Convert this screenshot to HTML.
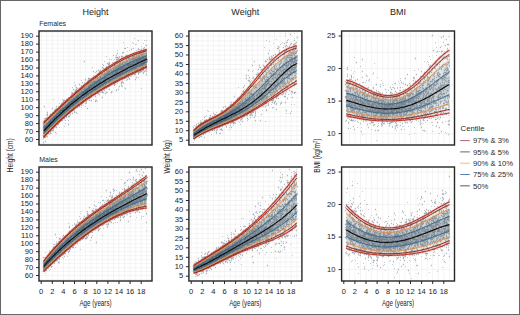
<!DOCTYPE html>
<html><head><meta charset="utf-8"><style>
html,body{margin:0;padding:0;background:#fff;}
body{width:520px;height:315px;overflow:hidden;font-family:"Liberation Sans",sans-serif;}
.wrap{position:relative;width:518px;height:313px;border:1px solid #666;background:#fff;}
svg{position:absolute;left:-1px;top:-1px;}
</style></head><body><div class="wrap">
<svg width="520" height="315" viewBox="0 0 520 315" xmlns="http://www.w3.org/2000/svg">
<path d="M41.2 31V145M46.8 31V145M52.3 31V145M57.9 31V145M63.4 31V145M69 31V145M74.5 31V145M80.1 31V145M85.6 31V145M91.2 31V145M96.8 31V145M102.3 31V145M107.9 31V145M113.4 31V145M119 31V145M124.5 31V145M130.1 31V145M135.7 31V145M141.2 31V145M146.8 31V145M39 143.5H152M39 139.5H152M39 135.5H152M39 131.6H152M39 127.6H152M39 123.6H152M39 119.6H152M39 115.7H152M39 111.7H152M39 107.7H152M39 103.7H152M39 99.8H152M39 95.8H152M39 91.8H152M39 87.9H152M39 83.9H152M39 79.9H152M39 75.9H152M39 72H152M39 68H152M39 64H152M39 60H152M39 56.1H152M39 52.1H152M39 48.1H152M39 44.1H152M39 40.2H152M39 36.2H152M39 32.2H152" stroke="#ebebeb" stroke-width="0.55" fill="none"/>
<path d="M191.2 31V145M196.8 31V145M202.3 31V145M207.9 31V145M213.4 31V145M219 31V145M224.5 31V145M230.1 31V145M235.6 31V145M241.2 31V145M246.8 31V145M252.3 31V145M257.9 31V145M263.4 31V145M269 31V145M274.5 31V145M280.1 31V145M285.7 31V145M291.2 31V145M296.8 31V145M188.9 144.9H301.9M188.9 140.2H301.9M188.9 135.5H301.9M188.9 130.7H301.9M188.9 126H301.9M188.9 121.3H301.9M188.9 116.5H301.9M188.9 111.8H301.9M188.9 107.1H301.9M188.9 102.3H301.9M188.9 97.6H301.9M188.9 92.9H301.9M188.9 88.2H301.9M188.9 83.4H301.9M188.9 78.7H301.9M188.9 74H301.9M188.9 69.2H301.9M188.9 64.5H301.9M188.9 59.8H301.9M188.9 55H301.9M188.9 50.3H301.9M188.9 45.6H301.9M188.9 40.8H301.9M188.9 36.1H301.9M188.9 31.4H301.9" stroke="#ebebeb" stroke-width="0.55" fill="none"/>
<path d="M343.8 31V145M349.4 31V145M354.9 31V145M360.5 31V145M366 31V145M371.6 31V145M377.1 31V145M382.7 31V145M388.2 31V145M393.8 31V145M399.4 31V145M404.9 31V145M410.5 31V145M416 31V145M421.6 31V145M427.1 31V145M432.7 31V145M438.3 31V145M443.8 31V145M449.4 31V145M341.6 133.6H454.5M341.6 117.3H454.5M341.6 101.1H454.5M341.6 84.8H454.5M341.6 68.5H454.5M341.6 52.3H454.5M341.6 36H454.5" stroke="#ebebeb" stroke-width="0.55" fill="none"/>
<path d="M41.2 167V281M46.8 167V281M52.3 167V281M57.9 167V281M63.4 167V281M69 167V281M74.5 167V281M80.1 167V281M85.6 167V281M91.2 167V281M96.8 167V281M102.3 167V281M107.9 167V281M113.4 167V281M119 167V281M124.5 167V281M130.1 167V281M135.7 167V281M141.2 167V281M146.8 167V281M39 279.5H152M39 275.5H152M39 271.5H152M39 267.6H152M39 263.6H152M39 259.6H152M39 255.6H152M39 251.7H152M39 247.7H152M39 243.7H152M39 239.7H152M39 235.8H152M39 231.8H152M39 227.8H152M39 223.9H152M39 219.9H152M39 215.9H152M39 211.9H152M39 208H152M39 204H152M39 200H152M39 196H152M39 192.1H152M39 188.1H152M39 184.1H152M39 180.1H152M39 176.2H152M39 172.2H152M39 168.2H152" stroke="#ebebeb" stroke-width="0.55" fill="none"/>
<path d="M191.2 167V281M196.8 167V281M202.3 167V281M207.9 167V281M213.4 167V281M219 167V281M224.5 167V281M230.1 167V281M235.6 167V281M241.2 167V281M246.8 167V281M252.3 167V281M257.9 167V281M263.4 167V281M269 167V281M274.5 167V281M280.1 167V281M285.7 167V281M291.2 167V281M296.8 167V281M188.9 280.9H301.9M188.9 276.2H301.9M188.9 271.5H301.9M188.9 266.7H301.9M188.9 262H301.9M188.9 257.3H301.9M188.9 252.5H301.9M188.9 247.8H301.9M188.9 243.1H301.9M188.9 238.3H301.9M188.9 233.6H301.9M188.9 228.9H301.9M188.9 224.2H301.9M188.9 219.4H301.9M188.9 214.7H301.9M188.9 210H301.9M188.9 205.2H301.9M188.9 200.5H301.9M188.9 195.8H301.9M188.9 191H301.9M188.9 186.3H301.9M188.9 181.6H301.9M188.9 176.8H301.9M188.9 172.1H301.9M188.9 167.4H301.9" stroke="#ebebeb" stroke-width="0.55" fill="none"/>
<path d="M343.8 167V281M349.4 167V281M354.9 167V281M360.5 167V281M366 167V281M371.6 167V281M377.1 167V281M382.7 167V281M388.2 167V281M393.8 167V281M399.4 167V281M404.9 167V281M410.5 167V281M416 167V281M421.6 167V281M427.1 167V281M432.7 167V281M438.3 167V281M443.8 167V281M449.4 167V281M341.6 269.6H454.5M341.6 253.3H454.5M341.6 237.1H454.5M341.6 220.8H454.5M341.6 204.5H454.5M341.6 188.3H454.5M341.6 172H454.5" stroke="#ebebeb" stroke-width="0.55" fill="none"/>
<linearGradient id="g0097" gradientUnits="userSpaceOnUse" x1="43.7" y1="0" x2="146.8" y2="0"><stop offset="0.000" stop-color="#2c4555" stop-opacity="0.207"/><stop offset="0.073" stop-color="#2c4555" stop-opacity="0.219"/><stop offset="0.145" stop-color="#2c4555" stop-opacity="0.223"/><stop offset="0.218" stop-color="#2c4555" stop-opacity="0.220"/><stop offset="0.291" stop-color="#2c4555" stop-opacity="0.212"/><stop offset="0.364" stop-color="#2c4555" stop-opacity="0.201"/><stop offset="0.436" stop-color="#2c4555" stop-opacity="0.190"/><stop offset="0.509" stop-color="#2c4555" stop-opacity="0.179"/><stop offset="0.582" stop-color="#2c4555" stop-opacity="0.170"/><stop offset="0.655" stop-color="#2c4555" stop-opacity="0.164"/><stop offset="0.727" stop-color="#2c4555" stop-opacity="0.160"/><stop offset="0.800" stop-color="#2c4555" stop-opacity="0.159"/><stop offset="0.873" stop-color="#2c4555" stop-opacity="0.162"/><stop offset="0.945" stop-color="#2c4555" stop-opacity="0.170"/></linearGradient>
<path d="M43.7 122.1 45.6 120.3 47.4 118.5 49.3 116.8 51.2 115 53.1 113.2 54.9 111.4 56.8 109.7 58.7 107.9 60.6 106.2 62.4 104.4 64.3 102.7 66.2 101 68.1 99.2 69.9 97.6 71.8 95.9 73.7 94.2 75.6 92.5 77.4 90.9 79.3 89.3 81.2 87.7 83.1 86.1 84.9 84.5 86.8 83 88.7 81.4 90.5 79.9 92.4 78.5 94.3 77 96.2 75.6 98 74.2 99.9 72.8 101.8 71.4 103.7 70.1 105.5 68.8 107.4 67.5 109.3 66.3 111.2 65.1 113 63.9 114.9 62.8 116.8 61.7 118.7 60.7 120.5 59.6 122.4 58.6 124.3 57.7 126.2 56.8 128 55.9 129.9 55.1 131.8 54.3 133.6 53.5 135.5 52.8 137.4 52.2 139.3 51.6 141.1 51 143 50.5 144.9 50 146.8 49.6 146.8 67.3 144.9 68.1 143 69 141.1 69.8 139.3 70.7 137.4 71.6 135.5 72.4 133.6 73.3 131.8 74.2 129.9 75.1 128 76 126.2 76.9 124.3 77.9 122.4 78.8 120.5 79.7 118.7 80.7 116.8 81.7 114.9 82.7 113 83.7 111.2 84.7 109.3 85.7 107.4 86.7 105.5 87.8 103.7 88.9 101.8 90 99.9 91.1 98 92.3 96.2 93.4 94.3 94.6 92.4 95.8 90.5 97.1 88.7 98.3 86.8 99.6 84.9 100.9 83.1 102.2 81.2 103.6 79.3 105 77.4 106.4 75.6 107.8 73.7 109.3 71.8 110.8 69.9 112.3 68.1 113.9 66.2 115.5 64.3 117.2 62.4 118.8 60.6 120.5 58.7 122.3 56.8 124 54.9 125.8 53.1 127.7 51.2 129.6 49.3 131.5 47.4 133.5 45.6 135.5 43.7 137.5 Z" fill="url(#g0097)"/>
<linearGradient id="g0090" gradientUnits="userSpaceOnUse" x1="43.7" y1="0" x2="146.8" y2="0"><stop offset="0.000" stop-color="#2c4555" stop-opacity="0.332"/><stop offset="0.073" stop-color="#2c4555" stop-opacity="0.350"/><stop offset="0.145" stop-color="#2c4555" stop-opacity="0.356"/><stop offset="0.218" stop-color="#2c4555" stop-opacity="0.351"/><stop offset="0.291" stop-color="#2c4555" stop-opacity="0.338"/><stop offset="0.364" stop-color="#2c4555" stop-opacity="0.321"/><stop offset="0.436" stop-color="#2c4555" stop-opacity="0.303"/><stop offset="0.509" stop-color="#2c4555" stop-opacity="0.286"/><stop offset="0.582" stop-color="#2c4555" stop-opacity="0.272"/><stop offset="0.655" stop-color="#2c4555" stop-opacity="0.262"/><stop offset="0.727" stop-color="#2c4555" stop-opacity="0.255"/><stop offset="0.800" stop-color="#2c4555" stop-opacity="0.254"/><stop offset="0.873" stop-color="#2c4555" stop-opacity="0.259"/><stop offset="0.945" stop-color="#2c4555" stop-opacity="0.272"/></linearGradient>
<path d="M43.7 125 45.6 123.1 47.4 121.2 49.3 119.4 51.2 117.5 53.1 115.7 54.9 113.9 56.8 112.1 58.7 110.3 60.6 108.6 62.4 106.8 64.3 105.1 66.2 103.4 68.1 101.7 69.9 100.1 71.8 98.4 73.7 96.8 75.6 95.2 77.4 93.6 79.3 92 81.2 90.5 83.1 88.9 84.9 87.4 86.8 85.9 88.7 84.5 90.5 83.1 92.4 81.6 94.3 80.3 96.2 78.9 98 77.5 99.9 76.2 101.8 74.9 103.7 73.7 105.5 72.4 107.4 71.2 109.3 70 111.2 68.9 113 67.8 114.9 66.7 116.8 65.6 118.7 64.5 120.5 63.5 122.4 62.5 124.3 61.6 126.2 60.7 128 59.8 129.9 58.9 131.8 58.1 133.6 57.3 135.5 56.5 137.4 55.8 139.3 55.1 141.1 54.4 143 53.8 144.9 53.2 146.8 52.6 146.8 64.7 144.9 65.5 143 66.4 141.1 67.3 139.3 68.1 137.4 69 135.5 69.9 133.6 70.8 131.8 71.7 129.9 72.6 128 73.5 126.2 74.4 124.3 75.3 122.4 76.3 120.5 77.2 118.7 78.2 116.8 79.2 114.9 80.2 113 81.2 111.2 82.2 109.3 83.3 107.4 84.3 105.5 85.4 103.7 86.5 101.8 87.6 99.9 88.7 98 89.9 96.2 91.1 94.3 92.3 92.4 93.5 90.5 94.7 88.7 96 86.8 97.3 84.9 98.6 83.1 99.9 81.2 101.3 79.3 102.7 77.4 104.1 75.6 105.6 73.7 107.1 71.8 108.6 69.9 110.1 68.1 111.7 66.2 113.3 64.3 115 62.4 116.7 60.6 118.4 58.7 120.1 56.8 121.9 54.9 123.7 53.1 125.6 51.2 127.5 49.3 129.4 47.4 131.4 45.6 133.4 43.7 135.5 Z" fill="url(#g0090)"/>
<linearGradient id="g0075" gradientUnits="userSpaceOnUse" x1="43.7" y1="0" x2="146.8" y2="0"><stop offset="0.000" stop-color="#2c4555" stop-opacity="0.415"/><stop offset="0.073" stop-color="#2c4555" stop-opacity="0.438"/><stop offset="0.145" stop-color="#2c4555" stop-opacity="0.446"/><stop offset="0.218" stop-color="#2c4555" stop-opacity="0.439"/><stop offset="0.291" stop-color="#2c4555" stop-opacity="0.423"/><stop offset="0.364" stop-color="#2c4555" stop-opacity="0.402"/><stop offset="0.436" stop-color="#2c4555" stop-opacity="0.379"/><stop offset="0.509" stop-color="#2c4555" stop-opacity="0.358"/><stop offset="0.582" stop-color="#2c4555" stop-opacity="0.340"/><stop offset="0.655" stop-color="#2c4555" stop-opacity="0.327"/><stop offset="0.727" stop-color="#2c4555" stop-opacity="0.319"/><stop offset="0.800" stop-color="#2c4555" stop-opacity="0.317"/><stop offset="0.873" stop-color="#2c4555" stop-opacity="0.323"/><stop offset="0.945" stop-color="#2c4555" stop-opacity="0.339"/></linearGradient>
<path d="M43.7 127.9 45.6 125.9 47.4 124 49.3 122 51.2 120.1 53.1 118.3 54.9 116.4 56.8 114.6 58.7 112.8 60.6 111 62.4 109.3 64.3 107.6 66.2 105.9 68.1 104.2 69.9 102.6 71.8 101 73.7 99.4 75.6 97.8 77.4 96.3 79.3 94.8 81.2 93.3 83.1 91.8 84.9 90.4 86.8 89 88.7 87.6 90.5 86.2 92.4 84.9 94.3 83.5 96.2 82.2 98 81 99.9 79.7 101.8 78.5 103.7 77.3 105.5 76.1 107.4 75 109.3 73.8 111.2 72.7 113 71.6 114.9 70.6 116.8 69.5 118.7 68.5 120.5 67.5 122.4 66.5 124.3 65.5 126.2 64.6 128 63.7 129.9 62.8 131.8 61.9 133.6 61.1 135.5 60.3 137.4 59.4 139.3 58.7 141.1 57.9 143 57.1 144.9 56.4 146.8 55.7 146.8 62 144.9 62.9 143 63.8 141.1 64.6 139.3 65.5 137.4 66.4 135.5 67.3 133.6 68.2 131.8 69.1 129.9 70 128 70.9 126.2 71.8 124.3 72.8 122.4 73.7 120.5 74.7 118.7 75.7 116.8 76.7 114.9 77.7 113 78.7 111.2 79.7 109.3 80.8 107.4 81.8 105.5 82.9 103.7 84 101.8 85.2 99.9 86.3 98 87.5 96.2 88.7 94.3 89.9 92.4 91.1 90.5 92.3 88.7 93.6 86.8 94.9 84.9 96.3 83.1 97.6 81.2 99 79.3 100.4 77.4 101.9 75.6 103.3 73.7 104.8 71.8 106.3 69.9 107.9 68.1 109.5 66.2 111.1 64.3 112.8 62.4 114.5 60.6 116.2 58.7 118 56.8 119.8 54.9 121.6 53.1 123.5 51.2 125.4 49.3 127.3 47.4 129.3 45.6 131.4 43.7 133.4 Z" fill="url(#g0075)"/>
<path d="M108 85h1M136 70h1M123 64h1M66 99h1M74 98h1M134 59h1M43 122h1M128 67h1M126 59h1M91 81h1M74 105h1M72 100h1M69 105h1M89 93h1M95 89h1M100 80h1M146 59h1M125 63h1M107 86h1M146 64h1M65 104h1M59 114h1M106 82h1M47 128h1M46 134h1M96 91h1M91 85h1M138 62h1M108 69h1M96 86h1M94 87h1M68 124h1M44 130h1M63 102h1M115 70h1M64 111h1M81 89h1M43 126h1M129 64h1M59 116h1M71 103h1M134 54h1M96 89h1M131 62h1M109 74h1M120 62h1M52 115h1M99 88h1M96 76h1M133 64h1M80 99h1M105 76h1M49 125h1M83 88h1M76 105h1M58 119h1M128 69h1M82 86h1M145 49h1M104 85h1M106 92h1M109 79h1M113 81h1M58 112h1M89 89h1M68 106h1M85 95h1M53 114h1M143 64h1M65 114h1M113 67h1M74 95h1M134 66h1M112 71h1M56 106h1M131 70h1M141 62h1M137 60h1M102 97h1M58 116h1M63 108h1M139 63h1M100 76h1M61 109h1M135 66h1M109 73h1M102 79h1M82 102h1M85 96h1M68 110h1M47 129h1M134 67h1M91 94h1M100 83h1M76 112h1M121 64h1M45 127h1M81 88h1M46 126h1M55 120h1M143 67h1M111 72h1M87 91h1M97 82h1M134 56h1M79 92h1M104 80h1M114 63h1M80 97h1M97 85h1M122 66h1M137 52h1M58 109h1M140 70h1M43 124h1M121 83h1M127 71h1M57 115h1M86 86h1M128 72h1M44 136h1M108 72h1M125 67h1M96 90h1M118 74h1M66 116h1M63 108h1M80 98h1M61 107h1M79 106h1M141 56h1M102 67h1M78 97h1M71 103h1M142 70h1M89 88h1M145 59h1M96 88h1M97 91h1M136 63h1M120 76h1M103 83h1M87 90h1M134 65h1M86 92h1M139 52h1M50 131h1M87 83h1M97 90h1M142 65h1M69 105h1M127 63h1M113 74h1M117 75h1M108 81h1M144 61h1M77 105h1M84 90h1M64 111h1M48 118h1M65 112h1M138 63h1M130 63h1M54 123h1M106 82h1M93 71h1M105 80h1M111 66h1M75 105h1M143 72h1M91 83h1M108 78h1M109 75h1M62 114h1M49 127h1M86 98h1M122 63h1M128 75h1M119 66h1M54 120h1M138 72h1M126 71h1M134 58h1M97 80h1M138 59h1M48 125h1M46 132h1M45 122h1M69 107h1M69 108h1M62 115h1M102 84h1M47 132h1M104 82h1M60 119h1M113 78h1M45 135h1M75 85h1M140 67h1M99 82h1M127 64h1M111 70h1M106 67h1M63 109h1M102 77h1M47 129h1M126 58h1M143 67h1M132 67h1M48 124h1M78 95h1M76 96h1M54 110h1M108 74h1M126 68h1M75 99h1M133 56h1M126 67h1M56 113h1M123 71h1M135 73h1M63 113h1M102 79h1M109 66h1M106 70h1M53 113h1M112 79h1M108 73h1M128 67h1M126 64h1M77 99h1M118 79h1M133 60h1M136 61h1M59 110h1M45 131h1M110 70h1M65 104h1M101 73h1M141 52h1M82 97h1M69 116h1M90 80h1M111 80h1M53 121h1M82 89h1M57 115h1M112 74h1M129 62h1M82 103h1M81 86h1M99 85h1M65 110h1M68 103h1M77 99h1M90 93h1M51 123h1M121 73h1M103 84h1M74 92h1M51 128h1M122 81h1M56 121h1M57 121h1M56 111h1M51 122h1M137 58h1M71 101h1M75 105h1M129 61h1M107 78h1M62 103h1M88 90h1M135 65h1M82 92h1M117 68h1M53 128h1M118 64h1M124 62h1M129 61h1M113 81h1M81 104h1M49 125h1M97 80h1M122 68h1M63 115h1M70 100h1M98 90h1M121 77h1M136 64h1M56 120h1M62 115h1M126 75h1M110 70h1M118 78h1M146 56h1M140 53h1M130 67h1M124 68h1M84 88h1M109 66h1M62 107h1M122 82h1M122 86h1M118 75h1M89 98h1M82 92h1M86 91h1M46 128h1M131 59h1M99 73h1M83 95h1M100 81h1M118 65h1M82 97h1M129 65h1M138 67h1M83 94h1M57 115h1M122 71h1M146 58h1M58 112h1M117 70h1M129 70h1M139 65h1M55 123h1M52 108h1M146 57h1M55 117h1M61 113h1M103 78h1M89 87h1M121 75h1M62 112h1M138 55h1M65 114h1M123 74h1M50 121h1M92 91h1M46 124h1M75 105h1M75 99h1M118 67h1M90 86h1M49 121h1M146 59h1M135 65h1M138 63h1M68 103h1M84 61h1M66 108h1M56 109h1M46 128h1M95 94h1M55 119h1M61 111h1M132 64h1M93 86h1M62 109h1M112 71h1M70 100h1M98 93h1M72 103h1M96 89h1M108 76h1M99 84h1M84 93h1M125 71h1M134 68h1M61 113h1M57 113h1M54 113h1M145 67h1M141 59h1M67 106h1M144 71h1M64 117h1M95 90h1M94 84h1M138 73h1M47 129h1M75 102h1M105 79h1M50 117h1M67 101h1M91 90h1M134 66h1M122 69h1M129 59h1M122 60h1M116 71h1M131 49h1M114 79h1M119 77h1M74 112h1M60 117h1M121 66h1M60 110h1M138 40h1M105 76h1M77 98h1M140 66h1M59 117h1M96 88h1M52 122h1M143 63h1M103 92h1M126 61h1M72 101h1M126 59h1M116 81h1M110 83h1M142 64h1M88 84h1M86 93h1M115 73h1M130 67h1M78 97h1M112 78h1M64 108h1M100 86h1M123 72h1M49 122h1M118 71h1M44 126h1M142 67h1M91 87h1M85 94h1M118 70h1M97 76h1M119 76h1M51 117h1M101 85h1M101 84h1M140 51h1M47 119h1M90 86h1M108 72h1M100 70h1M50 126h1M104 78h1M66 110h1M63 109h1M134 66h1M63 107h1M90 89h1M121 75h1M116 74h1M100 80h1M127 55h1M91 89h1M107 80h1M128 66h1M113 70h1M110 80h1M85 103h1M101 80h1M84 95h1M120 73h1M82 82h1M91 89h1M121 66h1M95 96h1M78 97h1M129 62h1M82 94h1M131 67h1M124 65h1M89 89h1M117 57h1M46 126h1M83 97h1M132 74h1M103 84h1M101 83h1M112 81h1M113 80h1M103 88h1M86 96h1M62 111h1M73 103h1M73 103h1M88 92h1M147 59h1M79 93h1M89 78h1M81 92h1M103 68h1M141 61h1M135 64h1M82 86h1M70 107h1M135 68h1M94 87h1M114 82h1M50 130h1M133 57h1M75 104h1M94 90h1M63 112h1M86 96h1M129 62h1M129 63h1M92 83h1M123 65h1M90 88h1M82 88h1M100 77h1M64 112h1M76 100h1M116 75h1M123 57h1M49 121h1M119 65h1M128 68h1M89 87h1M49 128h1M114 74h1M68 106h1M110 77h1M82 98h1M109 74h1M70 109h1M92 90h1M97 85h1M108 78h1M64 112h1M143 65h1M73 106h1M75 102h1M69 108h1M50 124h1M87 97h1M123 70h1M117 59h1M63 116h1M57 117h1M76 90h1M123 68h1M93 82h1M139 72h1M111 78h1M107 68h1M123 73h1M121 68h1M78 105h1M69 100h1M88 78h1M94 87h1M57 114h1M89 88h1M109 63h1M57 118h1M57 123h1M61 104h1M72 107h1M143 57h1M45 137h1M62 113h1M60 113h1M92 93h1M44 131h1M90 83h1M60 116h1M71 101h1M125 56h1M62 120h1M107 75h1M85 90h1M86 93h1M128 57h1M59 108h1M139 59h1M136 60h1M112 76h1M48 133h1M112 73h1M105 82h1M123 73h1M65 104h1M142 62h1M135 58h1M55 123h1M75 102h1M46 128h1M129 57h1M138 63h1M146 55h1M106 82h1M112 75h1M113 69h1M102 86h1M142 64h1M106 75h1M78 103h1M96 83h1M45 126h1M118 73h1M115 69h1M87 89h1M131 65h1M121 82h1M78 104h1M51 121h1M56 127h1M62 111h1M74 102h1M89 93h1M139 63h1M72 113h1M136 64h1M114 67h1M132 72h1M85 91h1M43 129h1M125 48h1M68 110h1M57 119h1M126 75h1M114 79h1M65 120h1M71 104h1M140 66h1M71 101h1M116 69h1M56 121h1M128 69h1M55 112h1M96 87h1M46 126h1M100 78h1M131 68h1M51 120h1M71 96h1M122 62h1M106 87h1M75 93h1M108 79h1M90 92h1M132 68h1M73 96h1M122 68h1M109 78h1M120 75h1M82 92h1M118 64h1M115 78h1M83 99h1M45 131h1M143 57h1M117 75h1M64 110h1M119 78h1M72 97h1M92 89h1M132 63h1M89 84h1M73 103h1M74 101h1M51 121h1M66 110h1M71 97h1M61 112h1M49 126h1M91 90h1M65 113h1M120 63h1M139 53h1M71 104h1M102 85h1M95 101h1M50 125h1M56 114h1M135 68h1M92 83h1M126 58h1M50 133h1M105 81h1M133 68h1M133 67h1M43 142h1M97 87h1M81 104h1M122 63h1M50 117h1M70 110h1M127 74h1M92 90h1M90 91h1M144 61h1M76 96h1M47 132h1M84 97h1M59 117h1M51 123h1M102 86h1M142 63h1M103 84h1M110 69h1M76 101h1M102 91h1M121 67h1M104 79h1M126 72h1M100 87h1M63 113h1M103 70h1M94 89h1M60 105h1M107 73h1M128 70h1M57 115h1M99 87h1M119 86h1M85 96h1M71 109h1M81 91h1M99 79h1M114 67h1M101 79h1M54 114h1M128 63h1M139 61h1M53 115h1M69 99h1M61 107h1M131 68h1M137 63h1M47 130h1M77 103h1M63 109h1M92 91h1M139 53h1M50 132h1M60 118h1M93 86h1M97 77h1M120 73h1M88 80h1M57 112h1M79 100h1M145 60h1M121 67h1M55 122h1M127 61h1M75 101h1M124 66h1M44 125h1M133 67h1M60 109h1M90 97h1M112 72h1M96 100h1M60 109h1M57 118h1M72 97h1M48 119h1M65 109h1M56 120h1M91 81h1M80 101h1M104 75h1M72 103h1M46 129h1M77 101h1M121 58h1M69 111h1M85 95h1M121 68h1M85 87h1M135 53h1M138 54h1M75 103h1M119 69h1M69 100h1M57 114h1M88 97h1M105 77h1M140 58h1M58 124h1M117 77h1M92 88h1M56 114h1M144 51h1M115 66h1M56 113h1M137 62h1M53 121h1M52 123h1M77 100h1M140 62h1M46 122h1M138 49h1M106 75h1M50 119h1M102 77h1M90 87h1M101 74h1M119 64h1M113 74h1M147 59h1M59 111h1M127 70h1M85 91h1M124 62h1M136 64h1M146 74h1M70 101h1M90 94h1M141 68h1M141 68h1M81 91h1M141 71h1M85 93h1M82 94h1M121 69h1M92 91h1M89 90h1M83 93h1M88 96h1M57 111h1M49 119h1M121 74h1M101 85h1M113 80h1M126 55h1M67 112h1M67 109h1M72 110h1M74 95h1M122 72h1M82 94h1M76 92h1M109 73h1M62 116h1M54 117h1M115 69h1M121 75h1M74 106h1M109 82h1M46 123h1M85 93h1M103 85h1M69 102h1M79 94h1M106 83h1M104 87h1M59 110h1M116 55h1M51 116h1M144 50h1M64 109h1M69 108h1M64 109h1M146 55h1M73 103h1M106 73h1M146 59h1M142 57h1M47 136h1M97 88h1M105 74h1M116 67h1M78 95h1M77 91h1M43 127h1M46 124h1M100 87h1M51 119h1M64 106h1M77 92h1M50 118h1M46 127h1M139 61h1M88 95h1M64 107h1M116 78h1M44 132h1M68 106h1M143 48h1M136 55h1M109 81h1M52 126h1M76 101h1M46 131h1M65 107h1M45 126h1M56 114h1M109 82h1M53 121h1M59 113h1M137 61h1M78 101h1M77 100h1M52 118h1M126 76h1M113 76h1M100 83h1M107 85h1M53 124h1M70 104h1M103 83h1M142 54h1M128 63h1M109 62h1M97 90h1M44 120h1M135 67h1M50 120h1M56 113h1M115 72h1M127 70h1M125 72h1M90 97h1M61 114h1M46 130h1M131 62h1M144 63h1M68 107h1M133 62h1M85 92h1M75 100h1M95 87h1M43 133h1M89 87h1M63 105h1M117 76h1M95 76h1M133 61h1M136 71h1M76 87h1M72 100h1M140 65h1M95 76h1M53 130h1M47 114h1M146 66h1M103 88h1M48 128h1M96 84h1M95 87h1M88 86h1M142 67h1M141 49h1M56 116h1M58 119h1M85 87h1M130 64h1M108 79h1M119 63h1M103 86h1M65 111h1M128 57h1M44 129h1M115 68h1M63 108h1M92 88h1M144 55h1M99 91h1M49 121h1M87 95h1M111 76h1M49 128h1M69 103h1M45 127h1M99 76h1M82 97h1M95 90h1M73 110h1M111 82h1M61 114h1M137 62h1M143 62h1M94 86h1M91 95h1M132 70h1M73 98h1M126 63h1M73 108h1M118 74h1M77 97h1M105 85h1M139 60h1M48 124h1M127 65h1M99 71h1M82 98h1M79 91h1M50 121h1M70 101h1M108 81h1M53 120h1M112 76h1M143 50h1M145 59h1M135 54h1M127 69h1M61 115h1M144 60h1M64 118h1M133 67h1M134 67h1M107 79h1M97 83h1M64 114h1M97 90h1M73 96h1M56 121h1M56 119h1M126 73h1M139 64h1M57 110h1M44 124h1M70 112h1M57 118h1M62 105h1M103 82h1M87 90h1M87 81h1M64 100h1M112 65h1M73 103h1M84 93h1M91 87h1M137 64h1M68 108h1M118 58h1M75 99h1M136 54h1M84 87h1M95 82h1M134 64h1M113 72h1M52 114h1M57 114h1M146 68h1M46 123h1M74 93h1M143 62h1M44 132h1M59 116h1M65 104h1M52 128h1M92 84h1M104 73h1M76 97h1M54 119h1M127 71h1M126 71h1M101 82h1M57 120h1M99 84h1M108 82h1M87 84h1M133 54h1M83 97h1M96 71h1M55 117h1M101 81h1M122 67h1M119 69h1M69 110h1M146 45h1M118 77h1M87 108h1M86 92h1M124 69h1M61 115h1M109 85h1M118 64h1M96 86h1M134 63h1M91 91h1M91 90h1M72 105h1M138 60h1M76 100h1M115 69h1M85 89h1M140 61h1M141 60h1M46 122h1M146 71h1M106 78h1M50 116h1M94 91h1M48 122h1M100 85h1M62 111h1M81 97h1M74 102h1M105 76h1M128 67h1M140 71h1M77 88h1M102 82h1M43 132h1M81 90h1M143 52h1M55 132h1M133 62h1M111 92h1M73 104h1M124 70h1M73 104h1M136 68h1M51 126h1M55 120h1M121 72h1M89 90h1M58 120h1M96 91h1M74 97h1M100 76h1M120 73h1M132 61h1M49 122h1M104 74h1M145 58h1M91 91h1M123 74h1M53 120h1M134 74h1M103 80h1M135 79h1M125 77h1M133 69h1M49 122h1M117 53h1M63 110h1M70 105h1M76 112h1M104 71h1M108 86h1M140 59h1M44 134h1M63 100h1M80 97h1M128 65h1M100 86h1M96 86h1M122 62h1M111 81h1M73 105h1M52 124h1M91 93h1M134 69h1M105 80h1M48 119h1M88 83h1M83 100h1M103 84h1M104 81h1M142 58h1M78 98h1M85 93h1M107 77h1M135 59h1M116 90h1M92 89h1M128 63h1M93 80h1M143 56h1M72 106h1M56 120h1M129 65h1M74 102h1M131 64h1M106 67h1M96 91h1M52 123h1M125 88h1M50 120h1M143 59h1M134 68h1M74 99h1M56 111h1M135 53h1M93 88h1M56 119h1M95 86h1M68 113h1M85 100h1M109 80h1M138 63h1M126 67h1M59 116h1M92 92h1M94 87h1M146 61h1M52 120h1M96 77h1M138 56h1M84 97h1M70 106h1M101 89h1M76 100h1M139 66h1M51 127h1M64 113h1M51 119h1M117 72h1M73 103h1M136 57h1M136 67h1M140 66h1M69 103h1M43 138h1M83 93h1M143 59h1M122 69h1M49 121h1M116 75h1M138 62h1M143 73h1M117 77h1M133 68h1M130 65h1M80 89h1M53 120h1M118 66h1M57 122h1M83 94h1M146 66h1M101 85h1M97 88h1M141 62h1M72 103h1M147 61h1M138 67h1M81 90h1M77 101h1M56 127h1M138 62h1M62 110h1M44 127h1M135 54h1M105 85h1M113 76h1M119 73h1M47 133h1M52 130h1M95 81h1M48 129h1M95 88h1M119 74h1M111 78h1M107 78h1M47 132h1M67 109h1M136 65h1M55 126h1M98 88h1M48 127h1M140 63h1M61 120h1M85 95h1M100 82h1M118 67h1M140 59h1M119 64h1M79 98h1M50 124h1M116 59h1M144 60h1M44 132h1M123 70h1M61 108h1M91 94h1M97 80h1M107 71h1M146 53h1M114 74h1M84 98h1M117 78h1M91 89h1M86 86h1M81 93h1M94 81h1M72 102h1M68 98h1M58 116h1M89 93h1M73 101h1M130 69h1M131 59h1M78 90h1M107 74h1M137 68h1M80 101h1M100 80h1M89 95h1M110 74h1M143 67h1M57 118h1M143 57h1M112 79h1M126 63h1M109 71h1M133 48h1M77 101h1M116 73h1M70 104h1M96 83h1M114 81h1M64 108h1M49 121h1M125 74h1M127 74h1M112 77h1M76 91h1M111 72h1M51 126h1M112 76h1M103 88h1M107 70h1M89 93h1M66 105h1M118 78h1M91 88h1M120 76h1M81 93h1M52 115h1M99 76h1M108 74h1M139 56h1M135 69h1M49 130h1M123 71h1M70 100h1M115 73h1M82 89h1M76 105h1M94 88h1M98 88h1M115 71h1M109 64h1M113 70h1M83 85h1M113 77h1M79 98h1M106 74h1M91 87h1M101 89h1M44 124h1M95 81h1M66 107h1M83 91h1M50 121h1M111 79h1M136 77h1M80 88h1M54 119h1M107 79h1M56 117h1M136 62h1M55 116h1M80 100h1M94 84h1M55 118h1M76 100h1M71 104h1M117 72h1M145 67h1M80 96h1M125 70h1M57 116h1M103 74h1M88 86h1M73 97h1M128 68h1M120 66h1M57 112h1M73 103h1M128 70h1M146 49h1M106 86h1M133 65h1M145 59h1M120 76h1M110 77h1M66 105h1M81 105h1M108 71h1M139 61h1M74 107h1M84 88h1M45 128h1M115 76h1M89 100h1M126 58h1M67 107h1M111 81h1M113 76h1M91 82h1M62 113h1M85 93h1M120 73h1M62 116h1M52 125h1M91 90h1M67 108h1M126 61h1M128 66h1M141 62h1M130 64h1M110 77h1M62 108h1M128 74h1M118 89h1M120 68h1M115 76h1M129 65h1M74 106h1M113 77h1M97 85h1M78 97h1M77 100h1M59 110h1M94 92h1M81 92h1M87 95h1M131 66h1M114 80h1M114 75h1M145 64h1M65 104h1M96 88h1M52 120h1M84 95h1M142 61h1M52 125h1M122 56h1M133 66h1M96 77h1M126 74h1M89 79h1M79 92h1M95 76h1M63 117h1M75 90h1M74 101h1M146 54h1M78 90h1M66 106h1M141 64h1M57 115h1M143 64h1M132 63h1M110 77h1M87 89h1M63 112h1M54 127h1M53 121h1M79 98h1M85 89h1M139 57h1M99 94h1M146 53h1M118 66h1M58 115h1M100 78h1M59 122h1M47 115h1M141 63h1M78 103h1M62 103h1M53 117h1M111 78h1M91 100h1M44 122h1M117 62h1M69 112h1M124 76h1M94 84h1M98 70h1M90 95h1M113 74h1M146 64h1M126 68h1M50 122h1M94 82h1M67 113h1M53 125h1M63 101h1M68 102h1M143 69h1M120 69h1M132 56h1M115 74h1M76 99h1M83 93h1M89 88h1M73 100h1M87 89h1M123 71h1M51 119h1M71 102h1M93 87h1M113 81h1M110 79h1M118 72h1M54 122h1M61 114h1M75 105h1M72 105h1M121 79h1M146 65h1M114 74h1M46 125h1M74 105h1M126 71h1M139 61h1M105 70h1M79 88h1M80 98h1M109 81h1M133 69h1M78 92h1M63 115h1M43 128h1M57 118h1M131 68h1M108 73h1M146 56h1M50 114h1M81 91h1M126 56h1M112 78h1M50 124h1M84 97h1M109 79h1M114 70h1M90 91h1M62 110h1M143 65h1M91 90h1M117 66h1M98 84h1M51 122h1M67 105h1M49 127h1M63 118h1M63 109h1M86 90h1M76 89h1M80 95h1M128 64h1M45 118h1M53 121h1M127 71h1M98 79h1M88 88h1M70 100h1M99 89h1M66 101h1M132 63h1M128 76h1M76 100h1M45 130h1M135 63h1M74 96h1M111 76h1M132 67h1M126 61h1M132 67h1M94 92h1M130 71h1M91 80h1M70 100h1M93 78h1M78 103h1M123 73h1M129 70h1M57 112h1M60 108h1M83 95h1M91 89h1M142 55h1M141 62h1M143 63h1M119 73h1M113 68h1M71 94h1M81 94h1M43 132h1M129 65h1M71 101h1M51 119h1M76 103h1M76 99h1M118 73h1M43 126h1M67 105h1M136 65h1M132 59h1M108 64h1M101 80h1M66 113h1M134 65h1M122 77h1M96 84h1M59 112h1M65 103h1M82 92h1M77 104h1M49 126h1M85 96h1M89 93h1M73 102h1M83 93h1M77 99h1M82 98h1M107 80h1M94 88h1M63 111h1M125 63h1M96 84h1M90 84h1M117 78h1M121 56h1M131 64h1M127 79h1M112 73h1M118 65h1M59 114h1M115 80h1M69 104h1M70 107h1M55 118h1M84 92h1M45 141h1M111 77h1M121 67h1M123 66h1M56 119h1M109 79h1M130 70h1M46 128h1M63 104h1M71 106h1M91 87h1M61 112h1M99 74h1M78 95h1M111 71h1M98 84h1M114 64h1M68 106h1M116 74h1M119 64h1M118 68h1M50 119h1M141 65h1M103 65h1M71 102h1M88 82h1M97 82h1M97 89h1M68 101h1M70 105h1M81 92h1M124 78h1M88 94h1M47 131h1M90 82h1M64 105h1M44 134h1M144 58h1M73 101h1M99 85h1M80 90h1M48 128h1M136 63h1M140 64h1M62 108h1M86 94h1M82 92h1M60 117h1M112 81h1M124 73h1M122 74h1M113 78h1M44 106h1M67 111h1M96 82h1M116 74h1M83 93h1M89 82h1M130 63h1M45 131h1M71 110h1M73 99h1M146 54h1M66 117h1M48 122h1M86 101h1M110 77h1M59 111h1M130 71h1M63 117h1M116 57h1M60 120h1M134 62h1M64 116h1M119 69h1M130 55h1M69 107h1M52 124h1M104 90h1M95 94h1M93 90h1M124 68h1M91 86h1M94 85h1M93 79h1M90 88h1M85 79h1M59 115h1M73 101h1M70 114h1M68 111h1M124 66h1M55 121h1M64 104h1M97 81h1M75 91h1M68 116h1M82 98h1M95 79h1M113 75h1M144 64h1M131 68h1M87 93h1M90 85h1M86 89h1M68 107h1M142 65h1M50 117h1M64 105h1M112 81h1M104 74h1M72 107h1M140 63h1M85 99h1M105 93h1M52 124h1M135 70h1M53 116h1M84 90h1M135 67h1M141 68h1M137 69h1M129 78h1M67 108h1M46 128h1M90 94h1M49 124h1M143 60h1M43 125h1M77 103h1M64 105h1M44 132h1M95 78h1M51 127h1M136 57h1M114 78h1M81 88h1M130 61h1M126 74h1M77 95h1M131 66h1M139 59h1M107 63h1M79 98h1M136 65h1M141 54h1M79 100h1M52 118h1M133 58h1M112 76h1M67 104h1M102 92h1M75 93h1M138 66h1M78 102h1M63 102h1M47 112h1M78 100h1M146 56h1M65 111h1M90 94h1M144 58h1M43 125h1M73 89h1M128 68h1M53 116h1M139 63h1M130 68h1M58 110h1M104 88h1M101 87h1M115 78h1M75 95h1M83 92h1M68 104h1M73 100h1M61 104h1M137 65h1M135 65h1M80 98h1M115 71h1M94 92h1M72 104h1M79 84h1M143 56h1M78 98h1M103 85h1M141 59h1M74 100h1M127 63h1M55 123h1M119 69h1M127 64h1M130 61h1M144 62h1M117 69h1M144 50h1M72 106h1M97 80h1M65 111h1M51 123h1M88 95h1M118 77h1M124 65h1M44 128h1M141 53h1M68 112h1M73 104h1M129 73h1M136 61h1M119 57h1M77 105h1M91 89h1M130 67h1M80 97h1M127 71h1M124 73h1M91 79h1M136 68h1M83 92h1M121 68h1M109 85h1M77 102h1M98 82h1M106 67h1M99 84h1M54 121h1M146 58h1M143 53h1M47 123h1M141 53h1M98 86h1M56 121h1M128 72h1M88 87h1M117 75h1M129 71h1M99 80h1M48 124h1M128 77h1M115 75h1M137 70h1M71 102h1M124 69h1M134 53h1M80 97h1M85 97h1M77 107h1M43 135h1M67 110h1M77 99h1M54 117h1M122 69h1M87 94h1M102 73h1M72 106h1M80 91h1M121 58h1M92 82h1M105 69h1M87 84h1M101 87h1M136 62h1M71 105h1M97 90h1M114 84h1M52 119h1M143 66h1M95 88h1M68 106h1M122 72h1M128 58h1M108 69h1M138 62h1M52 124h1M98 82h1M120 70h1M138 67h1M109 83h1M105 83h1M83 99h1M102 79h1M100 81h1M137 64h1M129 65h1M119 68h1M139 70h1M50 123h1M123 58h1M91 92h1M121 85h1M73 102h1M91 94h1M129 64h1M46 125h1M73 99h1M94 86h1M131 74h1M71 99h1M128 75h1M68 102h1M74 100h1M100 86h1M111 79h1M134 66h1M134 53h1M69 107h1M120 64h1M109 89h1M83 93h1M123 70h1M136 56h1M93 85h1M138 54h1M56 121h1M60 112h1M122 73h1M74 98h1M104 77h1M94 92h1M58 111h1M121 58h1M120 73h1M58 110h1M70 103h1M126 72h1M138 57h1M133 69h1M95 82h1M81 102h1M89 95h1M61 110h1M94 85h1M67 104h1M60 115h1M82 99h1M49 117h1M92 92h1M115 65h1M111 71h1M144 49h1M135 74h1M109 78h1M136 64h1M89 86h1M126 73h1M72 93h1M98 84h1M145 70h1M105 77h1M95 86h1M125 72h1M75 96h1M129 67h1M45 133h1M67 107h1M61 114h1M69 103h1M141 62h1M45 129h1M74 107h1M102 84h1M116 72h1M123 52h1M83 97h1M66 111h1M131 59h1M55 109h1M49 119h1" stroke="#3d4f60" stroke-opacity="0.45" stroke-width="1.3" transform="translate(-0.15 0.5)"/>
<path d="M111 71h1M123 59h1M140 72h1M84 83h1M121 76h1M74 110h1M93 85h1M134 70h1M144 40h1M141 57h1M122 52h1M131 67h1M135 64h1M106 71h1M68 112h1M44 131h1M122 64h1M122 65h1M119 56h1M103 79h1M111 91h1M117 65h1M98 87h1M111 70h1M66 113h1M98 87h1M108 75h1M102 64h1M69 101h1M56 124h1M111 74h1M54 122h1M125 63h1M62 99h1M123 73h1M80 99h1M137 57h1M66 105h1M59 116h1M113 69h1M123 72h1M79 95h1M92 67h1M112 74h1M73 97h1M83 87h1M102 84h1M74 97h1M58 118h1M137 71h1M55 118h1M145 45h1M131 58h1M89 96h1M132 62h1M49 118h1M101 81h1M79 100h1M74 103h1M136 68h1M47 120h1M132 62h1M51 120h1M113 75h1M72 87h1M98 82h1M139 49h1M126 78h1M53 129h1M74 111h1M93 92h1M117 67h1M43 136h1M133 63h1M130 70h1M142 52h1M64 106h1M65 112h1M129 79h1M96 85h1M68 120h1M65 100h1M113 75h1M119 61h1M80 96h1M138 57h1M96 85h1M97 91h1M84 100h1M85 95h1M80 96h1M129 68h1M89 91h1M67 111h1M88 91h1M139 65h1M109 63h1M54 124h1M86 103h1M91 90h1M44 118h1M143 70h1M138 59h1M53 99h1M100 80h1M75 104h1M65 111h1M71 111h1M48 129h1M114 75h1M81 80h1M116 62h1M128 69h1M102 86h1M78 90h1M57 112h1M111 80h1M113 55h1M124 48h1M57 115h1M47 127h1M134 59h1M106 56h1M52 121h1M117 59h1M49 129h1M108 76h1M100 84h1M117 77h1M52 117h1M137 69h1M141 70h1M145 62h1M122 79h1M75 96h1M145 66h1M107 81h1M117 62h1M112 75h1M64 106h1M132 60h1M110 77h1M66 115h1M82 92h1M58 116h1M88 78h1M146 60h1M83 102h1M84 99h1M126 71h1M51 118h1M55 111h1M120 70h1M56 108h1M106 66h1M128 74h1M101 73h1M51 133h1M64 100h1M99 86h1M142 50h1M111 78h1M115 63h1M105 80h1M77 98h1M106 74h1M44 133h1M86 102h1M127 61h1M64 115h1M110 77h1M118 72h1M59 127h1M132 42h1M68 101h1M143 43h1M79 95h1M106 76h1M141 88h1M128 70h1M93 99h1M63 118h1M107 74h1M104 84h1M49 134h1M82 96h1M139 64h1M97 88h1M62 102h1M110 68h1M90 91h1M138 66h1M94 78h1M45 126h1M59 113h1M61 111h1M142 66h1M80 97h1M79 98h1M144 47h1M64 102h1M107 80h1M141 46h1M137 65h1M59 109h1M92 81h1M69 109h1M116 66h1M68 100h1M61 108h1M71 104h1M56 133h1M117 50h1M72 103h1M84 91h1M71 109h1M82 92h1M74 82h1M79 105h1M116 61h1M61 112h1M114 59h1M79 89h1M52 117h1M55 123h1M136 69h1M47 122h1M71 106h1M133 61h1M51 123h1M65 110h1M71 108h1M130 60h1M55 117h1M141 62h1M55 118h1M102 74h1M123 82h1M101 77h1M96 90h1M88 92h1M69 113h1M146 40h1M85 106h1M109 75h1M103 68h1M143 61h1M68 120h1M59 117h1M136 50h1M96 81h1M109 86h1M108 63h1M124 67h1M130 63h1M116 89h1M43 128h1M130 76h1M47 121h1M132 56h1M43 137h1M123 74h1M109 59h1M45 132h1M121 75h1M103 74h1M55 119h1M134 66h1M104 75h1M91 83h1M141 54h1M64 108h1M61 103h1M136 63h1M59 103h1M128 68h1M65 108h1M127 56h1M85 98h1M107 92h1M106 88h1M84 82h1M97 93h1M110 78h1M57 116h1M138 56h1M128 67h1M64 118h1M66 111h1M84 90h1M123 62h1M96 81h1M75 103h1M123 83h1M63 103h1M116 73h1M121 66h1M53 114h1M102 84h1M105 84h1M144 47h1M74 93h1M91 97h1M140 64h1M56 120h1M136 58h1M81 93h1M78 100h1M146 54h1M83 85h1M68 106h1M64 115h1M115 62h1M109 84h1M68 111h1M94 78h1M72 102h1M130 66h1M80 100h1M107 83h1M138 49h1M68 97h1M142 68h1M93 88h1M109 80h1M71 105h1M115 84h1M118 59h1M104 87h1M132 56h1M92 93h1M44 137h1M138 48h1M102 84h1M107 76h1M105 76h1M47 127h1M73 94h1M52 114h1M110 81h1M132 71h1M111 70h1M127 51h1M77 113h1M46 134h1M85 95h1M60 106h1M74 96h1M68 108h1M61 105h1M114 85h1M105 80h1M128 70h1M145 50h1M67 100h1M140 53h1M123 72h1M101 79h1M144 57h1M96 87h1M46 129h1M56 126h1M75 98h1M115 63h1M102 81h1M114 85h1M45 124h1M68 106h1M100 79h1M111 79h1M88 92h1M65 103h1M75 98h1M122 77h1M117 80h1M68 111h1M142 67h1M47 123h1M67 104h1M88 96h1M126 55h1M102 81h1M113 55h1M142 57h1M81 90h1M62 104h1M85 96h1M101 74h1M57 114h1M47 125h1M118 64h1M146 69h1M140 57h1M82 96h1M90 78h1M129 61h1M145 56h1M80 94h1M142 55h1M115 75h1M58 124h1M90 88h1M43 130h1M85 89h1M97 101h1M126 80h1M77 102h1M110 81h1M112 68h1M97 83h1M107 80h1M91 89h1M106 70h1M91 82h1M138 66h1M54 120h1M133 43h1M120 72h1M44 137h1M118 65h1M80 97h1M95 72h1M97 90h1M119 59h1M93 75h1M109 74h1M65 123h1M50 119h1M112 62h1M146 62h1M51 124h1M138 74h1M83 84h1M111 59h1M70 102h1M115 77h1M88 93h1M125 76h1M71 92h1M77 92h1M108 76h1M54 124h1M144 63h1M106 75h1M144 50h1M61 117h1M117 80h1M64 126h1M51 120h1M89 100h1M92 77h1M101 77h1M91 82h1M63 107h1M114 65h1M70 100h1M73 101h1M124 64h1M114 79h1M118 71h1M139 62h1M131 76h1M66 110h1M144 60h1M97 84h1M101 82h1M72 106h1M83 88h1M101 90h1M46 136h1M118 80h1M79 93h1M115 57h1M119 67h1M107 79h1M50 127h1M101 80h1M80 94h1M117 83h1M117 66h1M95 93h1M119 78h1M58 106h1M128 69h1M144 55h1M136 53h1M127 47h1M85 80h1M140 64h1M101 78h1M65 110h1M99 73h1M131 62h1M113 72h1M129 50h1M46 114h1M144 63h1M139 63h1M95 77h1M139 61h1M62 116h1M81 107h1M60 107h1M112 79h1M138 77h1M140 62h1M51 131h1M123 42h1M101 92h1M66 108h1M136 44h1M98 89h1M47 132h1M82 103h1M114 83h1M131 65h1M63 105h1M104 75h1M52 121h1M138 65h1M44 126h1M144 60h1M102 87h1M121 73h1M112 91h1M95 100h1M88 80h1M64 105h1M72 93h1M52 112h1M71 107h1M111 66h1M100 72h1M102 79h1M98 89h1M141 57h1M131 62h1M70 110h1M101 85h1M144 63h1M71 110h1M116 62h1M110 78h1M112 68h1M101 89h1M120 77h1M82 87h1M140 71h1M102 70h1M78 105h1M109 78h1M114 65h1M138 51h1M109 74h1M97 84h1M79 91h1M87 95h1M72 92h1M107 78h1M132 65h1M104 61h1M64 112h1M46 117h1M134 38h1M73 97h1M114 72h1M141 67h1M141 56h1M100 92h1M138 73h1M85 100h1M141 71h1M113 77h1M51 118h1M127 72h1M59 120h1M147 60h1M48 124h1M122 53h1M59 119h1M99 86h1M81 85h1M134 65h1M71 108h1M118 71h1M141 67h1M49 128h1M117 57h1M51 119h1M124 73h1M132 72h1M57 124h1M135 44h1M88 90h1M75 105h1M143 69h1M83 105h1M64 103h1M77 96h1" stroke="#8d99a8" stroke-opacity="0.5" stroke-width="1" transform="translate(0 0.5)"/>
<path d="M43.7 122.1 45.6 120.3 47.4 118.5 49.3 116.8 51.2 115 53.1 113.2 54.9 111.4 56.8 109.7 58.7 107.9 60.6 106.2 62.4 104.4 64.3 102.7 66.2 101 68.1 99.2 69.9 97.6 71.8 95.9 73.7 94.2 75.6 92.5 77.4 90.9 79.3 89.3 81.2 87.7 83.1 86.1 84.9 84.5 86.8 83 88.7 81.4 90.5 79.9 92.4 78.5 94.3 77 96.2 75.6 98 74.2 99.9 72.8 101.8 71.4 103.7 70.1 105.5 68.8 107.4 67.5 109.3 66.3 111.2 65.1 113 63.9 114.9 62.8 116.8 61.7 118.7 60.7 120.5 59.6 122.4 58.6 124.3 57.7 126.2 56.8 128 55.9 129.9 55.1 131.8 54.3 133.6 53.5 135.5 52.8 137.4 52.2 139.3 51.6 141.1 51 143 50.5 144.9 50 146.8 49.6" stroke="#d8604a" stroke-opacity="0.2" stroke-width="2.6" fill="none"/>
<path d="M43.7 137.5 45.6 135.5 47.4 133.5 49.3 131.5 51.2 129.6 53.1 127.7 54.9 125.8 56.8 124 58.7 122.3 60.6 120.5 62.4 118.8 64.3 117.2 66.2 115.5 68.1 113.9 69.9 112.3 71.8 110.8 73.7 109.3 75.6 107.8 77.4 106.4 79.3 105 81.2 103.6 83.1 102.2 84.9 100.9 86.8 99.6 88.7 98.3 90.5 97.1 92.4 95.8 94.3 94.6 96.2 93.4 98 92.3 99.9 91.1 101.8 90 103.7 88.9 105.5 87.8 107.4 86.7 109.3 85.7 111.2 84.7 113 83.7 114.9 82.7 116.8 81.7 118.7 80.7 120.5 79.7 122.4 78.8 124.3 77.9 126.2 76.9 128 76 129.9 75.1 131.8 74.2 133.6 73.3 135.5 72.4 137.4 71.6 139.3 70.7 141.1 69.8 143 69 144.9 68.1 146.8 67.3" stroke="#d8604a" stroke-opacity="0.2" stroke-width="2.6" fill="none"/>
<path d="M43.7 123.3 45.6 121.4 47.4 119.6 49.3 117.8 51.2 116 53.1 114.2 54.9 112.4 56.8 110.6 58.7 108.9 60.6 107.1 62.4 105.4 64.3 103.6 66.2 101.9 68.1 100.2 69.9 98.5 71.8 96.9 73.7 95.2 75.6 93.6 77.4 92 79.3 90.4 81.2 88.8 83.1 87.2 84.9 85.7 86.8 84.1 88.7 82.6 90.5 81.2 92.4 79.7 94.3 78.3 96.2 76.9 98 75.5 99.9 74.1 101.8 72.8 103.7 71.5 105.5 70.2 107.4 69 109.3 67.8 111.2 66.6 113 65.4 114.9 64.3 116.8 63.2 118.7 62.2 120.5 61.2 122.4 60.2 124.3 59.2 126.2 58.3 128 57.4 129.9 56.6 131.8 55.8 133.6 55 135.5 54.3 137.4 53.6 139.3 53 141.1 52.4 143 51.8 144.9 51.3 146.8 50.8" stroke="#b05040" stroke-opacity="0.14" stroke-width="2.4" fill="none"/>
<path d="M43.7 136.7 45.6 134.7 47.4 132.7 49.3 130.7 51.2 128.8 53.1 126.9 54.9 125 56.8 123.2 58.7 121.4 60.6 119.7 62.4 118 64.3 116.3 66.2 114.7 68.1 113.1 69.9 111.5 71.8 109.9 73.7 108.4 75.6 107 77.4 105.5 79.3 104.1 81.2 102.7 83.1 101.3 84.9 100 86.8 98.7 88.7 97.4 90.5 96.1 92.4 94.9 94.3 93.7 96.2 92.5 98 91.3 99.9 90.2 101.8 89.1 103.7 87.9 105.5 86.9 107.4 85.8 109.3 84.7 111.2 83.7 113 82.7 114.9 81.7 116.8 80.7 118.7 79.7 120.5 78.7 122.4 77.8 124.3 76.9 126.2 75.9 128 75 129.9 74.1 131.8 73.2 133.6 72.3 135.5 71.4 137.4 70.6 139.3 69.7 141.1 68.8 143 68 144.9 67.1 146.8 66.3" stroke="#b05040" stroke-opacity="0.14" stroke-width="2.4" fill="none"/>
<path d="M43.7 125 45.6 123.1 47.4 121.2 49.3 119.4 51.2 117.5 53.1 115.7 54.9 113.9 56.8 112.1 58.7 110.3 60.6 108.6 62.4 106.8 64.3 105.1 66.2 103.4 68.1 101.7 69.9 100.1 71.8 98.4 73.7 96.8 75.6 95.2 77.4 93.6 79.3 92 81.2 90.5 83.1 88.9 84.9 87.4 86.8 85.9 88.7 84.5 90.5 83.1 92.4 81.6 94.3 80.3 96.2 78.9 98 77.5 99.9 76.2 101.8 74.9 103.7 73.7 105.5 72.4 107.4 71.2 109.3 70 111.2 68.9 113 67.8 114.9 66.7 116.8 65.6 118.7 64.5 120.5 63.5 122.4 62.5 124.3 61.6 126.2 60.7 128 59.8 129.9 58.9 131.8 58.1 133.6 57.3 135.5 56.5 137.4 55.8 139.3 55.1 141.1 54.4 143 53.8 144.9 53.2 146.8 52.6" stroke="#e0a060" stroke-opacity="0.16" stroke-width="2.6" fill="none"/>
<path d="M43.7 135.5 45.6 133.4 47.4 131.4 49.3 129.4 51.2 127.5 53.1 125.6 54.9 123.7 56.8 121.9 58.7 120.1 60.6 118.4 62.4 116.7 64.3 115 66.2 113.3 68.1 111.7 69.9 110.1 71.8 108.6 73.7 107.1 75.6 105.6 77.4 104.1 79.3 102.7 81.2 101.3 83.1 99.9 84.9 98.6 86.8 97.3 88.7 96 90.5 94.7 92.4 93.5 94.3 92.3 96.2 91.1 98 89.9 99.9 88.7 101.8 87.6 103.7 86.5 105.5 85.4 107.4 84.3 109.3 83.3 111.2 82.2 113 81.2 114.9 80.2 116.8 79.2 118.7 78.2 120.5 77.2 122.4 76.3 124.3 75.3 126.2 74.4 128 73.5 129.9 72.6 131.8 71.7 133.6 70.8 135.5 69.9 137.4 69 139.3 68.1 141.1 67.3 143 66.4 144.9 65.5 146.8 64.7" stroke="#e0a060" stroke-opacity="0.16" stroke-width="2.6" fill="none"/>
<path d="M43.7 127.9 45.6 125.9 47.4 124 49.3 122 51.2 120.1 53.1 118.3 54.9 116.4 56.8 114.6 58.7 112.8 60.6 111 62.4 109.3 64.3 107.6 66.2 105.9 68.1 104.2 69.9 102.6 71.8 101 73.7 99.4 75.6 97.8 77.4 96.3 79.3 94.8 81.2 93.3 83.1 91.8 84.9 90.4 86.8 89 88.7 87.6 90.5 86.2 92.4 84.9 94.3 83.5 96.2 82.2 98 81 99.9 79.7 101.8 78.5 103.7 77.3 105.5 76.1 107.4 75 109.3 73.8 111.2 72.7 113 71.6 114.9 70.6 116.8 69.5 118.7 68.5 120.5 67.5 122.4 66.5 124.3 65.5 126.2 64.6 128 63.7 129.9 62.8 131.8 61.9 133.6 61.1 135.5 60.3 137.4 59.4 139.3 58.7 141.1 57.9 143 57.1 144.9 56.4 146.8 55.7" stroke="#4a7090" stroke-opacity="0.14" stroke-width="2.4" fill="none"/>
<path d="M43.7 133.4 45.6 131.4 47.4 129.3 49.3 127.3 51.2 125.4 53.1 123.5 54.9 121.6 56.8 119.8 58.7 118 60.6 116.2 62.4 114.5 64.3 112.8 66.2 111.1 68.1 109.5 69.9 107.9 71.8 106.3 73.7 104.8 75.6 103.3 77.4 101.9 79.3 100.4 81.2 99 83.1 97.6 84.9 96.3 86.8 94.9 88.7 93.6 90.5 92.3 92.4 91.1 94.3 89.9 96.2 88.7 98 87.5 99.9 86.3 101.8 85.2 103.7 84 105.5 82.9 107.4 81.8 109.3 80.8 111.2 79.7 113 78.7 114.9 77.7 116.8 76.7 118.7 75.7 120.5 74.7 122.4 73.7 124.3 72.8 126.2 71.8 128 70.9 129.9 70 131.8 69.1 133.6 68.2 135.5 67.3 137.4 66.4 139.3 65.5 141.1 64.6 143 63.8 144.9 62.9 146.8 62" stroke="#4a7090" stroke-opacity="0.14" stroke-width="2.4" fill="none"/>
<path d="M43.7 122.1 45.6 120.3 47.4 118.5 49.3 116.8 51.2 115 53.1 113.2 54.9 111.4 56.8 109.7 58.7 107.9 60.6 106.2 62.4 104.4 64.3 102.7 66.2 101 68.1 99.2 69.9 97.6 71.8 95.9 73.7 94.2 75.6 92.5 77.4 90.9 79.3 89.3 81.2 87.7 83.1 86.1 84.9 84.5 86.8 83 88.7 81.4 90.5 79.9 92.4 78.5 94.3 77 96.2 75.6 98 74.2 99.9 72.8 101.8 71.4 103.7 70.1 105.5 68.8 107.4 67.5 109.3 66.3 111.2 65.1 113 63.9 114.9 62.8 116.8 61.7 118.7 60.7 120.5 59.6 122.4 58.6 124.3 57.7 126.2 56.8 128 55.9 129.9 55.1 131.8 54.3 133.6 53.5 135.5 52.8 137.4 52.2 139.3 51.6 141.1 51 143 50.5 144.9 50 146.8 49.6" stroke="#bd3629" stroke-width="1.1" fill="none"/>
<path d="M43.7 137.5 45.6 135.5 47.4 133.5 49.3 131.5 51.2 129.6 53.1 127.7 54.9 125.8 56.8 124 58.7 122.3 60.6 120.5 62.4 118.8 64.3 117.2 66.2 115.5 68.1 113.9 69.9 112.3 71.8 110.8 73.7 109.3 75.6 107.8 77.4 106.4 79.3 105 81.2 103.6 83.1 102.2 84.9 100.9 86.8 99.6 88.7 98.3 90.5 97.1 92.4 95.8 94.3 94.6 96.2 93.4 98 92.3 99.9 91.1 101.8 90 103.7 88.9 105.5 87.8 107.4 86.7 109.3 85.7 111.2 84.7 113 83.7 114.9 82.7 116.8 81.7 118.7 80.7 120.5 79.7 122.4 78.8 124.3 77.9 126.2 76.9 128 76 129.9 75.1 131.8 74.2 133.6 73.3 135.5 72.4 137.4 71.6 139.3 70.7 141.1 69.8 143 69 144.9 68.1 146.8 67.3" stroke="#bd3629" stroke-width="1.1" fill="none"/>
<path d="M43.7 123.3 45.6 121.4 47.4 119.6 49.3 117.8 51.2 116 53.1 114.2 54.9 112.4 56.8 110.6 58.7 108.9 60.6 107.1 62.4 105.4 64.3 103.6 66.2 101.9 68.1 100.2 69.9 98.5 71.8 96.9 73.7 95.2 75.6 93.6 77.4 92 79.3 90.4 81.2 88.8 83.1 87.2 84.9 85.7 86.8 84.1 88.7 82.6 90.5 81.2 92.4 79.7 94.3 78.3 96.2 76.9 98 75.5 99.9 74.1 101.8 72.8 103.7 71.5 105.5 70.2 107.4 69 109.3 67.8 111.2 66.6 113 65.4 114.9 64.3 116.8 63.2 118.7 62.2 120.5 61.2 122.4 60.2 124.3 59.2 126.2 58.3 128 57.4 129.9 56.6 131.8 55.8 133.6 55 135.5 54.3 137.4 53.6 139.3 53 141.1 52.4 143 51.8 144.9 51.3 146.8 50.8" stroke="#8c2a22" stroke-width="1.0" fill="none"/>
<path d="M43.7 136.7 45.6 134.7 47.4 132.7 49.3 130.7 51.2 128.8 53.1 126.9 54.9 125 56.8 123.2 58.7 121.4 60.6 119.7 62.4 118 64.3 116.3 66.2 114.7 68.1 113.1 69.9 111.5 71.8 109.9 73.7 108.4 75.6 107 77.4 105.5 79.3 104.1 81.2 102.7 83.1 101.3 84.9 100 86.8 98.7 88.7 97.4 90.5 96.1 92.4 94.9 94.3 93.7 96.2 92.5 98 91.3 99.9 90.2 101.8 89.1 103.7 87.9 105.5 86.9 107.4 85.8 109.3 84.7 111.2 83.7 113 82.7 114.9 81.7 116.8 80.7 118.7 79.7 120.5 78.7 122.4 77.8 124.3 76.9 126.2 75.9 128 75 129.9 74.1 131.8 73.2 133.6 72.3 135.5 71.4 137.4 70.6 139.3 69.7 141.1 68.8 143 68 144.9 67.1 146.8 66.3" stroke="#8c2a22" stroke-width="1.0" fill="none"/>
<path d="M43.7 125 45.6 123.1 47.4 121.2 49.3 119.4 51.2 117.5 53.1 115.7 54.9 113.9 56.8 112.1 58.7 110.3 60.6 108.6 62.4 106.8 64.3 105.1 66.2 103.4 68.1 101.7 69.9 100.1 71.8 98.4 73.7 96.8 75.6 95.2 77.4 93.6 79.3 92 81.2 90.5 83.1 88.9 84.9 87.4 86.8 85.9 88.7 84.5 90.5 83.1 92.4 81.6 94.3 80.3 96.2 78.9 98 77.5 99.9 76.2 101.8 74.9 103.7 73.7 105.5 72.4 107.4 71.2 109.3 70 111.2 68.9 113 67.8 114.9 66.7 116.8 65.6 118.7 64.5 120.5 63.5 122.4 62.5 124.3 61.6 126.2 60.7 128 59.8 129.9 58.9 131.8 58.1 133.6 57.3 135.5 56.5 137.4 55.8 139.3 55.1 141.1 54.4 143 53.8 144.9 53.2 146.8 52.6" stroke="#dc9150" stroke-width="0.95" fill="none"/>
<path d="M43.7 135.5 45.6 133.4 47.4 131.4 49.3 129.4 51.2 127.5 53.1 125.6 54.9 123.7 56.8 121.9 58.7 120.1 60.6 118.4 62.4 116.7 64.3 115 66.2 113.3 68.1 111.7 69.9 110.1 71.8 108.6 73.7 107.1 75.6 105.6 77.4 104.1 79.3 102.7 81.2 101.3 83.1 99.9 84.9 98.6 86.8 97.3 88.7 96 90.5 94.7 92.4 93.5 94.3 92.3 96.2 91.1 98 89.9 99.9 88.7 101.8 87.6 103.7 86.5 105.5 85.4 107.4 84.3 109.3 83.3 111.2 82.2 113 81.2 114.9 80.2 116.8 79.2 118.7 78.2 120.5 77.2 122.4 76.3 124.3 75.3 126.2 74.4 128 73.5 129.9 72.6 131.8 71.7 133.6 70.8 135.5 69.9 137.4 69 139.3 68.1 141.1 67.3 143 66.4 144.9 65.5 146.8 64.7" stroke="#dc9150" stroke-width="0.95" fill="none"/>
<path d="M43.7 127.9 45.6 125.9 47.4 124 49.3 122 51.2 120.1 53.1 118.3 54.9 116.4 56.8 114.6 58.7 112.8 60.6 111 62.4 109.3 64.3 107.6 66.2 105.9 68.1 104.2 69.9 102.6 71.8 101 73.7 99.4 75.6 97.8 77.4 96.3 79.3 94.8 81.2 93.3 83.1 91.8 84.9 90.4 86.8 89 88.7 87.6 90.5 86.2 92.4 84.9 94.3 83.5 96.2 82.2 98 81 99.9 79.7 101.8 78.5 103.7 77.3 105.5 76.1 107.4 75 109.3 73.8 111.2 72.7 113 71.6 114.9 70.6 116.8 69.5 118.7 68.5 120.5 67.5 122.4 66.5 124.3 65.5 126.2 64.6 128 63.7 129.9 62.8 131.8 61.9 133.6 61.1 135.5 60.3 137.4 59.4 139.3 58.7 141.1 57.9 143 57.1 144.9 56.4 146.8 55.7" stroke="#3a6486" stroke-width="0.9" fill="none"/>
<path d="M43.7 133.4 45.6 131.4 47.4 129.3 49.3 127.3 51.2 125.4 53.1 123.5 54.9 121.6 56.8 119.8 58.7 118 60.6 116.2 62.4 114.5 64.3 112.8 66.2 111.1 68.1 109.5 69.9 107.9 71.8 106.3 73.7 104.8 75.6 103.3 77.4 101.9 79.3 100.4 81.2 99 83.1 97.6 84.9 96.3 86.8 94.9 88.7 93.6 90.5 92.3 92.4 91.1 94.3 89.9 96.2 88.7 98 87.5 99.9 86.3 101.8 85.2 103.7 84 105.5 82.9 107.4 81.8 109.3 80.8 111.2 79.7 113 78.7 114.9 77.7 116.8 76.7 118.7 75.7 120.5 74.7 122.4 73.7 124.3 72.8 126.2 71.8 128 70.9 129.9 70 131.8 69.1 133.6 68.2 135.5 67.3 137.4 66.4 139.3 65.5 141.1 64.6 143 63.8 144.9 62.9 146.8 62" stroke="#3a6486" stroke-width="0.9" fill="none"/>
<path d="M43.7 131.1 45.6 129 47.4 127 49.3 125 51.2 123 53.1 121.1 54.9 119.2 56.8 117.4 58.7 115.6 60.6 113.8 62.4 112 64.3 110.3 66.2 108.7 68.1 107 69.9 105.4 71.8 103.8 73.7 102.3 75.6 100.8 77.4 99.3 79.3 97.9 81.2 96.4 83.1 95 84.9 93.7 86.8 92.3 88.7 91 90.5 89.7 92.4 88.5 94.3 87.2 96.2 86 98 84.8 99.9 83.6 101.8 82.5 103.7 81.3 105.5 80.2 107.4 79.1 109.3 78 111.2 77 113 75.9 114.9 74.9 116.8 73.9 118.7 72.9 120.5 71.9 122.4 70.9 124.3 69.9 126.2 69 128 68.1 129.9 67.1 131.8 66.2 133.6 65.3 135.5 64.4 137.4 63.5 139.3 62.6 141.1 61.7 143 60.9 144.9 60 146.8 59.1" stroke="#0d0d0d" stroke-width="1.15" fill="none"/>
<linearGradient id="g0197" gradientUnits="userSpaceOnUse" x1="193.7" y1="0" x2="296.8" y2="0"><stop offset="0.000" stop-color="#2c4555" stop-opacity="0.250"/><stop offset="0.073" stop-color="#2c4555" stop-opacity="0.250"/><stop offset="0.145" stop-color="#2c4555" stop-opacity="0.250"/><stop offset="0.218" stop-color="#2c4555" stop-opacity="0.250"/><stop offset="0.291" stop-color="#2c4555" stop-opacity="0.240"/><stop offset="0.364" stop-color="#2c4555" stop-opacity="0.200"/><stop offset="0.436" stop-color="#2c4555" stop-opacity="0.162"/><stop offset="0.509" stop-color="#2c4555" stop-opacity="0.132"/><stop offset="0.582" stop-color="#2c4555" stop-opacity="0.110"/><stop offset="0.655" stop-color="#2c4555" stop-opacity="0.095"/><stop offset="0.727" stop-color="#2c4555" stop-opacity="0.085"/><stop offset="0.800" stop-color="#2c4555" stop-opacity="0.080"/><stop offset="0.873" stop-color="#2c4555" stop-opacity="0.079"/><stop offset="0.945" stop-color="#2c4555" stop-opacity="0.081"/></linearGradient>
<path d="M193.7 130.5 195.6 128.5 197.4 126.8 199.3 125.3 201.2 124 203.1 122.8 204.9 121.7 206.8 120.7 208.7 119.8 210.6 118.8 212.4 117.9 214.3 116.9 216.2 116 218.1 114.9 219.9 113.9 221.8 112.7 223.7 111.5 225.6 110.2 227.4 108.8 229.3 107.3 231.2 105.7 233.1 104.1 234.9 102.3 236.8 100.5 238.7 98.6 240.5 96.6 242.4 94.6 244.3 92.4 246.2 90.3 248 88.1 249.9 85.8 251.8 83.5 253.7 81.3 255.5 79 257.4 76.7 259.3 74.4 261.2 72.2 263 70 264.9 67.8 266.8 65.7 268.7 63.7 270.5 61.7 272.4 59.9 274.3 58.1 276.2 56.5 278 54.9 279.9 53.5 281.8 52.1 283.6 50.9 285.5 49.9 287.4 48.9 289.3 48.1 291.1 47.4 293 46.8 294.9 46.3 296.8 45.9 296.8 83.5 294.9 84.5 293 85.6 291.1 86.8 289.3 87.9 287.4 89.1 285.5 90.2 283.6 91.4 281.8 92.6 279.9 93.8 278 95 276.2 96.3 274.3 97.5 272.4 98.7 270.5 99.9 268.7 101.1 266.8 102.3 264.9 103.5 263 104.7 261.2 105.9 259.3 107 257.4 108.2 255.5 109.3 253.7 110.4 251.8 111.5 249.9 112.5 248 113.6 246.2 114.6 244.3 115.6 242.4 116.5 240.5 117.5 238.7 118.4 236.8 119.3 234.9 120.1 233.1 120.9 231.2 121.8 229.3 122.6 227.4 123.3 225.6 124.1 223.7 124.8 221.8 125.6 219.9 126.3 218.1 127 216.2 127.7 214.3 128.5 212.4 129.2 210.6 130 208.7 130.7 206.8 131.5 204.9 132.4 203.1 133.3 201.2 134.2 199.3 135.3 197.4 136.3 195.6 137.5 193.7 138.8 Z" fill="url(#g0197)"/>
<linearGradient id="g0190" gradientUnits="userSpaceOnUse" x1="193.7" y1="0" x2="296.8" y2="0"><stop offset="0.000" stop-color="#2c4555" stop-opacity="0.400"/><stop offset="0.073" stop-color="#2c4555" stop-opacity="0.400"/><stop offset="0.145" stop-color="#2c4555" stop-opacity="0.400"/><stop offset="0.218" stop-color="#2c4555" stop-opacity="0.400"/><stop offset="0.291" stop-color="#2c4555" stop-opacity="0.384"/><stop offset="0.364" stop-color="#2c4555" stop-opacity="0.320"/><stop offset="0.436" stop-color="#2c4555" stop-opacity="0.259"/><stop offset="0.509" stop-color="#2c4555" stop-opacity="0.211"/><stop offset="0.582" stop-color="#2c4555" stop-opacity="0.176"/><stop offset="0.655" stop-color="#2c4555" stop-opacity="0.152"/><stop offset="0.727" stop-color="#2c4555" stop-opacity="0.137"/><stop offset="0.800" stop-color="#2c4555" stop-opacity="0.129"/><stop offset="0.873" stop-color="#2c4555" stop-opacity="0.126"/><stop offset="0.945" stop-color="#2c4555" stop-opacity="0.130"/></linearGradient>
<path d="M193.7 132 195.6 130.3 197.4 128.7 199.3 127.3 201.2 126.1 203.1 124.9 204.9 123.8 206.8 122.8 208.7 121.8 210.6 120.9 212.4 119.9 214.3 119 216.2 118 218.1 117 219.9 116 221.8 114.9 223.7 113.8 225.6 112.6 227.4 111.4 229.3 110.1 231.2 108.7 233.1 107.3 234.9 105.8 236.8 104.2 238.7 102.6 240.5 100.9 242.4 99.2 244.3 97.4 246.2 95.5 248 93.6 249.9 91.6 251.8 89.7 253.7 87.7 255.5 85.6 257.4 83.6 259.3 81.5 261.2 79.5 263 77.5 264.9 75.4 266.8 73.4 268.7 71.5 270.5 69.6 272.4 67.7 274.3 65.9 276.2 64.2 278 62.5 279.9 60.9 281.8 59.4 283.6 58 285.5 56.7 287.4 55.6 289.3 54.5 291.1 53.6 293 52.7 294.9 52 296.8 51.5 296.8 77.1 294.9 78.1 293 79.2 291.1 80.4 289.3 81.6 287.4 82.9 285.5 84.3 283.6 85.6 281.8 87 279.9 88.4 278 89.8 276.2 91.3 274.3 92.7 272.4 94.1 270.5 95.6 268.7 97 266.8 98.4 264.9 99.8 263 101.1 261.2 102.5 259.3 103.8 257.4 105 255.5 106.3 253.7 107.5 251.8 108.7 249.9 109.8 248 111 246.2 112.1 244.3 113.1 242.4 114.1 240.5 115.1 238.7 116.1 236.8 117 234.9 117.9 233.1 118.8 231.2 119.6 229.3 120.5 227.4 121.3 225.6 122.1 223.7 122.9 221.8 123.7 219.9 124.4 218.1 125.2 216.2 126 214.3 126.8 212.4 127.6 210.6 128.4 208.7 129.3 206.8 130.2 204.9 131.1 203.1 132 201.2 133.1 199.3 134.1 197.4 135.2 195.6 136.4 193.7 137.6 Z" fill="url(#g0190)"/>
<linearGradient id="g0175" gradientUnits="userSpaceOnUse" x1="193.7" y1="0" x2="296.8" y2="0"><stop offset="0.000" stop-color="#2c4555" stop-opacity="0.500"/><stop offset="0.073" stop-color="#2c4555" stop-opacity="0.500"/><stop offset="0.145" stop-color="#2c4555" stop-opacity="0.500"/><stop offset="0.218" stop-color="#2c4555" stop-opacity="0.500"/><stop offset="0.291" stop-color="#2c4555" stop-opacity="0.480"/><stop offset="0.364" stop-color="#2c4555" stop-opacity="0.399"/><stop offset="0.436" stop-color="#2c4555" stop-opacity="0.324"/><stop offset="0.509" stop-color="#2c4555" stop-opacity="0.263"/><stop offset="0.582" stop-color="#2c4555" stop-opacity="0.219"/><stop offset="0.655" stop-color="#2c4555" stop-opacity="0.190"/><stop offset="0.727" stop-color="#2c4555" stop-opacity="0.171"/><stop offset="0.800" stop-color="#2c4555" stop-opacity="0.161"/><stop offset="0.873" stop-color="#2c4555" stop-opacity="0.158"/><stop offset="0.945" stop-color="#2c4555" stop-opacity="0.162"/></linearGradient>
<path d="M193.7 133.5 195.6 132.1 197.4 130.7 199.3 129.4 201.2 128.2 203.1 127 204.9 125.9 206.8 124.9 208.7 123.9 210.6 122.9 212.4 121.9 214.3 121 216.2 120 218.1 119.1 219.9 118.1 221.8 117.1 223.7 116.1 225.6 115.1 227.4 114 229.3 112.9 231.2 111.7 233.1 110.5 234.9 109.3 236.8 108 238.7 106.7 240.5 105.3 242.4 103.8 244.3 102.3 246.2 100.8 248 99.2 249.9 97.6 251.8 95.9 253.7 94.1 255.5 92.4 257.4 90.6 259.3 88.8 261.2 86.9 263 85 264.9 83.2 266.8 81.3 268.7 79.4 270.5 77.5 272.4 75.6 274.3 73.8 276.2 72 278 70.2 279.9 68.5 281.8 66.8 283.6 65.2 285.5 63.7 287.4 62.3 289.3 61 291.1 59.8 293 58.8 294.9 57.9 296.8 57.1 296.8 70.6 294.9 71.6 293 72.7 291.1 74 289.3 75.3 287.4 76.7 285.5 78.2 283.6 79.7 281.8 81.3 279.9 82.9 278 84.6 276.2 86.2 274.3 87.9 272.4 89.5 270.5 91.2 268.7 92.8 266.8 94.4 264.9 96 263 97.5 261.2 99 259.3 100.5 257.4 101.9 255.5 103.3 253.7 104.6 251.8 105.9 249.9 107.1 248 108.3 246.2 109.5 244.3 110.6 242.4 111.7 240.5 112.7 238.7 113.7 236.8 114.7 234.9 115.7 233.1 116.6 231.2 117.5 229.3 118.3 227.4 119.2 225.6 120.1 223.7 120.9 221.8 121.7 219.9 122.6 218.1 123.4 216.2 124.3 214.3 125.1 212.4 126 210.6 126.9 208.7 127.8 206.8 128.8 204.9 129.8 203.1 130.8 201.2 131.8 199.3 132.9 197.4 134.1 195.6 135.3 193.7 136.5 Z" fill="url(#g0175)"/>
<path d="M277 91h1M198 131h1M295 67h1M294 65h1M278 79h1M286 67h1M257 95h1M224 123h1M256 90h1M263 84h1M207 125h1M273 90h1M224 119h1M246 110h1M220 114h1M222 120h1M284 69h1M273 79h1M199 131h1M273 55h1M289 70h1M266 91h1M265 71h1M220 119h1M265 101h1M232 112h1M289 74h1M266 86h1M226 113h1M285 51h1M273 77h1M214 127h1M215 125h1M194 132h1M273 91h1M202 129h1M221 116h1M269 90h1M224 114h1M222 112h1M200 133h1M198 125h1M252 106h1M207 121h1M293 64h1M195 133h1M226 115h1M212 116h1M286 68h1M271 84h1M204 124h1M198 131h1M201 132h1M270 76h1M270 87h1M259 82h1M244 109h1M241 112h1M255 113h1M204 130h1M275 84h1M274 102h1M264 78h1M217 124h1M215 120h1M295 57h1M291 78h1M271 87h1M274 93h1M240 98h1M284 74h1M265 84h1M238 109h1M264 66h1M201 132h1M234 114h1M281 62h1M243 97h1M251 93h1M251 109h1M291 65h1M214 122h1M264 95h1M239 110h1M217 122h1M198 133h1M256 100h1M212 126h1M253 77h1M237 111h1M235 110h1M285 72h1M202 129h1M251 90h1M236 108h1M208 128h1M234 110h1M283 57h1M213 125h1M263 98h1M221 118h1M247 106h1M250 94h1M200 130h1M277 96h1M232 117h1M214 123h1M214 122h1M295 47h1M291 70h1M242 111h1M221 123h1M266 103h1M198 132h1M282 83h1M193 132h1M198 134h1M227 121h1M240 115h1M193 136h1M222 120h1M295 80h1M273 73h1M199 133h1M284 83h1M241 103h1M296 52h1M226 119h1M225 118h1M263 99h1M243 112h1M221 116h1M247 108h1M259 103h1M225 116h1M279 74h1M271 70h1M271 96h1M261 114h1M217 116h1M266 99h1M211 127h1M207 124h1M245 101h1M211 121h1M206 124h1M254 101h1M294 71h1M198 132h1M239 114h1M202 130h1M249 92h1M253 109h1M244 116h1M197 130h1M266 102h1M246 108h1M252 102h1M262 105h1M287 40h1M238 100h1M288 77h1M211 123h1M240 103h1M211 128h1M231 116h1M287 55h1M294 57h1M242 112h1M221 129h1M226 108h1M287 73h1M238 108h1M213 117h1M280 74h1M246 92h1M237 108h1M287 87h1M270 90h1M194 136h1M293 72h1M240 111h1M211 127h1M287 56h1M236 109h1M264 97h1M271 75h1M213 122h1M295 77h1M251 110h1M199 129h1M249 96h1M195 135h1M295 67h1M262 79h1M232 116h1M276 85h1M275 81h1M266 110h1M217 129h1M202 131h1M282 85h1M285 102h1M229 120h1M233 110h1M235 114h1M221 119h1M290 61h1M248 106h1M267 93h1M256 99h1M202 128h1M200 132h1M208 120h1M244 111h1M258 97h1M296 66h1M286 42h1M270 99h1M233 104h1M229 112h1M265 95h1M229 113h1M272 78h1M269 57h1M205 126h1M276 82h1M202 131h1M226 116h1M294 67h1M260 98h1M282 66h1M289 59h1M220 126h1M276 69h1M231 119h1M199 131h1M204 132h1M206 125h1M258 100h1M259 98h1M281 71h1M223 119h1M272 74h1M220 119h1M225 116h1M261 99h1M234 113h1M297 50h1M226 116h1M217 121h1M284 61h1M284 96h1M210 126h1M228 119h1M246 99h1M200 129h1M231 118h1M273 64h1M273 89h1M208 126h1M224 116h1M221 120h1M264 78h1M206 128h1M295 43h1M205 123h1M248 111h1M266 81h1M291 43h1M257 104h1M282 65h1M248 70h1M216 122h1M236 115h1M256 101h1M248 113h1M274 81h1M249 107h1M233 108h1M246 107h1M247 118h1M194 136h1M227 117h1M252 65h1M267 84h1M237 103h1M270 92h1M245 100h1M231 116h1M218 117h1M276 109h1M289 46h1M269 89h1M216 130h1M266 91h1M245 99h1M289 75h1M193 137h1M273 90h1M241 94h1M282 77h1M256 74h1M193 138h1M265 92h1M248 100h1M218 123h1M205 129h1M234 106h1M251 111h1M242 105h1M194 129h1M208 129h1M264 102h1M249 110h1M270 90h1M236 106h1M219 126h1M276 97h1M215 125h1M199 137h1M231 110h1M240 114h1M214 127h1M292 50h1M217 116h1M205 125h1M262 95h1M208 127h1M222 118h1M236 112h1M221 119h1M261 95h1M207 128h1M260 99h1M205 128h1M253 103h1M295 60h1M275 89h1M291 61h1M250 112h1M209 125h1M231 116h1M274 66h1M206 126h1M262 95h1M226 117h1M288 62h1M229 110h1M226 117h1M221 120h1M249 107h1M292 91h1M249 101h1M270 59h1M247 104h1M201 123h1M254 86h1M255 106h1M255 103h1M224 115h1M220 117h1M227 116h1M196 127h1M209 126h1M223 117h1M246 115h1M288 57h1M266 97h1M246 100h1M267 96h1M239 103h1M198 134h1M264 86h1M266 79h1M261 93h1M281 80h1M274 88h1M279 92h1M197 134h1M297 37h1M254 96h1M254 61h1M257 94h1M221 122h1M224 112h1M284 58h1M255 101h1M293 62h1M214 127h1M254 102h1M255 102h1M197 136h1M258 91h1M233 114h1M237 105h1M212 125h1M255 106h1M263 102h1M286 71h1M280 67h1M295 56h1M294 50h1M266 91h1M222 124h1M249 80h1M201 122h1M252 109h1M224 111h1M249 106h1M271 68h1M199 133h1M284 81h1M197 133h1M244 114h1M215 122h1M197 134h1M243 116h1M220 126h1M201 128h1M279 67h1M218 120h1M290 65h1M256 99h1M230 112h1M199 134h1M282 75h1M204 130h1M274 83h1M248 108h1M240 101h1M201 133h1M236 114h1M194 135h1M272 89h1M266 98h1M207 128h1M246 108h1M211 124h1M267 67h1M212 124h1M211 124h1M222 118h1M294 93h1M278 54h1M235 113h1M275 92h1M230 119h1M212 130h1M286 45h1M196 130h1M275 87h1M293 63h1M201 133h1M282 77h1M274 84h1M197 133h1M239 109h1M220 121h1M233 110h1M232 114h1M234 111h1M194 135h1M221 114h1M223 113h1M260 98h1M265 93h1M271 73h1M259 94h1M286 50h1M251 113h1M225 106h1M197 136h1M268 77h1M251 105h1M210 124h1M246 103h1M291 78h1M256 104h1M225 117h1M277 68h1M234 122h1M194 137h1M201 130h1M293 63h1M202 130h1M274 83h1M196 136h1M237 105h1M222 119h1M228 112h1M202 132h1M235 120h1M272 84h1M247 108h1M206 130h1M277 76h1M283 54h1M240 114h1M230 117h1M194 134h1M200 134h1M232 115h1M204 121h1M294 69h1M260 96h1M225 124h1M254 101h1M210 124h1M288 74h1M245 108h1M266 72h1M212 124h1M242 106h1M267 100h1M233 123h1M199 127h1M242 102h1M278 60h1M241 105h1M295 58h1M251 103h1M285 84h1M196 129h1M258 78h1M246 78h1M230 120h1M287 85h1M202 124h1M243 94h1M225 118h1M293 79h1M274 91h1M214 124h1M206 129h1M195 134h1M211 122h1M289 90h1M284 73h1M276 66h1M234 110h1M243 87h1M253 102h1M277 90h1M193 132h1M212 130h1M253 112h1M207 127h1M290 55h1M197 129h1M294 62h1M215 118h1M213 119h1M237 109h1M259 95h1M295 72h1M242 99h1M286 91h1M285 83h1M295 75h1M230 112h1M242 116h1M195 133h1M233 121h1M229 120h1M206 124h1M279 72h1M222 126h1M206 129h1M205 127h1M195 134h1M271 87h1M248 98h1M247 104h1M236 108h1M293 61h1M232 116h1M242 101h1M265 97h1M289 71h1M282 83h1M284 82h1M212 128h1M291 74h1M278 85h1M227 116h1M277 85h1M292 57h1M270 84h1M270 93h1M280 76h1M284 77h1M274 68h1M201 133h1M214 121h1M205 129h1M241 109h1M199 133h1M250 100h1M289 57h1M295 45h1M197 132h1M264 77h1M208 128h1M282 89h1M196 126h1M203 124h1M226 118h1M193 137h1M262 96h1M214 124h1M268 96h1M292 73h1M242 121h1M242 112h1M296 51h1M225 116h1M285 74h1M267 79h1M194 134h1M224 116h1M268 80h1M197 134h1M282 70h1M288 57h1M272 75h1M277 80h1M255 120h1M277 82h1M241 116h1M235 115h1M266 61h1M241 111h1M225 114h1M220 115h1M238 104h1M232 121h1M271 64h1M274 74h1M276 91h1M281 83h1M230 106h1M231 114h1M280 70h1M211 124h1M266 96h1M247 100h1M262 88h1M265 101h1M262 69h1M217 120h1M195 135h1M292 53h1M286 63h1M245 95h1M262 95h1M202 127h1M240 113h1M254 106h1M266 91h1M215 121h1M202 130h1M293 67h1M281 60h1M211 127h1M278 80h1M277 87h1M212 119h1M276 88h1M232 122h1M227 119h1M209 120h1M254 101h1M257 98h1M246 108h1M203 128h1M276 86h1M226 115h1M220 121h1M259 88h1M212 124h1M287 81h1M260 90h1M275 88h1M228 112h1M237 109h1M219 120h1M219 125h1M236 107h1M275 101h1M245 94h1M279 75h1M204 130h1M223 121h1M196 129h1M288 55h1M199 134h1M249 91h1M263 97h1M214 121h1M295 65h1M295 92h1M217 126h1M207 129h1M260 78h1M246 108h1M256 100h1M257 98h1M292 82h1M273 60h1M225 119h1M271 87h1M239 105h1M294 85h1M242 98h1M194 135h1M288 70h1M221 111h1M278 46h1M256 87h1M270 93h1M270 94h1M287 77h1M279 79h1M260 67h1M227 118h1M244 103h1M222 123h1M228 121h1M241 119h1M237 115h1M223 122h1M224 114h1M225 118h1M213 119h1M253 106h1M202 125h1M219 120h1M210 122h1M266 84h1M222 121h1M203 127h1M278 80h1M238 104h1M276 103h1M226 114h1M229 120h1M251 114h1M200 122h1M294 54h1M207 126h1M288 83h1M261 89h1M272 87h1M215 120h1M286 77h1M248 92h1M236 116h1M213 113h1M210 118h1M283 93h1M294 67h1M236 106h1M268 105h1M265 98h1M244 113h1M243 105h1M250 106h1M229 118h1M270 63h1M236 114h1M245 105h1M212 128h1M294 92h1M201 128h1M267 81h1M261 96h1M229 118h1M294 60h1M196 132h1M221 122h1M228 118h1M260 103h1M254 102h1M267 77h1M282 51h1M195 137h1M251 99h1M234 111h1M264 88h1M248 90h1M229 114h1M193 127h1M225 115h1M239 99h1M228 123h1M232 116h1M260 93h1M228 118h1M281 83h1M230 111h1M238 110h1M238 107h1M287 98h1M256 100h1M293 44h1M193 137h1M292 97h1M213 118h1M286 110h1M197 132h1M282 85h1M259 90h1M264 87h1M233 106h1M233 107h1M209 117h1M207 129h1M258 73h1M228 117h1M196 134h1M210 122h1M210 125h1M213 123h1M240 106h1M287 70h1M253 101h1M270 72h1M204 123h1M265 80h1M283 75h1M296 80h1M267 100h1M256 101h1M293 77h1M206 128h1M275 91h1M268 90h1M268 91h1M230 114h1M201 130h1M207 131h1M263 76h1M225 117h1M292 55h1M205 130h1M277 96h1M242 106h1M223 107h1M219 122h1M229 118h1M231 105h1M216 121h1M215 122h1M294 40h1M237 117h1M258 100h1M266 92h1M227 108h1M290 59h1M223 114h1M213 125h1M197 129h1M220 129h1M199 132h1M258 69h1M253 111h1M195 134h1M292 60h1M269 88h1M250 84h1M291 69h1M248 80h1M211 121h1M274 103h1M292 92h1M199 130h1M245 98h1M216 127h1M287 69h1M203 129h1M277 86h1M214 119h1M259 101h1M265 61h1M272 97h1M198 126h1M243 103h1M206 125h1M206 129h1M210 127h1M208 127h1M290 74h1M251 105h1M219 120h1M243 91h1M198 123h1M215 114h1M258 97h1M265 88h1M257 97h1M295 67h1M295 62h1M280 63h1M241 97h1M272 57h1M219 125h1M283 83h1M218 116h1M296 61h1M194 135h1M276 95h1M245 101h1M278 80h1M247 111h1M279 52h1M266 79h1M259 96h1M292 58h1M205 133h1M289 78h1M247 106h1M266 76h1M262 99h1M233 116h1M248 100h1M294 60h1M244 85h1M288 68h1M194 136h1M252 107h1M264 96h1M234 117h1M201 128h1M275 74h1M271 95h1M232 116h1M203 126h1M280 81h1M273 90h1M280 84h1M278 79h1M220 118h1M258 100h1M241 117h1M233 114h1M235 108h1M263 95h1M297 50h1M242 110h1M231 112h1M258 103h1M258 98h1M235 120h1M260 120h1M261 92h1M270 73h1M210 126h1M261 94h1M236 112h1M284 64h1M257 101h1M277 80h1M277 48h1M215 121h1M201 131h1M272 94h1M198 129h1M291 57h1M265 99h1M237 107h1M262 94h1M206 129h1M259 101h1M288 68h1M193 132h1M290 79h1M225 115h1M234 110h1M291 91h1M276 89h1M233 107h1M295 59h1M196 132h1M261 84h1M246 75h1M285 87h1M195 135h1M226 118h1M242 105h1M200 131h1M260 102h1M281 61h1M287 65h1M208 124h1M245 110h1M295 67h1M200 125h1M266 81h1M222 130h1M287 57h1M256 100h1M286 62h1M198 136h1M256 98h1M236 109h1M204 124h1M235 111h1M270 93h1M253 104h1M255 84h1M222 125h1M246 104h1M239 102h1M287 70h1M284 64h1M238 106h1M245 101h1M223 118h1M252 96h1M206 120h1M293 71h1M236 108h1M194 137h1M224 120h1M291 78h1M225 118h1M233 119h1M294 61h1M274 67h1M230 116h1M210 115h1M233 111h1M232 115h1M286 65h1M249 110h1M289 82h1M295 65h1M283 64h1M235 117h1M233 109h1M250 99h1M263 97h1M281 81h1M278 98h1M225 116h1M269 59h1M232 117h1M274 93h1M194 134h1M281 102h1M265 103h1M208 123h1M219 118h1M225 112h1M246 110h1M287 78h1M294 72h1M255 84h1M204 125h1M295 49h1M293 47h1M202 124h1M262 72h1M262 91h1M261 97h1M268 92h1M193 135h1M225 114h1M228 116h1M260 99h1M203 128h1M221 119h1M211 123h1M198 130h1M242 109h1M214 119h1M243 113h1M214 117h1M275 85h1M204 123h1M273 96h1M261 100h1M209 122h1M232 111h1M232 107h1M240 109h1M263 95h1M194 139h1M210 120h1M265 99h1M202 127h1M281 78h1M231 118h1M196 134h1M273 89h1M218 119h1M297 63h1M289 70h1M285 84h1M285 52h1M200 128h1M195 129h1M234 107h1M236 106h1M235 117h1M255 111h1M274 94h1M275 64h1M290 68h1M263 77h1M284 77h1M202 132h1M195 135h1M240 116h1M285 69h1M233 102h1M204 120h1M206 126h1M216 123h1M283 87h1M228 114h1M282 75h1M291 69h1M273 98h1M289 67h1M219 116h1M213 126h1M218 122h1M195 135h1M290 52h1M214 123h1M258 74h1M222 110h1M249 101h1M238 108h1M268 92h1M214 130h1M223 118h1M207 131h1M226 114h1M279 84h1M293 51h1M194 134h1M281 71h1M269 84h1M201 132h1M209 118h1M283 74h1M213 120h1M287 70h1M249 106h1M295 60h1M245 103h1M206 122h1M256 102h1M239 105h1M200 131h1M278 58h1M286 85h1M293 53h1M260 103h1M253 95h1M213 125h1M293 63h1M269 92h1M262 93h1M265 106h1M280 82h1M228 118h1M204 132h1M296 56h1M196 136h1M221 120h1M244 94h1M197 133h1M225 116h1M283 91h1M258 91h1M253 101h1M195 134h1M237 98h1M205 129h1M233 107h1M233 119h1M237 118h1M226 117h1M274 59h1M241 110h1M287 71h1M228 118h1M208 125h1M230 104h1M283 71h1M230 110h1M278 95h1M265 81h1M220 117h1M213 123h1M204 123h1M239 106h1M265 89h1M223 116h1M292 62h1M194 137h1M274 85h1M210 120h1M297 55h1M203 132h1M289 55h1M234 113h1M222 118h1M197 133h1M215 121h1M233 113h1M290 57h1M293 69h1M201 126h1M251 111h1M196 133h1M203 127h1M257 102h1M248 104h1M286 71h1M287 69h1M209 122h1M259 76h1M277 69h1M273 99h1M252 95h1M246 102h1M252 96h1M236 115h1M252 112h1M286 59h1M229 118h1M239 111h1M238 108h1M283 78h1M218 116h1M238 117h1M271 88h1M234 107h1M282 91h1M249 108h1M203 131h1M231 106h1M208 125h1M238 104h1M231 117h1M228 121h1M279 50h1M286 70h1M271 81h1M272 92h1M286 70h1M288 53h1M211 124h1M286 48h1M209 122h1M221 119h1M275 69h1M208 127h1M293 48h1M290 113h1M193 138h1M259 100h1M289 52h1M249 81h1M249 95h1M254 98h1M250 114h1M253 108h1M264 85h1M292 79h1M201 132h1M217 121h1M193 137h1M200 131h1M214 120h1M287 55h1M225 116h1M255 105h1M225 111h1M296 46h1M213 125h1M234 96h1M231 127h1M215 121h1M200 132h1M233 121h1M214 117h1M195 130h1M285 96h1M228 114h1M194 134h1M257 99h1M242 113h1M264 100h1M230 116h1M207 125h1M259 95h1M234 114h1M284 86h1M227 117h1M216 132h1M212 120h1M219 122h1M217 127h1M247 111h1M231 116h1M294 55h1M214 120h1M291 65h1M228 117h1M243 104h1M293 49h1M274 71h1M291 72h1M249 108h1M226 111h1M263 88h1M264 68h1M197 130h1M204 137h1M291 67h1M268 83h1M278 69h1M212 119h1M294 44h1M224 118h1M207 125h1M230 125h1M229 107h1M199 132h1M281 89h1M283 47h1M213 125h1M250 86h1M283 78h1M232 120h1M246 106h1M218 122h1M241 103h1M225 118h1M279 88h1M209 124h1M196 132h1M286 74h1M211 127h1M250 86h1M267 90h1M227 113h1M289 77h1M228 123h1M213 124h1M199 134h1M286 57h1M215 121h1M286 58h1M240 110h1M290 68h1M202 128h1M282 58h1M295 62h1M267 83h1M207 128h1M297 60h1M276 90h1M215 123h1M294 44h1M202 129h1M206 121h1M194 136h1M254 108h1M235 112h1M202 130h1M244 94h1M284 43h1M202 127h1M259 93h1M210 119h1M246 106h1M228 117h1M221 121h1M194 137h1M253 105h1M239 108h1M265 92h1M212 126h1M295 53h1M195 136h1M213 126h1M259 93h1M207 124h1M220 133h1M245 111h1M271 92h1M283 92h1M226 121h1M261 96h1M195 135h1M285 59h1M263 98h1M287 51h1M215 124h1M244 110h1M270 63h1M195 137h1M280 60h1M266 97h1M275 74h1M210 126h1M274 73h1M252 115h1M208 128h1M206 131h1M282 82h1M234 116h1M221 120h1M231 113h1M264 96h1M207 127h1M210 124h1M260 77h1M286 67h1M263 97h1M291 61h1M222 120h1M230 114h1M231 108h1M230 110h1M221 117h1M275 77h1M222 117h1M236 117h1M242 100h1M296 42h1M227 119h1M265 85h1M227 116h1M276 104h1M233 119h1M195 135h1M247 110h1M228 117h1M220 123h1M223 116h1M193 133h1M269 81h1M250 117h1M259 106h1M252 95h1M232 119h1M240 108h1M242 113h1M288 65h1M229 119h1M209 125h1M201 128h1M228 116h1M252 103h1M253 94h1M268 68h1M261 105h1M201 128h1M233 102h1M231 102h1M204 117h1M254 93h1M273 95h1M197 127h1M248 102h1M205 120h1M274 92h1M251 105h1M200 131h1M246 112h1M218 126h1M214 126h1M262 86h1M235 104h1M289 55h1M288 48h1M282 94h1M235 111h1M287 71h1M200 131h1M273 100h1M230 112h1M283 86h1M196 134h1M253 100h1M200 123h1M223 122h1M251 94h1M207 125h1M265 93h1M246 107h1M216 125h1M249 97h1M239 111h1M196 133h1M267 90h1M267 94h1M287 66h1M291 81h1M231 111h1M260 77h1M256 99h1M198 134h1M268 81h1M221 117h1M237 109h1M257 99h1M245 105h1M222 120h1M284 50h1M202 133h1M255 103h1M212 121h1M289 84h1M290 72h1M267 100h1M285 46h1M272 98h1M261 95h1M271 56h1M288 78h1M215 121h1M269 73h1M211 123h1M241 94h1M228 118h1M259 94h1M259 93h1M287 86h1M280 76h1M199 128h1M211 121h1M197 132h1M267 97h1M229 113h1M294 53h1M215 125h1M292 66h1M271 85h1M272 102h1M256 74h1M285 74h1M217 115h1M283 67h1M284 78h1M256 105h1M262 77h1M216 124h1M244 111h1M254 99h1M226 126h1M197 132h1M292 50h1M277 84h1M231 105h1M248 112h1M254 106h1M292 61h1M251 106h1M268 92h1M276 98h1M203 126h1M253 86h1M290 44h1M278 74h1M289 50h1M210 124h1M274 86h1M222 117h1M284 52h1M274 92h1M232 113h1M253 102h1M242 113h1M291 52h1M250 93h1M201 136h1M248 103h1M195 131h1M207 126h1M244 103h1M241 99h1M200 129h1M228 116h1M223 119h1M223 121h1M239 97h1M196 124h1M196 136h1M217 120h1M267 98h1M290 71h1M271 65h1M201 131h1M279 64h1M278 83h1M281 88h1M268 104h1M220 120h1M244 110h1M238 112h1M196 134h1M249 77h1M220 118h1M292 69h1M262 97h1M277 69h1M196 135h1M267 97h1M276 81h1M241 108h1M219 119h1M243 108h1M250 109h1M238 117h1M226 115h1M262 81h1M286 61h1M221 123h1M285 74h1M198 132h1M264 95h1M229 117h1M247 104h1M230 110h1M201 128h1M210 125h1M295 68h1M236 110h1M292 61h1M247 112h1M286 65h1M239 111h1M296 60h1M242 101h1M220 114h1M211 122h1M200 127h1M204 130h1M264 76h1M230 113h1M284 80h1M213 123h1M290 73h1M212 128h1M221 113h1M228 114h1M220 116h1M236 118h1M276 78h1M200 132h1M218 126h1M198 130h1M273 83h1M205 129h1M246 104h1M283 87h1M226 120h1M205 130h1M220 120h1M291 63h1M203 128h1M283 69h1M205 121h1M210 126h1M273 90h1M259 96h1M226 115h1M266 90h1M208 126h1M284 78h1M253 111h1M291 57h1M255 102h1M252 105h1M282 75h1M253 98h1M202 126h1M256 91h1M223 121h1M259 105h1M297 56h1M256 101h1M280 86h1M230 119h1M194 135h1M198 133h1M195 136h1M215 118h1M221 120h1M226 109h1M261 69h1M271 74h1M273 62h1M271 89h1M282 85h1M268 82h1M240 109h1M236 111h1M201 129h1M194 135h1M282 78h1M208 124h1M283 63h1M234 110h1M199 133h1M279 72h1M267 100h1M297 59h1M249 111h1M290 44h1M245 100h1M220 122h1M234 115h1M261 91h1M285 93h1M278 79h1M290 71h1M249 99h1M241 116h1M247 109h1M290 72h1M231 106h1M199 132h1M233 111h1M260 98h1M279 86h1M291 58h1M264 93h1M277 87h1M277 80h1M277 75h1M255 87h1M291 59h1M286 55h1M193 137h1M205 128h1M296 51h1M262 94h1M207 122h1M202 132h1M249 110h1M233 105h1M223 116h1M218 122h1M202 128h1M232 109h1M203 125h1M258 93h1M226 114h1M273 85h1M290 64h1M285 62h1M270 87h1M274 59h1M202 132h1M294 46h1M253 101h1M249 106h1M263 98h1M212 124h1M242 118h1M205 123h1M288 68h1M245 108h1M206 125h1M294 58h1M253 108h1M271 75h1M276 73h1M265 87h1M239 109h1M222 119h1M198 131h1M258 100h1M204 128h1M231 116h1M285 86h1M287 60h1M278 93h1M213 122h1M291 74h1M207 127h1M288 65h1M271 58h1M294 83h1M295 56h1M247 97h1M225 121h1M288 69h1M225 124h1M227 123h1M252 105h1M207 127h1M240 113h1M207 122h1M240 111h1M287 71h1M289 63h1M292 68h1M268 53h1M270 93h1M237 117h1M286 55h1M207 127h1M210 129h1M205 129h1M235 106h1M199 128h1M266 96h1M212 129h1M264 77h1M251 103h1M265 81h1M266 86h1M275 84h1M243 108h1M252 94h1M219 127h1M245 105h1M202 129h1M292 78h1M289 68h1M200 129h1M194 136h1M234 107h1M248 108h1M243 113h1M228 119h1M257 95h1M234 113h1M235 102h1M196 132h1M254 101h1M201 133h1M282 75h1M242 105h1M230 111h1M262 94h1M285 73h1M210 128h1M234 113h1M294 59h1M283 72h1M233 110h1M230 114h1M278 48h1M201 124h1M205 123h1M252 104h1M252 101h1M252 103h1M272 100h1M284 50h1M234 117h1M227 118h1M281 66h1M218 125h1M284 54h1M266 74h1M281 72h1M259 99h1M204 127h1M267 59h1M244 105h1M212 124h1M203 134h1M220 124h1M206 127h1M207 123h1M281 79h1M292 53h1M296 65h1M251 104h1M252 98h1M199 132h1M205 126h1M273 75h1M252 109h1M252 105h1M271 81h1M277 68h1M267 90h1M194 136h1M249 108h1M280 90h1M278 82h1M291 54h1M247 115h1M247 114h1M195 135h1M246 112h1M251 86h1M288 64h1M285 65h1M199 133h1M207 122h1M232 112h1M274 95h1M210 127h1M273 77h1M254 117h1M284 56h1M228 117h1M235 110h1M199 132h1M247 103h1M273 71h1M246 108h1M247 93h1M288 74h1M273 79h1M225 123h1M291 61h1M268 79h1M224 120h1M215 126h1M263 65h1M245 107h1M255 103h1M206 122h1M272 71h1M282 80h1M236 106h1M224 115h1M294 84h1M294 54h1M206 124h1M249 80h1M238 103h1M222 114h1M247 113h1M262 101h1M231 108h1M225 124h1M283 81h1M261 92h1M224 122h1M209 126h1M233 109h1M290 34h1M279 65h1M215 122h1M256 95h1M193 133h1M287 80h1M291 55h1M215 125h1M228 113h1M224 118h1M212 120h1M264 92h1M232 110h1M193 130h1M216 122h1M262 93h1M266 96h1M194 135h1M250 93h1M259 88h1M259 65h1M261 80h1M274 93h1M228 122h1M281 82h1M239 113h1M199 132h1M261 98h1M228 107h1M259 85h1M232 119h1M245 112h1M250 104h1M266 85h1M224 116h1M262 86h1M217 118h1M275 54h1M217 122h1M200 129h1M197 132h1M255 115h1M226 119h1M253 94h1M225 119h1M238 100h1M283 91h1M289 71h1M197 132h1M291 72h1M245 113h1" stroke="#3d4f60" stroke-opacity="0.45" stroke-width="1.3" transform="translate(-0.15 0.5)"/>
<path d="M211 122h1M291 104h1M217 121h1M285 70h1M230 116h1M223 121h1M272 93h1M245 99h1M207 126h1M280 104h1M250 115h1M252 105h1M232 116h1M279 73h1M257 107h1M200 127h1M285 73h1M252 95h1M221 116h1M197 132h1M197 132h1M205 124h1M219 120h1M248 105h1M216 119h1M275 68h1M247 103h1M237 116h1M237 118h1M218 122h1M249 100h1M217 121h1M226 127h1M246 112h1M259 78h1M227 116h1M268 77h1M230 112h1M288 39h1M208 126h1M253 78h1M230 111h1M240 119h1M205 131h1M228 110h1M212 118h1M263 74h1M273 43h1M275 61h1M288 64h1M233 105h1M259 103h1M292 65h1M245 100h1M247 118h1M261 101h1M196 133h1M281 103h1M236 120h1M271 70h1M206 128h1M244 102h1M252 78h1M273 107h1M255 112h1M257 74h1M289 76h1M221 110h1M239 117h1M284 71h1M240 106h1M254 110h1M245 107h1M294 60h1M263 101h1M273 77h1M196 136h1M234 113h1M270 95h1M210 127h1M274 92h1M289 51h1M272 107h1M268 85h1M221 128h1M205 124h1M290 62h1M237 109h1M287 89h1M262 85h1M290 75h1M195 126h1M276 70h1M270 89h1M251 101h1M210 115h1M214 125h1M289 51h1M233 125h1M271 81h1M294 104h1M216 125h1M200 132h1M196 130h1M238 110h1M279 84h1M276 39h1M254 108h1M193 130h1M218 119h1M208 111h1M209 127h1M206 130h1M196 134h1M245 109h1M228 113h1M229 116h1M221 125h1M275 72h1M223 121h1M209 128h1M222 117h1M219 122h1M229 117h1M232 110h1M216 133h1M258 89h1M209 132h1M287 87h1M285 33h1M244 109h1M269 99h1M215 126h1M223 113h1M287 74h1M242 94h1M270 64h1M277 74h1M266 92h1M240 120h1M232 116h1M199 135h1M283 50h1M265 67h1M199 128h1M280 103h1M222 110h1M281 43h1M208 125h1M195 137h1M282 42h1M285 66h1M244 89h1M288 94h1M202 132h1M208 127h1M294 64h1M291 63h1M265 92h1M228 112h1M267 70h1M193 131h1M230 115h1M281 59h1M216 126h1M206 115h1M244 111h1M263 98h1M225 124h1M278 73h1M287 42h1M215 117h1M233 120h1M280 70h1M245 101h1M270 73h1M225 117h1M278 73h1M280 44h1M273 70h1M284 88h1M233 122h1M246 104h1M277 68h1M268 103h1M249 102h1M196 127h1M215 121h1M240 114h1M271 104h1M287 61h1M295 73h1M233 111h1M293 85h1M232 115h1M212 125h1M289 50h1M204 126h1M242 104h1M258 105h1M281 75h1M248 102h1M239 106h1M228 116h1M258 99h1M251 80h1M246 107h1M263 93h1M245 107h1M265 60h1M245 105h1M273 55h1M214 124h1M230 123h1M224 122h1M284 65h1M253 91h1M291 57h1M251 105h1M290 55h1M270 75h1M224 113h1M296 51h1M224 114h1M271 100h1M257 72h1M230 105h1M203 130h1M197 127h1M194 134h1M250 105h1M251 103h1M204 124h1M197 135h1M195 138h1M253 83h1M271 79h1M286 86h1M241 106h1M270 64h1M217 119h1M198 134h1M253 84h1M227 118h1M234 115h1M205 124h1M265 97h1M285 82h1M270 98h1M207 130h1M221 110h1M213 127h1M296 73h1M233 119h1M208 121h1M277 91h1M215 124h1M201 123h1M231 122h1M196 129h1M240 97h1M238 113h1M225 113h1M251 106h1M275 76h1M228 117h1M221 124h1M259 96h1M236 117h1M220 124h1M291 52h1M214 126h1M234 117h1M223 119h1M277 95h1M262 110h1M287 82h1M221 111h1M279 84h1M262 91h1M204 126h1M219 122h1M280 69h1M238 121h1M209 126h1M206 127h1M223 123h1M260 103h1M207 131h1M209 128h1M282 74h1M220 120h1M264 47h1M279 47h1M271 98h1M258 91h1M239 122h1M266 109h1M231 104h1M272 88h1M265 121h1M205 123h1M193 136h1M262 89h1M242 105h1M256 94h1M262 93h1M241 114h1M206 122h1M253 105h1M223 114h1M245 110h1M196 134h1M293 52h1M212 125h1M296 52h1M275 63h1M233 121h1M252 71h1M215 125h1M194 136h1M244 99h1M200 134h1M211 128h1M199 124h1M250 107h1M262 98h1M293 53h1M218 124h1M280 87h1M254 88h1M194 125h1M231 117h1M295 52h1M269 50h1M262 86h1M266 40h1M292 60h1M249 115h1M207 110h1M198 133h1M252 86h1M211 122h1M290 51h1M294 75h1M251 102h1M256 84h1M206 119h1M277 70h1M237 119h1M271 59h1M237 114h1M276 85h1M205 116h1M294 84h1M264 91h1M229 129h1M235 123h1M215 121h1M246 104h1M286 52h1M242 91h1M227 121h1M241 106h1M236 108h1M237 110h1M246 111h1M268 99h1M267 89h1M196 132h1M291 68h1M229 127h1M238 87h1M246 89h1M287 77h1M197 133h1M281 94h1M263 106h1M248 119h1M235 105h1M248 109h1M266 85h1M240 116h1M289 71h1M252 109h1M240 101h1M287 72h1M196 131h1M287 65h1M243 102h1M207 121h1M265 103h1M219 122h1M243 116h1M249 89h1M294 33h1M264 79h1M240 108h1M260 103h1M261 105h1M208 131h1M233 123h1M211 127h1M205 128h1M227 111h1M197 135h1M212 121h1M212 119h1M249 108h1M237 113h1M204 131h1M296 52h1M271 100h1M264 96h1M260 92h1M269 71h1M213 117h1M269 58h1M231 123h1M214 115h1M223 122h1M279 72h1M236 107h1M284 63h1M296 62h1M291 83h1M243 112h1M252 102h1M256 74h1M202 119h1M272 108h1M276 58h1M214 114h1M228 122h1M259 67h1M292 79h1M230 120h1M284 76h1M200 134h1M250 81h1M224 110h1M283 70h1M212 124h1M203 128h1M232 117h1M272 69h1M269 41h1M228 118h1M269 83h1M208 129h1M240 124h1M284 74h1M210 127h1M218 116h1M230 120h1M215 124h1M248 107h1M237 117h1M255 79h1M195 136h1M278 85h1M234 123h1M200 120h1M257 96h1M211 134h1M215 120h1M272 75h1M200 136h1M291 111h1M218 121h1M256 86h1M205 124h1M297 57h1M292 52h1M261 78h1M221 120h1M230 115h1M253 105h1M222 119h1M254 79h1M287 82h1M208 127h1M221 116h1M293 61h1M282 79h1M196 133h1M203 128h1M260 103h1M280 93h1M295 59h1M206 127h1M242 94h1M246 104h1M282 82h1M243 114h1M197 133h1M201 130h1M245 97h1M207 127h1M246 90h1M254 101h1M245 107h1M253 85h1M194 135h1M265 86h1M197 135h1M245 100h1M208 128h1M235 122h1M277 82h1M280 88h1M285 59h1M265 84h1M248 75h1M276 77h1M200 124h1M196 133h1M268 70h1M237 112h1M219 122h1M294 38h1M215 120h1M219 133h1M291 80h1M272 86h1M290 51h1M292 75h1M234 115h1M218 123h1M251 110h1M233 114h1M228 121h1M253 70h1M286 113h1M250 99h1M228 111h1M212 130h1M279 86h1M259 105h1M215 119h1M277 83h1M201 132h1M202 123h1M223 117h1M274 77h1M247 101h1M265 76h1M287 46h1M295 71h1M280 80h1M238 118h1M249 103h1M193 132h1M201 122h1M238 111h1M227 114h1M247 120h1M193 142h1M291 94h1M243 96h1M210 117h1M259 91h1M253 86h1M266 105h1M296 65h1M238 106h1M193 135h1M214 129h1M235 103h1M219 123h1M243 90h1M258 93h1M247 95h1M198 133h1M195 134h1M196 137h1M264 99h1M235 107h1M250 82h1M234 105h1M265 82h1M296 60h1M257 84h1M214 128h1M268 98h1M215 121h1M264 81h1M252 97h1M194 134h1M212 123h1M216 112h1M232 110h1M285 35h1M267 90h1M243 113h1M235 102h1" stroke="#8d99a8" stroke-opacity="0.5" stroke-width="1" transform="translate(0 0.5)"/>
<path d="M193.7 130.5 195.6 128.5 197.4 126.8 199.3 125.3 201.2 124 203.1 122.8 204.9 121.7 206.8 120.7 208.7 119.8 210.6 118.8 212.4 117.9 214.3 116.9 216.2 116 218.1 114.9 219.9 113.9 221.8 112.7 223.7 111.5 225.6 110.2 227.4 108.8 229.3 107.3 231.2 105.7 233.1 104.1 234.9 102.3 236.8 100.5 238.7 98.6 240.5 96.6 242.4 94.6 244.3 92.4 246.2 90.3 248 88.1 249.9 85.8 251.8 83.5 253.7 81.3 255.5 79 257.4 76.7 259.3 74.4 261.2 72.2 263 70 264.9 67.8 266.8 65.7 268.7 63.7 270.5 61.7 272.4 59.9 274.3 58.1 276.2 56.5 278 54.9 279.9 53.5 281.8 52.1 283.6 50.9 285.5 49.9 287.4 48.9 289.3 48.1 291.1 47.4 293 46.8 294.9 46.3 296.8 45.9" stroke="#d8604a" stroke-opacity="0.2" stroke-width="2.6" fill="none"/>
<path d="M193.7 138.8 195.6 137.5 197.4 136.3 199.3 135.3 201.2 134.2 203.1 133.3 204.9 132.4 206.8 131.5 208.7 130.7 210.6 130 212.4 129.2 214.3 128.5 216.2 127.7 218.1 127 219.9 126.3 221.8 125.6 223.7 124.8 225.6 124.1 227.4 123.3 229.3 122.6 231.2 121.8 233.1 120.9 234.9 120.1 236.8 119.3 238.7 118.4 240.5 117.5 242.4 116.5 244.3 115.6 246.2 114.6 248 113.6 249.9 112.5 251.8 111.5 253.7 110.4 255.5 109.3 257.4 108.2 259.3 107 261.2 105.9 263 104.7 264.9 103.5 266.8 102.3 268.7 101.1 270.5 99.9 272.4 98.7 274.3 97.5 276.2 96.3 278 95 279.9 93.8 281.8 92.6 283.6 91.4 285.5 90.2 287.4 89.1 289.3 87.9 291.1 86.8 293 85.6 294.9 84.5 296.8 83.5" stroke="#d8604a" stroke-opacity="0.2" stroke-width="2.6" fill="none"/>
<path d="M193.7 131.1 195.6 129.2 197.4 127.6 199.3 126.1 201.2 124.8 203.1 123.6 204.9 122.5 206.8 121.5 208.7 120.6 210.6 119.6 212.4 118.7 214.3 117.7 216.2 116.8 218.1 115.8 219.9 114.7 221.8 113.6 223.7 112.4 225.6 111.1 227.4 109.8 229.3 108.4 231.2 106.9 233.1 105.3 234.9 103.7 236.8 102 238.7 100.2 240.5 98.3 242.4 96.4 244.3 94.4 246.2 92.3 248 90.2 249.9 88.1 251.8 86 253.7 83.8 255.5 81.6 257.4 79.4 259.3 77.2 261.2 75 263 72.9 264.9 70.8 266.8 68.8 268.7 66.8 270.5 64.8 272.4 63 274.3 61.2 276.2 59.5 278 57.9 279.9 56.4 281.8 55 283.6 53.7 285.5 52.6 287.4 51.5 289.3 50.6 291.1 49.8 293 49.1 294.9 48.6 296.8 48.1" stroke="#b05040" stroke-opacity="0.14" stroke-width="2.4" fill="none"/>
<path d="M193.7 138.3 195.6 137.1 197.4 135.9 199.3 134.8 201.2 133.8 203.1 132.8 204.9 131.9 206.8 131 208.7 130.2 210.6 129.4 212.4 128.6 214.3 127.8 216.2 127.1 218.1 126.3 219.9 125.6 221.8 124.8 223.7 124.1 225.6 123.3 227.4 122.5 229.3 121.7 231.2 120.9 233.1 120.1 234.9 119.2 236.8 118.4 238.7 117.5 240.5 116.5 242.4 115.6 244.3 114.6 246.2 113.6 248 112.5 249.9 111.5 251.8 110.4 253.7 109.3 255.5 108.1 257.4 106.9 259.3 105.7 261.2 104.5 263 103.3 264.9 102 266.8 100.8 268.7 99.5 270.5 98.2 272.4 96.9 274.3 95.6 276.2 94.3 278 93 279.9 91.7 281.8 90.4 283.6 89.1 285.5 87.9 287.4 86.7 289.3 85.4 291.1 84.3 293 83.1 294.9 82 296.8 80.9" stroke="#b05040" stroke-opacity="0.14" stroke-width="2.4" fill="none"/>
<path d="M193.7 132 195.6 130.3 197.4 128.7 199.3 127.3 201.2 126.1 203.1 124.9 204.9 123.8 206.8 122.8 208.7 121.8 210.6 120.9 212.4 119.9 214.3 119 216.2 118 218.1 117 219.9 116 221.8 114.9 223.7 113.8 225.6 112.6 227.4 111.4 229.3 110.1 231.2 108.7 233.1 107.3 234.9 105.8 236.8 104.2 238.7 102.6 240.5 100.9 242.4 99.2 244.3 97.4 246.2 95.5 248 93.6 249.9 91.6 251.8 89.7 253.7 87.7 255.5 85.6 257.4 83.6 259.3 81.5 261.2 79.5 263 77.5 264.9 75.4 266.8 73.4 268.7 71.5 270.5 69.6 272.4 67.7 274.3 65.9 276.2 64.2 278 62.5 279.9 60.9 281.8 59.4 283.6 58 285.5 56.7 287.4 55.6 289.3 54.5 291.1 53.6 293 52.7 294.9 52 296.8 51.5" stroke="#e0a060" stroke-opacity="0.16" stroke-width="2.6" fill="none"/>
<path d="M193.7 137.6 195.6 136.4 197.4 135.2 199.3 134.1 201.2 133.1 203.1 132 204.9 131.1 206.8 130.2 208.7 129.3 210.6 128.4 212.4 127.6 214.3 126.8 216.2 126 218.1 125.2 219.9 124.4 221.8 123.7 223.7 122.9 225.6 122.1 227.4 121.3 229.3 120.5 231.2 119.6 233.1 118.8 234.9 117.9 236.8 117 238.7 116.1 240.5 115.1 242.4 114.1 244.3 113.1 246.2 112.1 248 111 249.9 109.8 251.8 108.7 253.7 107.5 255.5 106.3 257.4 105 259.3 103.8 261.2 102.5 263 101.1 264.9 99.8 266.8 98.4 268.7 97 270.5 95.6 272.4 94.1 274.3 92.7 276.2 91.3 278 89.8 279.9 88.4 281.8 87 283.6 85.6 285.5 84.3 287.4 82.9 289.3 81.6 291.1 80.4 293 79.2 294.9 78.1 296.8 77.1" stroke="#e0a060" stroke-opacity="0.16" stroke-width="2.6" fill="none"/>
<path d="M193.7 133.5 195.6 132.1 197.4 130.7 199.3 129.4 201.2 128.2 203.1 127 204.9 125.9 206.8 124.9 208.7 123.9 210.6 122.9 212.4 121.9 214.3 121 216.2 120 218.1 119.1 219.9 118.1 221.8 117.1 223.7 116.1 225.6 115.1 227.4 114 229.3 112.9 231.2 111.7 233.1 110.5 234.9 109.3 236.8 108 238.7 106.7 240.5 105.3 242.4 103.8 244.3 102.3 246.2 100.8 248 99.2 249.9 97.6 251.8 95.9 253.7 94.1 255.5 92.4 257.4 90.6 259.3 88.8 261.2 86.9 263 85 264.9 83.2 266.8 81.3 268.7 79.4 270.5 77.5 272.4 75.6 274.3 73.8 276.2 72 278 70.2 279.9 68.5 281.8 66.8 283.6 65.2 285.5 63.7 287.4 62.3 289.3 61 291.1 59.8 293 58.8 294.9 57.9 296.8 57.1" stroke="#4a7090" stroke-opacity="0.14" stroke-width="2.4" fill="none"/>
<path d="M193.7 136.5 195.6 135.3 197.4 134.1 199.3 132.9 201.2 131.8 203.1 130.8 204.9 129.8 206.8 128.8 208.7 127.8 210.6 126.9 212.4 126 214.3 125.1 216.2 124.3 218.1 123.4 219.9 122.6 221.8 121.7 223.7 120.9 225.6 120.1 227.4 119.2 229.3 118.3 231.2 117.5 233.1 116.6 234.9 115.7 236.8 114.7 238.7 113.7 240.5 112.7 242.4 111.7 244.3 110.6 246.2 109.5 248 108.3 249.9 107.1 251.8 105.9 253.7 104.6 255.5 103.3 257.4 101.9 259.3 100.5 261.2 99 263 97.5 264.9 96 266.8 94.4 268.7 92.8 270.5 91.2 272.4 89.5 274.3 87.9 276.2 86.2 278 84.6 279.9 82.9 281.8 81.3 283.6 79.7 285.5 78.2 287.4 76.7 289.3 75.3 291.1 74 293 72.7 294.9 71.6 296.8 70.6" stroke="#4a7090" stroke-opacity="0.14" stroke-width="2.4" fill="none"/>
<path d="M193.7 130.5 195.6 128.5 197.4 126.8 199.3 125.3 201.2 124 203.1 122.8 204.9 121.7 206.8 120.7 208.7 119.8 210.6 118.8 212.4 117.9 214.3 116.9 216.2 116 218.1 114.9 219.9 113.9 221.8 112.7 223.7 111.5 225.6 110.2 227.4 108.8 229.3 107.3 231.2 105.7 233.1 104.1 234.9 102.3 236.8 100.5 238.7 98.6 240.5 96.6 242.4 94.6 244.3 92.4 246.2 90.3 248 88.1 249.9 85.8 251.8 83.5 253.7 81.3 255.5 79 257.4 76.7 259.3 74.4 261.2 72.2 263 70 264.9 67.8 266.8 65.7 268.7 63.7 270.5 61.7 272.4 59.9 274.3 58.1 276.2 56.5 278 54.9 279.9 53.5 281.8 52.1 283.6 50.9 285.5 49.9 287.4 48.9 289.3 48.1 291.1 47.4 293 46.8 294.9 46.3 296.8 45.9" stroke="#bd3629" stroke-width="1.1" fill="none"/>
<path d="M193.7 138.8 195.6 137.5 197.4 136.3 199.3 135.3 201.2 134.2 203.1 133.3 204.9 132.4 206.8 131.5 208.7 130.7 210.6 130 212.4 129.2 214.3 128.5 216.2 127.7 218.1 127 219.9 126.3 221.8 125.6 223.7 124.8 225.6 124.1 227.4 123.3 229.3 122.6 231.2 121.8 233.1 120.9 234.9 120.1 236.8 119.3 238.7 118.4 240.5 117.5 242.4 116.5 244.3 115.6 246.2 114.6 248 113.6 249.9 112.5 251.8 111.5 253.7 110.4 255.5 109.3 257.4 108.2 259.3 107 261.2 105.9 263 104.7 264.9 103.5 266.8 102.3 268.7 101.1 270.5 99.9 272.4 98.7 274.3 97.5 276.2 96.3 278 95 279.9 93.8 281.8 92.6 283.6 91.4 285.5 90.2 287.4 89.1 289.3 87.9 291.1 86.8 293 85.6 294.9 84.5 296.8 83.5" stroke="#bd3629" stroke-width="1.1" fill="none"/>
<path d="M193.7 131.1 195.6 129.2 197.4 127.6 199.3 126.1 201.2 124.8 203.1 123.6 204.9 122.5 206.8 121.5 208.7 120.6 210.6 119.6 212.4 118.7 214.3 117.7 216.2 116.8 218.1 115.8 219.9 114.7 221.8 113.6 223.7 112.4 225.6 111.1 227.4 109.8 229.3 108.4 231.2 106.9 233.1 105.3 234.9 103.7 236.8 102 238.7 100.2 240.5 98.3 242.4 96.4 244.3 94.4 246.2 92.3 248 90.2 249.9 88.1 251.8 86 253.7 83.8 255.5 81.6 257.4 79.4 259.3 77.2 261.2 75 263 72.9 264.9 70.8 266.8 68.8 268.7 66.8 270.5 64.8 272.4 63 274.3 61.2 276.2 59.5 278 57.9 279.9 56.4 281.8 55 283.6 53.7 285.5 52.6 287.4 51.5 289.3 50.6 291.1 49.8 293 49.1 294.9 48.6 296.8 48.1" stroke="#8c2a22" stroke-width="1.0" fill="none"/>
<path d="M193.7 138.3 195.6 137.1 197.4 135.9 199.3 134.8 201.2 133.8 203.1 132.8 204.9 131.9 206.8 131 208.7 130.2 210.6 129.4 212.4 128.6 214.3 127.8 216.2 127.1 218.1 126.3 219.9 125.6 221.8 124.8 223.7 124.1 225.6 123.3 227.4 122.5 229.3 121.7 231.2 120.9 233.1 120.1 234.9 119.2 236.8 118.4 238.7 117.5 240.5 116.5 242.4 115.6 244.3 114.6 246.2 113.6 248 112.5 249.9 111.5 251.8 110.4 253.7 109.3 255.5 108.1 257.4 106.9 259.3 105.7 261.2 104.5 263 103.3 264.9 102 266.8 100.8 268.7 99.5 270.5 98.2 272.4 96.9 274.3 95.6 276.2 94.3 278 93 279.9 91.7 281.8 90.4 283.6 89.1 285.5 87.9 287.4 86.7 289.3 85.4 291.1 84.3 293 83.1 294.9 82 296.8 80.9" stroke="#8c2a22" stroke-width="1.0" fill="none"/>
<path d="M193.7 132 195.6 130.3 197.4 128.7 199.3 127.3 201.2 126.1 203.1 124.9 204.9 123.8 206.8 122.8 208.7 121.8 210.6 120.9 212.4 119.9 214.3 119 216.2 118 218.1 117 219.9 116 221.8 114.9 223.7 113.8 225.6 112.6 227.4 111.4 229.3 110.1 231.2 108.7 233.1 107.3 234.9 105.8 236.8 104.2 238.7 102.6 240.5 100.9 242.4 99.2 244.3 97.4 246.2 95.5 248 93.6 249.9 91.6 251.8 89.7 253.7 87.7 255.5 85.6 257.4 83.6 259.3 81.5 261.2 79.5 263 77.5 264.9 75.4 266.8 73.4 268.7 71.5 270.5 69.6 272.4 67.7 274.3 65.9 276.2 64.2 278 62.5 279.9 60.9 281.8 59.4 283.6 58 285.5 56.7 287.4 55.6 289.3 54.5 291.1 53.6 293 52.7 294.9 52 296.8 51.5" stroke="#dc9150" stroke-width="0.95" fill="none"/>
<path d="M193.7 137.6 195.6 136.4 197.4 135.2 199.3 134.1 201.2 133.1 203.1 132 204.9 131.1 206.8 130.2 208.7 129.3 210.6 128.4 212.4 127.6 214.3 126.8 216.2 126 218.1 125.2 219.9 124.4 221.8 123.7 223.7 122.9 225.6 122.1 227.4 121.3 229.3 120.5 231.2 119.6 233.1 118.8 234.9 117.9 236.8 117 238.7 116.1 240.5 115.1 242.4 114.1 244.3 113.1 246.2 112.1 248 111 249.9 109.8 251.8 108.7 253.7 107.5 255.5 106.3 257.4 105 259.3 103.8 261.2 102.5 263 101.1 264.9 99.8 266.8 98.4 268.7 97 270.5 95.6 272.4 94.1 274.3 92.7 276.2 91.3 278 89.8 279.9 88.4 281.8 87 283.6 85.6 285.5 84.3 287.4 82.9 289.3 81.6 291.1 80.4 293 79.2 294.9 78.1 296.8 77.1" stroke="#dc9150" stroke-width="0.95" fill="none"/>
<path d="M193.7 133.5 195.6 132.1 197.4 130.7 199.3 129.4 201.2 128.2 203.1 127 204.9 125.9 206.8 124.9 208.7 123.9 210.6 122.9 212.4 121.9 214.3 121 216.2 120 218.1 119.1 219.9 118.1 221.8 117.1 223.7 116.1 225.6 115.1 227.4 114 229.3 112.9 231.2 111.7 233.1 110.5 234.9 109.3 236.8 108 238.7 106.7 240.5 105.3 242.4 103.8 244.3 102.3 246.2 100.8 248 99.2 249.9 97.6 251.8 95.9 253.7 94.1 255.5 92.4 257.4 90.6 259.3 88.8 261.2 86.9 263 85 264.9 83.2 266.8 81.3 268.7 79.4 270.5 77.5 272.4 75.6 274.3 73.8 276.2 72 278 70.2 279.9 68.5 281.8 66.8 283.6 65.2 285.5 63.7 287.4 62.3 289.3 61 291.1 59.8 293 58.8 294.9 57.9 296.8 57.1" stroke="#3a6486" stroke-width="0.9" fill="none"/>
<path d="M193.7 136.5 195.6 135.3 197.4 134.1 199.3 132.9 201.2 131.8 203.1 130.8 204.9 129.8 206.8 128.8 208.7 127.8 210.6 126.9 212.4 126 214.3 125.1 216.2 124.3 218.1 123.4 219.9 122.6 221.8 121.7 223.7 120.9 225.6 120.1 227.4 119.2 229.3 118.3 231.2 117.5 233.1 116.6 234.9 115.7 236.8 114.7 238.7 113.7 240.5 112.7 242.4 111.7 244.3 110.6 246.2 109.5 248 108.3 249.9 107.1 251.8 105.9 253.7 104.6 255.5 103.3 257.4 101.9 259.3 100.5 261.2 99 263 97.5 264.9 96 266.8 94.4 268.7 92.8 270.5 91.2 272.4 89.5 274.3 87.9 276.2 86.2 278 84.6 279.9 82.9 281.8 81.3 283.6 79.7 285.5 78.2 287.4 76.7 289.3 75.3 291.1 74 293 72.7 294.9 71.6 296.8 70.6" stroke="#3a6486" stroke-width="0.9" fill="none"/>
<path d="M193.7 135.3 195.6 134 197.4 132.8 199.3 131.7 201.2 130.5 203.1 129.4 204.9 128.3 206.8 127.2 208.7 126.2 210.6 125.2 212.4 124.2 214.3 123.3 216.2 122.3 218.1 121.4 219.9 120.5 221.8 119.6 223.7 118.7 225.6 117.8 227.4 116.9 229.3 116 231.2 115.1 233.1 114.1 234.9 113.2 236.8 112.2 238.7 111.2 240.5 110.1 242.4 109 244.3 107.8 246.2 106.7 248 105.4 249.9 104.1 251.8 102.8 253.7 101.4 255.5 99.9 257.4 98.4 259.3 96.8 261.2 95.2 263 93.5 264.9 91.7 266.8 90 268.7 88.1 270.5 86.3 272.4 84.4 274.3 82.5 276.2 80.6 278 78.7 279.9 76.9 281.8 75 283.6 73.2 285.5 71.5 287.4 69.8 289.3 68.2 291.1 66.8 293 65.5 294.9 64.4 296.8 63.4" stroke="#0d0d0d" stroke-width="1.15" fill="none"/>
<linearGradient id="g0297" gradientUnits="userSpaceOnUse" x1="346.3" y1="0" x2="449.4" y2="0"><stop offset="0.000" stop-color="#2c4555" stop-opacity="0.090"/><stop offset="0.073" stop-color="#2c4555" stop-opacity="0.092"/><stop offset="0.145" stop-color="#2c4555" stop-opacity="0.098"/><stop offset="0.218" stop-color="#2c4555" stop-opacity="0.107"/><stop offset="0.291" stop-color="#2c4555" stop-opacity="0.117"/><stop offset="0.364" stop-color="#2c4555" stop-opacity="0.124"/><stop offset="0.436" stop-color="#2c4555" stop-opacity="0.125"/><stop offset="0.509" stop-color="#2c4555" stop-opacity="0.119"/><stop offset="0.582" stop-color="#2c4555" stop-opacity="0.106"/><stop offset="0.655" stop-color="#2c4555" stop-opacity="0.092"/><stop offset="0.727" stop-color="#2c4555" stop-opacity="0.079"/><stop offset="0.800" stop-color="#2c4555" stop-opacity="0.068"/><stop offset="0.873" stop-color="#2c4555" stop-opacity="0.059"/><stop offset="0.945" stop-color="#2c4555" stop-opacity="0.054"/></linearGradient>
<path d="M346.3 80.3 348.2 80.6 350 81.1 351.9 81.8 353.8 82.5 355.7 83.3 357.5 84.2 359.4 85.1 361.3 86.1 363.2 87 365 88 366.9 89 368.8 89.9 370.7 90.8 372.5 91.7 374.4 92.5 376.3 93.2 378.2 93.8 380 94.4 381.9 94.8 383.8 95.2 385.7 95.4 387.5 95.5 389.4 95.5 391.3 95.4 393.1 95.2 395 94.8 396.9 94.3 398.8 93.7 400.6 93 402.5 92.1 404.4 91.1 406.3 90 408.1 88.7 410 87.4 411.9 85.9 413.8 84.4 415.6 82.7 417.5 81 419.4 79.2 421.3 77.3 423.1 75.4 425 73.4 426.9 71.4 428.8 69.4 430.6 67.3 432.5 65.3 434.4 63.3 436.2 61.3 438.1 59.4 440 57.6 441.9 55.8 443.7 54.2 445.6 52.7 447.5 51.4 449.4 50.2 449.4 112.9 447.5 113.3 445.6 113.6 443.7 114 441.9 114.3 440 114.7 438.1 115 436.2 115.4 434.4 115.7 432.5 116.1 430.6 116.4 428.8 116.7 426.9 117.1 425 117.4 423.1 117.7 421.3 118 419.4 118.3 417.5 118.6 415.6 118.9 413.8 119.1 411.9 119.4 410 119.6 408.1 119.8 406.3 120 404.4 120.2 402.5 120.3 400.6 120.5 398.8 120.6 396.9 120.7 395 120.8 393.1 120.9 391.3 120.9 389.4 121 387.5 121 385.7 121 383.8 120.9 381.9 120.9 380 120.8 378.2 120.7 376.3 120.6 374.4 120.4 372.5 120.3 370.7 120.1 368.8 119.9 366.9 119.6 365 119.4 363.2 119.1 361.3 118.8 359.4 118.5 357.5 118.2 355.7 117.8 353.8 117.4 351.9 117 350 116.6 348.2 116.2 346.3 115.7 Z" fill="url(#g0297)"/>
<linearGradient id="g0290" gradientUnits="userSpaceOnUse" x1="346.3" y1="0" x2="449.4" y2="0"><stop offset="0.000" stop-color="#2c4555" stop-opacity="0.144"/><stop offset="0.073" stop-color="#2c4555" stop-opacity="0.146"/><stop offset="0.145" stop-color="#2c4555" stop-opacity="0.156"/><stop offset="0.218" stop-color="#2c4555" stop-opacity="0.171"/><stop offset="0.291" stop-color="#2c4555" stop-opacity="0.187"/><stop offset="0.364" stop-color="#2c4555" stop-opacity="0.199"/><stop offset="0.436" stop-color="#2c4555" stop-opacity="0.200"/><stop offset="0.509" stop-color="#2c4555" stop-opacity="0.190"/><stop offset="0.582" stop-color="#2c4555" stop-opacity="0.170"/><stop offset="0.655" stop-color="#2c4555" stop-opacity="0.147"/><stop offset="0.727" stop-color="#2c4555" stop-opacity="0.126"/><stop offset="0.800" stop-color="#2c4555" stop-opacity="0.108"/><stop offset="0.873" stop-color="#2c4555" stop-opacity="0.095"/><stop offset="0.945" stop-color="#2c4555" stop-opacity="0.086"/></linearGradient>
<path d="M346.3 86.7 348.2 87.1 350 87.6 351.9 88.2 353.8 88.9 355.7 89.6 357.5 90.4 359.4 91.2 361.3 92 363.2 92.8 365 93.7 366.9 94.5 368.8 95.2 370.7 96 372.5 96.7 374.4 97.3 376.3 97.9 378.2 98.4 380 98.9 381.9 99.3 383.8 99.5 385.7 99.7 387.5 99.8 389.4 99.8 391.3 99.7 393.1 99.5 395 99.2 396.9 98.8 398.8 98.3 400.6 97.7 402.5 96.9 404.4 96.1 406.3 95.2 408.1 94.2 410 93.1 411.9 91.9 413.8 90.6 415.6 89.2 417.5 87.8 419.4 86.3 421.3 84.7 423.1 83.1 425 81.5 426.9 79.8 428.8 78.1 430.6 76.4 432.5 74.6 434.4 72.9 436.2 71.2 438.1 69.6 440 68 441.9 66.4 443.7 64.9 445.6 63.6 447.5 62.3 449.4 61.1 449.4 103.9 447.5 104.5 445.6 105 443.7 105.6 441.9 106.2 440 106.8 438.1 107.4 436.2 108 434.4 108.6 432.5 109.2 430.6 109.8 428.8 110.3 426.9 110.9 425 111.4 423.1 112 421.3 112.5 419.4 112.9 417.5 113.4 415.6 113.8 413.8 114.3 411.9 114.6 410 115 408.1 115.4 406.3 115.7 404.4 115.9 402.5 116.2 400.6 116.4 398.8 116.6 396.9 116.8 395 116.9 393.1 117 391.3 117.1 389.4 117.1 387.5 117.2 385.7 117.1 383.8 117.1 381.9 117 380 116.9 378.2 116.8 376.3 116.6 374.4 116.4 372.5 116.2 370.7 115.9 368.8 115.6 366.9 115.3 365 115 363.2 114.7 361.3 114.3 359.4 113.9 357.5 113.5 355.7 113.1 353.8 112.7 351.9 112.2 350 111.8 348.2 111.3 346.3 110.8 Z" fill="url(#g0290)"/>
<linearGradient id="g0275" gradientUnits="userSpaceOnUse" x1="346.3" y1="0" x2="449.4" y2="0"><stop offset="0.000" stop-color="#2c4555" stop-opacity="0.180"/><stop offset="0.073" stop-color="#2c4555" stop-opacity="0.183"/><stop offset="0.145" stop-color="#2c4555" stop-opacity="0.195"/><stop offset="0.218" stop-color="#2c4555" stop-opacity="0.214"/><stop offset="0.291" stop-color="#2c4555" stop-opacity="0.233"/><stop offset="0.364" stop-color="#2c4555" stop-opacity="0.248"/><stop offset="0.436" stop-color="#2c4555" stop-opacity="0.251"/><stop offset="0.509" stop-color="#2c4555" stop-opacity="0.238"/><stop offset="0.582" stop-color="#2c4555" stop-opacity="0.213"/><stop offset="0.655" stop-color="#2c4555" stop-opacity="0.184"/><stop offset="0.727" stop-color="#2c4555" stop-opacity="0.157"/><stop offset="0.800" stop-color="#2c4555" stop-opacity="0.135"/><stop offset="0.873" stop-color="#2c4555" stop-opacity="0.118"/><stop offset="0.945" stop-color="#2c4555" stop-opacity="0.107"/></linearGradient>
<path d="M346.3 93.2 348.2 93.6 350 94.2 351.9 94.7 353.8 95.3 355.7 96 357.5 96.7 359.4 97.3 361.3 98 363.2 98.7 365 99.4 366.9 100 368.8 100.6 370.7 101.2 372.5 101.8 374.4 102.3 376.3 102.7 378.2 103.1 380 103.5 381.9 103.7 383.8 104 385.7 104.1 387.5 104.2 389.4 104.1 391.3 104.1 393.1 103.9 395 103.6 396.9 103.3 398.8 102.9 400.6 102.4 402.5 101.9 404.4 101.2 406.3 100.5 408.1 99.7 410 98.8 411.9 97.9 413.8 96.9 415.6 95.8 417.5 94.7 419.4 93.5 421.3 92.2 423.1 91 425 89.6 426.9 88.3 428.8 86.9 430.6 85.5 432.5 84.1 434.4 82.7 436.2 81.2 438.1 79.8 440 78.5 441.9 77.1 443.7 75.8 445.6 74.5 447.5 73.3 449.4 72.2 449.4 94.7 447.5 95.5 445.6 96.4 443.7 97.2 441.9 98.1 440 98.9 438.1 99.8 436.2 100.6 434.4 101.5 432.5 102.3 430.6 103.1 428.8 103.9 426.9 104.7 425 105.4 423.1 106.1 421.3 106.8 419.4 107.5 417.5 108.1 415.6 108.8 413.8 109.3 411.9 109.9 410 110.4 408.1 110.8 406.3 111.3 404.4 111.7 402.5 112 400.6 112.3 398.8 112.6 396.9 112.8 395 113 393.1 113.1 391.3 113.2 389.4 113.3 387.5 113.3 385.7 113.3 383.8 113.2 381.9 113.1 380 112.9 378.2 112.8 376.3 112.6 374.4 112.3 372.5 112 370.7 111.7 368.8 111.4 366.9 111 365 110.6 363.2 110.2 361.3 109.8 359.4 109.3 357.5 108.8 355.7 108.4 353.8 107.9 351.9 107.4 350 106.9 348.2 106.4 346.3 105.9 Z" fill="url(#g0275)"/>
<path d="M351 119h1M416 88h1M378 130h1M420 122h1M416 91h1M416 102h1M430 93h1M362 112h1M364 92h1M399 111h1M363 114h1M398 103h1M373 73h1M448 71h1M433 87h1M427 105h1M436 80h1M371 96h1M401 112h1M409 108h1M350 107h1M371 107h1M431 107h1M372 111h1M440 56h1M394 109h1M397 113h1M358 104h1M434 111h1M388 105h1M368 111h1M363 92h1M362 104h1M426 89h1M383 100h1M407 93h1M381 110h1M442 94h1M399 102h1M394 98h1M444 70h1M430 104h1M447 44h1M425 110h1M369 79h1M393 110h1M428 104h1M369 115h1M392 105h1M359 95h1M391 89h1M403 113h1M363 103h1M408 101h1M361 100h1M397 109h1M417 102h1M421 112h1M390 92h1M363 111h1M447 67h1M402 106h1M396 105h1M349 99h1M424 106h1M427 99h1M420 81h1M393 108h1M394 107h1M431 99h1M442 88h1M407 105h1M412 113h1M433 75h1M381 123h1M364 99h1M424 73h1M409 111h1M381 116h1M433 109h1M424 114h1M349 105h1M398 108h1M419 105h1M440 89h1M419 94h1M370 118h1M361 119h1M446 86h1M435 88h1M389 105h1M388 95h1M425 88h1M412 98h1M373 107h1M396 100h1M447 48h1M392 113h1M347 115h1M356 62h1M361 103h1M413 111h1M384 99h1M414 87h1M375 108h1M428 93h1M397 103h1M443 112h1M425 114h1M395 113h1M447 84h1M379 105h1M394 114h1M382 107h1M349 114h1M378 117h1M353 95h1M357 114h1M358 116h1M384 113h1M403 98h1M404 102h1M412 101h1M365 106h1M375 108h1M358 100h1M440 102h1M362 116h1M411 99h1M397 96h1M353 105h1M432 95h1M398 111h1M404 101h1M423 102h1M377 95h1M386 116h1M360 118h1M437 75h1M385 89h1M434 80h1M434 85h1M388 111h1M407 106h1M370 111h1M395 128h1M378 104h1M442 82h1M415 107h1M439 57h1M371 113h1M367 100h1M345 84h1M406 93h1M376 112h1M374 119h1M392 117h1M404 110h1M424 90h1M438 99h1M365 105h1M397 125h1M441 51h1M378 120h1M403 113h1M392 112h1M423 99h1M421 93h1M387 102h1M373 94h1M411 122h1M443 103h1M387 114h1M397 111h1M371 90h1M438 87h1M351 105h1M385 117h1M355 92h1M391 111h1M408 104h1M357 104h1M415 95h1M373 110h1M367 107h1M380 94h1M442 107h1M437 122h1M377 101h1M348 112h1M355 93h1M392 105h1M348 128h1M417 107h1M408 118h1M388 111h1M361 113h1M445 85h1M384 119h1M371 121h1M448 97h1M423 88h1M402 105h1M382 102h1M429 104h1M418 107h1M437 80h1M447 102h1M406 102h1M431 118h1M440 103h1M367 119h1M411 98h1M434 78h1M429 69h1M422 107h1M393 100h1M435 111h1M396 110h1M376 114h1M392 99h1M431 87h1M353 105h1M347 108h1M352 88h1M359 108h1M369 95h1M360 112h1M347 99h1M373 106h1M408 110h1M423 113h1M395 107h1M442 122h1M350 91h1M437 97h1M350 90h1M408 108h1M367 98h1M420 102h1M423 107h1M430 82h1M376 84h1M362 104h1M424 105h1M417 105h1M393 102h1M390 115h1M397 106h1M445 100h1M358 95h1M407 110h1M435 109h1M356 97h1M423 97h1M431 104h1M371 112h1M381 112h1M390 108h1M448 56h1M440 91h1M442 66h1M383 110h1M437 51h1M397 119h1M407 122h1M414 108h1M422 83h1M380 106h1M384 115h1M358 110h1M436 82h1M392 117h1M445 108h1M373 112h1M411 102h1M449 86h1M418 94h1M439 94h1M442 78h1M401 117h1M364 106h1M411 107h1M413 110h1M379 111h1M364 92h1M382 125h1M427 100h1M378 102h1M428 83h1M383 101h1M429 88h1M409 106h1M443 73h1M369 109h1M426 103h1M392 104h1M367 124h1M363 105h1M371 110h1M416 104h1M434 92h1M377 113h1M381 119h1M358 104h1M400 101h1M357 108h1M378 91h1M440 93h1M399 107h1M378 111h1M424 79h1M345 96h1M422 87h1M429 89h1M396 113h1M367 105h1M369 101h1M439 108h1M420 102h1M447 48h1M365 96h1M389 112h1M427 103h1M406 110h1M396 110h1M359 95h1M443 87h1M367 95h1M420 90h1M408 97h1M427 85h1M426 94h1M393 107h1M401 101h1M353 112h1M423 93h1M375 119h1M358 112h1M350 88h1M376 114h1M359 89h1M363 116h1M387 111h1M381 95h1M373 88h1M364 101h1M409 83h1M401 115h1M386 99h1M365 103h1M427 103h1M356 103h1M385 110h1M367 103h1M421 107h1M401 99h1M440 97h1M415 89h1M412 105h1M353 89h1M346 98h1M412 109h1M427 120h1M435 61h1M448 69h1M437 74h1M403 116h1M417 91h1M382 113h1M447 68h1M447 57h1M419 102h1M369 96h1M404 112h1M417 115h1M430 111h1M412 93h1M428 114h1M426 115h1M413 83h1M357 121h1M422 116h1M394 94h1M428 100h1M357 88h1M396 107h1M378 109h1M396 112h1M448 69h1M425 97h1M437 74h1M433 98h1M352 107h1M420 101h1M423 119h1M424 106h1M372 109h1M384 116h1M413 90h1M374 107h1M398 93h1M388 108h1M353 96h1M353 109h1M367 101h1M393 103h1M441 87h1M425 96h1M377 111h1M427 83h1M429 72h1M442 58h1M418 112h1M410 92h1M415 97h1M353 89h1M407 112h1M350 94h1M411 114h1M415 95h1M385 110h1M363 115h1M399 114h1M362 92h1M385 106h1M419 100h1M349 79h1M443 98h1M438 96h1M383 112h1M431 72h1M430 97h1M419 105h1M389 115h1M383 104h1M366 111h1M429 118h1M415 97h1M446 78h1M410 101h1M346 83h1M366 102h1M350 115h1M375 94h1M405 104h1M403 116h1M408 110h1M384 110h1M440 83h1M391 107h1M370 107h1M388 113h1M385 109h1M364 112h1M405 89h1M400 113h1M347 94h1M376 108h1M357 99h1M381 113h1M363 103h1M352 111h1M384 102h1M350 103h1M352 112h1M421 111h1M369 103h1M425 99h1M389 104h1M405 105h1M432 94h1M356 113h1M348 105h1M382 118h1M445 110h1M383 98h1M388 111h1M409 101h1M345 81h1M407 95h1M414 98h1M440 113h1M412 104h1M415 101h1M355 102h1M392 103h1M367 107h1M377 107h1M353 83h1M386 104h1M361 131h1M377 112h1M349 100h1M447 96h1M388 101h1M380 109h1M417 110h1M423 76h1M416 94h1M378 105h1M402 104h1M390 105h1M424 101h1M386 115h1M441 93h1M388 115h1M368 114h1M436 82h1M352 106h1M449 77h1M448 95h1M397 105h1M378 105h1M357 117h1M392 107h1M420 80h1M367 107h1M417 105h1M378 104h1M402 107h1M428 116h1M396 104h1M414 101h1M381 103h1M406 108h1M430 93h1M437 75h1M444 84h1M375 130h1M356 84h1M348 85h1M361 107h1M420 83h1M365 120h1M425 77h1M351 87h1M427 89h1M388 116h1M362 115h1M407 110h1M424 102h1M351 120h1M388 95h1M355 105h1M445 108h1M390 100h1M394 110h1M407 115h1M431 110h1M443 85h1M387 121h1M389 112h1M432 107h1M422 85h1M416 93h1M429 84h1M442 114h1M351 75h1M405 78h1M373 113h1M441 91h1M347 67h1M387 106h1M394 106h1M354 112h1M380 93h1M385 105h1M356 112h1M425 106h1M382 101h1M393 105h1M429 73h1M440 108h1M372 103h1M424 112h1M376 113h1M444 70h1M441 86h1M397 112h1M355 106h1M434 112h1M417 112h1M428 100h1M399 112h1M445 73h1M382 104h1M425 104h1M356 106h1M441 69h1M380 108h1M360 96h1M389 104h1M359 114h1M405 98h1M411 93h1M370 111h1M355 103h1M433 96h1M416 74h1M410 105h1M445 80h1M357 94h1M400 103h1M351 98h1M436 103h1M433 117h1M386 109h1M407 117h1M422 101h1M413 77h1M418 102h1M373 116h1M421 114h1M423 88h1M396 123h1M402 101h1M388 103h1M409 100h1M440 110h1M349 104h1M425 108h1M421 71h1M390 108h1M367 105h1M410 115h1M425 92h1M361 114h1M404 101h1M423 81h1M373 93h1M431 110h1M402 117h1M353 94h1M432 108h1M349 99h1M431 93h1M403 94h1M346 90h1M361 105h1M358 106h1M413 98h1M425 116h1M383 118h1M412 96h1M404 110h1M435 68h1M370 110h1M358 94h1M388 108h1M432 97h1M372 105h1M430 108h1M355 94h1M435 85h1M392 111h1M432 94h1M394 110h1M400 105h1M418 92h1M363 110h1M348 102h1M386 115h1M359 115h1M369 104h1M363 98h1M357 99h1M434 76h1M410 85h1M382 120h1M438 97h1M346 120h1M440 74h1M428 103h1M394 110h1M443 87h1M381 115h1M360 105h1M356 103h1M421 102h1M376 90h1M373 97h1M429 85h1M436 114h1M385 113h1M381 114h1M399 112h1M387 107h1M437 113h1M401 106h1M373 95h1M346 106h1M444 105h1M380 109h1M443 93h1M438 104h1M390 119h1M369 111h1M421 117h1M355 105h1M352 120h1M348 86h1M404 114h1M427 101h1M413 105h1M442 66h1M354 111h1M422 98h1M418 90h1M420 93h1M399 106h1M359 105h1M381 102h1M371 99h1M445 98h1M426 97h1M440 117h1M405 101h1M351 108h1M423 117h1M383 107h1M413 112h1M391 111h1M404 107h1M362 117h1M439 73h1M378 101h1M435 63h1M440 88h1M405 114h1M362 103h1M387 118h1M398 102h1M376 116h1M353 101h1M444 79h1M408 118h1M399 108h1M356 108h1M400 109h1M429 104h1M364 106h1M441 68h1M366 108h1M359 111h1M425 103h1M365 104h1M437 115h1M373 101h1M354 105h1M410 107h1M347 81h1M357 91h1M406 111h1M423 107h1M398 109h1M432 69h1M363 102h1M429 99h1M392 113h1M435 119h1M360 108h1M401 114h1M355 117h1M363 82h1M382 115h1M403 103h1M404 110h1M371 110h1M377 95h1M446 70h1M348 105h1M387 108h1M433 103h1M416 98h1M405 122h1M362 102h1M372 122h1M449 71h1M404 111h1M375 116h1M442 65h1M430 81h1M424 103h1M369 115h1M387 118h1M433 101h1M375 115h1M446 65h1M389 106h1M398 118h1M425 91h1M355 101h1M410 88h1M408 104h1M363 89h1M363 108h1M348 122h1M384 111h1M412 106h1M353 98h1M399 112h1M363 94h1M431 88h1M353 120h1M346 86h1M415 97h1M382 98h1M440 107h1M386 107h1M428 78h1M395 99h1M396 116h1M386 113h1M418 109h1M349 100h1M430 106h1M414 115h1M422 111h1M356 86h1M420 76h1M399 96h1M420 103h1M400 87h1M438 72h1M430 96h1M405 99h1M448 44h1M399 114h1M381 112h1M435 102h1M365 112h1M425 113h1M402 107h1M448 82h1M350 82h1M376 106h1M441 78h1M406 114h1M367 111h1M418 115h1M397 115h1M405 115h1M363 109h1M348 102h1M440 83h1M415 103h1M446 68h1M397 111h1M373 107h1M351 79h1M403 83h1M426 87h1M442 80h1M385 106h1M373 116h1M370 101h1M443 64h1M416 106h1M401 119h1M441 112h1M423 85h1M401 105h1M426 91h1M415 116h1M423 106h1M380 108h1M419 108h1M362 101h1M350 99h1M397 107h1M425 91h1M368 104h1M438 95h1M394 110h1M414 116h1M436 103h1M428 95h1M413 80h1M374 95h1M364 100h1M405 103h1M407 85h1M408 99h1M387 109h1M364 99h1M442 85h1M416 101h1M417 93h1M348 91h1M401 106h1M401 109h1M353 90h1M368 87h1M362 95h1M410 111h1M436 64h1M411 111h1M379 103h1M433 94h1M403 100h1M431 101h1M406 106h1M362 107h1M390 94h1M373 112h1M378 94h1M351 97h1M426 103h1M404 104h1M379 111h1M420 102h1M394 108h1M353 86h1M429 107h1M429 108h1M403 102h1M413 94h1M404 108h1M375 101h1M351 102h1M413 110h1M375 112h1M423 113h1M377 111h1M386 95h1M439 74h1M357 107h1M373 120h1M417 97h1M390 101h1M436 109h1M358 102h1M347 106h1M429 107h1M362 94h1M375 104h1M366 96h1M391 112h1M440 98h1M396 104h1M421 108h1M362 86h1M401 109h1M368 110h1M368 106h1M377 96h1M386 107h1M420 87h1M356 114h1M373 104h1M446 81h1M383 107h1M347 104h1M436 92h1M346 104h1M385 101h1M419 117h1M443 78h1M438 100h1M443 90h1M407 119h1M446 84h1M370 93h1M379 92h1M413 99h1M411 115h1M431 88h1M358 104h1M384 116h1M410 98h1M354 104h1M398 109h1M437 73h1M348 102h1M432 106h1M420 110h1M390 104h1M368 127h1M427 100h1M382 106h1M411 97h1M359 93h1M425 106h1M441 37h1M441 85h1M447 59h1M352 99h1M430 94h1M371 95h1M356 92h1M428 110h1M438 80h1M352 101h1M367 103h1M395 113h1M435 107h1M393 114h1M350 105h1M421 105h1M445 64h1M362 114h1M431 85h1M445 69h1M389 105h1M432 81h1M411 107h1M447 95h1M415 113h1M376 106h1M419 93h1M380 106h1M382 99h1M346 91h1M354 129h1M365 92h1M415 97h1M399 111h1M387 110h1M409 114h1M378 101h1M379 100h1M409 115h1M423 83h1M422 98h1M403 108h1M447 50h1M448 80h1M442 76h1M376 111h1M423 95h1M357 79h1M449 96h1M405 84h1M353 97h1M358 96h1M413 97h1M416 102h1M384 114h1M392 102h1M430 86h1M427 104h1M424 103h1M385 113h1M382 110h1M414 98h1M355 97h1M416 97h1M417 109h1M425 113h1M371 120h1M381 100h1M370 104h1M391 108h1M412 100h1M393 100h1M437 118h1M406 117h1M428 93h1M445 77h1M428 96h1M368 95h1M381 105h1M350 107h1M387 119h1M392 114h1M379 116h1M385 95h1M366 75h1M431 110h1M386 110h1M347 99h1M392 126h1M383 101h1M364 95h1M418 92h1M388 119h1M427 107h1M409 87h1M445 110h1M380 108h1M349 104h1M364 97h1M424 130h1M366 108h1M407 115h1M357 92h1M434 101h1M385 109h1M376 105h1M438 76h1M419 92h1M408 94h1M440 77h1M429 95h1M346 105h1M440 61h1M366 95h1M421 92h1M377 94h1M376 105h1M389 106h1M346 97h1M433 101h1M373 113h1M412 110h1M360 106h1M355 107h1M347 91h1M396 100h1M389 112h1M420 105h1M390 123h1M398 106h1M405 97h1M360 106h1M384 105h1M432 79h1M448 105h1M396 121h1M378 110h1M434 81h1M402 108h1M350 99h1M362 90h1M412 110h1M358 106h1M400 116h1M446 75h1M399 107h1M393 107h1M429 69h1M400 125h1M432 35h1M347 87h1M433 87h1M363 89h1M368 109h1M404 102h1M416 102h1M362 106h1M428 97h1M395 108h1M423 96h1M383 111h1M382 113h1M401 105h1M414 98h1M425 92h1M380 110h1M410 101h1M372 103h1M418 83h1M387 121h1M442 65h1M421 127h1M353 108h1M412 112h1M385 110h1M379 111h1M367 108h1M418 107h1M434 103h1M392 118h1M397 100h1M380 111h1M430 114h1M448 121h1M392 101h1M392 110h1M365 107h1M375 109h1M386 92h1M388 114h1M363 89h1M383 123h1M352 107h1M375 107h1M414 109h1M440 91h1M368 101h1M418 100h1M369 109h1M444 72h1M371 112h1M350 111h1M444 103h1M381 116h1M367 116h1M393 113h1M433 109h1M386 109h1M393 111h1M413 116h1M348 117h1M440 83h1M419 83h1M407 122h1M382 116h1M446 114h1M353 110h1M346 102h1M407 100h1M416 92h1M361 116h1M433 106h1M391 111h1M380 100h1M420 94h1M388 104h1M362 102h1M390 87h1M349 103h1M377 119h1M406 101h1M354 103h1M391 110h1M395 100h1M349 105h1M367 98h1M350 96h1M399 109h1M412 103h1M346 101h1M404 98h1M435 102h1M350 89h1M407 112h1M379 104h1M360 92h1M436 90h1M378 99h1M433 85h1M439 87h1M371 113h1M436 102h1M440 96h1M345 97h1M437 64h1M411 102h1M346 96h1M400 106h1M434 84h1M434 85h1M438 109h1M399 97h1M356 103h1M381 117h1M376 101h1M410 95h1M373 105h1M403 104h1M377 110h1M394 118h1M412 103h1M430 107h1M350 95h1M392 105h1M379 110h1M411 98h1M420 120h1M419 96h1M362 103h1M361 86h1M435 85h1M378 100h1M418 96h1M347 80h1M407 105h1M369 119h1M415 82h1M354 117h1M437 89h1M417 110h1M410 94h1M395 122h1M428 80h1M391 108h1M412 117h1M386 99h1M347 74h1M393 108h1M429 84h1M412 94h1M354 92h1M349 84h1M363 116h1M410 115h1M377 97h1M371 105h1M436 84h1M346 110h1M431 81h1M382 119h1M429 96h1M375 101h1M399 107h1M360 98h1M374 124h1M413 105h1M416 97h1M363 106h1M412 116h1M447 67h1M408 89h1M374 117h1M416 108h1M406 102h1M414 102h1M432 108h1M443 36h1M361 115h1M371 105h1M359 109h1M449 82h1M448 134h1M424 90h1M410 114h1M362 77h1M377 108h1M359 110h1M383 96h1M355 80h1M347 101h1M351 110h1M391 122h1M362 97h1M351 104h1M424 79h1M425 117h1M444 76h1M429 111h1M444 82h1M413 100h1M400 119h1M388 102h1M380 117h1M347 96h1M419 90h1M378 101h1M422 111h1M443 86h1M428 91h1M398 95h1M403 115h1M438 105h1M370 109h1M407 112h1M407 74h1M408 100h1M375 109h1M393 109h1M398 103h1M428 99h1M446 72h1M351 94h1M428 77h1M396 109h1M412 96h1M402 103h1M429 112h1M388 108h1M387 108h1M403 93h1M446 75h1M389 115h1M389 112h1M398 108h1M449 80h1M362 105h1M408 109h1M409 102h1M382 122h1M409 114h1M372 104h1M386 118h1M353 87h1M374 117h1M386 110h1M376 114h1M388 106h1M375 109h1M372 111h1M381 116h1M415 107h1M410 108h1M447 73h1M360 118h1M429 98h1M354 100h1M369 103h1M347 86h1M397 102h1M347 82h1M352 103h1M413 103h1M413 105h1M355 88h1M410 100h1M390 100h1M436 105h1M405 92h1M400 94h1M449 120h1M374 112h1M393 96h1M426 112h1M421 115h1M350 111h1M347 76h1M374 109h1M446 68h1M352 99h1M347 69h1M441 131h1M360 96h1M378 110h1M435 103h1M387 113h1M350 105h1M389 105h1M421 104h1M362 102h1M373 87h1M380 115h1M346 93h1M417 95h1M355 98h1M368 93h1M392 99h1M424 72h1M354 109h1M446 104h1M398 108h1M363 93h1M364 115h1M401 104h1M355 84h1M362 71h1M445 89h1M436 111h1M409 101h1M423 90h1M357 100h1M374 100h1M347 94h1M406 108h1M346 91h1M356 111h1M449 65h1M355 108h1M448 90h1M401 104h1M396 105h1M359 100h1M386 120h1M382 102h1M418 113h1M448 101h1M379 105h1M348 115h1M446 39h1M396 110h1M388 109h1M424 98h1M412 111h1M401 103h1M360 102h1M428 109h1M371 106h1M409 95h1M365 110h1M369 106h1M410 98h1M423 105h1M446 70h1M416 90h1M412 101h1M408 102h1M375 108h1M441 66h1M406 119h1M351 107h1M395 109h1M381 110h1M362 59h1M417 110h1M429 79h1M439 97h1M436 70h1M448 100h1M365 100h1M405 104h1M388 119h1M421 110h1M417 85h1M353 94h1M374 109h1M368 104h1M353 109h1M374 97h1M395 83h1M378 100h1M361 101h1M429 102h1M352 108h1M371 122h1M416 104h1M387 107h1M412 110h1M353 101h1M443 78h1M386 105h1M431 106h1M389 119h1M432 110h1M348 82h1M374 115h1M449 62h1M353 98h1M434 100h1M385 98h1M395 91h1M375 101h1M382 120h1M448 102h1M394 101h1M360 105h1M424 100h1M367 108h1M401 101h1M427 113h1M393 105h1M355 109h1M421 77h1M442 94h1M416 104h1M442 108h1M394 88h1M366 110h1M380 114h1M428 92h1M443 107h1M373 122h1M431 113h1M424 107h1M369 116h1M431 100h1M389 123h1M360 109h1M404 100h1M372 97h1M401 116h1M445 96h1M366 99h1M403 107h1M399 118h1M363 87h1M409 96h1M371 112h1M440 101h1M434 72h1M400 99h1M371 108h1M360 123h1M369 106h1M400 87h1M406 119h1M359 104h1M423 92h1M396 99h1M447 104h1M386 110h1M393 111h1M428 100h1M388 111h1M427 106h1M401 129h1M357 91h1M439 88h1M439 76h1M358 117h1M380 106h1M404 91h1M356 103h1M387 103h1M352 93h1M401 101h1M396 97h1M442 51h1M429 118h1M373 106h1M416 91h1M445 96h1M359 115h1M401 82h1M360 99h1M372 110h1M397 101h1M346 104h1M395 98h1M376 102h1M352 100h1M401 110h1M366 106h1M366 99h1M443 75h1M391 92h1M402 123h1M356 98h1M444 77h1M406 108h1M376 114h1M414 106h1M412 96h1M396 95h1M390 107h1M355 93h1M424 90h1M349 101h1M352 104h1M410 115h1M436 89h1M439 58h1M368 111h1M430 106h1M364 88h1M365 110h1M393 110h1M405 101h1M401 109h1M441 94h1M397 112h1M383 116h1M393 108h1M365 105h1M420 124h1M364 94h1M396 106h1M355 95h1M420 108h1M383 116h1M427 76h1M363 121h1M396 92h1M436 126h1M421 91h1M367 114h1M355 100h1M407 111h1M447 70h1M387 109h1M418 101h1M416 103h1M447 98h1M388 105h1M355 99h1M356 88h1M440 87h1M368 101h1M406 113h1M412 110h1M439 76h1M390 111h1M371 116h1M440 85h1M409 93h1M449 124h1M426 103h1M414 109h1M395 126h1M345 90h1M431 98h1M382 93h1M351 106h1M422 103h1M448 69h1M422 88h1M363 103h1M381 105h1M381 119h1M377 106h1M416 100h1M420 98h1M374 93h1M386 105h1M379 97h1M372 108h1M414 78h1M429 78h1M420 103h1M445 45h1M443 57h1M446 101h1M427 77h1M384 108h1M423 102h1M446 65h1M374 92h1M382 119h1M348 94h1M440 97h1M428 84h1M358 106h1M392 98h1M376 96h1M381 100h1M391 103h1M443 75h1M378 105h1M405 109h1M423 91h1M419 110h1M349 93h1M381 113h1M431 110h1M363 119h1M392 93h1M427 116h1M367 88h1M396 125h1M444 86h1M355 106h1M375 99h1M348 109h1M351 107h1M429 87h1M401 102h1M409 117h1M372 120h1M419 108h1M360 100h1M366 106h1M352 110h1M444 100h1M379 116h1M375 108h1M389 103h1M369 110h1M440 96h1M374 103h1M350 105h1M433 79h1M421 103h1M364 95h1M384 123h1M362 114h1M439 94h1M440 47h1M351 77h1M368 111h1M388 107h1M410 107h1M432 68h1M439 62h1M442 89h1M405 104h1M423 81h1M438 75h1M422 107h1M394 105h1M431 101h1M411 118h1M375 110h1M348 102h1M425 89h1M347 111h1M427 74h1M427 80h1M365 105h1M434 67h1M403 119h1M445 74h1M442 96h1M348 97h1M370 104h1M430 95h1M400 90h1M360 92h1M399 104h1M381 124h1M385 114h1M357 109h1M408 95h1M432 105h1M385 117h1M378 113h1M439 127h1M411 90h1M447 64h1M433 89h1M367 96h1M418 102h1M362 109h1M362 104h1M412 105h1M348 104h1M369 112h1M446 72h1M376 102h1M420 112h1M419 96h1M402 100h1M433 97h1M366 102h1M360 105h1M428 95h1M381 116h1M366 113h1M399 100h1M417 87h1M400 119h1M430 76h1M381 96h1M429 66h1M441 88h1M406 100h1M415 81h1M405 97h1M376 92h1M371 114h1M420 102h1M360 104h1M387 99h1M384 107h1M438 99h1M401 108h1M373 115h1M391 109h1M352 107h1M374 111h1M416 95h1M371 117h1M376 112h1M440 101h1M373 98h1M405 96h1M449 80h1M355 93h1M388 113h1M429 101h1M425 111h1M410 109h1M419 86h1M360 112h1M352 94h1M358 95h1M439 91h1M364 105h1M417 111h1M353 126h1M438 96h1M425 113h1M433 90h1M447 90h1M413 98h1M437 83h1M449 106h1M355 109h1M350 105h1M423 88h1M406 119h1M371 105h1M416 89h1M414 103h1M381 113h1M351 108h1M448 124h1M402 98h1M355 98h1M428 114h1M437 122h1M384 103h1M428 95h1M352 84h1M418 91h1M447 68h1M423 97h1M373 96h1M386 115h1M415 102h1M391 106h1M449 109h1M427 93h1M390 99h1M418 101h1M353 120h1M380 109h1M349 105h1M381 106h1M364 103h1M396 111h1M380 86h1M351 87h1M362 98h1M388 106h1M408 117h1M373 125h1M387 113h1M444 93h1M388 113h1M396 119h1M397 100h1M442 79h1M363 106h1M394 110h1M430 65h1M401 110h1M380 95h1M385 114h1M366 112h1M415 58h1M433 100h1M421 102h1M350 94h1M427 107h1M423 120h1M385 112h1M375 98h1M445 58h1M360 91h1M428 81h1M373 115h1M402 109h1M418 101h1M441 101h1M426 98h1M354 102h1M436 77h1M447 73h1M349 101h1M376 98h1M437 113h1M401 108h1M346 93h1M425 108h1M448 63h1M361 113h1M436 93h1M410 120h1M409 99h1M350 96h1M447 69h1M449 59h1M359 106h1M430 77h1M382 110h1M348 93h1M400 115h1M433 50h1M406 109h1M351 102h1M435 92h1M390 103h1M404 120h1M388 105h1M446 92h1M402 105h1M430 89h1M444 88h1M407 111h1M434 73h1M367 101h1M365 91h1M422 103h1M416 92h1M445 72h1M383 113h1M364 105h1M389 113h1M438 88h1M402 110h1M378 108h1M397 98h1M421 102h1M356 99h1M418 98h1M391 110h1M437 81h1M429 79h1M425 110h1M350 117h1M401 104h1M351 111h1M382 111h1M363 98h1M396 96h1M368 103h1M378 104h1M424 94h1M426 95h1M424 82h1M421 108h1M382 99h1M349 88h1M352 109h1M406 112h1M446 108h1M399 108h1" stroke="#3d4f60" stroke-opacity="0.45" stroke-width="1.3" transform="translate(-0.15 0.5)"/>
<path d="M431 122h1M346 114h1M445 77h1M418 69h1M378 107h1M388 111h1M437 115h1M444 93h1M376 140h1M414 99h1M395 117h1M421 83h1M424 78h1M390 106h1M361 108h1M359 114h1M393 122h1M432 125h1M432 122h1M421 115h1M363 104h1M448 101h1M389 123h1M446 58h1M347 111h1M425 108h1M437 90h1M432 131h1M413 93h1M449 56h1M371 107h1M392 102h1M369 123h1M429 56h1M403 89h1M426 104h1M353 113h1M350 81h1M354 121h1M435 42h1M401 120h1M352 87h1M351 94h1M422 130h1M364 105h1M415 92h1M366 109h1M439 133h1M380 110h1M425 82h1M377 111h1M346 79h1M362 94h1M429 83h1M381 116h1M418 93h1M365 112h1M391 122h1M403 126h1M424 61h1M442 88h1M383 95h1M376 115h1M368 110h1M417 102h1M415 94h1M374 95h1M366 80h1M355 116h1M358 101h1M425 99h1M428 103h1M394 117h1M425 131h1M401 105h1M408 114h1M436 47h1M393 104h1M400 98h1M449 66h1M448 115h1M409 107h1M397 109h1M347 102h1M393 106h1M375 105h1M392 101h1M370 99h1M448 73h1M370 104h1M414 70h1M348 102h1M388 109h1M449 96h1M385 95h1M355 87h1M416 114h1M434 74h1M350 108h1M410 95h1M354 82h1M428 62h1M409 96h1M431 84h1M444 51h1M423 123h1M429 97h1M390 98h1M378 125h1M443 108h1M378 99h1M437 64h1M393 107h1M348 111h1M407 85h1M424 118h1M348 94h1M448 107h1M380 107h1M393 114h1M423 110h1M406 122h1M394 100h1M446 133h1M359 83h1M420 106h1M347 110h1M425 99h1M420 115h1M388 90h1M388 109h1M405 119h1M439 91h1M361 87h1M385 111h1M393 111h1M382 97h1M370 123h1M396 102h1M380 96h1M407 108h1M390 101h1M432 91h1M432 100h1M402 102h1M436 105h1M398 112h1M382 122h1M405 93h1M434 96h1M402 111h1M429 102h1M382 83h1M415 85h1M404 111h1M413 112h1M392 109h1M359 107h1M347 118h1M354 97h1M353 89h1M389 125h1M385 116h1M411 103h1M445 67h1M389 126h1M379 105h1M410 93h1M400 122h1M351 76h1M428 95h1M382 116h1M402 104h1M413 96h1M442 100h1M379 93h1M394 106h1M436 108h1M444 56h1M421 123h1M431 91h1M349 101h1M405 100h1M377 115h1M407 99h1M411 108h1M387 123h1M435 119h1M430 59h1M351 120h1M438 79h1M423 105h1M434 96h1M377 112h1M388 102h1M423 110h1M435 114h1M376 101h1M416 103h1M386 118h1M394 121h1M396 112h1M385 112h1M438 102h1M432 87h1M350 106h1M352 98h1M354 97h1M360 66h1M368 80h1M366 111h1M375 116h1M386 114h1M421 103h1M407 102h1M358 112h1M415 96h1M406 107h1M345 121h1M436 55h1M367 98h1M397 105h1M399 83h1M351 81h1M360 118h1M363 112h1M441 86h1M439 119h1M437 65h1M371 129h1M389 108h1M402 99h1M351 117h1M359 111h1M395 111h1M357 102h1M393 87h1M400 80h1M348 101h1M426 115h1M385 99h1M395 110h1M414 77h1M436 52h1M362 104h1M364 114h1M411 114h1M438 117h1M368 95h1M394 107h1M349 112h1M346 82h1M442 80h1M425 99h1M418 102h1M351 114h1M418 108h1M420 92h1M381 80h1M429 111h1M449 110h1M371 113h1M349 106h1M375 113h1M416 120h1M439 76h1M443 86h1M430 71h1M409 102h1M367 94h1M379 98h1M367 76h1M405 105h1M355 116h1M412 121h1M428 96h1M419 88h1M415 107h1M378 105h1M440 88h1M425 122h1M358 106h1M369 111h1M355 98h1M416 99h1M393 97h1M370 105h1M419 86h1M357 118h1M448 78h1M445 104h1M355 120h1M416 117h1M409 94h1M377 126h1M380 84h1M445 121h1M354 57h1M439 64h1M396 107h1M403 97h1M398 81h1M427 61h1M365 108h1M369 81h1M357 111h1M392 121h1M349 119h1M446 92h1M391 108h1M382 103h1M435 117h1M368 114h1M353 107h1M420 117h1M383 85h1M431 111h1M385 102h1M377 77h1M393 120h1M350 87h1M363 110h1M361 92h1M419 93h1M377 126h1M430 101h1M444 96h1M397 88h1M365 116h1M347 89h1M445 97h1M358 86h1M423 105h1M347 108h1M441 46h1M403 110h1M414 88h1M409 121h1M370 111h1M358 104h1M403 116h1M405 101h1M357 115h1M444 94h1M418 121h1M389 97h1M350 128h1M394 102h1M447 74h1M425 82h1M348 95h1M423 130h1M436 96h1M372 92h1M433 90h1M446 92h1M389 119h1M356 97h1M384 111h1M394 107h1M376 109h1M391 94h1M432 113h1M409 98h1M357 127h1M378 121h1M375 117h1M425 87h1M399 103h1M353 95h1M347 102h1M383 104h1M404 99h1M405 107h1M385 108h1M388 104h1M377 118h1M362 118h1M379 101h1M414 133h1M376 112h1M440 117h1M404 129h1M362 82h1M393 114h1M364 116h1M359 119h1M357 114h1M363 118h1M365 82h1M446 57h1M350 109h1M392 84h1M413 94h1M353 99h1M379 112h1M387 118h1M395 111h1M416 87h1M399 95h1M400 112h1M375 114h1M351 107h1M414 105h1M400 109h1M399 90h1M406 106h1M443 106h1M424 73h1M396 113h1M367 114h1M362 134h1M406 105h1M427 92h1M415 81h1M425 74h1M353 73h1M354 71h1M404 115h1M426 98h1M366 110h1M448 36h1M394 83h1M351 70h1M408 126h1M449 113h1M448 44h1M447 88h1M391 110h1M437 64h1M380 100h1M436 112h1M399 116h1M385 118h1M350 106h1M386 110h1M415 110h1M364 103h1M392 127h1M371 110h1M362 112h1M381 108h1M362 94h1M407 105h1M414 98h1M380 98h1M354 114h1M377 130h1M359 108h1M411 103h1M437 72h1M351 76h1M392 115h1M396 115h1M350 87h1M448 87h1M357 89h1M358 122h1M352 104h1M384 114h1M414 127h1M400 78h1M389 113h1M371 110h1M432 88h1M371 108h1M392 122h1M416 91h1M348 90h1M361 127h1M393 120h1M373 113h1M365 116h1M446 89h1M347 96h1M377 107h1M363 109h1M367 100h1M443 42h1M383 107h1M406 110h1M410 103h1M440 106h1M442 97h1M381 119h1M414 106h1M356 101h1M414 112h1M370 118h1M346 93h1M425 80h1M449 120h1M418 93h1M427 105h1M442 76h1M382 111h1M437 122h1M397 127h1M399 92h1M353 77h1M374 63h1M387 116h1M402 126h1M369 110h1M447 78h1M436 110h1M360 90h1M357 112h1M350 120h1M366 121h1M426 111h1M370 100h1M407 102h1M404 95h1M445 132h1M390 122h1M367 106h1M399 107h1M384 112h1M357 93h1M437 103h1M382 114h1M346 107h1M434 95h1M386 107h1M428 64h1M397 87h1M409 134h1M394 103h1M359 101h1M444 79h1M347 86h1M348 123h1M392 87h1M366 112h1M432 80h1M436 119h1M377 118h1M355 104h1M402 87h1M385 117h1M448 110h1M385 116h1M410 101h1M445 102h1M439 69h1M360 108h1M390 113h1M400 105h1M424 78h1M435 88h1M439 66h1M406 89h1M430 115h1M436 89h1M356 95h1M447 70h1M380 113h1M347 95h1M374 98h1M413 108h1M385 110h1M407 93h1M427 72h1M378 123h1M367 102h1M423 119h1M354 111h1M442 87h1M432 89h1M381 126h1M397 100h1M422 92h1M439 67h1M447 81h1M398 96h1M389 110h1M352 80h1M449 98h1M373 111h1M368 109h1M438 74h1M424 120h1M396 130h1M412 102h1M443 66h1M394 115h1M351 98h1M449 88h1M446 102h1M439 51h1M366 115h1M376 94h1M350 79h1" stroke="#8d99a8" stroke-opacity="0.5" stroke-width="1" transform="translate(0 0.5)"/>
<path d="M346.3 80.3 348.2 80.6 350 81.1 351.9 81.8 353.8 82.5 355.7 83.3 357.5 84.2 359.4 85.1 361.3 86.1 363.2 87 365 88 366.9 89 368.8 89.9 370.7 90.8 372.5 91.7 374.4 92.5 376.3 93.2 378.2 93.8 380 94.4 381.9 94.8 383.8 95.2 385.7 95.4 387.5 95.5 389.4 95.5 391.3 95.4 393.1 95.2 395 94.8 396.9 94.3 398.8 93.7 400.6 93 402.5 92.1 404.4 91.1 406.3 90 408.1 88.7 410 87.4 411.9 85.9 413.8 84.4 415.6 82.7 417.5 81 419.4 79.2 421.3 77.3 423.1 75.4 425 73.4 426.9 71.4 428.8 69.4 430.6 67.3 432.5 65.3 434.4 63.3 436.2 61.3 438.1 59.4 440 57.6 441.9 55.8 443.7 54.2 445.6 52.7 447.5 51.4 449.4 50.2" stroke="#d8604a" stroke-opacity="0.2" stroke-width="2.6" fill="none"/>
<path d="M346.3 115.7 348.2 116.2 350 116.6 351.9 117 353.8 117.4 355.7 117.8 357.5 118.2 359.4 118.5 361.3 118.8 363.2 119.1 365 119.4 366.9 119.6 368.8 119.9 370.7 120.1 372.5 120.3 374.4 120.4 376.3 120.6 378.2 120.7 380 120.8 381.9 120.9 383.8 120.9 385.7 121 387.5 121 389.4 121 391.3 120.9 393.1 120.9 395 120.8 396.9 120.7 398.8 120.6 400.6 120.5 402.5 120.3 404.4 120.2 406.3 120 408.1 119.8 410 119.6 411.9 119.4 413.8 119.1 415.6 118.9 417.5 118.6 419.4 118.3 421.3 118 423.1 117.7 425 117.4 426.9 117.1 428.8 116.7 430.6 116.4 432.5 116.1 434.4 115.7 436.2 115.4 438.1 115 440 114.7 441.9 114.3 443.7 114 445.6 113.6 447.5 113.3 449.4 112.9" stroke="#d8604a" stroke-opacity="0.2" stroke-width="2.6" fill="none"/>
<path d="M346.3 82.8 348.2 83.2 350 83.7 351.9 84.3 353.8 85 355.7 85.8 357.5 86.6 359.4 87.5 361.3 88.4 363.2 89.3 365 90.2 366.9 91.1 368.8 92 370.7 92.9 372.5 93.7 374.4 94.4 376.3 95 378.2 95.6 380 96.1 381.9 96.6 383.8 96.9 385.7 97.1 387.5 97.2 389.4 97.2 391.3 97.1 393.1 96.9 395 96.5 396.9 96.1 398.8 95.5 400.6 94.8 402.5 94 404.4 93.1 406.3 92 408.1 90.9 410 89.6 411.9 88.3 413.8 86.8 415.6 85.3 417.5 83.7 419.4 82 421.3 80.2 423.1 78.4 425 76.6 426.9 74.7 428.8 72.8 430.6 70.9 432.5 69 434.4 67.1 436.2 65.2 438.1 63.4 440 61.7 441.9 60 443.7 58.4 445.6 57 447.5 55.7 449.4 54.5" stroke="#b05040" stroke-opacity="0.14" stroke-width="2.4" fill="none"/>
<path d="M346.3 113.8 348.2 114.3 350 114.7 351.9 115.1 353.8 115.6 355.7 116 357.5 116.3 359.4 116.7 361.3 117 363.2 117.4 365 117.7 366.9 117.9 368.8 118.2 370.7 118.4 372.5 118.7 374.4 118.8 376.3 119 378.2 119.1 380 119.3 381.9 119.3 383.8 119.4 385.7 119.5 387.5 119.5 389.4 119.5 391.3 119.4 393.1 119.4 395 119.3 396.9 119.2 398.8 119 400.6 118.9 402.5 118.7 404.4 118.5 406.3 118.3 408.1 118.1 410 117.8 411.9 117.5 413.8 117.2 415.6 116.9 417.5 116.5 419.4 116.2 421.3 115.8 423.1 115.4 425 115 426.9 114.6 428.8 114.2 430.6 113.8 432.5 113.4 434.4 112.9 436.2 112.5 438.1 112 440 111.6 441.9 111.1 443.7 110.7 445.6 110.2 447.5 109.8 449.4 109.4" stroke="#b05040" stroke-opacity="0.14" stroke-width="2.4" fill="none"/>
<path d="M346.3 86.7 348.2 87.1 350 87.6 351.9 88.2 353.8 88.9 355.7 89.6 357.5 90.4 359.4 91.2 361.3 92 363.2 92.8 365 93.7 366.9 94.5 368.8 95.2 370.7 96 372.5 96.7 374.4 97.3 376.3 97.9 378.2 98.4 380 98.9 381.9 99.3 383.8 99.5 385.7 99.7 387.5 99.8 389.4 99.8 391.3 99.7 393.1 99.5 395 99.2 396.9 98.8 398.8 98.3 400.6 97.7 402.5 96.9 404.4 96.1 406.3 95.2 408.1 94.2 410 93.1 411.9 91.9 413.8 90.6 415.6 89.2 417.5 87.8 419.4 86.3 421.3 84.7 423.1 83.1 425 81.5 426.9 79.8 428.8 78.1 430.6 76.4 432.5 74.6 434.4 72.9 436.2 71.2 438.1 69.6 440 68 441.9 66.4 443.7 64.9 445.6 63.6 447.5 62.3 449.4 61.1" stroke="#e0a060" stroke-opacity="0.16" stroke-width="2.6" fill="none"/>
<path d="M346.3 110.8 348.2 111.3 350 111.8 351.9 112.2 353.8 112.7 355.7 113.1 357.5 113.5 359.4 113.9 361.3 114.3 363.2 114.7 365 115 366.9 115.3 368.8 115.6 370.7 115.9 372.5 116.2 374.4 116.4 376.3 116.6 378.2 116.8 380 116.9 381.9 117 383.8 117.1 385.7 117.1 387.5 117.2 389.4 117.1 391.3 117.1 393.1 117 395 116.9 396.9 116.8 398.8 116.6 400.6 116.4 402.5 116.2 404.4 115.9 406.3 115.7 408.1 115.4 410 115 411.9 114.6 413.8 114.3 415.6 113.8 417.5 113.4 419.4 112.9 421.3 112.5 423.1 112 425 111.4 426.9 110.9 428.8 110.3 430.6 109.8 432.5 109.2 434.4 108.6 436.2 108 438.1 107.4 440 106.8 441.9 106.2 443.7 105.6 445.6 105 447.5 104.5 449.4 103.9" stroke="#e0a060" stroke-opacity="0.16" stroke-width="2.6" fill="none"/>
<path d="M346.3 93.2 348.2 93.6 350 94.2 351.9 94.7 353.8 95.3 355.7 96 357.5 96.7 359.4 97.3 361.3 98 363.2 98.7 365 99.4 366.9 100 368.8 100.6 370.7 101.2 372.5 101.8 374.4 102.3 376.3 102.7 378.2 103.1 380 103.5 381.9 103.7 383.8 104 385.7 104.1 387.5 104.2 389.4 104.1 391.3 104.1 393.1 103.9 395 103.6 396.9 103.3 398.8 102.9 400.6 102.4 402.5 101.9 404.4 101.2 406.3 100.5 408.1 99.7 410 98.8 411.9 97.9 413.8 96.9 415.6 95.8 417.5 94.7 419.4 93.5 421.3 92.2 423.1 91 425 89.6 426.9 88.3 428.8 86.9 430.6 85.5 432.5 84.1 434.4 82.7 436.2 81.2 438.1 79.8 440 78.5 441.9 77.1 443.7 75.8 445.6 74.5 447.5 73.3 449.4 72.2" stroke="#4a7090" stroke-opacity="0.14" stroke-width="2.4" fill="none"/>
<path d="M346.3 105.9 348.2 106.4 350 106.9 351.9 107.4 353.8 107.9 355.7 108.4 357.5 108.8 359.4 109.3 361.3 109.8 363.2 110.2 365 110.6 366.9 111 368.8 111.4 370.7 111.7 372.5 112 374.4 112.3 376.3 112.6 378.2 112.8 380 112.9 381.9 113.1 383.8 113.2 385.7 113.3 387.5 113.3 389.4 113.3 391.3 113.2 393.1 113.1 395 113 396.9 112.8 398.8 112.6 400.6 112.3 402.5 112 404.4 111.7 406.3 111.3 408.1 110.8 410 110.4 411.9 109.9 413.8 109.3 415.6 108.8 417.5 108.1 419.4 107.5 421.3 106.8 423.1 106.1 425 105.4 426.9 104.7 428.8 103.9 430.6 103.1 432.5 102.3 434.4 101.5 436.2 100.6 438.1 99.8 440 98.9 441.9 98.1 443.7 97.2 445.6 96.4 447.5 95.5 449.4 94.7" stroke="#4a7090" stroke-opacity="0.14" stroke-width="2.4" fill="none"/>
<path d="M346.3 80.3 348.2 80.6 350 81.1 351.9 81.8 353.8 82.5 355.7 83.3 357.5 84.2 359.4 85.1 361.3 86.1 363.2 87 365 88 366.9 89 368.8 89.9 370.7 90.8 372.5 91.7 374.4 92.5 376.3 93.2 378.2 93.8 380 94.4 381.9 94.8 383.8 95.2 385.7 95.4 387.5 95.5 389.4 95.5 391.3 95.4 393.1 95.2 395 94.8 396.9 94.3 398.8 93.7 400.6 93 402.5 92.1 404.4 91.1 406.3 90 408.1 88.7 410 87.4 411.9 85.9 413.8 84.4 415.6 82.7 417.5 81 419.4 79.2 421.3 77.3 423.1 75.4 425 73.4 426.9 71.4 428.8 69.4 430.6 67.3 432.5 65.3 434.4 63.3 436.2 61.3 438.1 59.4 440 57.6 441.9 55.8 443.7 54.2 445.6 52.7 447.5 51.4 449.4 50.2" stroke="#bd3629" stroke-width="1.1" fill="none"/>
<path d="M346.3 115.7 348.2 116.2 350 116.6 351.9 117 353.8 117.4 355.7 117.8 357.5 118.2 359.4 118.5 361.3 118.8 363.2 119.1 365 119.4 366.9 119.6 368.8 119.9 370.7 120.1 372.5 120.3 374.4 120.4 376.3 120.6 378.2 120.7 380 120.8 381.9 120.9 383.8 120.9 385.7 121 387.5 121 389.4 121 391.3 120.9 393.1 120.9 395 120.8 396.9 120.7 398.8 120.6 400.6 120.5 402.5 120.3 404.4 120.2 406.3 120 408.1 119.8 410 119.6 411.9 119.4 413.8 119.1 415.6 118.9 417.5 118.6 419.4 118.3 421.3 118 423.1 117.7 425 117.4 426.9 117.1 428.8 116.7 430.6 116.4 432.5 116.1 434.4 115.7 436.2 115.4 438.1 115 440 114.7 441.9 114.3 443.7 114 445.6 113.6 447.5 113.3 449.4 112.9" stroke="#bd3629" stroke-width="1.1" fill="none"/>
<path d="M346.3 82.8 348.2 83.2 350 83.7 351.9 84.3 353.8 85 355.7 85.8 357.5 86.6 359.4 87.5 361.3 88.4 363.2 89.3 365 90.2 366.9 91.1 368.8 92 370.7 92.9 372.5 93.7 374.4 94.4 376.3 95 378.2 95.6 380 96.1 381.9 96.6 383.8 96.9 385.7 97.1 387.5 97.2 389.4 97.2 391.3 97.1 393.1 96.9 395 96.5 396.9 96.1 398.8 95.5 400.6 94.8 402.5 94 404.4 93.1 406.3 92 408.1 90.9 410 89.6 411.9 88.3 413.8 86.8 415.6 85.3 417.5 83.7 419.4 82 421.3 80.2 423.1 78.4 425 76.6 426.9 74.7 428.8 72.8 430.6 70.9 432.5 69 434.4 67.1 436.2 65.2 438.1 63.4 440 61.7 441.9 60 443.7 58.4 445.6 57 447.5 55.7 449.4 54.5" stroke="#8c2a22" stroke-width="1.0" fill="none"/>
<path d="M346.3 113.8 348.2 114.3 350 114.7 351.9 115.1 353.8 115.6 355.7 116 357.5 116.3 359.4 116.7 361.3 117 363.2 117.4 365 117.7 366.9 117.9 368.8 118.2 370.7 118.4 372.5 118.7 374.4 118.8 376.3 119 378.2 119.1 380 119.3 381.9 119.3 383.8 119.4 385.7 119.5 387.5 119.5 389.4 119.5 391.3 119.4 393.1 119.4 395 119.3 396.9 119.2 398.8 119 400.6 118.9 402.5 118.7 404.4 118.5 406.3 118.3 408.1 118.1 410 117.8 411.9 117.5 413.8 117.2 415.6 116.9 417.5 116.5 419.4 116.2 421.3 115.8 423.1 115.4 425 115 426.9 114.6 428.8 114.2 430.6 113.8 432.5 113.4 434.4 112.9 436.2 112.5 438.1 112 440 111.6 441.9 111.1 443.7 110.7 445.6 110.2 447.5 109.8 449.4 109.4" stroke="#8c2a22" stroke-width="1.0" fill="none"/>
<path d="M346.3 86.7 348.2 87.1 350 87.6 351.9 88.2 353.8 88.9 355.7 89.6 357.5 90.4 359.4 91.2 361.3 92 363.2 92.8 365 93.7 366.9 94.5 368.8 95.2 370.7 96 372.5 96.7 374.4 97.3 376.3 97.9 378.2 98.4 380 98.9 381.9 99.3 383.8 99.5 385.7 99.7 387.5 99.8 389.4 99.8 391.3 99.7 393.1 99.5 395 99.2 396.9 98.8 398.8 98.3 400.6 97.7 402.5 96.9 404.4 96.1 406.3 95.2 408.1 94.2 410 93.1 411.9 91.9 413.8 90.6 415.6 89.2 417.5 87.8 419.4 86.3 421.3 84.7 423.1 83.1 425 81.5 426.9 79.8 428.8 78.1 430.6 76.4 432.5 74.6 434.4 72.9 436.2 71.2 438.1 69.6 440 68 441.9 66.4 443.7 64.9 445.6 63.6 447.5 62.3 449.4 61.1" stroke="#dc9150" stroke-width="0.95" fill="none"/>
<path d="M346.3 110.8 348.2 111.3 350 111.8 351.9 112.2 353.8 112.7 355.7 113.1 357.5 113.5 359.4 113.9 361.3 114.3 363.2 114.7 365 115 366.9 115.3 368.8 115.6 370.7 115.9 372.5 116.2 374.4 116.4 376.3 116.6 378.2 116.8 380 116.9 381.9 117 383.8 117.1 385.7 117.1 387.5 117.2 389.4 117.1 391.3 117.1 393.1 117 395 116.9 396.9 116.8 398.8 116.6 400.6 116.4 402.5 116.2 404.4 115.9 406.3 115.7 408.1 115.4 410 115 411.9 114.6 413.8 114.3 415.6 113.8 417.5 113.4 419.4 112.9 421.3 112.5 423.1 112 425 111.4 426.9 110.9 428.8 110.3 430.6 109.8 432.5 109.2 434.4 108.6 436.2 108 438.1 107.4 440 106.8 441.9 106.2 443.7 105.6 445.6 105 447.5 104.5 449.4 103.9" stroke="#dc9150" stroke-width="0.95" fill="none"/>
<path d="M346.3 93.2 348.2 93.6 350 94.2 351.9 94.7 353.8 95.3 355.7 96 357.5 96.7 359.4 97.3 361.3 98 363.2 98.7 365 99.4 366.9 100 368.8 100.6 370.7 101.2 372.5 101.8 374.4 102.3 376.3 102.7 378.2 103.1 380 103.5 381.9 103.7 383.8 104 385.7 104.1 387.5 104.2 389.4 104.1 391.3 104.1 393.1 103.9 395 103.6 396.9 103.3 398.8 102.9 400.6 102.4 402.5 101.9 404.4 101.2 406.3 100.5 408.1 99.7 410 98.8 411.9 97.9 413.8 96.9 415.6 95.8 417.5 94.7 419.4 93.5 421.3 92.2 423.1 91 425 89.6 426.9 88.3 428.8 86.9 430.6 85.5 432.5 84.1 434.4 82.7 436.2 81.2 438.1 79.8 440 78.5 441.9 77.1 443.7 75.8 445.6 74.5 447.5 73.3 449.4 72.2" stroke="#3a6486" stroke-width="0.9" fill="none"/>
<path d="M346.3 105.9 348.2 106.4 350 106.9 351.9 107.4 353.8 107.9 355.7 108.4 357.5 108.8 359.4 109.3 361.3 109.8 363.2 110.2 365 110.6 366.9 111 368.8 111.4 370.7 111.7 372.5 112 374.4 112.3 376.3 112.6 378.2 112.8 380 112.9 381.9 113.1 383.8 113.2 385.7 113.3 387.5 113.3 389.4 113.3 391.3 113.2 393.1 113.1 395 113 396.9 112.8 398.8 112.6 400.6 112.3 402.5 112 404.4 111.7 406.3 111.3 408.1 110.8 410 110.4 411.9 109.9 413.8 109.3 415.6 108.8 417.5 108.1 419.4 107.5 421.3 106.8 423.1 106.1 425 105.4 426.9 104.7 428.8 103.9 430.6 103.1 432.5 102.3 434.4 101.5 436.2 100.6 438.1 99.8 440 98.9 441.9 98.1 443.7 97.2 445.6 96.4 447.5 95.5 449.4 94.7" stroke="#3a6486" stroke-width="0.9" fill="none"/>
<path d="M346.3 100.4 348.2 100.9 350 101.4 351.9 102 353.8 102.5 355.7 103.1 357.5 103.6 359.4 104.2 361.3 104.7 363.2 105.2 365 105.7 366.9 106.2 368.8 106.6 370.7 107 372.5 107.4 374.4 107.8 376.3 108.1 378.2 108.3 380 108.6 381.9 108.7 383.8 108.9 385.7 108.9 387.5 109 389.4 109 391.3 108.9 393.1 108.8 395 108.6 396.9 108.4 398.8 108.1 400.6 107.7 402.5 107.3 404.4 106.9 406.3 106.4 408.1 105.8 410 105.2 411.9 104.6 413.8 103.9 415.6 103.1 417.5 102.3 419.4 101.5 421.3 100.6 423.1 99.7 425 98.7 426.9 97.7 428.8 96.7 430.6 95.7 432.5 94.6 434.4 93.5 436.2 92.4 438.1 91.2 440 90.1 441.9 89 443.7 87.8 445.6 86.7 447.5 85.6 449.4 84.5" stroke="#0d0d0d" stroke-width="1.15" fill="none"/>
<linearGradient id="g1097" gradientUnits="userSpaceOnUse" x1="43.7" y1="0" x2="146.8" y2="0"><stop offset="0.000" stop-color="#2c4555" stop-opacity="0.250"/><stop offset="0.073" stop-color="#2c4555" stop-opacity="0.250"/><stop offset="0.145" stop-color="#2c4555" stop-opacity="0.225"/><stop offset="0.218" stop-color="#2c4555" stop-opacity="0.209"/><stop offset="0.291" stop-color="#2c4555" stop-opacity="0.200"/><stop offset="0.364" stop-color="#2c4555" stop-opacity="0.195"/><stop offset="0.436" stop-color="#2c4555" stop-opacity="0.192"/><stop offset="0.509" stop-color="#2c4555" stop-opacity="0.188"/><stop offset="0.582" stop-color="#2c4555" stop-opacity="0.182"/><stop offset="0.655" stop-color="#2c4555" stop-opacity="0.173"/><stop offset="0.727" stop-color="#2c4555" stop-opacity="0.160"/><stop offset="0.800" stop-color="#2c4555" stop-opacity="0.145"/><stop offset="0.873" stop-color="#2c4555" stop-opacity="0.128"/><stop offset="0.945" stop-color="#2c4555" stop-opacity="0.111"/></linearGradient>
<path d="M43.7 261.1 45.6 258.7 47.4 256.3 49.3 254 51.2 251.7 53.1 249.5 54.9 247.4 56.8 245.3 58.7 243.2 60.6 241.2 62.4 239.3 64.3 237.4 66.2 235.6 68.1 233.8 69.9 232 71.8 230.3 73.7 228.6 75.6 227 77.4 225.4 79.3 223.8 81.2 222.3 83.1 220.8 84.9 219.3 86.8 217.8 88.7 216.4 90.5 215 92.4 213.6 94.3 212.3 96.2 210.9 98 209.6 99.9 208.3 101.8 207 103.7 205.7 105.5 204.5 107.4 203.2 109.3 202 111.2 200.7 113 199.5 114.9 198.2 116.8 197 118.7 195.7 120.5 194.5 122.4 193.2 124.3 191.9 126.2 190.7 128 189.4 129.9 188.1 131.8 186.8 133.6 185.4 135.5 184.1 137.4 182.7 139.3 181.4 141.1 179.9 143 178.5 144.9 177.1 146.8 175.6 146.8 208.1 144.9 208.3 143 208.5 141.1 208.8 139.3 209.1 137.4 209.5 135.5 209.9 133.6 210.4 131.8 210.9 129.9 211.5 128 212.1 126.2 212.7 124.3 213.4 122.4 214.1 120.5 214.9 118.7 215.7 116.8 216.5 114.9 217.4 113 218.3 111.2 219.2 109.3 220.2 107.4 221.2 105.5 222.3 103.7 223.4 101.8 224.5 99.9 225.6 98 226.8 96.2 228 94.3 229.2 92.4 230.5 90.5 231.8 88.7 233.1 86.8 234.5 84.9 235.8 83.1 237.2 81.2 238.7 79.3 240.1 77.4 241.6 75.6 243.1 73.7 244.6 71.8 246.1 69.9 247.7 68.1 249.3 66.2 250.9 64.3 252.5 62.4 254.1 60.6 255.8 58.7 257.4 56.8 259.1 54.9 260.8 53.1 262.5 51.2 264.3 49.3 266 47.4 267.8 45.6 269.5 43.7 271.3 Z" fill="url(#g1097)"/>
<linearGradient id="g1090" gradientUnits="userSpaceOnUse" x1="43.7" y1="0" x2="146.8" y2="0"><stop offset="0.000" stop-color="#2c4555" stop-opacity="0.400"/><stop offset="0.073" stop-color="#2c4555" stop-opacity="0.400"/><stop offset="0.145" stop-color="#2c4555" stop-opacity="0.360"/><stop offset="0.218" stop-color="#2c4555" stop-opacity="0.334"/><stop offset="0.291" stop-color="#2c4555" stop-opacity="0.320"/><stop offset="0.364" stop-color="#2c4555" stop-opacity="0.312"/><stop offset="0.436" stop-color="#2c4555" stop-opacity="0.306"/><stop offset="0.509" stop-color="#2c4555" stop-opacity="0.300"/><stop offset="0.582" stop-color="#2c4555" stop-opacity="0.291"/><stop offset="0.655" stop-color="#2c4555" stop-opacity="0.276"/><stop offset="0.727" stop-color="#2c4555" stop-opacity="0.256"/><stop offset="0.800" stop-color="#2c4555" stop-opacity="0.232"/><stop offset="0.873" stop-color="#2c4555" stop-opacity="0.205"/><stop offset="0.945" stop-color="#2c4555" stop-opacity="0.177"/></linearGradient>
<path d="M43.7 262.8 45.6 260.4 47.4 258.2 49.3 256 51.2 253.8 53.1 251.7 54.9 249.6 56.8 247.6 58.7 245.6 60.6 243.7 62.4 241.9 64.3 240 66.2 238.2 68.1 236.5 69.9 234.8 71.8 233.1 73.7 231.5 75.6 229.9 77.4 228.3 79.3 226.8 81.2 225.3 83.1 223.8 84.9 222.4 86.8 221 88.7 219.6 90.5 218.2 92.4 216.9 94.3 215.5 96.2 214.2 98 212.9 99.9 211.7 101.8 210.4 103.7 209.2 105.5 208 107.4 206.7 109.3 205.5 111.2 204.3 113 203.1 114.9 202 116.8 200.8 118.7 199.6 120.5 198.4 122.4 197.3 124.3 196.1 126.2 194.9 128 193.7 129.9 192.5 131.8 191.3 133.6 190.1 135.5 188.9 137.4 187.7 139.3 186.4 141.1 185.2 143 183.9 144.9 182.6 146.8 181.3 146.8 203.5 144.9 203.9 143 204.3 141.1 204.8 139.3 205.4 137.4 205.9 135.5 206.5 133.6 207.1 131.8 207.8 129.9 208.5 128 209.2 126.2 209.9 124.3 210.7 122.4 211.5 120.5 212.3 118.7 213.2 116.8 214.1 114.9 215 113 216 111.2 217 109.3 218 107.4 219 105.5 220.1 103.7 221.2 101.8 222.3 99.9 223.5 98 224.6 96.2 225.8 94.3 227.1 92.4 228.3 90.5 229.6 88.7 230.9 86.8 232.3 84.9 233.6 83.1 235 81.2 236.5 79.3 237.9 77.4 239.4 75.6 240.9 73.7 242.4 71.8 243.9 69.9 245.5 68.1 247.1 66.2 248.7 64.3 250.3 62.4 251.9 60.6 253.6 58.7 255.3 56.8 257 54.9 258.8 53.1 260.6 51.2 262.3 49.3 264.2 47.4 266 45.6 267.8 43.7 269.7 Z" fill="url(#g1090)"/>
<linearGradient id="g1075" gradientUnits="userSpaceOnUse" x1="43.7" y1="0" x2="146.8" y2="0"><stop offset="0.000" stop-color="#2c4555" stop-opacity="0.500"/><stop offset="0.073" stop-color="#2c4555" stop-opacity="0.500"/><stop offset="0.145" stop-color="#2c4555" stop-opacity="0.450"/><stop offset="0.218" stop-color="#2c4555" stop-opacity="0.418"/><stop offset="0.291" stop-color="#2c4555" stop-opacity="0.400"/><stop offset="0.364" stop-color="#2c4555" stop-opacity="0.390"/><stop offset="0.436" stop-color="#2c4555" stop-opacity="0.383"/><stop offset="0.509" stop-color="#2c4555" stop-opacity="0.375"/><stop offset="0.582" stop-color="#2c4555" stop-opacity="0.363"/><stop offset="0.655" stop-color="#2c4555" stop-opacity="0.345"/><stop offset="0.727" stop-color="#2c4555" stop-opacity="0.321"/><stop offset="0.800" stop-color="#2c4555" stop-opacity="0.290"/><stop offset="0.873" stop-color="#2c4555" stop-opacity="0.256"/><stop offset="0.945" stop-color="#2c4555" stop-opacity="0.222"/></linearGradient>
<path d="M43.7 264.4 45.6 262.2 47.4 260.1 49.3 258 51.2 255.9 53.1 253.9 54.9 251.9 56.8 250 58.7 248.1 60.6 246.2 62.4 244.4 64.3 242.7 66.2 240.9 68.1 239.2 69.9 237.6 71.8 236 73.7 234.4 75.6 232.8 77.4 231.3 79.3 229.8 81.2 228.3 83.1 226.9 84.9 225.5 86.8 224.1 88.7 222.8 90.5 221.4 92.4 220.1 94.3 218.8 96.2 217.5 98 216.3 99.9 215.1 101.8 213.9 103.7 212.7 105.5 211.5 107.4 210.3 109.3 209.2 111.2 208 113 206.9 114.9 205.8 116.8 204.6 118.7 203.5 120.5 202.4 122.4 201.3 124.3 200.3 126.2 199.2 128 198.1 129.9 197 131.8 195.9 133.6 194.8 135.5 193.8 137.4 192.7 139.3 191.6 141.1 190.5 143 189.4 144.9 188.3 146.8 187.2 146.8 198.8 144.9 199.5 143 200.1 141.1 200.8 139.3 201.5 137.4 202.3 135.5 203 133.6 203.8 131.8 204.6 129.9 205.4 128 206.2 126.2 207.1 124.3 207.9 122.4 208.8 120.5 209.8 118.7 210.7 116.8 211.6 114.9 212.6 113 213.6 111.2 214.7 109.3 215.7 107.4 216.8 105.5 217.9 103.7 219 101.8 220.1 99.9 221.3 98 222.5 96.2 223.7 94.3 224.9 92.4 226.2 90.5 227.4 88.7 228.7 86.8 230.1 84.9 231.4 83.1 232.8 81.2 234.2 79.3 235.7 77.4 237.1 75.6 238.6 73.7 240.1 71.8 241.6 69.9 243.2 68.1 244.8 66.2 246.4 64.3 248.1 62.4 249.7 60.6 251.4 58.7 253.2 56.8 254.9 54.9 256.7 53.1 258.5 51.2 260.4 49.3 262.3 47.4 264.2 45.6 266.1 43.7 268.1 Z" fill="url(#g1075)"/>
<path d="M100 221h1M107 211h1M78 229h1M137 197h1M128 196h1M87 237h1M52 262h1M67 242h1M70 232h1M108 210h1M103 211h1M145 186h1M102 204h1M84 224h1M96 217h1M124 200h1M117 199h1M132 202h1M83 225h1M104 202h1M125 196h1M52 259h1M92 228h1M112 204h1M128 201h1M144 199h1M52 260h1M143 190h1M47 263h1M121 203h1M50 252h1M53 259h1M80 231h1M129 204h1M76 234h1M43 263h1M95 218h1M83 231h1M54 249h1M43 270h1M120 217h1M77 222h1M75 239h1M90 222h1M53 257h1M118 208h1M104 214h1M66 247h1M107 214h1M87 232h1M81 232h1M93 214h1M131 199h1M45 263h1M46 261h1M77 228h1M69 248h1M90 224h1M119 207h1M93 213h1M80 234h1M109 212h1M118 212h1M141 208h1M110 208h1M138 191h1M47 266h1M124 213h1M57 253h1M68 244h1M145 191h1M142 195h1M80 232h1M128 186h1M91 227h1M60 251h1M52 253h1M81 228h1M74 238h1M102 220h1M109 213h1M144 190h1M90 227h1M121 207h1M121 199h1M80 230h1M50 257h1M108 216h1M133 189h1M85 224h1M60 247h1M56 253h1M72 247h1M146 192h1M134 206h1M140 202h1M66 249h1M81 237h1M113 213h1M60 244h1M52 255h1M53 261h1M92 232h1M104 221h1M73 247h1M123 208h1M98 215h1M81 232h1M66 245h1M118 212h1M84 235h1M132 193h1M143 204h1M112 207h1M122 207h1M88 229h1M127 207h1M75 238h1M58 248h1M113 209h1M113 214h1M77 232h1M114 202h1M139 174h1M74 237h1M119 197h1M92 223h1M79 227h1M144 190h1M111 209h1M46 265h1M120 201h1M129 193h1M94 223h1M51 260h1M123 198h1M85 230h1M127 203h1M85 230h1M89 215h1M119 208h1M71 238h1M135 200h1M70 237h1M133 199h1M124 188h1M73 237h1M118 213h1M104 217h1M80 232h1M100 220h1M60 254h1M44 263h1M144 180h1M116 201h1M123 200h1M79 233h1M44 267h1M46 261h1M75 227h1M69 244h1M95 226h1M71 235h1M138 202h1M82 229h1M77 231h1M80 231h1M68 238h1M55 246h1M110 203h1M77 230h1M84 230h1M137 200h1M122 209h1M139 189h1M109 212h1M124 194h1M121 199h1M90 229h1M134 198h1M79 240h1M75 241h1M101 213h1M105 211h1M108 200h1M105 220h1M50 262h1M128 221h1M122 215h1M141 198h1M73 232h1M69 232h1M123 202h1M56 252h1M80 218h1M144 200h1M80 235h1M96 215h1M88 224h1M121 196h1M114 214h1M81 226h1M119 199h1M101 206h1M82 224h1M82 221h1M91 228h1M90 227h1M44 262h1M44 262h1M63 245h1M114 210h1M144 184h1M43 269h1M43 268h1M98 227h1M130 179h1M133 177h1M57 254h1M75 237h1M111 209h1M129 192h1M132 203h1M78 230h1M113 216h1M105 219h1M66 247h1M121 193h1M57 252h1M115 217h1M84 236h1M124 211h1M125 209h1M58 247h1M100 224h1M136 210h1M111 213h1M88 228h1M62 246h1M60 249h1M100 216h1M125 206h1M127 201h1M128 190h1M108 209h1M143 198h1M100 219h1M98 225h1M141 203h1M126 210h1M128 202h1M82 235h1M101 210h1M54 252h1M128 207h1M71 240h1M110 206h1M46 266h1M79 238h1M57 256h1M82 235h1M108 217h1M98 223h1M48 258h1M96 209h1M45 263h1M89 207h1M125 200h1M102 210h1M82 231h1M110 207h1M102 217h1M83 224h1M83 228h1M113 217h1M109 206h1M110 192h1M56 257h1M140 201h1M133 199h1M59 247h1M122 207h1M81 229h1M127 207h1M95 219h1M109 208h1M106 216h1M110 207h1M108 217h1M110 204h1M93 219h1M97 221h1M57 248h1M108 217h1M83 229h1M48 261h1M124 190h1M112 213h1M81 231h1M112 197h1M146 195h1M58 252h1M120 198h1M147 181h1M54 248h1M66 243h1M77 234h1M143 192h1M43 271h1M98 219h1M68 242h1M58 243h1M44 266h1M84 232h1M75 231h1M80 240h1M126 199h1M87 227h1M83 228h1M99 216h1M94 205h1M117 212h1M106 190h1M87 231h1M146 181h1M143 189h1M111 222h1M128 194h1M60 247h1M141 184h1M134 197h1M97 222h1M68 248h1M100 202h1M120 206h1M98 222h1M101 221h1M84 224h1M109 213h1M126 213h1M129 204h1M65 253h1M131 191h1M110 207h1M78 234h1M132 191h1M65 246h1M57 246h1M122 208h1M145 178h1M75 231h1M96 222h1M78 235h1M107 207h1M133 187h1M134 202h1M113 203h1M115 211h1M78 239h1M86 230h1M47 256h1M60 254h1M64 249h1M108 209h1M108 210h1M46 270h1M69 242h1M116 210h1M131 207h1M114 213h1M98 230h1M46 267h1M92 223h1M147 194h1M60 248h1M67 247h1M127 193h1M125 208h1M127 198h1M88 216h1M45 267h1M124 206h1M138 199h1M99 216h1M83 229h1M58 248h1M72 244h1M97 225h1M123 205h1M53 255h1M92 224h1M45 267h1M100 219h1M95 219h1M93 221h1M69 242h1M57 251h1M134 196h1M141 205h1M100 220h1M142 202h1M84 224h1M82 233h1M81 231h1M51 256h1M78 230h1M87 221h1M116 203h1M74 237h1M83 229h1M121 215h1M94 224h1M106 215h1M86 226h1M63 243h1M85 224h1M100 220h1M132 187h1M82 237h1M56 258h1M45 259h1M145 204h1M108 218h1M129 208h1M127 209h1M101 224h1M64 241h1M93 220h1M52 259h1M100 218h1M139 184h1M86 230h1M93 226h1M71 238h1M129 204h1M136 205h1M102 204h1M88 223h1M57 247h1M107 213h1M61 242h1M72 232h1M78 234h1M69 248h1M115 201h1M106 221h1M132 210h1M123 210h1M127 210h1M68 239h1M103 224h1M132 188h1M105 210h1M70 241h1M118 211h1M80 225h1M108 201h1M129 204h1M98 221h1M91 227h1M92 223h1M109 204h1M138 205h1M94 227h1M109 213h1M114 219h1M125 205h1M53 261h1M101 217h1M55 234h1M46 260h1M59 238h1M145 192h1M105 220h1M124 183h1M103 219h1M108 211h1M79 236h1M112 213h1M71 230h1M100 221h1M97 220h1M98 225h1M56 260h1M96 220h1M71 245h1M45 264h1M122 209h1M56 254h1M142 185h1M96 222h1M81 229h1M46 265h1M44 262h1M114 204h1M115 213h1M80 234h1M132 204h1M73 240h1M97 227h1M58 253h1M79 236h1M118 202h1M88 228h1M71 236h1M95 214h1M130 200h1M104 221h1M70 240h1M136 210h1M54 259h1M121 208h1M89 226h1M98 212h1M69 241h1M70 240h1M59 262h1M99 214h1M118 207h1M44 263h1M72 239h1M94 212h1M144 197h1M95 221h1M100 219h1M99 229h1M60 248h1M98 222h1M59 249h1M126 213h1M124 216h1M123 213h1M66 245h1M88 219h1M52 258h1M103 206h1M64 241h1M128 195h1M99 212h1M66 244h1M103 215h1M85 222h1M112 213h1M135 193h1M45 268h1M70 242h1M133 196h1M56 255h1M102 213h1M142 186h1M65 248h1M137 184h1M70 242h1M102 224h1M112 196h1M51 266h1M132 185h1M129 172h1M45 257h1M93 211h1M139 192h1M79 222h1M89 224h1M76 238h1M50 256h1M53 256h1M112 213h1M71 246h1M142 195h1M137 203h1M118 210h1M95 222h1M122 203h1M44 267h1M141 201h1M144 181h1M104 213h1M102 218h1M120 209h1M43 267h1M115 216h1M82 238h1M43 262h1M88 232h1M139 190h1M104 210h1M70 244h1M95 219h1M129 189h1M58 253h1M143 199h1M59 252h1M56 246h1M45 266h1M135 193h1M107 217h1M110 204h1M84 223h1M54 247h1M81 227h1M60 253h1M102 218h1M111 208h1M98 225h1M82 231h1M70 243h1M114 212h1M61 247h1M140 198h1M95 223h1M98 224h1M131 204h1M55 257h1M138 187h1M136 170h1M82 232h1M60 249h1M126 206h1M47 258h1M121 207h1M118 200h1M57 252h1M43 266h1M55 253h1M116 210h1M88 223h1M144 194h1M56 255h1M143 207h1M143 198h1M75 239h1M49 262h1M129 211h1M110 221h1M117 201h1M62 250h1M48 261h1M72 245h1M133 179h1M44 263h1M127 189h1M63 252h1M74 237h1M102 220h1M136 201h1M100 219h1M101 219h1M122 202h1M116 195h1M131 203h1M75 235h1M142 190h1M144 189h1M118 214h1M48 258h1M83 224h1M125 207h1M66 249h1M93 210h1M77 229h1M60 244h1M102 220h1M80 234h1M128 210h1M52 256h1M136 196h1M82 227h1M119 212h1M65 239h1M51 254h1M48 260h1M70 240h1M65 245h1M109 209h1M107 226h1M137 211h1M107 207h1M101 218h1M70 234h1M46 262h1M107 200h1M60 247h1M146 195h1M114 211h1M46 258h1M88 214h1M52 249h1M43 270h1M84 228h1M139 197h1M56 258h1M146 183h1M89 227h1M74 233h1M140 198h1M75 225h1M58 248h1M138 197h1M139 198h1M124 193h1M123 203h1M91 227h1M131 200h1M85 232h1M93 225h1M59 250h1M98 217h1M117 208h1M70 235h1M57 254h1M51 259h1M92 228h1M54 263h1M87 230h1M106 217h1M49 260h1M125 208h1M53 261h1M55 252h1M111 203h1M141 183h1M55 257h1M116 211h1M92 226h1M64 237h1M102 213h1M87 211h1M82 224h1M133 191h1M101 213h1M127 211h1M47 257h1M141 190h1M66 239h1M96 221h1M50 261h1M65 241h1M93 213h1M121 201h1M123 207h1M92 217h1M68 245h1M106 208h1M81 227h1M60 247h1M122 215h1M125 211h1M60 250h1M47 259h1M120 198h1M127 197h1M50 264h1M84 234h1M115 210h1M77 230h1M125 190h1M47 260h1M101 219h1M65 246h1M117 210h1M44 262h1M116 211h1M90 223h1M115 213h1M55 255h1M130 206h1M111 213h1M46 261h1M133 207h1M60 244h1M83 233h1M79 230h1M123 202h1M122 208h1M51 255h1M131 186h1M59 245h1M117 200h1M56 253h1M85 229h1M54 254h1M112 200h1M84 229h1M101 221h1M147 181h1M129 195h1M63 249h1M88 224h1M102 221h1M78 232h1M49 254h1M79 232h1M72 238h1M63 247h1M59 245h1M54 253h1M130 213h1M90 221h1M119 214h1M124 196h1M132 202h1M104 218h1M131 209h1M57 252h1M62 241h1M110 212h1M82 222h1M63 235h1M81 222h1M84 235h1M135 204h1M88 234h1M136 202h1M64 238h1M133 191h1M129 204h1M61 244h1M123 198h1M125 195h1M125 198h1M136 181h1M90 226h1M94 218h1M69 246h1M95 228h1M139 196h1M108 217h1M127 209h1M133 202h1M106 213h1M100 223h1M65 247h1M103 215h1M107 210h1M48 261h1M43 269h1M144 200h1M48 258h1M127 202h1M108 214h1M130 198h1M99 218h1M100 212h1M66 240h1M104 216h1M136 200h1M66 241h1M139 212h1M69 240h1M110 215h1M138 199h1M128 198h1M75 238h1M101 222h1M125 204h1M145 198h1M120 220h1M139 189h1M97 219h1M107 216h1M69 241h1M84 225h1M79 230h1M143 193h1M143 192h1M140 197h1M86 234h1M142 197h1M110 210h1M64 248h1M93 225h1M54 250h1M98 216h1M142 185h1M86 229h1M82 234h1M50 257h1M93 227h1M113 206h1M139 194h1M78 233h1M69 242h1M140 208h1M53 251h1M81 234h1M94 223h1M141 204h1M105 206h1M134 183h1M137 209h1M121 212h1M125 213h1M64 245h1M128 208h1M126 203h1M76 229h1M64 244h1M70 238h1M131 192h1M116 205h1M93 219h1M52 259h1M136 205h1M44 268h1M64 249h1M137 182h1M97 222h1M79 236h1M96 222h1M108 207h1M114 190h1M100 219h1M48 258h1M59 253h1M70 232h1M91 226h1M103 214h1M125 194h1M64 242h1M54 254h1M129 209h1M105 218h1M82 235h1M50 261h1M63 244h1M126 200h1M97 221h1M45 263h1M94 212h1M88 214h1M122 209h1M52 256h1M84 237h1M138 193h1M118 212h1M110 213h1M85 230h1M69 241h1M52 260h1M74 238h1M81 229h1M88 225h1M130 199h1M87 227h1M110 213h1M60 247h1M81 228h1M140 196h1M61 240h1M54 256h1M50 259h1M43 257h1M58 246h1M52 257h1M60 238h1M85 230h1M116 213h1M128 205h1M102 220h1M53 255h1M128 207h1M112 214h1M129 201h1M121 206h1M64 237h1M143 172h1M124 209h1M77 239h1M123 199h1M87 218h1M53 247h1M108 218h1M146 196h1M112 219h1M138 206h1M63 254h1M95 224h1M74 233h1M141 193h1M58 254h1M45 259h1M98 221h1M86 225h1M65 249h1M139 192h1M73 234h1M67 246h1M113 189h1M144 203h1M86 228h1M122 201h1M49 262h1M131 197h1M99 221h1M110 212h1M91 229h1M44 261h1M83 226h1M60 256h1M61 248h1M129 200h1M79 228h1M129 198h1M122 206h1M115 201h1M92 222h1M50 258h1M128 187h1M46 263h1M83 238h1M135 195h1M121 204h1M103 217h1M108 209h1M140 180h1M123 205h1M99 214h1M81 227h1M54 259h1M129 202h1M125 198h1M110 207h1M136 208h1M46 265h1M53 248h1M105 217h1M147 188h1M140 191h1M109 217h1M54 257h1M100 213h1M107 214h1M124 207h1M145 192h1M124 207h1M96 216h1M121 212h1M80 238h1M91 220h1M98 211h1M81 228h1M145 201h1M73 239h1M110 212h1M67 243h1M147 177h1M79 232h1M106 214h1M140 190h1M114 213h1M103 212h1M51 255h1M87 230h1M89 228h1M115 209h1M93 223h1M71 240h1M98 221h1M82 225h1M128 207h1M91 237h1M90 226h1M117 206h1M99 223h1M88 228h1M51 254h1M91 224h1M133 195h1M144 202h1M132 190h1M54 259h1M135 193h1M94 223h1M115 206h1M108 215h1M94 229h1M65 247h1M80 225h1M79 231h1M123 206h1M58 257h1M50 257h1M131 197h1M112 206h1M101 217h1M58 253h1M56 248h1M112 217h1M59 255h1M132 205h1M60 251h1M108 223h1M67 237h1M75 231h1M77 243h1M45 260h1M86 228h1M133 197h1M95 216h1M63 242h1M97 219h1M140 199h1M91 226h1M93 225h1M123 205h1M50 259h1M75 238h1M84 225h1M75 229h1M100 221h1M124 189h1M85 230h1M124 210h1M89 218h1M136 179h1M77 230h1M89 227h1M114 199h1M44 270h1M135 203h1M89 220h1M81 234h1M55 248h1M53 254h1M92 224h1M128 209h1M106 218h1M138 207h1M145 168h1M96 242h1M63 239h1M141 198h1M66 250h1M101 219h1M64 250h1M135 188h1M123 197h1M97 217h1M133 195h1M114 210h1M108 211h1M113 202h1M136 200h1M84 221h1M116 204h1M80 233h1M112 205h1M98 219h1M121 209h1M100 224h1M94 226h1M52 259h1M48 262h1M132 190h1M90 220h1M144 185h1M89 222h1M52 255h1M120 199h1M76 233h1M108 218h1M47 259h1M136 181h1M62 245h1M81 230h1M86 225h1M98 228h1M140 203h1M133 210h1M82 227h1M82 233h1M120 208h1M77 233h1M67 238h1M141 198h1M121 192h1M85 234h1M64 256h1M95 227h1M87 215h1M74 237h1M103 211h1M60 245h1M70 238h1M100 222h1M85 231h1M86 223h1M112 213h1M50 259h1M121 215h1M142 180h1M137 196h1M135 190h1M47 261h1M75 225h1M53 252h1M54 254h1M61 243h1M48 257h1M140 194h1M105 211h1M76 230h1M68 240h1M43 266h1M46 264h1M110 200h1M93 220h1M76 240h1M91 215h1M82 231h1M116 205h1M100 222h1M86 232h1M43 267h1M100 215h1M133 186h1M69 238h1M78 229h1M121 206h1M59 259h1M104 223h1M107 215h1M125 204h1M136 196h1M130 203h1M62 246h1M123 213h1M105 210h1M85 228h1M48 259h1M104 219h1M87 233h1M116 212h1M104 216h1M57 251h1M116 211h1M57 249h1M56 258h1M112 218h1M138 204h1M117 214h1M141 192h1M58 262h1M52 251h1M92 219h1M70 248h1M71 236h1M62 243h1M73 228h1M120 211h1M85 233h1M95 222h1M59 243h1M109 212h1M115 200h1M79 236h1M100 224h1M69 242h1M51 260h1M60 255h1M43 271h1M137 188h1M142 199h1M59 244h1M128 196h1M103 221h1M122 197h1M105 214h1M96 225h1M81 233h1M82 221h1M134 198h1M73 236h1M59 246h1M146 222h1M72 238h1M53 255h1M71 243h1M127 204h1M125 194h1M135 199h1M136 201h1M147 195h1M77 239h1M66 247h1M141 200h1M138 196h1M97 220h1M75 243h1M63 238h1M145 203h1M109 214h1M106 210h1M62 247h1M62 250h1M86 220h1M136 200h1M127 206h1M70 233h1M49 260h1M106 224h1M120 209h1M139 189h1M109 203h1M69 226h1M98 223h1M116 208h1M63 246h1M137 195h1M58 248h1M44 271h1M73 240h1M123 217h1M102 210h1M72 241h1M77 237h1M96 210h1M127 197h1M144 187h1M115 214h1M57 252h1M133 194h1M128 206h1M117 204h1M128 203h1M44 264h1M114 205h1M93 226h1M146 194h1M142 175h1M92 223h1M130 216h1M119 192h1M120 211h1M79 233h1M119 193h1M46 263h1M46 259h1M67 236h1M67 244h1M44 266h1M135 184h1M125 200h1M123 205h1M127 191h1M140 204h1M58 247h1M94 224h1M81 233h1M82 225h1M112 213h1M80 232h1M140 200h1M57 250h1M61 252h1M134 204h1M69 251h1M80 236h1M90 217h1M118 204h1M137 201h1M112 218h1M67 240h1M131 201h1M76 236h1M51 257h1M46 266h1M130 194h1M97 222h1M68 238h1M50 261h1M144 186h1M125 202h1M121 210h1M85 223h1M64 246h1M81 236h1M111 211h1M108 212h1M54 255h1M132 193h1M104 219h1M102 220h1M110 219h1M100 219h1M142 204h1M66 241h1M115 212h1M107 209h1M145 196h1M113 209h1M66 247h1M82 220h1M136 197h1M52 256h1M123 208h1M96 217h1M46 261h1M129 209h1M62 244h1M77 233h1M96 228h1M76 224h1M131 203h1M143 198h1M139 199h1M94 212h1M124 194h1M76 231h1M92 219h1M96 223h1M88 223h1M63 252h1M137 198h1M111 214h1M79 229h1M75 233h1M55 256h1M92 229h1M77 229h1M136 207h1M55 253h1M64 251h1M110 204h1M72 237h1M78 236h1M141 196h1M67 240h1M59 254h1M77 238h1M83 228h1M94 225h1M118 205h1M58 248h1M62 252h1M138 193h1M114 207h1M53 258h1M104 210h1M130 195h1M68 241h1M93 223h1M125 209h1M71 238h1M117 204h1M85 221h1M104 214h1M108 211h1M50 265h1M112 201h1M125 182h1M62 239h1M51 257h1M97 222h1M96 227h1M90 216h1M134 201h1M49 257h1M108 219h1M131 203h1M126 211h1M118 208h1M64 253h1M65 246h1M87 224h1M124 209h1M51 256h1M49 252h1M136 198h1M81 225h1M106 217h1M140 207h1M52 257h1M84 231h1M130 192h1M62 244h1M136 194h1M117 217h1M83 227h1M127 204h1M87 217h1M133 196h1M146 195h1M104 215h1M113 209h1M64 247h1M60 252h1M84 222h1M72 231h1M91 226h1M61 251h1M112 202h1M99 221h1M62 241h1M51 257h1M103 221h1M145 178h1M143 195h1M146 191h1M86 221h1M137 203h1M53 252h1M43 265h1M55 250h1M44 266h1M55 256h1M93 228h1M130 200h1M119 201h1M98 225h1M49 257h1M110 215h1M108 224h1M127 207h1M100 208h1M78 228h1M73 234h1M94 225h1M71 235h1M144 200h1M53 257h1M112 211h1M84 229h1M85 224h1M98 225h1M76 236h1M118 214h1M106 209h1M93 213h1M88 235h1M102 210h1M119 208h1M60 247h1M57 251h1M59 248h1M83 223h1M97 213h1M87 227h1M123 200h1M111 219h1M111 212h1M97 225h1M144 190h1M46 267h1M92 220h1M80 227h1M146 191h1M75 234h1M86 238h1M121 196h1M87 223h1M58 253h1M66 243h1M96 221h1M82 235h1M103 215h1M68 238h1M144 180h1M77 233h1M82 232h1M107 215h1M130 207h1M133 196h1M100 219h1M132 188h1M111 199h1M78 235h1M93 220h1M77 237h1M125 196h1M103 200h1M97 214h1M78 231h1M119 202h1M70 238h1M75 238h1M43 266h1M54 256h1M77 233h1M77 231h1M87 221h1M111 197h1M71 242h1M60 252h1M108 207h1M117 201h1M138 190h1M95 223h1M49 260h1M78 232h1M114 209h1M84 219h1M57 250h1M142 193h1M131 203h1M70 236h1M56 250h1M93 224h1M68 252h1M96 214h1M120 216h1M72 233h1M82 231h1M107 208h1M98 224h1M44 265h1M77 235h1M56 256h1M132 207h1M91 220h1M125 205h1M70 237h1M49 264h1M135 212h1M102 215h1M56 243h1M50 260h1M112 205h1M98 220h1M78 233h1M103 220h1M48 254h1M64 246h1M144 203h1M89 218h1M88 229h1M145 200h1M89 222h1M47 255h1M113 211h1M96 218h1M69 246h1M97 218h1M73 240h1M116 210h1M144 195h1M50 254h1M120 201h1M133 200h1M116 208h1M101 217h1M72 241h1M83 230h1M57 254h1M49 260h1M116 211h1M54 250h1M48 256h1M68 244h1M44 268h1M105 217h1M97 215h1M88 230h1M51 258h1M96 221h1M114 205h1M78 231h1M71 236h1M87 228h1M72 235h1M82 230h1M103 213h1M47 257h1M73 238h1M55 254h1M67 243h1M127 180h1M83 236h1M90 225h1M74 231h1M142 209h1M133 200h1M49 262h1M69 241h1M87 213h1M122 211h1M76 229h1M62 251h1M57 250h1M131 194h1M84 216h1M77 231h1M88 220h1M146 194h1M116 201h1M67 245h1M63 244h1M55 252h1M137 210h1M90 228h1M115 204h1M134 201h1M49 253h1M65 241h1M86 227h1M122 200h1M88 220h1M74 239h1M50 256h1M86 223h1M62 244h1M143 188h1M134 204h1M85 229h1M52 251h1M82 239h1M144 202h1M109 209h1M93 216h1M84 229h1M63 243h1M58 253h1M87 227h1M144 204h1M141 180h1M132 195h1M78 234h1M104 212h1M62 245h1M69 231h1M61 255h1M82 229h1M48 262h1M132 194h1M139 189h1M63 245h1M77 240h1M66 249h1M115 218h1M145 205h1M139 206h1M48 260h1M140 190h1M91 229h1M59 247h1M74 238h1M97 216h1M82 225h1M105 215h1M52 253h1M107 212h1M78 237h1M131 199h1M106 221h1M48 258h1M145 196h1M65 240h1M102 222h1M83 218h1M102 217h1M57 255h1M69 227h1M67 235h1M86 219h1M81 230h1M84 227h1M84 227h1M82 233h1M127 214h1M91 218h1M106 216h1M102 217h1M100 222h1M135 180h1M141 169h1M46 259h1M85 222h1M146 195h1M64 242h1M95 209h1M81 227h1M106 204h1M124 199h1M110 210h1M67 238h1M109 221h1M118 217h1M55 255h1M107 204h1M45 270h1M86 236h1M79 231h1M59 251h1M112 215h1M114 211h1M110 217h1M111 214h1M117 204h1M100 215h1M143 192h1M105 211h1M99 224h1M122 208h1M69 239h1M142 201h1M106 214h1M79 237h1M72 245h1M79 233h1M146 187h1M77 228h1M56 259h1M133 203h1M61 245h1M78 232h1M78 227h1M60 254h1M62 248h1M131 197h1M141 182h1M44 271h1M84 229h1M132 182h1M73 234h1M45 263h1M133 200h1M122 197h1M46 266h1M120 209h1M87 227h1M106 210h1M59 242h1M78 231h1M142 191h1M89 218h1M83 230h1M132 204h1M106 211h1M95 219h1M47 261h1M116 215h1M70 249h1M76 226h1M68 239h1M85 238h1M133 196h1M100 225h1M126 207h1M142 204h1M117 205h1M57 252h1M66 246h1M46 263h1M130 201h1M61 253h1M128 201h1M66 248h1M135 194h1M50 257h1M122 208h1M139 200h1M92 226h1M77 234h1M105 215h1M140 191h1M56 246h1M113 208h1M86 231h1M135 198h1M58 251h1M123 211h1M99 213h1M107 215h1M95 218h1M84 233h1M65 237h1M112 209h1M91 221h1M139 193h1M60 246h1M50 264h1M113 209h1M127 202h1M111 202h1M92 210h1M52 254h1M51 253h1M88 227h1M136 193h1M61 246h1M115 208h1M123 198h1M127 193h1M115 204h1M107 215h1M115 208h1M93 217h1M99 225h1M135 201h1M127 206h1M52 261h1M78 229h1M70 243h1M45 265h1M46 263h1M87 218h1M66 239h1M146 193h1M73 237h1M74 242h1M45 262h1M115 210h1M146 190h1M124 195h1M132 195h1M48 261h1M54 261h1M73 242h1M86 224h1M59 245h1M46 262h1M96 217h1M146 213h1M85 233h1M61 247h1M67 239h1M61 243h1M45 264h1M110 195h1M116 206h1M144 190h1M83 235h1M55 246h1M55 256h1M93 221h1M123 209h1M50 256h1M127 205h1M64 248h1M48 268h1M57 248h1M111 211h1M48 260h1M99 215h1M142 194h1M88 226h1M141 192h1M68 233h1M116 210h1M143 181h1M70 239h1M137 204h1M136 187h1M136 197h1M85 229h1M46 262h1M72 236h1M84 229h1M75 238h1M114 203h1M110 210h1M65 247h1M92 220h1M132 191h1M109 216h1M121 209h1M129 207h1M98 219h1M118 203h1M101 223h1M64 250h1M50 261h1M97 217h1M127 204h1M133 192h1M124 197h1M89 225h1M114 211h1M92 226h1M126 204h1M75 243h1M87 221h1M117 213h1M135 193h1M127 208h1M57 248h1M57 260h1M66 249h1M73 229h1M56 257h1M141 197h1M96 224h1M47 261h1M81 230h1M92 211h1M120 203h1M124 204h1M60 241h1M75 231h1M135 199h1M88 228h1M103 212h1M144 205h1M86 225h1M51 260h1M98 224h1M64 241h1M65 249h1M75 235h1" stroke="#3d4f60" stroke-opacity="0.45" stroke-width="1.3" transform="translate(-0.15 0.5)"/>
<path d="M131 210h1M113 223h1M104 219h1M135 206h1M135 200h1M138 205h1M141 216h1M115 214h1M64 240h1M130 201h1M45 273h1M139 179h1M43 263h1M74 231h1M55 261h1M62 241h1M122 201h1M92 223h1M53 258h1M120 211h1M59 241h1M44 259h1M58 241h1M103 223h1M114 207h1M83 231h1M52 257h1M63 235h1M56 241h1M89 215h1M107 227h1M68 238h1M47 264h1M114 199h1M80 249h1M116 209h1M72 225h1M128 196h1M140 200h1M119 214h1M63 244h1M56 256h1M97 222h1M104 217h1M132 195h1M68 244h1M124 213h1M71 239h1M135 194h1M146 230h1M48 264h1M137 205h1M108 199h1M45 269h1M77 220h1M138 210h1M131 204h1M56 249h1M143 184h1M142 197h1M131 196h1M106 197h1M107 221h1M93 208h1M43 265h1M101 213h1M146 214h1M125 185h1M97 226h1M47 264h1M59 239h1M109 205h1M109 202h1M99 220h1M70 243h1M100 225h1M99 211h1M114 213h1M110 210h1M102 220h1M44 265h1M121 205h1M120 203h1M65 248h1M144 196h1M68 234h1M136 169h1M55 259h1M58 255h1M136 197h1M92 230h1M133 199h1M109 212h1M120 202h1M122 215h1M136 217h1M138 195h1M77 229h1M88 233h1M130 209h1M81 235h1M122 189h1M142 199h1M102 218h1M116 206h1M82 233h1M128 201h1M118 210h1M50 258h1M86 225h1M86 238h1M131 201h1M79 237h1M53 261h1M138 184h1M72 237h1M120 197h1M103 215h1M88 215h1M74 242h1M115 209h1M125 189h1M128 206h1M98 210h1M53 246h1M59 252h1M62 248h1M82 224h1M141 204h1M59 252h1M109 214h1M70 247h1M87 229h1M121 215h1M123 208h1M124 207h1M117 205h1M63 258h1M142 187h1M71 238h1M86 224h1M139 171h1M90 228h1M103 228h1M107 224h1M79 231h1M79 225h1M91 219h1M77 237h1M82 227h1M95 226h1M62 248h1M145 175h1M63 238h1M144 205h1M123 212h1M79 233h1M59 258h1M111 211h1M130 198h1M142 195h1M86 231h1M80 213h1M52 257h1M66 244h1M117 199h1M103 208h1M129 213h1M145 187h1M94 219h1M43 271h1M85 217h1M90 240h1M100 211h1M94 216h1M63 235h1M116 202h1M59 243h1M89 221h1M79 224h1M121 179h1M77 241h1M56 257h1M80 236h1M138 203h1M129 207h1M146 182h1M102 235h1M90 219h1M64 236h1M49 270h1M134 194h1M103 217h1M95 212h1M93 221h1M64 248h1M119 209h1M79 223h1M54 259h1M133 190h1M112 195h1M54 260h1M79 235h1M48 260h1M136 188h1M112 216h1M125 200h1M110 205h1M67 246h1M119 209h1M99 207h1M145 210h1M54 244h1M75 229h1M107 216h1M99 218h1M92 228h1M124 209h1M56 237h1M135 212h1M74 232h1M70 240h1M49 255h1M87 217h1M78 238h1M74 239h1M125 206h1M94 216h1M73 247h1M78 235h1M49 262h1M76 236h1M59 251h1M68 249h1M60 255h1M78 240h1M47 262h1M87 228h1M133 184h1M118 206h1M109 207h1M130 191h1M123 205h1M123 206h1M141 185h1M102 200h1M105 213h1M136 198h1M56 255h1M144 180h1M140 177h1M98 202h1M126 203h1M119 201h1M94 226h1M50 251h1M102 225h1M72 236h1M93 221h1M53 256h1M93 227h1M139 205h1M128 179h1M117 202h1M47 264h1M107 217h1M57 253h1M131 189h1M131 204h1M128 200h1M82 230h1M58 258h1M137 196h1M55 256h1M120 217h1M67 249h1M51 250h1M113 199h1M113 189h1M135 209h1M123 203h1M132 193h1M114 209h1M73 228h1M133 205h1M106 206h1M52 262h1M76 237h1M45 263h1M80 235h1M142 192h1M73 237h1M124 214h1M100 228h1M57 255h1M91 232h1M105 200h1M141 198h1M96 221h1M118 203h1M122 209h1M141 218h1M78 237h1M134 210h1M73 246h1M64 253h1M93 223h1M129 195h1M102 224h1M101 223h1M50 257h1M51 267h1M143 183h1M122 192h1M89 225h1M109 200h1M142 194h1M118 207h1M53 252h1M122 206h1M114 197h1M101 196h1M97 225h1M82 237h1M48 265h1M126 199h1M137 203h1M97 217h1M99 226h1M140 179h1M78 235h1M44 263h1M68 246h1M69 241h1M102 200h1M72 236h1M128 191h1M45 266h1M142 206h1M78 224h1M92 226h1M87 218h1M50 256h1M89 227h1M62 255h1M55 256h1M56 256h1M70 236h1M130 200h1M119 212h1M93 223h1M71 240h1M106 217h1M98 230h1M68 251h1M69 250h1M71 242h1M131 192h1M126 190h1M95 222h1M132 188h1M113 191h1M139 193h1M67 256h1M90 225h1M135 200h1M61 247h1M86 229h1M131 185h1M79 234h1M50 263h1M86 229h1M88 228h1M56 253h1M76 240h1M109 202h1M137 171h1M84 225h1M51 258h1M67 247h1M63 241h1M75 237h1M133 200h1M127 209h1M88 222h1M144 202h1M122 211h1M130 199h1M145 192h1M143 189h1M62 242h1M113 204h1M137 184h1M105 220h1M115 212h1M114 209h1M63 247h1M122 206h1M95 230h1M46 267h1M114 207h1M131 207h1M96 206h1M78 230h1M47 258h1M79 235h1M64 241h1M48 256h1M124 197h1M106 201h1M108 200h1M89 217h1M62 249h1M53 257h1M137 206h1M87 237h1M50 264h1M116 190h1M90 219h1M124 216h1M116 210h1M118 210h1M86 229h1M79 222h1M56 255h1M53 254h1M114 200h1M142 200h1M120 219h1M85 226h1M100 206h1M48 260h1M129 191h1M45 252h1M66 240h1M145 199h1M95 213h1M82 230h1M130 200h1M114 205h1M81 228h1M109 209h1M88 224h1M117 207h1M49 262h1M115 204h1M56 248h1M63 249h1M65 239h1M117 222h1M138 194h1M92 235h1M117 210h1M104 217h1M91 229h1M139 201h1M122 204h1M91 221h1M134 188h1M51 251h1M115 215h1M68 223h1M75 247h1M89 231h1M56 251h1M87 237h1M50 269h1M124 213h1M81 211h1M79 216h1M54 258h1M112 199h1M83 232h1M51 255h1M139 201h1M65 241h1M46 262h1M74 223h1M112 210h1M138 184h1M138 208h1M87 220h1M79 235h1M46 266h1M97 218h1M128 192h1M119 208h1M122 203h1M69 245h1M73 230h1M81 221h1M98 223h1M80 233h1M141 208h1M74 245h1M53 244h1M90 225h1M43 266h1M47 262h1M87 232h1M115 222h1M105 213h1M69 239h1M86 231h1M70 244h1M51 257h1M87 232h1M102 224h1M78 228h1M92 230h1M119 197h1M49 266h1M45 259h1M89 217h1M87 214h1M135 194h1M124 203h1M70 238h1M128 197h1M91 221h1M110 206h1M63 242h1M74 237h1M133 191h1M60 249h1M47 256h1M51 250h1M105 219h1M90 216h1M107 213h1M79 223h1M54 244h1M62 236h1M144 179h1M123 214h1M112 202h1M146 194h1M114 204h1M53 256h1M78 222h1M116 215h1M129 202h1M118 201h1M131 206h1M95 206h1M61 241h1M101 219h1M118 217h1M125 197h1M52 266h1M62 253h1M139 182h1M122 208h1M75 242h1M51 251h1M107 222h1M113 193h1M51 264h1M145 207h1M69 250h1M111 216h1M80 233h1M49 250h1M62 257h1M104 219h1M130 208h1M138 188h1M94 201h1M79 235h1M67 235h1M44 264h1M132 204h1M56 243h1M82 233h1M107 205h1M116 201h1M142 203h1M74 224h1M76 230h1M88 223h1M127 210h1M125 202h1M140 202h1M65 235h1M109 196h1M102 214h1M46 270h1M62 249h1M105 210h1M50 254h1M116 217h1M76 238h1M44 257h1M143 216h1M81 231h1M93 222h1M106 216h1" stroke="#8d99a8" stroke-opacity="0.5" stroke-width="1" transform="translate(0 0.5)"/>
<path d="M43.7 261.1 45.6 258.7 47.4 256.3 49.3 254 51.2 251.7 53.1 249.5 54.9 247.4 56.8 245.3 58.7 243.2 60.6 241.2 62.4 239.3 64.3 237.4 66.2 235.6 68.1 233.8 69.9 232 71.8 230.3 73.7 228.6 75.6 227 77.4 225.4 79.3 223.8 81.2 222.3 83.1 220.8 84.9 219.3 86.8 217.8 88.7 216.4 90.5 215 92.4 213.6 94.3 212.3 96.2 210.9 98 209.6 99.9 208.3 101.8 207 103.7 205.7 105.5 204.5 107.4 203.2 109.3 202 111.2 200.7 113 199.5 114.9 198.2 116.8 197 118.7 195.7 120.5 194.5 122.4 193.2 124.3 191.9 126.2 190.7 128 189.4 129.9 188.1 131.8 186.8 133.6 185.4 135.5 184.1 137.4 182.7 139.3 181.4 141.1 179.9 143 178.5 144.9 177.1 146.8 175.6" stroke="#d8604a" stroke-opacity="0.2" stroke-width="2.6" fill="none"/>
<path d="M43.7 271.3 45.6 269.5 47.4 267.8 49.3 266 51.2 264.3 53.1 262.5 54.9 260.8 56.8 259.1 58.7 257.4 60.6 255.8 62.4 254.1 64.3 252.5 66.2 250.9 68.1 249.3 69.9 247.7 71.8 246.1 73.7 244.6 75.6 243.1 77.4 241.6 79.3 240.1 81.2 238.7 83.1 237.2 84.9 235.8 86.8 234.5 88.7 233.1 90.5 231.8 92.4 230.5 94.3 229.2 96.2 228 98 226.8 99.9 225.6 101.8 224.5 103.7 223.4 105.5 222.3 107.4 221.2 109.3 220.2 111.2 219.2 113 218.3 114.9 217.4 116.8 216.5 118.7 215.7 120.5 214.9 122.4 214.1 124.3 213.4 126.2 212.7 128 212.1 129.9 211.5 131.8 210.9 133.6 210.4 135.5 209.9 137.4 209.5 139.3 209.1 141.1 208.8 143 208.5 144.9 208.3 146.8 208.1" stroke="#d8604a" stroke-opacity="0.2" stroke-width="2.6" fill="none"/>
<path d="M43.7 261.8 45.6 259.4 47.4 257 49.3 254.8 51.2 252.5 53.1 250.4 54.9 248.3 56.8 246.2 58.7 244.2 60.6 242.2 62.4 240.3 64.3 238.4 66.2 236.6 68.1 234.8 69.9 233.1 71.8 231.4 73.7 229.7 75.6 228.1 77.4 226.5 79.3 225 81.2 223.5 83.1 222 84.9 220.5 86.8 219.1 88.7 217.7 90.5 216.3 92.4 214.9 94.3 213.6 96.2 212.2 98 210.9 99.9 209.6 101.8 208.4 103.7 207.1 105.5 205.8 107.4 204.6 109.3 203.4 111.2 202.1 113 200.9 114.9 199.7 116.8 198.5 118.7 197.2 120.5 196 122.4 194.8 124.3 193.6 126.2 192.3 128 191.1 129.9 189.8 131.8 188.6 133.6 187.3 135.5 186 137.4 184.7 139.3 183.4 141.1 182 143 180.6 144.9 179.2 146.8 177.8" stroke="#b05040" stroke-opacity="0.14" stroke-width="2.4" fill="none"/>
<path d="M43.7 270.7 45.6 268.9 47.4 267.1 49.3 265.3 51.2 263.5 53.1 261.8 54.9 260 56.8 258.3 58.7 256.6 60.6 254.9 62.4 253.3 64.3 251.6 66.2 250 68.1 248.4 69.9 246.8 71.8 245.3 73.7 243.7 75.6 242.2 77.4 240.7 79.3 239.2 81.2 237.8 83.1 236.4 84.9 235 86.8 233.6 88.7 232.3 90.5 230.9 92.4 229.6 94.3 228.4 96.2 227.1 98 225.9 99.9 224.8 101.8 223.6 103.7 222.5 105.5 221.4 107.4 220.4 109.3 219.3 111.2 218.3 113 217.4 114.9 216.4 116.8 215.6 118.7 214.7 120.5 213.9 122.4 213.1 124.3 212.3 126.2 211.6 128 210.9 129.9 210.3 131.8 209.7 133.6 209.1 135.5 208.6 137.4 208.1 139.3 207.6 141.1 207.2 143 206.9 144.9 206.5 146.8 206.3" stroke="#b05040" stroke-opacity="0.14" stroke-width="2.4" fill="none"/>
<path d="M43.7 262.8 45.6 260.4 47.4 258.2 49.3 256 51.2 253.8 53.1 251.7 54.9 249.6 56.8 247.6 58.7 245.6 60.6 243.7 62.4 241.9 64.3 240 66.2 238.2 68.1 236.5 69.9 234.8 71.8 233.1 73.7 231.5 75.6 229.9 77.4 228.3 79.3 226.8 81.2 225.3 83.1 223.8 84.9 222.4 86.8 221 88.7 219.6 90.5 218.2 92.4 216.9 94.3 215.5 96.2 214.2 98 212.9 99.9 211.7 101.8 210.4 103.7 209.2 105.5 208 107.4 206.7 109.3 205.5 111.2 204.3 113 203.1 114.9 202 116.8 200.8 118.7 199.6 120.5 198.4 122.4 197.3 124.3 196.1 126.2 194.9 128 193.7 129.9 192.5 131.8 191.3 133.6 190.1 135.5 188.9 137.4 187.7 139.3 186.4 141.1 185.2 143 183.9 144.9 182.6 146.8 181.3" stroke="#e0a060" stroke-opacity="0.16" stroke-width="2.6" fill="none"/>
<path d="M43.7 269.7 45.6 267.8 47.4 266 49.3 264.2 51.2 262.3 53.1 260.6 54.9 258.8 56.8 257 58.7 255.3 60.6 253.6 62.4 251.9 64.3 250.3 66.2 248.7 68.1 247.1 69.9 245.5 71.8 243.9 73.7 242.4 75.6 240.9 77.4 239.4 79.3 237.9 81.2 236.5 83.1 235 84.9 233.6 86.8 232.3 88.7 230.9 90.5 229.6 92.4 228.3 94.3 227.1 96.2 225.8 98 224.6 99.9 223.5 101.8 222.3 103.7 221.2 105.5 220.1 107.4 219 109.3 218 111.2 217 113 216 114.9 215 116.8 214.1 118.7 213.2 120.5 212.3 122.4 211.5 124.3 210.7 126.2 209.9 128 209.2 129.9 208.5 131.8 207.8 133.6 207.1 135.5 206.5 137.4 205.9 139.3 205.4 141.1 204.8 143 204.3 144.9 203.9 146.8 203.5" stroke="#e0a060" stroke-opacity="0.16" stroke-width="2.6" fill="none"/>
<path d="M43.7 264.4 45.6 262.2 47.4 260.1 49.3 258 51.2 255.9 53.1 253.9 54.9 251.9 56.8 250 58.7 248.1 60.6 246.2 62.4 244.4 64.3 242.7 66.2 240.9 68.1 239.2 69.9 237.6 71.8 236 73.7 234.4 75.6 232.8 77.4 231.3 79.3 229.8 81.2 228.3 83.1 226.9 84.9 225.5 86.8 224.1 88.7 222.8 90.5 221.4 92.4 220.1 94.3 218.8 96.2 217.5 98 216.3 99.9 215.1 101.8 213.9 103.7 212.7 105.5 211.5 107.4 210.3 109.3 209.2 111.2 208 113 206.9 114.9 205.8 116.8 204.6 118.7 203.5 120.5 202.4 122.4 201.3 124.3 200.3 126.2 199.2 128 198.1 129.9 197 131.8 195.9 133.6 194.8 135.5 193.8 137.4 192.7 139.3 191.6 141.1 190.5 143 189.4 144.9 188.3 146.8 187.2" stroke="#4a7090" stroke-opacity="0.14" stroke-width="2.4" fill="none"/>
<path d="M43.7 268.1 45.6 266.1 47.4 264.2 49.3 262.3 51.2 260.4 53.1 258.5 54.9 256.7 56.8 254.9 58.7 253.2 60.6 251.4 62.4 249.7 64.3 248.1 66.2 246.4 68.1 244.8 69.9 243.2 71.8 241.6 73.7 240.1 75.6 238.6 77.4 237.1 79.3 235.7 81.2 234.2 83.1 232.8 84.9 231.4 86.8 230.1 88.7 228.7 90.5 227.4 92.4 226.2 94.3 224.9 96.2 223.7 98 222.5 99.9 221.3 101.8 220.1 103.7 219 105.5 217.9 107.4 216.8 109.3 215.7 111.2 214.7 113 213.6 114.9 212.6 116.8 211.6 118.7 210.7 120.5 209.8 122.4 208.8 124.3 207.9 126.2 207.1 128 206.2 129.9 205.4 131.8 204.6 133.6 203.8 135.5 203 137.4 202.3 139.3 201.5 141.1 200.8 143 200.1 144.9 199.5 146.8 198.8" stroke="#4a7090" stroke-opacity="0.14" stroke-width="2.4" fill="none"/>
<path d="M43.7 261.1 45.6 258.7 47.4 256.3 49.3 254 51.2 251.7 53.1 249.5 54.9 247.4 56.8 245.3 58.7 243.2 60.6 241.2 62.4 239.3 64.3 237.4 66.2 235.6 68.1 233.8 69.9 232 71.8 230.3 73.7 228.6 75.6 227 77.4 225.4 79.3 223.8 81.2 222.3 83.1 220.8 84.9 219.3 86.8 217.8 88.7 216.4 90.5 215 92.4 213.6 94.3 212.3 96.2 210.9 98 209.6 99.9 208.3 101.8 207 103.7 205.7 105.5 204.5 107.4 203.2 109.3 202 111.2 200.7 113 199.5 114.9 198.2 116.8 197 118.7 195.7 120.5 194.5 122.4 193.2 124.3 191.9 126.2 190.7 128 189.4 129.9 188.1 131.8 186.8 133.6 185.4 135.5 184.1 137.4 182.7 139.3 181.4 141.1 179.9 143 178.5 144.9 177.1 146.8 175.6" stroke="#bd3629" stroke-width="1.1" fill="none"/>
<path d="M43.7 271.3 45.6 269.5 47.4 267.8 49.3 266 51.2 264.3 53.1 262.5 54.9 260.8 56.8 259.1 58.7 257.4 60.6 255.8 62.4 254.1 64.3 252.5 66.2 250.9 68.1 249.3 69.9 247.7 71.8 246.1 73.7 244.6 75.6 243.1 77.4 241.6 79.3 240.1 81.2 238.7 83.1 237.2 84.9 235.8 86.8 234.5 88.7 233.1 90.5 231.8 92.4 230.5 94.3 229.2 96.2 228 98 226.8 99.9 225.6 101.8 224.5 103.7 223.4 105.5 222.3 107.4 221.2 109.3 220.2 111.2 219.2 113 218.3 114.9 217.4 116.8 216.5 118.7 215.7 120.5 214.9 122.4 214.1 124.3 213.4 126.2 212.7 128 212.1 129.9 211.5 131.8 210.9 133.6 210.4 135.5 209.9 137.4 209.5 139.3 209.1 141.1 208.8 143 208.5 144.9 208.3 146.8 208.1" stroke="#bd3629" stroke-width="1.1" fill="none"/>
<path d="M43.7 261.8 45.6 259.4 47.4 257 49.3 254.8 51.2 252.5 53.1 250.4 54.9 248.3 56.8 246.2 58.7 244.2 60.6 242.2 62.4 240.3 64.3 238.4 66.2 236.6 68.1 234.8 69.9 233.1 71.8 231.4 73.7 229.7 75.6 228.1 77.4 226.5 79.3 225 81.2 223.5 83.1 222 84.9 220.5 86.8 219.1 88.7 217.7 90.5 216.3 92.4 214.9 94.3 213.6 96.2 212.2 98 210.9 99.9 209.6 101.8 208.4 103.7 207.1 105.5 205.8 107.4 204.6 109.3 203.4 111.2 202.1 113 200.9 114.9 199.7 116.8 198.5 118.7 197.2 120.5 196 122.4 194.8 124.3 193.6 126.2 192.3 128 191.1 129.9 189.8 131.8 188.6 133.6 187.3 135.5 186 137.4 184.7 139.3 183.4 141.1 182 143 180.6 144.9 179.2 146.8 177.8" stroke="#8c2a22" stroke-width="1.0" fill="none"/>
<path d="M43.7 270.7 45.6 268.9 47.4 267.1 49.3 265.3 51.2 263.5 53.1 261.8 54.9 260 56.8 258.3 58.7 256.6 60.6 254.9 62.4 253.3 64.3 251.6 66.2 250 68.1 248.4 69.9 246.8 71.8 245.3 73.7 243.7 75.6 242.2 77.4 240.7 79.3 239.2 81.2 237.8 83.1 236.4 84.9 235 86.8 233.6 88.7 232.3 90.5 230.9 92.4 229.6 94.3 228.4 96.2 227.1 98 225.9 99.9 224.8 101.8 223.6 103.7 222.5 105.5 221.4 107.4 220.4 109.3 219.3 111.2 218.3 113 217.4 114.9 216.4 116.8 215.6 118.7 214.7 120.5 213.9 122.4 213.1 124.3 212.3 126.2 211.6 128 210.9 129.9 210.3 131.8 209.7 133.6 209.1 135.5 208.6 137.4 208.1 139.3 207.6 141.1 207.2 143 206.9 144.9 206.5 146.8 206.3" stroke="#8c2a22" stroke-width="1.0" fill="none"/>
<path d="M43.7 262.8 45.6 260.4 47.4 258.2 49.3 256 51.2 253.8 53.1 251.7 54.9 249.6 56.8 247.6 58.7 245.6 60.6 243.7 62.4 241.9 64.3 240 66.2 238.2 68.1 236.5 69.9 234.8 71.8 233.1 73.7 231.5 75.6 229.9 77.4 228.3 79.3 226.8 81.2 225.3 83.1 223.8 84.9 222.4 86.8 221 88.7 219.6 90.5 218.2 92.4 216.9 94.3 215.5 96.2 214.2 98 212.9 99.9 211.7 101.8 210.4 103.7 209.2 105.5 208 107.4 206.7 109.3 205.5 111.2 204.3 113 203.1 114.9 202 116.8 200.8 118.7 199.6 120.5 198.4 122.4 197.3 124.3 196.1 126.2 194.9 128 193.7 129.9 192.5 131.8 191.3 133.6 190.1 135.5 188.9 137.4 187.7 139.3 186.4 141.1 185.2 143 183.9 144.9 182.6 146.8 181.3" stroke="#dc9150" stroke-width="0.95" fill="none"/>
<path d="M43.7 269.7 45.6 267.8 47.4 266 49.3 264.2 51.2 262.3 53.1 260.6 54.9 258.8 56.8 257 58.7 255.3 60.6 253.6 62.4 251.9 64.3 250.3 66.2 248.7 68.1 247.1 69.9 245.5 71.8 243.9 73.7 242.4 75.6 240.9 77.4 239.4 79.3 237.9 81.2 236.5 83.1 235 84.9 233.6 86.8 232.3 88.7 230.9 90.5 229.6 92.4 228.3 94.3 227.1 96.2 225.8 98 224.6 99.9 223.5 101.8 222.3 103.7 221.2 105.5 220.1 107.4 219 109.3 218 111.2 217 113 216 114.9 215 116.8 214.1 118.7 213.2 120.5 212.3 122.4 211.5 124.3 210.7 126.2 209.9 128 209.2 129.9 208.5 131.8 207.8 133.6 207.1 135.5 206.5 137.4 205.9 139.3 205.4 141.1 204.8 143 204.3 144.9 203.9 146.8 203.5" stroke="#dc9150" stroke-width="0.95" fill="none"/>
<path d="M43.7 264.4 45.6 262.2 47.4 260.1 49.3 258 51.2 255.9 53.1 253.9 54.9 251.9 56.8 250 58.7 248.1 60.6 246.2 62.4 244.4 64.3 242.7 66.2 240.9 68.1 239.2 69.9 237.6 71.8 236 73.7 234.4 75.6 232.8 77.4 231.3 79.3 229.8 81.2 228.3 83.1 226.9 84.9 225.5 86.8 224.1 88.7 222.8 90.5 221.4 92.4 220.1 94.3 218.8 96.2 217.5 98 216.3 99.9 215.1 101.8 213.9 103.7 212.7 105.5 211.5 107.4 210.3 109.3 209.2 111.2 208 113 206.9 114.9 205.8 116.8 204.6 118.7 203.5 120.5 202.4 122.4 201.3 124.3 200.3 126.2 199.2 128 198.1 129.9 197 131.8 195.9 133.6 194.8 135.5 193.8 137.4 192.7 139.3 191.6 141.1 190.5 143 189.4 144.9 188.3 146.8 187.2" stroke="#3a6486" stroke-width="0.9" fill="none"/>
<path d="M43.7 268.1 45.6 266.1 47.4 264.2 49.3 262.3 51.2 260.4 53.1 258.5 54.9 256.7 56.8 254.9 58.7 253.2 60.6 251.4 62.4 249.7 64.3 248.1 66.2 246.4 68.1 244.8 69.9 243.2 71.8 241.6 73.7 240.1 75.6 238.6 77.4 237.1 79.3 235.7 81.2 234.2 83.1 232.8 84.9 231.4 86.8 230.1 88.7 228.7 90.5 227.4 92.4 226.2 94.3 224.9 96.2 223.7 98 222.5 99.9 221.3 101.8 220.1 103.7 219 105.5 217.9 107.4 216.8 109.3 215.7 111.2 214.7 113 213.6 114.9 212.6 116.8 211.6 118.7 210.7 120.5 209.8 122.4 208.8 124.3 207.9 126.2 207.1 128 206.2 129.9 205.4 131.8 204.6 133.6 203.8 135.5 203 137.4 202.3 139.3 201.5 141.1 200.8 143 200.1 144.9 199.5 146.8 198.8" stroke="#3a6486" stroke-width="0.9" fill="none"/>
<path d="M43.7 266.3 45.6 264.2 47.4 262.2 49.3 260.2 51.2 258.2 53.1 256.3 54.9 254.4 56.8 252.6 58.7 250.8 60.6 249 62.4 247.3 64.3 245.6 66.2 243.9 68.1 242.3 69.9 240.7 71.8 239.1 73.7 237.6 75.6 236.1 77.4 234.6 79.3 233.2 81.2 231.7 83.1 230.3 84.9 229 86.8 227.6 88.7 226.3 90.5 225 92.4 223.7 94.3 222.5 96.2 221.2 98 220 99.9 218.8 101.8 217.7 103.7 216.5 105.5 215.4 107.4 214.3 109.3 213.2 111.2 212.1 113 211 114.9 210 116.8 208.9 118.7 207.9 120.5 206.9 122.4 205.9 124.3 204.9 126.2 203.9 128 203 129.9 202 131.8 201 133.6 200.1 135.5 199.2 137.4 198.2 139.3 197.3 141.1 196.4 143 195.5 144.9 194.5 146.8 193.6" stroke="#0d0d0d" stroke-width="1.15" fill="none"/>
<linearGradient id="g1197" gradientUnits="userSpaceOnUse" x1="193.7" y1="0" x2="296.8" y2="0"><stop offset="0.000" stop-color="#2c4555" stop-opacity="0.250"/><stop offset="0.073" stop-color="#2c4555" stop-opacity="0.250"/><stop offset="0.145" stop-color="#2c4555" stop-opacity="0.250"/><stop offset="0.218" stop-color="#2c4555" stop-opacity="0.247"/><stop offset="0.291" stop-color="#2c4555" stop-opacity="0.226"/><stop offset="0.364" stop-color="#2c4555" stop-opacity="0.204"/><stop offset="0.436" stop-color="#2c4555" stop-opacity="0.180"/><stop offset="0.509" stop-color="#2c4555" stop-opacity="0.156"/><stop offset="0.582" stop-color="#2c4555" stop-opacity="0.133"/><stop offset="0.655" stop-color="#2c4555" stop-opacity="0.113"/><stop offset="0.727" stop-color="#2c4555" stop-opacity="0.096"/><stop offset="0.800" stop-color="#2c4555" stop-opacity="0.083"/><stop offset="0.873" stop-color="#2c4555" stop-opacity="0.073"/><stop offset="0.945" stop-color="#2c4555" stop-opacity="0.066"/></linearGradient>
<path d="M193.7 265.5 195.6 264.2 197.4 262.9 199.3 261.7 201.2 260.4 203.1 259.2 204.9 258 206.8 256.8 208.7 255.6 210.6 254.4 212.4 253.2 214.3 252 216.2 250.9 218.1 249.7 219.9 248.4 221.8 247.2 223.7 246 225.6 244.7 227.4 243.5 229.3 242.2 231.2 240.9 233.1 239.5 234.9 238.2 236.8 236.8 238.7 235.4 240.5 234 242.4 232.5 244.3 231 246.2 229.5 248 227.9 249.9 226.3 251.8 224.7 253.7 223 255.5 221.3 257.4 219.5 259.3 217.7 261.2 215.9 263 214.1 264.9 212.2 266.8 210.2 268.7 208.2 270.5 206.2 272.4 204.2 274.3 202.1 276.2 199.9 278 197.8 279.9 195.6 281.8 193.3 283.6 191 285.5 188.7 287.4 186.4 289.3 184 291.1 181.5 293 179.1 294.9 176.6 296.8 174.1 296.8 225.6 294.9 227.2 293 228.6 291.1 230 289.3 231.3 287.4 232.5 285.5 233.6 283.6 234.6 281.8 235.6 279.9 236.6 278 237.5 276.2 238.3 274.3 239.1 272.4 239.9 270.5 240.7 268.7 241.4 266.8 242.1 264.9 242.9 263 243.6 261.2 244.3 259.3 245 257.4 245.7 255.5 246.4 253.7 247.1 251.8 247.8 249.9 248.5 248 249.2 246.2 250 244.3 250.7 242.4 251.5 240.5 252.3 238.7 253.1 236.8 254 234.9 254.8 233.1 255.7 231.2 256.5 229.3 257.4 227.4 258.3 225.6 259.2 223.7 260.1 221.8 261 219.9 262 218.1 262.9 216.2 263.8 214.3 264.7 212.4 265.6 210.6 266.5 208.7 267.4 206.8 268.3 204.9 269.1 203.1 269.9 201.2 270.7 199.3 271.4 197.4 272.1 195.6 272.7 193.7 273.3 Z" fill="url(#g1197)"/>
<linearGradient id="g1190" gradientUnits="userSpaceOnUse" x1="193.7" y1="0" x2="296.8" y2="0"><stop offset="0.000" stop-color="#2c4555" stop-opacity="0.400"/><stop offset="0.073" stop-color="#2c4555" stop-opacity="0.400"/><stop offset="0.145" stop-color="#2c4555" stop-opacity="0.400"/><stop offset="0.218" stop-color="#2c4555" stop-opacity="0.395"/><stop offset="0.291" stop-color="#2c4555" stop-opacity="0.362"/><stop offset="0.364" stop-color="#2c4555" stop-opacity="0.327"/><stop offset="0.436" stop-color="#2c4555" stop-opacity="0.289"/><stop offset="0.509" stop-color="#2c4555" stop-opacity="0.249"/><stop offset="0.582" stop-color="#2c4555" stop-opacity="0.213"/><stop offset="0.655" stop-color="#2c4555" stop-opacity="0.181"/><stop offset="0.727" stop-color="#2c4555" stop-opacity="0.154"/><stop offset="0.800" stop-color="#2c4555" stop-opacity="0.133"/><stop offset="0.873" stop-color="#2c4555" stop-opacity="0.117"/><stop offset="0.945" stop-color="#2c4555" stop-opacity="0.106"/></linearGradient>
<path d="M193.7 266.7 195.6 265.6 197.4 264.5 199.3 263.3 201.2 262.2 203.1 261.1 204.9 260 206.8 258.8 208.7 257.7 210.6 256.6 212.4 255.5 214.3 254.3 216.2 253.2 218.1 252 219.9 250.9 221.8 249.7 223.7 248.5 225.6 247.4 227.4 246.2 229.3 244.9 231.2 243.7 233.1 242.5 234.9 241.2 236.8 239.9 238.7 238.6 240.5 237.3 242.4 236 244.3 234.6 246.2 233.2 248 231.8 249.9 230.4 251.8 228.9 253.7 227.4 255.5 225.9 257.4 224.4 259.3 222.8 261.2 221.2 263 219.6 264.9 217.9 266.8 216.2 268.7 214.5 270.5 212.7 272.4 210.9 274.3 209.1 276.2 207.2 278 205.3 279.9 203.4 281.8 201.4 283.6 199.3 285.5 197.3 287.4 195.1 289.3 193 291.1 190.8 293 188.5 294.9 186.3 296.8 183.9 296.8 219 294.9 220.7 293 222.3 291.1 223.8 289.3 225.2 287.4 226.6 285.5 227.8 283.6 229 281.8 230.2 279.9 231.3 278 232.3 276.2 233.4 274.3 234.3 272.4 235.3 270.5 236.2 268.7 237.1 266.8 238 264.9 238.8 263 239.7 261.2 240.5 259.3 241.4 257.4 242.2 255.5 243 253.7 243.8 251.8 244.7 249.9 245.5 248 246.4 246.2 247.2 244.3 248.1 242.4 248.9 240.5 249.8 238.7 250.7 236.8 251.6 234.9 252.5 233.1 253.4 231.2 254.4 229.3 255.3 227.4 256.3 225.6 257.2 223.7 258.2 221.8 259.1 219.9 260.1 218.1 261.1 216.2 262 214.3 263 212.4 263.9 210.6 264.9 208.7 265.8 206.8 266.7 204.9 267.6 203.1 268.4 201.2 269.2 199.3 270 197.4 270.7 195.6 271.4 193.7 272.1 Z" fill="url(#g1190)"/>
<linearGradient id="g1175" gradientUnits="userSpaceOnUse" x1="193.7" y1="0" x2="296.8" y2="0"><stop offset="0.000" stop-color="#2c4555" stop-opacity="0.500"/><stop offset="0.073" stop-color="#2c4555" stop-opacity="0.500"/><stop offset="0.145" stop-color="#2c4555" stop-opacity="0.500"/><stop offset="0.218" stop-color="#2c4555" stop-opacity="0.493"/><stop offset="0.291" stop-color="#2c4555" stop-opacity="0.452"/><stop offset="0.364" stop-color="#2c4555" stop-opacity="0.409"/><stop offset="0.436" stop-color="#2c4555" stop-opacity="0.361"/><stop offset="0.509" stop-color="#2c4555" stop-opacity="0.312"/><stop offset="0.582" stop-color="#2c4555" stop-opacity="0.266"/><stop offset="0.655" stop-color="#2c4555" stop-opacity="0.226"/><stop offset="0.727" stop-color="#2c4555" stop-opacity="0.193"/><stop offset="0.800" stop-color="#2c4555" stop-opacity="0.167"/><stop offset="0.873" stop-color="#2c4555" stop-opacity="0.147"/><stop offset="0.945" stop-color="#2c4555" stop-opacity="0.132"/></linearGradient>
<path d="M193.7 268 195.6 267 197.4 266.1 199.3 265.1 201.2 264 203.1 263 204.9 262 206.8 260.9 208.7 259.9 210.6 258.8 212.4 257.7 214.3 256.7 216.2 255.6 218.1 254.5 219.9 253.4 221.8 252.3 223.7 251.1 225.6 250 227.4 248.9 229.3 247.7 231.2 246.6 233.1 245.4 234.9 244.3 236.8 243.1 238.7 241.9 240.5 240.7 242.4 239.5 244.3 238.3 246.2 237 248 235.8 249.9 234.5 251.8 233.3 253.7 232 255.5 230.6 257.4 229.3 259.3 228 261.2 226.6 263 225.2 264.9 223.8 266.8 222.3 268.7 220.8 270.5 219.3 272.4 217.8 274.3 216.2 276.2 214.6 278 212.9 279.9 211.3 281.8 209.5 283.6 207.7 285.5 205.9 287.4 204.1 289.3 202.1 291.1 200.2 293 198.1 294.9 196 296.8 193.9 296.8 212.4 294.9 214.2 293 215.9 291.1 217.5 289.3 219.1 287.4 220.6 285.5 222 283.6 223.4 281.8 224.7 279.9 226 278 227.2 276.2 228.3 274.3 229.5 272.4 230.6 270.5 231.7 268.7 232.7 266.8 233.8 264.9 234.8 263 235.8 261.2 236.7 259.3 237.7 257.4 238.7 255.5 239.6 253.7 240.6 251.8 241.5 249.9 242.5 248 243.4 246.2 244.4 244.3 245.4 242.4 246.3 240.5 247.3 238.7 248.3 236.8 249.2 234.9 250.2 233.1 251.2 231.2 252.2 229.3 253.2 227.4 254.2 225.6 255.2 223.7 256.2 221.8 257.2 219.9 258.2 218.1 259.2 216.2 260.2 214.3 261.2 212.4 262.2 210.6 263.2 208.7 264.1 206.8 265 204.9 266 203.1 266.9 201.2 267.7 199.3 268.6 197.4 269.4 195.6 270.1 193.7 270.8 Z" fill="url(#g1175)"/>
<path d="M207 259h1M220 255h1M260 226h1M231 249h1M280 209h1M275 244h1M203 268h1M250 237h1M195 268h1M285 229h1M284 197h1M232 247h1M200 264h1M263 230h1M283 234h1M266 221h1M217 252h1M252 228h1M271 218h1M256 222h1M263 217h1M225 246h1M212 261h1M282 219h1M232 247h1M221 256h1M204 264h1M287 211h1M208 258h1M227 254h1M212 259h1M283 213h1M225 251h1M245 242h1M270 225h1M205 259h1M248 235h1M287 194h1M282 174h1M286 193h1M223 263h1M225 244h1M203 264h1M288 220h1M194 268h1M194 268h1M206 259h1M229 246h1M279 209h1M253 227h1M254 234h1M198 268h1M264 236h1M283 234h1M197 269h1M275 251h1M240 245h1M225 247h1M271 208h1M207 263h1M239 248h1M260 243h1M242 243h1M242 249h1M236 246h1M224 251h1M287 209h1M209 262h1M278 227h1M220 250h1M200 263h1M274 233h1M245 239h1M262 239h1M244 245h1M278 223h1M283 229h1M240 243h1M280 225h1M280 227h1M247 245h1M291 193h1M198 267h1M242 250h1M247 244h1M210 265h1M203 272h1M256 230h1M195 268h1M289 228h1M297 211h1M205 260h1M210 263h1M280 223h1M282 210h1M256 231h1M252 242h1M275 230h1M228 246h1M269 216h1M215 257h1M239 245h1M286 213h1M234 243h1M249 241h1M234 237h1M229 246h1M196 268h1M271 226h1M289 210h1M282 223h1M234 248h1M218 255h1M267 240h1M244 241h1M253 262h1M239 235h1M276 230h1M248 231h1M203 259h1M239 239h1M260 205h1M289 203h1M226 251h1M261 222h1M229 248h1M242 245h1M288 202h1M247 248h1M227 245h1M236 254h1M240 244h1M253 226h1M292 217h1M284 218h1M206 258h1M252 248h1M292 201h1M271 230h1M196 274h1M204 262h1M258 227h1M287 218h1M278 187h1M271 234h1M272 214h1M238 251h1M236 252h1M229 245h1M293 185h1M223 258h1M204 257h1M258 234h1M291 215h1M245 249h1M252 237h1M255 228h1M262 237h1M214 261h1M198 270h1M241 237h1M207 267h1M253 240h1M275 219h1M251 241h1M208 261h1M215 250h1M219 253h1M283 220h1M264 232h1M207 263h1M200 264h1M277 207h1M252 231h1M208 263h1M238 245h1M210 262h1M268 220h1M269 220h1M291 200h1M258 231h1M228 246h1M249 239h1M273 219h1M291 224h1M237 242h1M289 196h1M255 238h1M225 259h1M263 229h1M296 183h1M284 224h1M283 201h1M267 228h1M265 227h1M228 245h1M260 242h1M255 237h1M238 244h1M295 209h1M210 256h1M216 256h1M265 231h1M195 271h1M255 220h1M207 264h1M235 241h1M242 247h1M226 256h1M247 233h1M238 249h1M236 246h1M198 270h1M278 251h1M210 265h1M270 229h1M232 242h1M217 254h1M216 256h1M223 248h1M201 266h1M270 231h1M282 236h1M232 253h1M232 242h1M232 258h1M263 231h1M289 205h1M296 173h1M274 225h1M276 243h1M223 254h1M229 252h1M234 249h1M274 233h1M288 201h1M246 235h1M216 261h1M235 251h1M286 204h1M266 232h1M212 263h1M269 230h1M199 265h1M197 273h1M225 258h1M287 221h1M270 224h1M262 219h1M197 266h1M267 229h1M261 223h1M267 236h1M218 247h1M273 239h1M225 251h1M216 254h1M266 226h1M197 269h1M275 232h1M294 188h1M219 258h1M255 231h1M216 252h1M273 209h1M260 241h1M255 224h1M258 228h1M279 221h1M234 254h1M223 243h1M247 241h1M209 262h1M273 202h1M218 254h1M255 232h1M286 221h1M284 207h1M283 208h1M194 269h1M282 228h1M259 221h1M216 257h1M237 244h1M295 204h1M295 225h1M249 234h1M279 199h1M204 263h1M243 233h1M199 274h1M212 264h1M214 254h1M202 265h1M279 196h1M203 263h1M258 226h1M209 267h1M270 230h1M216 258h1M211 264h1M256 231h1M254 240h1M253 231h1M274 216h1M268 243h1M280 177h1M253 240h1M195 266h1M233 252h1M230 246h1M246 242h1M274 206h1M258 246h1M271 216h1M205 258h1M228 241h1M253 241h1M291 188h1M276 204h1M263 231h1M292 206h1M246 241h1M240 242h1M254 247h1M253 220h1M235 242h1M276 218h1M237 248h1M276 235h1M241 244h1M235 250h1M295 210h1M230 262h1M218 254h1M238 251h1M233 248h1M226 253h1M228 255h1M257 242h1M272 216h1M277 219h1M246 234h1M253 214h1M252 249h1M270 227h1M270 225h1M220 252h1M286 210h1M237 248h1M267 244h1M268 230h1M275 224h1M266 216h1M291 198h1M248 240h1M287 182h1M245 237h1M222 254h1M280 235h1M290 180h1M204 259h1M290 219h1M228 238h1M220 263h1M204 264h1M283 226h1M243 245h1M229 241h1M225 255h1M290 194h1M218 255h1M268 227h1M253 238h1M241 247h1M209 261h1M226 256h1M256 237h1M239 241h1M283 221h1M217 255h1M223 256h1M234 245h1M235 245h1M286 224h1M215 250h1M205 264h1M252 233h1M212 262h1M276 228h1M264 219h1M221 257h1M271 239h1M293 196h1M201 268h1M257 250h1M204 257h1M276 216h1M239 253h1M249 237h1M227 251h1M259 216h1M198 258h1M201 269h1M236 249h1M242 249h1M196 269h1M233 242h1M195 263h1M294 209h1M237 252h1M272 228h1M209 263h1M220 261h1M265 223h1M233 247h1M248 244h1M283 210h1M250 232h1M287 206h1M224 256h1M260 225h1M208 259h1M206 263h1M236 241h1M266 222h1M245 242h1M207 263h1M257 227h1M294 196h1M289 221h1M206 261h1M226 252h1M226 251h1M233 244h1M266 234h1M282 213h1M209 255h1M268 240h1M293 203h1M291 211h1M249 240h1M211 258h1M268 215h1M279 196h1M210 258h1M221 257h1M284 210h1M257 237h1M202 257h1M290 193h1M242 243h1M263 219h1M262 236h1M212 258h1M237 243h1M232 243h1M255 234h1M279 198h1M257 240h1M246 242h1M219 254h1M252 221h1M296 212h1M194 267h1M254 242h1M227 253h1M208 259h1M230 248h1M196 272h1M194 270h1M255 245h1M230 246h1M249 245h1M287 175h1M235 249h1M235 251h1M296 195h1M247 242h1M193 268h1M195 267h1M235 247h1M218 258h1M226 252h1M253 239h1M263 220h1M220 248h1M253 239h1M231 234h1M294 182h1M241 247h1M197 269h1M259 253h1M199 265h1M221 253h1M250 237h1M234 234h1M238 252h1M275 210h1M249 232h1M286 215h1M241 240h1M228 252h1M215 261h1M237 249h1M228 250h1M235 242h1M213 259h1M272 210h1M241 234h1M221 247h1M222 260h1M276 203h1M202 268h1M232 247h1M240 241h1M266 228h1M286 242h1M204 259h1M251 240h1M291 200h1M193 265h1M198 260h1M220 250h1M266 217h1M294 206h1M252 242h1M256 237h1M259 230h1M253 246h1M194 267h1M291 209h1M205 262h1M200 267h1M268 230h1M260 231h1M259 237h1M221 256h1M260 226h1M204 267h1M234 244h1M267 220h1M194 270h1M227 249h1M227 251h1M229 260h1M293 218h1M194 267h1M222 252h1M296 216h1M225 254h1M247 233h1M267 233h1M283 192h1M275 234h1M232 254h1M266 241h1M226 245h1M267 233h1M286 235h1M274 230h1M268 223h1M267 238h1M273 206h1M287 211h1M222 256h1M217 255h1M295 207h1M221 258h1M229 253h1M225 252h1M276 194h1M265 213h1M194 266h1M225 250h1M212 254h1M267 265h1M230 248h1M276 220h1M271 234h1M280 200h1M215 255h1M218 258h1M211 255h1M203 267h1M295 194h1M290 213h1M279 243h1M245 247h1M249 240h1M217 257h1M196 270h1M228 249h1M246 233h1M214 262h1M280 230h1M198 268h1M213 258h1M218 251h1M286 204h1M281 213h1M211 261h1M239 248h1M221 255h1M289 216h1M272 198h1M197 268h1M230 254h1M195 266h1M249 225h1M223 256h1M296 235h1M272 231h1M232 246h1M273 229h1M284 184h1M291 210h1M229 246h1M232 253h1M250 230h1M227 259h1M207 270h1M284 236h1M250 244h1M224 250h1M194 268h1M292 220h1M210 262h1M237 239h1M294 203h1M207 259h1M235 248h1M227 251h1M213 263h1M250 242h1M286 208h1M209 266h1M226 241h1M286 192h1M239 238h1M197 270h1M228 258h1M289 221h1M252 239h1M294 207h1M199 261h1M206 261h1M283 228h1M215 260h1M217 254h1M239 244h1M264 223h1M195 263h1M232 247h1M225 249h1M246 232h1M281 215h1M218 255h1M195 268h1M212 260h1M282 219h1M239 243h1M216 254h1M196 267h1M270 226h1M237 250h1M271 226h1M219 250h1M256 240h1M272 224h1M272 231h1M296 230h1M193 271h1M259 221h1M224 249h1M288 218h1M202 259h1M224 251h1M204 264h1M288 204h1M280 206h1M246 240h1M244 239h1M291 194h1M257 237h1M216 254h1M217 256h1M225 257h1M200 268h1M254 236h1M217 255h1M230 250h1M236 247h1M259 221h1M253 230h1M242 248h1M268 216h1M257 244h1M238 248h1M292 207h1M263 225h1M203 265h1M251 242h1M215 260h1M242 249h1M232 250h1M196 266h1M226 254h1M278 228h1M219 256h1M212 256h1M197 265h1M232 252h1M201 263h1M294 227h1M273 231h1M245 229h1M277 207h1M199 266h1M213 254h1M273 222h1M242 247h1M196 269h1M224 248h1M293 217h1M259 240h1M238 241h1M218 258h1M295 195h1M238 237h1M196 271h1M273 234h1M271 214h1M208 252h1M253 242h1M227 248h1M222 256h1M277 204h1M198 268h1M272 240h1M227 252h1M221 257h1M282 220h1M249 244h1M226 249h1M285 200h1M238 234h1M208 259h1M249 237h1M209 257h1M215 261h1M278 217h1M227 262h1M272 230h1M198 265h1M251 238h1M199 268h1M205 266h1M223 259h1M194 268h1M242 247h1M195 268h1M267 235h1M193 269h1M227 251h1M267 231h1M248 235h1M246 241h1M277 225h1M279 194h1M265 223h1M208 260h1M278 230h1M230 250h1M294 206h1M225 249h1M285 219h1M237 244h1M287 224h1M275 219h1M277 221h1M196 269h1M281 222h1M229 242h1M223 254h1M225 252h1M289 182h1M292 187h1M196 270h1M262 234h1M274 217h1M273 232h1M193 265h1M228 256h1M255 231h1M216 262h1M198 266h1M246 237h1M197 268h1M218 255h1M203 267h1M259 238h1M201 263h1M289 208h1M225 252h1M274 238h1M215 258h1M195 271h1M266 228h1M249 229h1M216 259h1M282 222h1M218 257h1M248 246h1M213 261h1M292 230h1M252 241h1M238 240h1M248 245h1M283 200h1M265 228h1M242 234h1M265 236h1M203 268h1M237 238h1M226 247h1M225 249h1M288 182h1M247 239h1M296 199h1M222 248h1M241 229h1M281 196h1M287 215h1M262 216h1M229 250h1M267 229h1M276 228h1M256 234h1M272 226h1M268 238h1M215 255h1M219 256h1M198 270h1M293 186h1M199 268h1M272 170h1M245 230h1M289 184h1M220 254h1M293 207h1M207 254h1M205 268h1M247 250h1M213 263h1M225 251h1M241 245h1M255 229h1M248 235h1M281 206h1M193 270h1M280 211h1M202 263h1M211 269h1M201 264h1M233 252h1M264 233h1M195 267h1M221 253h1M213 263h1M203 262h1M262 236h1M255 231h1M199 265h1M227 257h1M216 250h1M240 240h1M198 265h1M292 214h1M274 214h1M233 248h1M244 245h1M280 251h1M225 256h1M291 186h1M279 236h1M248 239h1M194 264h1M295 208h1M225 248h1M210 259h1M227 247h1M193 268h1M207 253h1M243 248h1M201 265h1M232 252h1M270 229h1M266 227h1M265 239h1M280 231h1M233 246h1M252 242h1M233 246h1M252 233h1M245 243h1M204 264h1M264 228h1M235 236h1M195 266h1M285 216h1M222 257h1M200 267h1M232 246h1M225 254h1M248 230h1M269 230h1M230 256h1M259 230h1M291 191h1M293 219h1M232 247h1M283 216h1M266 235h1M234 245h1M222 256h1M227 248h1M207 259h1M210 261h1M196 269h1M202 265h1M251 244h1M200 266h1M279 210h1M277 225h1M287 187h1M285 214h1M258 240h1M206 264h1M240 249h1M264 227h1M282 214h1M279 213h1M293 198h1M201 266h1M295 216h1M233 247h1M209 266h1M214 260h1M280 189h1M268 232h1M209 260h1M264 230h1M294 184h1M253 232h1M227 259h1M223 257h1M217 255h1M245 236h1M270 221h1M277 212h1M219 258h1M279 230h1M276 202h1M227 253h1M254 235h1M236 245h1M287 222h1M195 265h1M234 243h1M251 236h1M295 184h1M292 200h1M253 241h1M279 201h1M228 259h1M204 268h1M233 246h1M214 260h1M225 248h1M250 236h1M227 249h1M244 236h1M269 235h1M284 220h1M253 242h1M280 197h1M264 229h1M277 216h1M272 207h1M275 233h1M198 267h1M257 237h1M224 259h1M207 261h1M283 233h1M261 215h1M257 243h1M293 218h1M227 246h1M198 263h1M206 270h1M271 215h1M256 243h1M211 262h1M202 266h1M258 233h1M242 235h1M215 253h1M240 239h1M269 240h1M211 253h1M246 233h1M295 212h1M194 269h1M296 197h1M207 259h1M246 229h1M279 209h1M211 255h1M280 213h1M225 248h1M243 233h1M267 239h1M282 187h1M205 265h1M201 264h1M254 231h1M217 252h1M211 256h1M247 237h1M287 180h1M281 228h1M290 212h1M262 230h1M245 241h1M211 264h1M272 224h1M255 240h1M285 204h1M246 249h1M238 241h1M273 210h1M194 267h1M283 225h1M263 241h1M218 258h1M285 237h1M202 262h1M295 192h1M231 246h1M237 251h1M232 244h1M197 267h1M248 231h1M219 256h1M269 216h1M201 273h1M197 269h1M243 236h1M286 222h1M213 259h1M195 267h1M262 235h1M266 212h1M295 223h1M272 235h1M288 194h1M266 227h1M252 222h1M280 224h1M256 237h1M264 231h1M268 221h1M263 229h1M289 200h1M258 231h1M225 249h1M219 253h1M278 211h1M289 169h1M206 260h1M291 219h1M245 248h1M210 258h1M277 221h1M294 221h1M224 245h1M295 210h1M255 220h1M261 234h1M240 243h1M255 233h1M233 246h1M214 265h1M282 177h1M250 227h1M259 234h1M203 265h1M285 203h1M246 242h1M236 246h1M228 251h1M288 224h1M220 251h1M287 215h1M220 258h1M213 256h1M249 245h1M282 204h1M288 184h1M208 257h1M267 228h1M266 241h1M220 253h1M291 208h1M194 268h1M268 232h1M263 220h1M232 248h1M293 191h1M199 267h1M218 261h1M254 217h1M264 231h1M257 232h1M296 213h1M232 244h1M282 217h1M249 223h1M268 233h1M252 250h1M226 253h1M217 262h1M234 253h1M193 268h1M274 224h1M239 245h1M205 266h1M201 263h1M296 213h1M232 243h1M247 243h1M276 221h1M276 199h1M270 221h1M197 268h1M261 230h1M273 226h1M202 271h1M221 248h1M267 213h1M241 238h1M247 240h1M278 213h1M230 248h1M206 260h1M277 210h1M196 272h1M279 243h1M236 245h1M195 268h1M274 201h1M234 243h1M236 249h1M193 270h1M293 204h1M281 236h1M230 269h1M207 262h1M289 193h1M243 245h1M278 229h1M204 259h1M259 232h1M230 254h1M223 255h1M280 206h1M204 267h1M242 234h1M258 243h1M205 263h1M294 173h1M282 204h1M296 214h1M284 234h1M267 233h1M237 244h1M233 257h1M201 261h1M212 263h1M203 259h1M215 250h1M209 257h1M244 248h1M239 246h1M197 266h1M283 221h1M198 264h1M242 250h1M261 233h1M286 220h1M261 218h1M295 204h1M254 218h1M252 241h1M293 179h1M260 237h1M286 225h1M200 267h1M228 256h1M233 254h1M215 257h1M256 230h1M288 204h1M257 234h1M291 206h1M253 235h1M266 242h1M277 222h1M275 217h1M235 253h1M249 231h1M235 246h1M202 266h1M271 234h1M218 251h1M273 194h1M232 242h1M218 250h1M236 251h1M237 245h1M214 260h1M274 212h1M240 241h1M262 235h1M242 244h1M228 248h1M255 241h1M288 202h1M220 252h1M269 221h1M193 267h1M283 225h1M265 213h1M241 245h1M217 249h1M272 203h1M216 257h1M224 254h1M215 257h1M196 262h1M233 252h1M244 247h1M252 230h1M289 226h1M208 259h1M252 237h1M240 239h1M196 265h1M256 212h1M202 264h1M269 231h1M266 224h1M270 231h1M223 256h1M284 231h1M193 271h1M284 216h1M252 238h1M274 221h1M226 247h1M242 235h1M206 271h1M202 262h1M205 265h1M229 256h1M268 229h1M250 234h1M207 264h1M242 255h1M286 198h1M202 262h1M281 211h1M256 239h1M262 237h1M287 204h1M225 252h1M240 248h1M267 215h1M292 206h1M265 232h1M278 231h1M214 261h1M193 266h1M276 221h1M274 216h1M279 222h1M265 232h1M247 239h1M249 240h1M240 254h1M197 275h1M292 220h1M241 244h1M203 270h1M215 255h1M294 175h1M252 236h1M252 230h1M231 237h1M234 241h1M282 211h1M258 229h1M219 257h1M251 241h1M251 241h1M193 266h1M259 237h1M231 260h1M291 205h1M221 253h1M234 249h1M273 232h1M287 213h1M287 220h1M197 264h1M291 178h1M203 262h1M261 228h1M207 262h1M270 219h1M236 240h1M271 228h1M265 233h1M193 268h1M209 258h1M209 261h1M261 226h1M227 253h1M294 196h1M291 176h1M244 250h1M276 225h1M264 236h1M218 255h1M210 260h1M257 234h1M234 248h1M273 222h1M258 225h1M289 222h1M202 265h1M229 257h1M277 210h1M221 253h1M204 264h1M229 241h1M207 259h1M258 203h1M198 265h1M208 262h1M215 258h1M284 226h1M232 249h1M268 235h1M256 238h1M216 248h1M202 266h1M203 259h1M280 225h1M229 255h1M246 247h1M217 258h1M193 269h1M252 226h1M250 242h1M261 233h1M201 264h1M279 201h1M257 222h1M228 248h1M263 236h1M280 218h1M203 261h1M197 269h1M294 219h1M272 227h1M287 210h1M269 229h1M204 263h1M294 213h1M284 199h1M207 266h1M261 232h1M260 248h1M194 263h1M234 243h1M236 237h1M203 264h1M217 259h1M220 252h1M204 264h1M200 266h1M235 242h1M223 253h1M199 263h1M199 265h1M289 201h1M259 227h1M208 258h1M252 239h1M213 259h1M222 260h1M228 240h1M210 260h1M256 235h1M251 241h1M244 243h1M231 258h1M220 251h1M231 241h1M264 234h1M222 250h1M247 241h1M237 243h1M288 235h1M292 191h1M259 243h1M196 269h1M285 217h1M228 251h1M272 212h1M244 242h1M221 255h1M222 252h1M194 266h1M244 238h1M232 247h1M209 261h1M281 197h1M255 236h1M272 234h1M272 222h1M266 239h1M269 229h1M294 198h1M241 237h1M286 194h1M238 241h1M272 222h1M223 245h1M280 215h1M226 258h1M222 245h1M221 256h1M240 244h1M218 257h1M208 263h1M228 250h1M245 238h1M289 208h1M254 228h1M249 233h1M272 225h1M232 249h1M200 266h1M205 261h1M283 199h1M208 268h1M200 268h1M201 268h1M236 247h1M256 239h1M203 267h1M213 263h1M257 234h1M257 237h1M195 272h1M256 222h1M254 236h1M266 231h1M239 239h1M237 242h1M261 240h1M270 230h1M242 242h1M221 252h1M286 216h1M252 256h1M270 227h1M253 229h1M296 176h1M213 263h1M255 238h1M203 259h1M253 245h1M227 256h1M261 224h1M221 251h1M252 240h1M274 223h1M213 261h1M272 240h1M195 267h1M290 213h1M247 231h1M294 214h1M242 248h1M221 242h1M264 209h1M240 245h1M223 246h1M235 247h1M282 223h1M214 259h1M205 265h1M195 268h1M266 237h1M212 258h1M220 253h1M269 216h1M195 263h1M280 217h1M234 247h1M271 223h1M279 206h1M229 246h1M272 233h1M255 237h1M227 256h1M277 225h1M233 245h1M203 271h1M234 243h1M214 252h1M247 235h1M250 240h1M265 235h1M289 214h1M257 226h1M199 270h1M208 263h1M267 230h1M203 263h1M281 235h1M209 265h1M272 215h1M234 252h1M257 236h1M210 260h1M259 241h1M244 238h1M265 230h1M221 259h1M236 247h1M271 209h1M271 218h1M270 228h1M202 263h1M295 206h1M242 246h1M233 245h1M232 242h1M259 235h1M279 236h1M196 267h1M270 230h1M255 239h1M231 250h1M226 246h1M197 269h1M287 219h1M241 239h1M271 229h1M200 264h1M256 226h1M216 254h1M278 231h1M271 233h1M280 221h1M215 267h1M266 221h1M214 261h1M288 201h1M229 240h1M216 260h1M250 240h1M263 217h1M274 219h1M274 228h1M255 233h1M222 257h1M261 218h1M225 261h1M235 246h1M207 260h1M283 209h1M289 201h1M253 223h1M220 250h1M276 224h1M292 218h1M254 226h1M268 230h1M285 209h1M210 268h1M276 228h1M206 265h1M257 236h1M292 214h1M238 244h1M269 218h1M218 262h1M209 265h1M216 261h1M197 265h1M222 254h1M278 227h1M202 265h1M265 211h1M253 236h1M213 254h1M233 242h1M285 221h1M235 230h1M266 237h1M275 209h1M279 213h1M247 239h1M236 244h1M220 254h1M234 243h1M206 263h1M239 238h1M286 212h1M268 228h1M291 206h1M248 246h1M196 267h1M233 245h1M287 236h1M267 239h1M217 259h1M295 198h1M252 246h1M230 251h1M217 256h1M203 264h1M277 230h1M236 248h1M248 235h1M224 243h1M196 269h1M275 224h1M242 247h1M256 238h1M291 221h1M225 254h1M216 258h1M206 262h1M288 182h1M205 258h1M287 235h1M287 199h1M228 248h1M265 245h1M265 232h1M201 259h1M281 181h1M213 252h1M193 268h1M275 235h1M200 267h1M264 221h1M277 229h1M246 230h1M195 267h1M230 257h1M281 245h1M266 222h1M277 207h1M228 252h1M295 209h1M233 251h1M244 244h1M251 247h1M266 243h1M271 231h1M226 247h1M212 259h1M281 220h1M219 255h1M219 260h1M196 271h1M195 269h1M206 263h1M227 255h1M208 259h1M278 205h1M237 243h1M297 186h1M199 265h1M251 219h1M297 203h1M283 206h1M234 253h1M285 226h1M296 212h1M208 252h1M244 243h1M196 269h1M211 256h1M235 249h1M195 266h1M266 212h1M277 226h1M248 236h1M206 273h1M269 228h1M283 209h1M256 236h1M198 267h1M203 264h1M270 216h1M272 216h1M224 258h1M245 236h1M257 245h1M294 183h1M281 226h1M281 219h1M271 237h1M263 232h1M244 242h1M295 191h1M206 264h1M265 234h1M257 240h1M196 268h1M284 216h1M251 237h1M281 189h1M272 227h1M205 259h1M235 247h1M288 204h1M292 200h1M245 241h1M213 254h1M250 238h1M260 243h1M283 233h1M269 241h1M198 270h1M234 249h1M285 236h1M208 262h1M205 266h1M274 229h1M207 263h1M218 253h1M278 224h1M204 269h1M279 224h1M213 258h1M289 216h1M286 209h1M241 243h1M284 204h1M258 239h1M217 256h1M286 213h1M267 228h1M195 264h1M212 264h1M221 261h1M297 193h1M283 243h1M246 241h1M285 209h1M262 234h1M275 227h1M294 199h1M278 228h1M216 252h1M273 231h1M272 218h1M195 264h1M231 249h1M215 253h1M247 245h1M194 272h1M210 257h1M262 226h1M259 222h1M225 247h1M265 214h1M228 250h1M223 247h1M263 236h1M203 271h1M229 245h1M224 253h1M232 246h1M222 242h1M275 197h1M195 272h1M246 240h1M229 256h1M214 259h1M273 232h1M295 219h1M292 201h1M245 248h1M284 230h1M282 214h1M283 218h1M244 234h1M296 225h1M272 214h1M287 214h1M255 231h1M247 237h1M259 239h1M221 255h1M200 269h1M280 219h1M202 268h1M213 255h1M194 267h1M262 197h1M245 247h1M205 267h1M221 249h1M234 242h1M270 225h1M209 258h1M281 241h1M256 246h1M279 222h1M193 270h1M293 205h1M211 255h1M275 203h1M236 242h1M261 231h1M284 229h1M257 228h1M295 211h1M282 237h1M279 238h1M283 227h1M195 270h1M244 226h1M292 201h1M276 225h1M259 233h1M240 248h1M200 269h1M236 249h1M285 200h1M258 230h1M211 254h1M288 225h1M194 270h1M206 267h1M272 227h1M269 215h1M217 256h1M242 236h1M221 248h1M198 262h1M284 226h1M281 211h1M252 229h1M252 232h1M246 240h1M252 236h1M253 234h1M295 196h1M286 223h1M246 238h1M284 247h1M207 259h1M253 214h1M211 257h1M257 238h1M214 260h1M272 231h1M284 224h1M292 229h1M246 237h1M282 229h1M223 254h1M229 250h1M292 227h1M280 234h1M227 244h1M260 239h1M208 265h1M258 216h1M222 251h1M198 266h1M229 250h1M241 248h1M209 265h1M296 182h1M205 253h1M289 189h1M196 269h1M194 270h1M216 262h1M213 263h1M278 232h1M261 215h1M206 267h1M251 231h1M213 265h1M273 233h1M210 263h1M241 248h1M286 221h1M231 249h1M207 257h1M266 236h1M256 239h1M239 247h1M210 260h1M262 239h1M289 203h1M294 185h1M213 263h1M276 220h1M289 202h1M237 244h1M220 261h1M292 213h1M230 248h1M218 252h1M219 252h1M240 244h1M265 214h1M239 241h1M237 244h1M214 254h1M232 247h1M294 192h1M217 258h1M203 269h1M208 268h1M254 228h1M285 214h1M196 269h1M222 253h1M284 194h1M204 261h1M254 228h1M243 230h1M217 258h1M268 227h1M211 257h1M205 268h1M199 266h1M290 230h1M213 258h1M208 263h1M230 248h1M212 259h1M241 238h1M200 262h1M215 254h1M264 235h1M251 242h1M284 230h1M203 257h1M259 243h1M242 245h1M224 245h1M234 245h1M281 216h1M295 208h1M255 206h1M259 219h1M201 267h1M196 269h1M251 230h1M200 266h1M295 217h1M205 264h1M205 262h1M254 222h1M243 235h1M261 235h1M265 229h1M228 252h1" stroke="#3d4f60" stroke-opacity="0.45" stroke-width="1.3" transform="translate(-0.15 0.5)"/>
<path d="M269 240h1M207 257h1M255 212h1M290 235h1M297 218h1M242 237h1M246 230h1M295 200h1M249 230h1M284 199h1M235 251h1M257 223h1M205 262h1M201 262h1M238 250h1M261 229h1M270 240h1M231 239h1M285 199h1M236 243h1M225 253h1M232 244h1M198 275h1M198 264h1M212 257h1M293 171h1M295 194h1M195 276h1M214 260h1M287 190h1M242 250h1M195 267h1M205 266h1M198 261h1M227 246h1M263 246h1M283 217h1M252 239h1M237 248h1M265 240h1M245 235h1M253 223h1M278 217h1M197 271h1M227 248h1M278 236h1M209 251h1M230 244h1M236 237h1M201 255h1M282 250h1M196 267h1M271 252h1M203 266h1M214 251h1M278 239h1M194 271h1M240 258h1M293 222h1M296 198h1M278 227h1M214 257h1M199 261h1M234 244h1M195 272h1M223 246h1M252 246h1M201 271h1M259 235h1M260 226h1M223 258h1M204 261h1M230 254h1M235 251h1M256 233h1M271 216h1M227 244h1M217 256h1M281 192h1M252 235h1M197 268h1M196 266h1M232 252h1M291 227h1M201 259h1M222 254h1M289 188h1M274 209h1M243 239h1M280 234h1M291 230h1M256 226h1M235 246h1M251 235h1M274 218h1M246 253h1M277 234h1M253 213h1M254 239h1M295 218h1M296 171h1M220 263h1M212 264h1M271 247h1M208 260h1M244 233h1M282 200h1M266 216h1M262 209h1M265 230h1M243 226h1M282 233h1M271 234h1M268 212h1M244 243h1M276 258h1M295 195h1M238 255h1M265 254h1M254 237h1M295 172h1M255 219h1M235 231h1M262 233h1M216 258h1M242 235h1M196 273h1M229 245h1M289 213h1M296 222h1M244 248h1M214 261h1M244 246h1M294 212h1M273 240h1M242 250h1M268 211h1M219 258h1M240 244h1M267 223h1M195 274h1M255 237h1M245 244h1M214 264h1M247 229h1M210 257h1M214 257h1M214 252h1M267 231h1M271 207h1M246 243h1M234 248h1M231 249h1M225 255h1M230 247h1M269 236h1M224 251h1M260 232h1M200 266h1M247 246h1M200 267h1M206 258h1M290 244h1M257 246h1M195 268h1M248 245h1M223 247h1M285 229h1M224 249h1M235 251h1M289 214h1M233 239h1M226 255h1M257 233h1M269 219h1M246 239h1M234 253h1M295 210h1M245 237h1M245 237h1M222 253h1M270 197h1M258 222h1M250 233h1M240 226h1M284 246h1M270 224h1M240 254h1M293 201h1M264 230h1M262 230h1M256 211h1M195 264h1M251 242h1M282 208h1M278 225h1M274 227h1M263 209h1M260 215h1M273 205h1M204 254h1M238 234h1M235 247h1M269 240h1M235 255h1M278 229h1M243 236h1M200 261h1M294 235h1M295 210h1M291 187h1M195 264h1M279 252h1M294 219h1M194 269h1M241 244h1M253 234h1M218 261h1M231 253h1M252 250h1M269 195h1M238 250h1M296 209h1M259 242h1M219 259h1M211 260h1M222 262h1M195 271h1M228 244h1M227 237h1M213 265h1M199 267h1M244 245h1M221 249h1M294 226h1M284 210h1M238 243h1M205 257h1M232 249h1M200 267h1M295 179h1M219 252h1M269 233h1M262 212h1M283 222h1M254 244h1M262 231h1M260 211h1M259 232h1M249 248h1M263 231h1M205 256h1M259 241h1M241 246h1M232 257h1M236 256h1M280 230h1M289 205h1M260 202h1M231 232h1M226 251h1M276 208h1M240 243h1M289 185h1M235 238h1M221 260h1M286 218h1M231 249h1M294 236h1M235 241h1M231 252h1M271 206h1M234 243h1M211 260h1M257 231h1M248 231h1M284 207h1M251 246h1M267 213h1M231 239h1M261 248h1M259 212h1M212 257h1M225 243h1M206 257h1M292 226h1M237 250h1M273 217h1M196 273h1M282 205h1M254 246h1M196 269h1M199 270h1M266 228h1M222 256h1M206 262h1M241 218h1M238 260h1M219 259h1M297 205h1M294 203h1M266 216h1M197 265h1M280 218h1M255 244h1M200 267h1M202 266h1M237 251h1M255 225h1M220 260h1M226 248h1M230 253h1M194 266h1M291 225h1M216 250h1M235 258h1M215 255h1M244 237h1M282 199h1M285 189h1M208 260h1M216 247h1M221 260h1M282 213h1M280 172h1M283 216h1M234 250h1M296 208h1M210 257h1M252 235h1M222 236h1M245 226h1M230 253h1M244 250h1M223 261h1M278 205h1M208 263h1M246 236h1M274 228h1M236 247h1M213 253h1M244 250h1M271 215h1M240 238h1M297 194h1M268 215h1M201 256h1M262 228h1M276 227h1M293 220h1M278 212h1M278 243h1M202 261h1M216 253h1M243 218h1M239 256h1M201 270h1M255 248h1M254 215h1M212 263h1M249 220h1M264 243h1M214 257h1M269 218h1M217 257h1M288 205h1M283 241h1M196 272h1M257 213h1M263 240h1M201 252h1M233 259h1M221 250h1M293 198h1M194 268h1M234 262h1M232 253h1M222 254h1M282 226h1M201 263h1M222 259h1M224 248h1M287 202h1M224 250h1M281 235h1M280 221h1M286 207h1M259 211h1M288 227h1M239 241h1M198 268h1M205 262h1M239 247h1M254 238h1M195 261h1M279 180h1M247 237h1M265 201h1M263 237h1M247 240h1M200 270h1M230 254h1M208 265h1M204 260h1M209 262h1M271 236h1M281 233h1M227 252h1M207 261h1M288 193h1M250 234h1M249 232h1M225 258h1M255 246h1M237 244h1M267 217h1M289 224h1M210 266h1M261 238h1M262 211h1M280 182h1M226 261h1M246 247h1M241 239h1M275 221h1M253 234h1M268 228h1M259 219h1M279 232h1M271 212h1M249 225h1M251 247h1M247 240h1M218 262h1M288 216h1M214 263h1M242 254h1M225 254h1M203 269h1M277 208h1M235 249h1M249 211h1M279 216h1M195 264h1M224 240h1M270 234h1M226 251h1M242 246h1M241 245h1M284 249h1M198 269h1M296 169h1M267 236h1M260 234h1M260 222h1M242 234h1M197 268h1M227 235h1M259 243h1M243 247h1M255 240h1M251 244h1M231 257h1M240 230h1M215 259h1M251 242h1M239 249h1M193 267h1M248 238h1M236 251h1M245 246h1M199 274h1M233 233h1M207 262h1M206 261h1M201 267h1M194 269h1M285 198h1M255 238h1M280 190h1M231 241h1M248 228h1M202 265h1M228 255h1M218 262h1M268 204h1M270 220h1M283 233h1M199 266h1M254 248h1M265 246h1M196 266h1M283 205h1M233 248h1M296 184h1M218 256h1M259 228h1M262 250h1M222 254h1M227 246h1M269 226h1M250 240h1M281 193h1M204 256h1M273 220h1M278 227h1M283 195h1M260 208h1M218 260h1M200 263h1M283 214h1M275 229h1M236 252h1M281 206h1M200 261h1M287 183h1M252 225h1M254 237h1M292 255h1M284 223h1M209 258h1M275 218h1M210 258h1M255 216h1M239 244h1M243 245h1M257 235h1M278 203h1M235 246h1M288 194h1M202 263h1M208 251h1M279 230h1M259 228h1M257 230h1M212 263h1M241 264h1M193 266h1M292 236h1M289 186h1M195 272h1M238 250h1M222 252h1M243 231h1M231 240h1M282 234h1M226 260h1M214 257h1M294 200h1M223 248h1M265 230h1M246 235h1M268 240h1M251 245h1M277 228h1M209 255h1M291 172h1M220 252h1M287 235h1M194 271h1M248 237h1M234 253h1M203 267h1M270 210h1M264 247h1M265 242h1M242 231h1M251 234h1M246 247h1M225 262h1M249 250h1M280 197h1M278 209h1M200 271h1M273 210h1M241 245h1M263 225h1M241 248h1M220 246h1M294 171h1M293 181h1M266 252h1M209 270h1M198 274h1M262 222h1M265 213h1M203 266h1M237 242h1M267 208h1M293 217h1M282 193h1M277 237h1" stroke="#8d99a8" stroke-opacity="0.5" stroke-width="1" transform="translate(0 0.5)"/>
<path d="M193.7 265.5 195.6 264.2 197.4 262.9 199.3 261.7 201.2 260.4 203.1 259.2 204.9 258 206.8 256.8 208.7 255.6 210.6 254.4 212.4 253.2 214.3 252 216.2 250.9 218.1 249.7 219.9 248.4 221.8 247.2 223.7 246 225.6 244.7 227.4 243.5 229.3 242.2 231.2 240.9 233.1 239.5 234.9 238.2 236.8 236.8 238.7 235.4 240.5 234 242.4 232.5 244.3 231 246.2 229.5 248 227.9 249.9 226.3 251.8 224.7 253.7 223 255.5 221.3 257.4 219.5 259.3 217.7 261.2 215.9 263 214.1 264.9 212.2 266.8 210.2 268.7 208.2 270.5 206.2 272.4 204.2 274.3 202.1 276.2 199.9 278 197.8 279.9 195.6 281.8 193.3 283.6 191 285.5 188.7 287.4 186.4 289.3 184 291.1 181.5 293 179.1 294.9 176.6 296.8 174.1" stroke="#d8604a" stroke-opacity="0.2" stroke-width="2.6" fill="none"/>
<path d="M193.7 273.3 195.6 272.7 197.4 272.1 199.3 271.4 201.2 270.7 203.1 269.9 204.9 269.1 206.8 268.3 208.7 267.4 210.6 266.5 212.4 265.6 214.3 264.7 216.2 263.8 218.1 262.9 219.9 262 221.8 261 223.7 260.1 225.6 259.2 227.4 258.3 229.3 257.4 231.2 256.5 233.1 255.7 234.9 254.8 236.8 254 238.7 253.1 240.5 252.3 242.4 251.5 244.3 250.7 246.2 250 248 249.2 249.9 248.5 251.8 247.8 253.7 247.1 255.5 246.4 257.4 245.7 259.3 245 261.2 244.3 263 243.6 264.9 242.9 266.8 242.1 268.7 241.4 270.5 240.7 272.4 239.9 274.3 239.1 276.2 238.3 278 237.5 279.9 236.6 281.8 235.6 283.6 234.6 285.5 233.6 287.4 232.5 289.3 231.3 291.1 230 293 228.6 294.9 227.2 296.8 225.6" stroke="#d8604a" stroke-opacity="0.2" stroke-width="2.6" fill="none"/>
<path d="M193.7 266 195.6 264.7 197.4 263.5 199.3 262.3 201.2 261.1 203.1 259.9 204.9 258.8 206.8 257.6 208.7 256.4 210.6 255.3 212.4 254.1 214.3 252.9 216.2 251.8 218.1 250.6 219.9 249.4 221.8 248.2 223.7 247 225.6 245.8 227.4 244.5 229.3 243.3 231.2 242 233.1 240.7 234.9 239.4 236.8 238 238.7 236.7 240.5 235.3 242.4 233.9 244.3 232.4 246.2 230.9 248 229.4 249.9 227.9 251.8 226.3 253.7 224.7 255.5 223.1 257.4 221.4 259.3 219.7 261.2 218 263 216.2 264.9 214.4 266.8 212.6 268.7 210.7 270.5 208.8 272.4 206.8 274.3 204.8 276.2 202.8 278 200.7 279.9 198.6 281.8 196.5 283.6 194.3 285.5 192.1 287.4 189.8 289.3 187.5 291.1 185.2 293 182.8 294.9 180.4 296.8 178" stroke="#b05040" stroke-opacity="0.14" stroke-width="2.4" fill="none"/>
<path d="M193.7 272.8 195.6 272.2 197.4 271.6 199.3 270.9 201.2 270.1 203.1 269.3 204.9 268.5 206.8 267.7 208.7 266.8 210.6 265.9 212.4 265 214.3 264 216.2 263.1 218.1 262.2 219.9 261.2 221.8 260.3 223.7 259.4 225.6 258.4 227.4 257.5 229.3 256.6 231.2 255.7 233.1 254.8 234.9 253.9 236.8 253 238.7 252.2 240.5 251.3 242.4 250.5 244.3 249.7 246.2 248.9 248 248.1 249.9 247.3 251.8 246.6 253.7 245.8 255.5 245 257.4 244.3 259.3 243.5 261.2 242.8 263 242 264.9 241.3 266.8 240.5 268.7 239.7 270.5 238.9 272.4 238.1 274.3 237.2 276.2 236.4 278 235.4 279.9 234.5 281.8 233.5 283.6 232.4 285.5 231.3 287.4 230.1 289.3 228.9 291.1 227.5 293 226.1 294.9 224.6 296.8 223" stroke="#b05040" stroke-opacity="0.14" stroke-width="2.4" fill="none"/>
<path d="M193.7 266.7 195.6 265.6 197.4 264.5 199.3 263.3 201.2 262.2 203.1 261.1 204.9 260 206.8 258.8 208.7 257.7 210.6 256.6 212.4 255.5 214.3 254.3 216.2 253.2 218.1 252 219.9 250.9 221.8 249.7 223.7 248.5 225.6 247.4 227.4 246.2 229.3 244.9 231.2 243.7 233.1 242.5 234.9 241.2 236.8 239.9 238.7 238.6 240.5 237.3 242.4 236 244.3 234.6 246.2 233.2 248 231.8 249.9 230.4 251.8 228.9 253.7 227.4 255.5 225.9 257.4 224.4 259.3 222.8 261.2 221.2 263 219.6 264.9 217.9 266.8 216.2 268.7 214.5 270.5 212.7 272.4 210.9 274.3 209.1 276.2 207.2 278 205.3 279.9 203.4 281.8 201.4 283.6 199.3 285.5 197.3 287.4 195.1 289.3 193 291.1 190.8 293 188.5 294.9 186.3 296.8 183.9" stroke="#e0a060" stroke-opacity="0.16" stroke-width="2.6" fill="none"/>
<path d="M193.7 272.1 195.6 271.4 197.4 270.7 199.3 270 201.2 269.2 203.1 268.4 204.9 267.6 206.8 266.7 208.7 265.8 210.6 264.9 212.4 263.9 214.3 263 216.2 262 218.1 261.1 219.9 260.1 221.8 259.1 223.7 258.2 225.6 257.2 227.4 256.3 229.3 255.3 231.2 254.4 233.1 253.4 234.9 252.5 236.8 251.6 238.7 250.7 240.5 249.8 242.4 248.9 244.3 248.1 246.2 247.2 248 246.4 249.9 245.5 251.8 244.7 253.7 243.8 255.5 243 257.4 242.2 259.3 241.4 261.2 240.5 263 239.7 264.9 238.8 266.8 238 268.7 237.1 270.5 236.2 272.4 235.3 274.3 234.3 276.2 233.4 278 232.3 279.9 231.3 281.8 230.2 283.6 229 285.5 227.8 287.4 226.6 289.3 225.2 291.1 223.8 293 222.3 294.9 220.7 296.8 219" stroke="#e0a060" stroke-opacity="0.16" stroke-width="2.6" fill="none"/>
<path d="M193.7 268 195.6 267 197.4 266.1 199.3 265.1 201.2 264 203.1 263 204.9 262 206.8 260.9 208.7 259.9 210.6 258.8 212.4 257.7 214.3 256.7 216.2 255.6 218.1 254.5 219.9 253.4 221.8 252.3 223.7 251.1 225.6 250 227.4 248.9 229.3 247.7 231.2 246.6 233.1 245.4 234.9 244.3 236.8 243.1 238.7 241.9 240.5 240.7 242.4 239.5 244.3 238.3 246.2 237 248 235.8 249.9 234.5 251.8 233.3 253.7 232 255.5 230.6 257.4 229.3 259.3 228 261.2 226.6 263 225.2 264.9 223.8 266.8 222.3 268.7 220.8 270.5 219.3 272.4 217.8 274.3 216.2 276.2 214.6 278 212.9 279.9 211.3 281.8 209.5 283.6 207.7 285.5 205.9 287.4 204.1 289.3 202.1 291.1 200.2 293 198.1 294.9 196 296.8 193.9" stroke="#4a7090" stroke-opacity="0.14" stroke-width="2.4" fill="none"/>
<path d="M193.7 270.8 195.6 270.1 197.4 269.4 199.3 268.6 201.2 267.7 203.1 266.9 204.9 266 206.8 265 208.7 264.1 210.6 263.2 212.4 262.2 214.3 261.2 216.2 260.2 218.1 259.2 219.9 258.2 221.8 257.2 223.7 256.2 225.6 255.2 227.4 254.2 229.3 253.2 231.2 252.2 233.1 251.2 234.9 250.2 236.8 249.2 238.7 248.3 240.5 247.3 242.4 246.3 244.3 245.4 246.2 244.4 248 243.4 249.9 242.5 251.8 241.5 253.7 240.6 255.5 239.6 257.4 238.7 259.3 237.7 261.2 236.7 263 235.8 264.9 234.8 266.8 233.8 268.7 232.7 270.5 231.7 272.4 230.6 274.3 229.5 276.2 228.3 278 227.2 279.9 226 281.8 224.7 283.6 223.4 285.5 222 287.4 220.6 289.3 219.1 291.1 217.5 293 215.9 294.9 214.2 296.8 212.4" stroke="#4a7090" stroke-opacity="0.14" stroke-width="2.4" fill="none"/>
<path d="M193.7 265.5 195.6 264.2 197.4 262.9 199.3 261.7 201.2 260.4 203.1 259.2 204.9 258 206.8 256.8 208.7 255.6 210.6 254.4 212.4 253.2 214.3 252 216.2 250.9 218.1 249.7 219.9 248.4 221.8 247.2 223.7 246 225.6 244.7 227.4 243.5 229.3 242.2 231.2 240.9 233.1 239.5 234.9 238.2 236.8 236.8 238.7 235.4 240.5 234 242.4 232.5 244.3 231 246.2 229.5 248 227.9 249.9 226.3 251.8 224.7 253.7 223 255.5 221.3 257.4 219.5 259.3 217.7 261.2 215.9 263 214.1 264.9 212.2 266.8 210.2 268.7 208.2 270.5 206.2 272.4 204.2 274.3 202.1 276.2 199.9 278 197.8 279.9 195.6 281.8 193.3 283.6 191 285.5 188.7 287.4 186.4 289.3 184 291.1 181.5 293 179.1 294.9 176.6 296.8 174.1" stroke="#bd3629" stroke-width="1.1" fill="none"/>
<path d="M193.7 273.3 195.6 272.7 197.4 272.1 199.3 271.4 201.2 270.7 203.1 269.9 204.9 269.1 206.8 268.3 208.7 267.4 210.6 266.5 212.4 265.6 214.3 264.7 216.2 263.8 218.1 262.9 219.9 262 221.8 261 223.7 260.1 225.6 259.2 227.4 258.3 229.3 257.4 231.2 256.5 233.1 255.7 234.9 254.8 236.8 254 238.7 253.1 240.5 252.3 242.4 251.5 244.3 250.7 246.2 250 248 249.2 249.9 248.5 251.8 247.8 253.7 247.1 255.5 246.4 257.4 245.7 259.3 245 261.2 244.3 263 243.6 264.9 242.9 266.8 242.1 268.7 241.4 270.5 240.7 272.4 239.9 274.3 239.1 276.2 238.3 278 237.5 279.9 236.6 281.8 235.6 283.6 234.6 285.5 233.6 287.4 232.5 289.3 231.3 291.1 230 293 228.6 294.9 227.2 296.8 225.6" stroke="#bd3629" stroke-width="1.1" fill="none"/>
<path d="M193.7 266 195.6 264.7 197.4 263.5 199.3 262.3 201.2 261.1 203.1 259.9 204.9 258.8 206.8 257.6 208.7 256.4 210.6 255.3 212.4 254.1 214.3 252.9 216.2 251.8 218.1 250.6 219.9 249.4 221.8 248.2 223.7 247 225.6 245.8 227.4 244.5 229.3 243.3 231.2 242 233.1 240.7 234.9 239.4 236.8 238 238.7 236.7 240.5 235.3 242.4 233.9 244.3 232.4 246.2 230.9 248 229.4 249.9 227.9 251.8 226.3 253.7 224.7 255.5 223.1 257.4 221.4 259.3 219.7 261.2 218 263 216.2 264.9 214.4 266.8 212.6 268.7 210.7 270.5 208.8 272.4 206.8 274.3 204.8 276.2 202.8 278 200.7 279.9 198.6 281.8 196.5 283.6 194.3 285.5 192.1 287.4 189.8 289.3 187.5 291.1 185.2 293 182.8 294.9 180.4 296.8 178" stroke="#8c2a22" stroke-width="1.0" fill="none"/>
<path d="M193.7 272.8 195.6 272.2 197.4 271.6 199.3 270.9 201.2 270.1 203.1 269.3 204.9 268.5 206.8 267.7 208.7 266.8 210.6 265.9 212.4 265 214.3 264 216.2 263.1 218.1 262.2 219.9 261.2 221.8 260.3 223.7 259.4 225.6 258.4 227.4 257.5 229.3 256.6 231.2 255.7 233.1 254.8 234.9 253.9 236.8 253 238.7 252.2 240.5 251.3 242.4 250.5 244.3 249.7 246.2 248.9 248 248.1 249.9 247.3 251.8 246.6 253.7 245.8 255.5 245 257.4 244.3 259.3 243.5 261.2 242.8 263 242 264.9 241.3 266.8 240.5 268.7 239.7 270.5 238.9 272.4 238.1 274.3 237.2 276.2 236.4 278 235.4 279.9 234.5 281.8 233.5 283.6 232.4 285.5 231.3 287.4 230.1 289.3 228.9 291.1 227.5 293 226.1 294.9 224.6 296.8 223" stroke="#8c2a22" stroke-width="1.0" fill="none"/>
<path d="M193.7 266.7 195.6 265.6 197.4 264.5 199.3 263.3 201.2 262.2 203.1 261.1 204.9 260 206.8 258.8 208.7 257.7 210.6 256.6 212.4 255.5 214.3 254.3 216.2 253.2 218.1 252 219.9 250.9 221.8 249.7 223.7 248.5 225.6 247.4 227.4 246.2 229.3 244.9 231.2 243.7 233.1 242.5 234.9 241.2 236.8 239.9 238.7 238.6 240.5 237.3 242.4 236 244.3 234.6 246.2 233.2 248 231.8 249.9 230.4 251.8 228.9 253.7 227.4 255.5 225.9 257.4 224.4 259.3 222.8 261.2 221.2 263 219.6 264.9 217.9 266.8 216.2 268.7 214.5 270.5 212.7 272.4 210.9 274.3 209.1 276.2 207.2 278 205.3 279.9 203.4 281.8 201.4 283.6 199.3 285.5 197.3 287.4 195.1 289.3 193 291.1 190.8 293 188.5 294.9 186.3 296.8 183.9" stroke="#dc9150" stroke-width="0.95" fill="none"/>
<path d="M193.7 272.1 195.6 271.4 197.4 270.7 199.3 270 201.2 269.2 203.1 268.4 204.9 267.6 206.8 266.7 208.7 265.8 210.6 264.9 212.4 263.9 214.3 263 216.2 262 218.1 261.1 219.9 260.1 221.8 259.1 223.7 258.2 225.6 257.2 227.4 256.3 229.3 255.3 231.2 254.4 233.1 253.4 234.9 252.5 236.8 251.6 238.7 250.7 240.5 249.8 242.4 248.9 244.3 248.1 246.2 247.2 248 246.4 249.9 245.5 251.8 244.7 253.7 243.8 255.5 243 257.4 242.2 259.3 241.4 261.2 240.5 263 239.7 264.9 238.8 266.8 238 268.7 237.1 270.5 236.2 272.4 235.3 274.3 234.3 276.2 233.4 278 232.3 279.9 231.3 281.8 230.2 283.6 229 285.5 227.8 287.4 226.6 289.3 225.2 291.1 223.8 293 222.3 294.9 220.7 296.8 219" stroke="#dc9150" stroke-width="0.95" fill="none"/>
<path d="M193.7 268 195.6 267 197.4 266.1 199.3 265.1 201.2 264 203.1 263 204.9 262 206.8 260.9 208.7 259.9 210.6 258.8 212.4 257.7 214.3 256.7 216.2 255.6 218.1 254.5 219.9 253.4 221.8 252.3 223.7 251.1 225.6 250 227.4 248.9 229.3 247.7 231.2 246.6 233.1 245.4 234.9 244.3 236.8 243.1 238.7 241.9 240.5 240.7 242.4 239.5 244.3 238.3 246.2 237 248 235.8 249.9 234.5 251.8 233.3 253.7 232 255.5 230.6 257.4 229.3 259.3 228 261.2 226.6 263 225.2 264.9 223.8 266.8 222.3 268.7 220.8 270.5 219.3 272.4 217.8 274.3 216.2 276.2 214.6 278 212.9 279.9 211.3 281.8 209.5 283.6 207.7 285.5 205.9 287.4 204.1 289.3 202.1 291.1 200.2 293 198.1 294.9 196 296.8 193.9" stroke="#3a6486" stroke-width="0.9" fill="none"/>
<path d="M193.7 270.8 195.6 270.1 197.4 269.4 199.3 268.6 201.2 267.7 203.1 266.9 204.9 266 206.8 265 208.7 264.1 210.6 263.2 212.4 262.2 214.3 261.2 216.2 260.2 218.1 259.2 219.9 258.2 221.8 257.2 223.7 256.2 225.6 255.2 227.4 254.2 229.3 253.2 231.2 252.2 233.1 251.2 234.9 250.2 236.8 249.2 238.7 248.3 240.5 247.3 242.4 246.3 244.3 245.4 246.2 244.4 248 243.4 249.9 242.5 251.8 241.5 253.7 240.6 255.5 239.6 257.4 238.7 259.3 237.7 261.2 236.7 263 235.8 264.9 234.8 266.8 233.8 268.7 232.7 270.5 231.7 272.4 230.6 274.3 229.5 276.2 228.3 278 227.2 279.9 226 281.8 224.7 283.6 223.4 285.5 222 287.4 220.6 289.3 219.1 291.1 217.5 293 215.9 294.9 214.2 296.8 212.4" stroke="#3a6486" stroke-width="0.9" fill="none"/>
<path d="M193.7 269.5 195.6 268.7 197.4 267.8 199.3 267 201.2 266.1 203.1 265.1 204.9 264.2 206.8 263.2 208.7 262.3 210.6 261.3 212.4 260.2 214.3 259.2 216.2 258.2 218.1 257.2 219.9 256.1 221.8 255.1 223.7 254 225.6 253 227.4 251.9 229.3 250.8 231.2 249.8 233.1 248.7 234.9 247.7 236.8 246.6 238.7 245.5 240.5 244.5 242.4 243.4 244.3 242.3 246.2 241.3 248 240.2 249.9 239.1 251.8 238.1 253.7 237 255.5 235.9 257.4 234.8 259.3 233.7 261.2 232.5 263 231.4 264.9 230.2 266.8 229.1 268.7 227.9 270.5 226.6 272.4 225.4 274.3 224.1 276.2 222.8 278 221.4 279.9 220 281.8 218.6 283.6 217.1 285.5 215.5 287.4 213.9 289.3 212.3 291.1 210.6 293 208.8 294.9 206.9 296.8 204.9" stroke="#0d0d0d" stroke-width="1.15" fill="none"/>
<linearGradient id="g1297" gradientUnits="userSpaceOnUse" x1="346.3" y1="0" x2="449.4" y2="0"><stop offset="0.000" stop-color="#2c4555" stop-opacity="0.074"/><stop offset="0.073" stop-color="#2c4555" stop-opacity="0.084"/><stop offset="0.145" stop-color="#2c4555" stop-opacity="0.094"/><stop offset="0.218" stop-color="#2c4555" stop-opacity="0.104"/><stop offset="0.291" stop-color="#2c4555" stop-opacity="0.111"/><stop offset="0.364" stop-color="#2c4555" stop-opacity="0.115"/><stop offset="0.436" stop-color="#2c4555" stop-opacity="0.116"/><stop offset="0.509" stop-color="#2c4555" stop-opacity="0.112"/><stop offset="0.582" stop-color="#2c4555" stop-opacity="0.107"/><stop offset="0.655" stop-color="#2c4555" stop-opacity="0.099"/><stop offset="0.727" stop-color="#2c4555" stop-opacity="0.092"/><stop offset="0.800" stop-color="#2c4555" stop-opacity="0.086"/><stop offset="0.873" stop-color="#2c4555" stop-opacity="0.081"/><stop offset="0.945" stop-color="#2c4555" stop-opacity="0.079"/></linearGradient>
<path d="M346.3 205.4 348.2 207.4 350 209.2 351.9 211 353.8 212.7 355.7 214.3 357.5 215.9 359.4 217.3 361.3 218.6 363.2 219.9 365 221 366.9 222.1 368.8 223.1 370.7 223.9 372.5 224.7 374.4 225.4 376.3 226 378.2 226.5 380 227 381.9 227.3 383.8 227.6 385.7 227.7 387.5 227.8 389.4 227.8 391.3 227.7 393.1 227.6 395 227.4 396.9 227.1 398.8 226.7 400.6 226.2 402.5 225.7 404.4 225.1 406.3 224.5 408.1 223.8 410 223.1 411.9 222.3 413.8 221.4 415.6 220.5 417.5 219.6 419.4 218.6 421.3 217.6 423.1 216.6 425 215.5 426.9 214.4 428.8 213.4 430.6 212.3 432.5 211.1 434.4 210 436.2 208.9 438.1 207.8 440 206.8 441.9 205.7 443.7 204.7 445.6 203.7 447.5 202.7 449.4 201.8 449.4 242.8 447.5 243.7 445.6 244.6 443.7 245.4 441.9 246.2 440 246.9 438.1 247.6 436.2 248.2 434.4 248.9 432.5 249.4 430.6 250 428.8 250.5 426.9 251 425 251.4 423.1 251.9 421.3 252.3 419.4 252.6 417.5 253 415.6 253.3 413.8 253.6 411.9 253.9 410 254.1 408.1 254.3 406.3 254.5 404.4 254.7 402.5 254.9 400.6 255 398.8 255.1 396.9 255.2 395 255.3 393.1 255.3 391.3 255.4 389.4 255.4 387.5 255.4 385.7 255.3 383.8 255.3 381.9 255.2 380 255.1 378.2 255 376.3 254.8 374.4 254.6 372.5 254.4 370.7 254.2 368.8 253.9 366.9 253.7 365 253.4 363.2 253 361.3 252.6 359.4 252.2 357.5 251.8 355.7 251.3 353.8 250.8 351.9 250.3 350 249.7 348.2 249.1 346.3 248.4 Z" fill="url(#g1297)"/>
<linearGradient id="g1290" gradientUnits="userSpaceOnUse" x1="346.3" y1="0" x2="449.4" y2="0"><stop offset="0.000" stop-color="#2c4555" stop-opacity="0.119"/><stop offset="0.073" stop-color="#2c4555" stop-opacity="0.134"/><stop offset="0.145" stop-color="#2c4555" stop-opacity="0.150"/><stop offset="0.218" stop-color="#2c4555" stop-opacity="0.166"/><stop offset="0.291" stop-color="#2c4555" stop-opacity="0.178"/><stop offset="0.364" stop-color="#2c4555" stop-opacity="0.185"/><stop offset="0.436" stop-color="#2c4555" stop-opacity="0.185"/><stop offset="0.509" stop-color="#2c4555" stop-opacity="0.180"/><stop offset="0.582" stop-color="#2c4555" stop-opacity="0.170"/><stop offset="0.655" stop-color="#2c4555" stop-opacity="0.159"/><stop offset="0.727" stop-color="#2c4555" stop-opacity="0.148"/><stop offset="0.800" stop-color="#2c4555" stop-opacity="0.138"/><stop offset="0.873" stop-color="#2c4555" stop-opacity="0.130"/><stop offset="0.945" stop-color="#2c4555" stop-opacity="0.126"/></linearGradient>
<path d="M346.3 213.2 348.2 214.9 350 216.5 351.9 218.1 353.8 219.5 355.7 220.9 357.5 222.2 359.4 223.5 361.3 224.6 363.2 225.7 365 226.7 366.9 227.6 368.8 228.5 370.7 229.2 372.5 229.9 374.4 230.5 376.3 231 378.2 231.4 380 231.8 381.9 232.1 383.8 232.3 385.7 232.4 387.5 232.5 389.4 232.4 391.3 232.4 393.1 232.2 395 232 396.9 231.7 398.8 231.3 400.6 230.9 402.5 230.4 404.4 229.9 406.3 229.3 408.1 228.7 410 228 411.9 227.3 413.8 226.5 415.6 225.7 417.5 224.8 419.4 224 421.3 223.1 423.1 222.1 425 221.2 426.9 220.2 428.8 219.2 430.6 218.3 432.5 217.3 434.4 216.3 436.2 215.3 438.1 214.3 440 213.4 441.9 212.5 443.7 211.6 445.6 210.7 447.5 209.9 449.4 209.1 449.4 237 447.5 237.8 445.6 238.5 443.7 239.3 441.9 240 440 240.7 438.1 241.4 436.2 242.1 434.4 242.7 432.5 243.4 430.6 244 428.8 244.6 426.9 245.1 425 245.7 423.1 246.2 421.3 246.7 419.4 247.2 417.5 247.6 415.6 248 413.8 248.4 411.9 248.8 410 249.2 408.1 249.5 406.3 249.8 404.4 250.1 402.5 250.3 400.6 250.5 398.8 250.7 396.9 250.9 395 251 393.1 251.1 391.3 251.2 389.4 251.2 387.5 251.2 385.7 251.2 383.8 251.1 381.9 251.1 380 250.9 378.2 250.8 376.3 250.6 374.4 250.4 372.5 250.1 370.7 249.8 368.8 249.5 366.9 249.1 365 248.7 363.2 248.3 361.3 247.8 359.4 247.3 357.5 246.7 355.7 246.1 353.8 245.5 351.9 244.8 350 244.1 348.2 243.3 346.3 242.5 Z" fill="url(#g1290)"/>
<linearGradient id="g1275" gradientUnits="userSpaceOnUse" x1="346.3" y1="0" x2="449.4" y2="0"><stop offset="0.000" stop-color="#2c4555" stop-opacity="0.149"/><stop offset="0.073" stop-color="#2c4555" stop-opacity="0.168"/><stop offset="0.145" stop-color="#2c4555" stop-opacity="0.188"/><stop offset="0.218" stop-color="#2c4555" stop-opacity="0.207"/><stop offset="0.291" stop-color="#2c4555" stop-opacity="0.222"/><stop offset="0.364" stop-color="#2c4555" stop-opacity="0.231"/><stop offset="0.436" stop-color="#2c4555" stop-opacity="0.232"/><stop offset="0.509" stop-color="#2c4555" stop-opacity="0.225"/><stop offset="0.582" stop-color="#2c4555" stop-opacity="0.213"/><stop offset="0.655" stop-color="#2c4555" stop-opacity="0.199"/><stop offset="0.727" stop-color="#2c4555" stop-opacity="0.185"/><stop offset="0.800" stop-color="#2c4555" stop-opacity="0.172"/><stop offset="0.873" stop-color="#2c4555" stop-opacity="0.163"/><stop offset="0.945" stop-color="#2c4555" stop-opacity="0.157"/></linearGradient>
<path d="M346.3 221.2 348.2 222.6 350 223.9 351.9 225.2 353.8 226.5 355.7 227.6 357.5 228.7 359.4 229.8 361.3 230.7 363.2 231.6 365 232.5 366.9 233.2 368.8 233.9 370.7 234.6 372.5 235.1 374.4 235.6 376.3 236 378.2 236.4 380 236.7 381.9 236.9 383.8 237 385.7 237.1 387.5 237.2 389.4 237.1 391.3 237 393.1 236.9 395 236.6 396.9 236.4 398.8 236 400.6 235.7 402.5 235.2 404.4 234.7 406.3 234.2 408.1 233.6 410 233 411.9 232.4 413.8 231.7 415.6 230.9 417.5 230.2 419.4 229.4 421.3 228.6 423.1 227.8 425 226.9 426.9 226.1 428.8 225.2 430.6 224.3 432.5 223.5 434.4 222.6 436.2 221.8 438.1 220.9 440 220.1 441.9 219.3 443.7 218.5 445.6 217.8 447.5 217.1 449.4 216.4 449.4 231.1 447.5 231.8 445.6 232.4 443.7 233.1 441.9 233.8 440 234.5 438.1 235.2 436.2 235.8 434.4 236.5 432.5 237.2 430.6 237.9 428.8 238.5 426.9 239.2 425 239.8 423.1 240.4 421.3 241 419.4 241.6 417.5 242.2 415.6 242.7 413.8 243.2 411.9 243.7 410 244.1 408.1 244.6 406.3 245 404.4 245.3 402.5 245.7 400.6 246 398.8 246.2 396.9 246.5 395 246.7 393.1 246.8 391.3 246.9 389.4 247 387.5 247 385.7 247 383.8 247 381.9 246.9 380 246.8 378.2 246.6 376.3 246.3 374.4 246.1 372.5 245.8 370.7 245.4 368.8 245 366.9 244.6 365 244.1 363.2 243.5 361.3 242.9 359.4 242.3 357.5 241.6 355.7 240.9 353.8 240.1 351.9 239.3 350 238.4 348.2 237.5 346.3 236.6 Z" fill="url(#g1275)"/>
<path d="M401 254h1M349 214h1M421 230h1M346 220h1M412 239h1M442 230h1M372 241h1M372 244h1M396 241h1M441 241h1M358 230h1M376 237h1M364 243h1M353 237h1M368 243h1M430 231h1M387 231h1M390 244h1M434 221h1M386 247h1M440 231h1M395 242h1M359 231h1M428 242h1M360 236h1M445 207h1M422 244h1M364 254h1M379 249h1M364 243h1M428 223h1M382 239h1M405 246h1M404 247h1M422 235h1M439 239h1M369 255h1M421 235h1M446 233h1M366 244h1M410 244h1M411 250h1M364 233h1M443 213h1M448 215h1M422 228h1M414 231h1M433 238h1M413 251h1M406 232h1M421 197h1M403 212h1M356 234h1M371 239h1M435 216h1M362 238h1M364 246h1M427 232h1M421 240h1M350 206h1M395 245h1M421 224h1M358 237h1M442 207h1M359 228h1M383 234h1M373 231h1M400 241h1M347 227h1M406 238h1M422 245h1M426 237h1M385 246h1M445 232h1M423 235h1M364 247h1M368 243h1M437 224h1M353 230h1M386 250h1M380 235h1M383 242h1M355 234h1M365 236h1M365 237h1M406 243h1M369 248h1M394 255h1M377 245h1M350 239h1M380 249h1M417 211h1M396 231h1M417 243h1M360 240h1M435 223h1M422 241h1M354 226h1M388 233h1M412 241h1M439 231h1M412 244h1M444 255h1M365 234h1M397 248h1M353 227h1M397 240h1M345 229h1M346 246h1M360 234h1M382 228h1M380 218h1M449 237h1M356 236h1M365 248h1M433 226h1M425 221h1M417 228h1M347 242h1M361 228h1M428 237h1M352 244h1M408 224h1M380 252h1M384 244h1M398 243h1M429 232h1M449 234h1M430 226h1M414 245h1M433 232h1M358 240h1M393 238h1M448 238h1M384 247h1M356 228h1M414 238h1M369 238h1M442 231h1M373 247h1M418 219h1M434 235h1M353 244h1M447 230h1M392 241h1M402 247h1M386 235h1M347 223h1M442 213h1M362 226h1M393 244h1M385 244h1M396 244h1M399 248h1M449 216h1M361 238h1M386 232h1M435 218h1M423 219h1M431 241h1M394 244h1M388 233h1M379 238h1M381 232h1M355 211h1M427 242h1M377 244h1M384 253h1M371 239h1M419 234h1M377 232h1M394 236h1M375 237h1M428 223h1M377 238h1M405 241h1M399 236h1M348 249h1M446 221h1M435 241h1M423 251h1M363 233h1M434 243h1M446 231h1M436 217h1M411 235h1M431 200h1M373 234h1M425 236h1M380 236h1M382 241h1M431 225h1M355 230h1M349 230h1M415 233h1M436 225h1M406 244h1M408 270h1M354 227h1M400 241h1M444 221h1M394 237h1M403 243h1M369 241h1M360 249h1M439 240h1M366 230h1M445 207h1M438 231h1M355 243h1M430 238h1M349 232h1M441 226h1M431 230h1M346 226h1M422 236h1M389 246h1M363 234h1M389 231h1M389 246h1M440 219h1M401 242h1M439 222h1M407 224h1M388 240h1M366 238h1M423 241h1M407 244h1M348 234h1M368 242h1M388 251h1M369 231h1M346 247h1M449 241h1M424 236h1M417 229h1M406 251h1M411 235h1M365 241h1M381 242h1M396 244h1M436 222h1M377 245h1M423 236h1M353 230h1M416 248h1M351 238h1M392 239h1M355 232h1M379 247h1M439 211h1M424 236h1M443 228h1M422 222h1M395 236h1M369 252h1M432 238h1M365 224h1M373 239h1M406 236h1M367 233h1M422 227h1M354 233h1M355 231h1M374 253h1M388 256h1M368 242h1M357 234h1M393 231h1M447 217h1M437 221h1M434 232h1M417 265h1M378 238h1M389 253h1M426 235h1M410 242h1M362 238h1M374 219h1M422 227h1M420 233h1M379 246h1M417 222h1M353 230h1M387 233h1M350 229h1M351 217h1M449 233h1M371 228h1M410 230h1M425 231h1M364 248h1M404 240h1M438 227h1M402 245h1M434 230h1M424 241h1M382 248h1M379 242h1M444 206h1M393 244h1M443 233h1M362 247h1M371 234h1M367 231h1M425 236h1M382 242h1M357 238h1M444 219h1M425 232h1M401 240h1M352 204h1M377 249h1M394 238h1M401 226h1M387 229h1M430 229h1M354 214h1M386 239h1M416 226h1M375 237h1M354 227h1M399 254h1M426 236h1M414 248h1M423 221h1M348 227h1M427 221h1M413 242h1M404 252h1M430 232h1M355 214h1M390 240h1M421 244h1M435 245h1M386 239h1M347 229h1M402 231h1M410 223h1M375 234h1M447 238h1M395 235h1M398 244h1M437 230h1M371 236h1M354 225h1M379 227h1M431 227h1M418 240h1M425 240h1M388 243h1M361 237h1M385 229h1M391 223h1M359 229h1M400 237h1M412 224h1M375 235h1M416 233h1M361 238h1M414 236h1M349 214h1M406 231h1M366 246h1M422 224h1M441 229h1M381 252h1M363 250h1M403 228h1M349 230h1M414 232h1M355 225h1M418 243h1M428 232h1M394 251h1M408 219h1M425 191h1M428 229h1M353 232h1M372 250h1M421 230h1M394 245h1M421 246h1M402 218h1M404 238h1M405 234h1M375 231h1M419 229h1M418 233h1M426 253h1M417 226h1M374 237h1M408 247h1M377 259h1M391 230h1M424 239h1M376 235h1M445 242h1M430 238h1M423 237h1M364 247h1M412 239h1M367 238h1M350 236h1M389 229h1M365 238h1M423 244h1M419 209h1M422 204h1M445 232h1M356 240h1M405 239h1M389 246h1M349 228h1M360 248h1M448 210h1M446 253h1M352 231h1M372 233h1M361 247h1M349 226h1M354 250h1M346 223h1M350 215h1M430 193h1M398 242h1M426 255h1M348 238h1M379 241h1M360 210h1M365 224h1M431 235h1M427 222h1M410 238h1M425 232h1M413 242h1M366 232h1M354 240h1M443 238h1M425 231h1M414 242h1M405 238h1M402 232h1M445 227h1M382 239h1M443 216h1M401 238h1M400 236h1M432 239h1M382 251h1M406 224h1M425 213h1M385 235h1M415 246h1M365 225h1M374 230h1M409 220h1M363 228h1M414 233h1M417 245h1M405 255h1M349 231h1M364 241h1M399 248h1M391 242h1M359 240h1M424 216h1M363 243h1M417 243h1M374 226h1M358 224h1M449 226h1M380 244h1M401 245h1M414 251h1M404 245h1M448 249h1M386 239h1M374 232h1M416 223h1M387 247h1M376 251h1M402 229h1M414 236h1M404 228h1M411 252h1M402 242h1M357 250h1M389 234h1M351 235h1M446 247h1M427 234h1M358 206h1M397 234h1M391 239h1M398 245h1M434 233h1M400 248h1M436 227h1M370 228h1M371 248h1M400 244h1M381 228h1M365 237h1M420 223h1M348 255h1M385 239h1M388 242h1M437 239h1M394 231h1M391 247h1M408 238h1M368 245h1M439 210h1M372 244h1M446 206h1M413 238h1M361 241h1M415 242h1M424 242h1M390 228h1M414 253h1M427 229h1M448 225h1M362 246h1M403 255h1M369 232h1M422 234h1M408 240h1M412 250h1M426 236h1M346 253h1M378 247h1M444 219h1M432 223h1M357 234h1M366 239h1M370 230h1M347 233h1M353 243h1M387 239h1M379 250h1M436 236h1M405 243h1M400 253h1M413 251h1M405 230h1M418 238h1M428 238h1M447 211h1M364 223h1M359 235h1M449 212h1M348 229h1M358 222h1M446 232h1M398 231h1M371 227h1M359 233h1M392 242h1M390 233h1M382 247h1M353 219h1M383 255h1M391 245h1M436 238h1M418 236h1M448 226h1M408 225h1M431 236h1M430 238h1M378 229h1M411 241h1M431 218h1M420 244h1M353 234h1M390 254h1M351 241h1M419 230h1M444 228h1M448 245h1M433 245h1M427 227h1M434 218h1M396 236h1M407 231h1M405 235h1M383 245h1M447 241h1M433 219h1M351 237h1M364 246h1M442 190h1M385 236h1M428 215h1M393 230h1M387 235h1M378 247h1M352 243h1M430 225h1M373 231h1M367 252h1M447 225h1M401 238h1M442 246h1M392 240h1M365 225h1M427 243h1M376 237h1M436 211h1M383 254h1M378 234h1M386 237h1M399 249h1M398 257h1M389 225h1M411 241h1M363 246h1M446 239h1M384 241h1M411 230h1M441 232h1M381 229h1M356 248h1M348 224h1M447 206h1M372 243h1M418 254h1M427 238h1M354 219h1M354 248h1M418 240h1M390 242h1M381 241h1M354 244h1M434 234h1M398 241h1M394 243h1M438 230h1M430 232h1M391 241h1M382 243h1M377 260h1M402 231h1M376 214h1M374 234h1M356 239h1M382 238h1M432 230h1M356 241h1M425 239h1M416 241h1M442 235h1M356 240h1M424 229h1M373 237h1M412 236h1M422 223h1M351 227h1M368 229h1M360 229h1M360 203h1M410 225h1M371 257h1M411 224h1M354 238h1M357 240h1M367 247h1M448 219h1M437 231h1M364 236h1M386 243h1M406 242h1M374 247h1M382 241h1M399 236h1M413 230h1M394 232h1M362 237h1M398 245h1M436 224h1M378 245h1M374 250h1M360 228h1M405 249h1M364 240h1M441 215h1M426 223h1M418 238h1M365 237h1M364 243h1M441 203h1M350 243h1M376 250h1M426 212h1M389 236h1M425 253h1M378 247h1M440 223h1M374 238h1M377 241h1M357 242h1M348 227h1M378 245h1M350 224h1M428 210h1M449 225h1M385 237h1M426 245h1M414 239h1M353 240h1M352 217h1M405 250h1M354 213h1M422 243h1M435 231h1M446 235h1M359 250h1M413 248h1M433 219h1M414 227h1M361 239h1M375 243h1M367 242h1M422 224h1M424 213h1M382 242h1M380 253h1M444 213h1M445 229h1M432 235h1M387 239h1M411 213h1M352 239h1M425 211h1M379 240h1M356 217h1M402 233h1M389 249h1M356 211h1M358 220h1M437 219h1M397 233h1M369 240h1M370 238h1M414 238h1M422 234h1M352 233h1M351 249h1M383 233h1M391 243h1M381 239h1M434 237h1M353 198h1M394 234h1M422 240h1M346 228h1M408 249h1M402 226h1M365 258h1M409 245h1M368 236h1M435 219h1M423 223h1M373 234h1M423 233h1M435 218h1M357 239h1M418 230h1M393 246h1M439 217h1M427 233h1M435 212h1M360 253h1M382 241h1M425 235h1M417 252h1M366 240h1M379 235h1M355 232h1M370 235h1M389 247h1M383 255h1M355 251h1M373 239h1M413 237h1M368 248h1M412 249h1M442 197h1M415 228h1M421 226h1M447 216h1M435 229h1M388 246h1M365 226h1M438 237h1M374 241h1M387 247h1M377 265h1M393 237h1M430 210h1M395 234h1M439 226h1M404 236h1M393 240h1M420 225h1M357 240h1M437 244h1M418 243h1M445 213h1M367 240h1M352 237h1M380 233h1M348 230h1M402 233h1M357 250h1M395 248h1M348 233h1M410 220h1M400 246h1M414 226h1M418 245h1M437 242h1M430 244h1M441 227h1M390 234h1M419 238h1M384 247h1M424 201h1M348 221h1M401 246h1M376 238h1M368 257h1M432 231h1M396 245h1M358 240h1M369 244h1M426 246h1M449 220h1M402 232h1M434 202h1M434 231h1M441 211h1M449 210h1M405 242h1M368 236h1M380 240h1M434 249h1M404 243h1M395 237h1M398 241h1M430 219h1M365 239h1M414 242h1M362 250h1M396 245h1M433 231h1M423 237h1M414 239h1M364 234h1M406 222h1M419 230h1M437 233h1M348 237h1M363 239h1M353 231h1M373 236h1M379 237h1M390 231h1M403 257h1M377 238h1M359 237h1M399 244h1M446 213h1M377 232h1M352 218h1M412 237h1M353 245h1M383 236h1M379 233h1M448 213h1M388 243h1M350 233h1M373 247h1M390 251h1M449 229h1M443 221h1M429 225h1M420 237h1M408 237h1M372 243h1M441 236h1M374 235h1M374 245h1M421 235h1M397 229h1M352 241h1M393 241h1M419 228h1M346 236h1M410 253h1M427 221h1M350 229h1M441 210h1M396 238h1M364 240h1M350 234h1M348 230h1M448 240h1M384 248h1M424 236h1M441 229h1M376 241h1M383 237h1M384 235h1M386 240h1M446 231h1M416 230h1M412 219h1M424 240h1M422 231h1M401 246h1M374 243h1M369 229h1M383 233h1M397 237h1M387 223h1M370 256h1M449 217h1M448 219h1M350 214h1M369 240h1M392 251h1M406 253h1M438 222h1M351 248h1M369 243h1M385 230h1M404 250h1M430 225h1M378 246h1M368 246h1M356 232h1M421 230h1M443 234h1M411 232h1M387 234h1M348 244h1M426 231h1M421 250h1M360 221h1M398 240h1M389 242h1M400 233h1M427 247h1M443 225h1M428 212h1M421 240h1M411 215h1M390 243h1M372 244h1M425 258h1M438 219h1M401 241h1M401 236h1M446 217h1M395 247h1M391 250h1M385 248h1M353 202h1M417 244h1M367 238h1M390 232h1M432 220h1M355 208h1M397 245h1M374 239h1M434 231h1M372 233h1M436 218h1M351 239h1M403 246h1M441 226h1M420 233h1M447 237h1M364 254h1M365 241h1M385 242h1M415 234h1M444 231h1M418 232h1M429 234h1M407 248h1M444 213h1M363 248h1M378 257h1M367 233h1M376 248h1M399 227h1M401 247h1M449 201h1M396 252h1M354 244h1M395 227h1M428 226h1M426 213h1M354 253h1M349 248h1M355 239h1M429 219h1M364 240h1M347 233h1M370 249h1M442 250h1M366 248h1M412 255h1M445 226h1M402 239h1M378 249h1M433 231h1M384 239h1M406 230h1M405 230h1M445 217h1M443 212h1M373 229h1M361 235h1M433 218h1M356 236h1M359 237h1M349 234h1M446 208h1M438 235h1M352 219h1M371 235h1M390 244h1M433 220h1M433 255h1M377 244h1M387 243h1M395 251h1M354 210h1M439 240h1M367 230h1M383 235h1M375 209h1M431 241h1M397 240h1M442 194h1M368 238h1M354 245h1M415 228h1M448 229h1M398 227h1M432 228h1M414 255h1M345 229h1M405 234h1M390 251h1M396 226h1M359 237h1M351 240h1M384 228h1M352 239h1M349 254h1M393 254h1M370 231h1M360 242h1M439 221h1M350 226h1M401 254h1M410 240h1M357 235h1M389 242h1M413 220h1M401 229h1M373 238h1M358 238h1M429 231h1M436 246h1M376 247h1M347 224h1M376 240h1M382 256h1M446 243h1M364 249h1M394 232h1M351 223h1M373 237h1M399 244h1M431 234h1M432 242h1M449 199h1M357 237h1M374 249h1M435 235h1M358 236h1M383 239h1M444 222h1M447 212h1M350 231h1M423 246h1M417 236h1M437 245h1M368 234h1M350 225h1M427 253h1M442 213h1M350 227h1M425 219h1M431 230h1M445 214h1M404 233h1M347 220h1M387 237h1M444 233h1M423 246h1M364 268h1M416 239h1M449 236h1M359 226h1M353 236h1M412 235h1M406 241h1M397 244h1M389 239h1M346 224h1M397 235h1M415 232h1M426 237h1M352 213h1M397 254h1M388 250h1M360 228h1M397 249h1M441 232h1M396 233h1M368 232h1M416 240h1M347 219h1M423 236h1M392 238h1M364 251h1M404 229h1M435 245h1M416 226h1M432 232h1M377 257h1M429 220h1M359 222h1M361 225h1M363 215h1M368 233h1M404 260h1M369 233h1M444 222h1M397 247h1M363 243h1M406 221h1M369 244h1M417 252h1M415 251h1M428 214h1M362 240h1M387 251h1M404 247h1M353 226h1M407 242h1M363 241h1M396 237h1M402 241h1M356 236h1M356 227h1M364 235h1M387 237h1M397 253h1M422 237h1M370 248h1M409 242h1M399 249h1M397 237h1M366 241h1M414 226h1M389 244h1M415 239h1M433 211h1M379 226h1M402 231h1M427 241h1M426 224h1M424 228h1M372 221h1M444 261h1M411 235h1M389 231h1M425 217h1M412 248h1M393 240h1M368 241h1M399 243h1M390 240h1M423 240h1M418 273h1M404 235h1M368 240h1M352 239h1M425 237h1M365 250h1M426 236h1M367 232h1M382 248h1M386 229h1M348 232h1M362 240h1M416 254h1M367 233h1M376 240h1M370 240h1M354 219h1M387 241h1M419 232h1M427 227h1M355 237h1M447 244h1M373 237h1M431 238h1M365 240h1M407 236h1M415 243h1M394 252h1M390 248h1M403 242h1M378 246h1M399 237h1M363 246h1M411 241h1M439 225h1M436 222h1M349 235h1M443 210h1M366 231h1M380 230h1M415 260h1M417 251h1M373 244h1M431 212h1M447 223h1M449 256h1M411 245h1M446 238h1M425 258h1M358 254h1M384 250h1M391 245h1M394 239h1M365 239h1M386 248h1M401 250h1M420 239h1M403 241h1M349 239h1M405 256h1M425 240h1M447 206h1M367 240h1M385 245h1M360 255h1M445 214h1M413 229h1M407 224h1M383 254h1M379 244h1M425 242h1M383 249h1M446 224h1M432 211h1M429 251h1M418 219h1M363 240h1M404 244h1M401 239h1M368 243h1M433 232h1M380 244h1M448 230h1M411 223h1M392 229h1M425 245h1M391 232h1M446 230h1M379 253h1M409 242h1M359 224h1M403 241h1M371 240h1M401 240h1M391 249h1M348 223h1M417 239h1M371 258h1M349 228h1M395 246h1M375 252h1M444 232h1M421 230h1M442 200h1M410 226h1M385 245h1M364 236h1M438 229h1M380 267h1M345 237h1M436 223h1M405 253h1M391 253h1M434 231h1M441 233h1M371 246h1M417 235h1M376 233h1M397 258h1M383 250h1M417 229h1M447 229h1M434 222h1M375 226h1M406 244h1M380 242h1M429 231h1M372 243h1M370 245h1M393 247h1M405 229h1M413 239h1M350 240h1M388 232h1M389 244h1M387 232h1M422 234h1M346 238h1M448 228h1M383 242h1M360 238h1M374 233h1M350 244h1M373 224h1M399 225h1M345 224h1M444 215h1M405 244h1M380 239h1M399 232h1M360 225h1M397 231h1M369 224h1M350 231h1M356 250h1M431 220h1M366 224h1M423 230h1M381 240h1M388 241h1M412 249h1M362 236h1M378 241h1M385 242h1M366 227h1M409 229h1M435 203h1M413 231h1M431 222h1M368 238h1M403 248h1M364 216h1M431 238h1M376 254h1M420 234h1M364 239h1M373 262h1M353 240h1M401 244h1M398 234h1M359 230h1M376 247h1M443 237h1M407 240h1M445 240h1M366 252h1M409 222h1M363 235h1M430 225h1M360 243h1M393 261h1M372 233h1M367 232h1M420 242h1M422 218h1M387 239h1M423 245h1M347 245h1M367 253h1M427 244h1M435 226h1M347 230h1M440 241h1M353 229h1M405 246h1M384 234h1M390 250h1M387 248h1M401 222h1M411 234h1M394 238h1M361 245h1M370 238h1M377 222h1M401 240h1M387 244h1M371 229h1M405 251h1M390 251h1M345 210h1M384 243h1M435 201h1M428 222h1M376 230h1M401 239h1M444 229h1M389 243h1M369 235h1M437 222h1M415 241h1M417 231h1M396 253h1M401 239h1M406 238h1M376 246h1M444 221h1M422 251h1M367 246h1M357 240h1M410 227h1M447 224h1M445 222h1M394 244h1M384 245h1M354 230h1M352 232h1M348 229h1M380 234h1M427 229h1M409 232h1M367 239h1M368 227h1M431 265h1M442 238h1M351 236h1M438 222h1M403 244h1M364 235h1M402 255h1M381 243h1M417 235h1M373 222h1M353 224h1M410 240h1M436 215h1M424 231h1M394 248h1M386 253h1M402 236h1M347 188h1M425 233h1M367 244h1M411 224h1M360 255h1M354 232h1M422 250h1M401 240h1M439 229h1M354 221h1M416 243h1M397 243h1M396 235h1M446 236h1M390 238h1M368 253h1M427 238h1M407 239h1M411 236h1M401 266h1M408 239h1M407 243h1M413 228h1M366 245h1M391 243h1M429 223h1M436 217h1M430 242h1M347 230h1M375 246h1M374 247h1M361 251h1M347 244h1M405 235h1M354 231h1M368 220h1M420 235h1M445 228h1M345 207h1M359 236h1M426 232h1M399 240h1M395 242h1M397 231h1M409 238h1M398 269h1M349 230h1M398 236h1M448 218h1M355 248h1M439 211h1M364 254h1M362 231h1M375 245h1M405 246h1M447 213h1M435 225h1M383 248h1M391 241h1M403 226h1M395 245h1M413 218h1M346 234h1M387 241h1M352 214h1M359 249h1M408 240h1M411 248h1M395 242h1M381 236h1M426 212h1M396 240h1M417 217h1M349 224h1M406 219h1M413 219h1M434 229h1M385 244h1M400 257h1M371 250h1M421 223h1M394 248h1M362 235h1M397 225h1M421 239h1M420 226h1M398 231h1M427 221h1M420 233h1M431 226h1M399 237h1M378 241h1M367 244h1M383 236h1M369 234h1M417 236h1M347 233h1M361 242h1M361 249h1M445 193h1M433 241h1M346 233h1M366 254h1M415 227h1M388 243h1M417 250h1M411 251h1M429 244h1M352 237h1M388 234h1M395 240h1M393 224h1M433 225h1M414 216h1M364 234h1M387 239h1M434 234h1M426 239h1M348 237h1M348 235h1M408 241h1M440 245h1M381 240h1M361 232h1M396 233h1M406 240h1M431 239h1M358 252h1M353 230h1M440 236h1M446 222h1M420 243h1M361 224h1M377 245h1M403 245h1M346 204h1M360 234h1M388 233h1M432 232h1M411 241h1M405 240h1M440 234h1M371 242h1M417 241h1M425 230h1M426 239h1M362 224h1M379 251h1M440 219h1M390 239h1M387 243h1M445 228h1M401 249h1M439 222h1M393 244h1M417 225h1M381 230h1M384 254h1M406 238h1M447 232h1M421 235h1M410 226h1M379 248h1M436 243h1M369 247h1M411 252h1M433 227h1M363 239h1M434 216h1M411 234h1M391 235h1M361 228h1M366 234h1M447 226h1M349 221h1M422 227h1M420 227h1M371 226h1M386 235h1M380 240h1M409 242h1M436 240h1M420 242h1M398 238h1M380 238h1M433 226h1M427 231h1M405 229h1M388 246h1M364 238h1M352 230h1M420 219h1M393 251h1M445 242h1M367 228h1M346 248h1M426 229h1M423 246h1M375 225h1M434 231h1M359 245h1M428 230h1M362 247h1M352 235h1M400 249h1M434 251h1M418 220h1M397 242h1M445 213h1M379 224h1M365 221h1M397 244h1M448 233h1M448 231h1M392 243h1M399 239h1M414 229h1M377 241h1M379 239h1M443 198h1M350 242h1M427 226h1M384 229h1M384 246h1M407 242h1M389 255h1M430 224h1M401 227h1M425 243h1M351 227h1M449 236h1M369 244h1M445 204h1M400 230h1M421 221h1M378 251h1M360 243h1M417 241h1M426 209h1M353 238h1M449 176h1M346 230h1M427 231h1M434 241h1M449 229h1M377 232h1M346 228h1M360 223h1M355 229h1M411 231h1M403 264h1M351 222h1M408 233h1M419 235h1M353 252h1M418 225h1M398 251h1M409 246h1M443 214h1M448 218h1M383 256h1M361 214h1M383 229h1M352 185h1M375 232h1M346 229h1M433 216h1M373 243h1M358 237h1M411 243h1M394 239h1M418 233h1M400 230h1M391 250h1M422 234h1M413 247h1M383 234h1M443 226h1M350 230h1M432 217h1M366 233h1M400 225h1M429 220h1M403 258h1M405 239h1M370 226h1M378 246h1M444 238h1M352 252h1M436 235h1M443 236h1M361 238h1M446 213h1M346 232h1M350 228h1M393 230h1M382 255h1M422 231h1M443 213h1M350 222h1M415 245h1M376 239h1M422 221h1M406 250h1M369 231h1M427 240h1M363 238h1M369 234h1M440 239h1M362 244h1M389 248h1M350 232h1M433 228h1M394 213h1M382 239h1M347 226h1M378 248h1M374 260h1M418 235h1M373 260h1M378 240h1M352 244h1M363 248h1M368 221h1M368 254h1M421 222h1M345 227h1M403 232h1M370 233h1M416 224h1M435 224h1M399 253h1M402 229h1M440 239h1M346 234h1M357 242h1M351 237h1M395 248h1M430 239h1M383 232h1M396 228h1M439 239h1M422 239h1M418 252h1M381 242h1M442 223h1M353 221h1M351 206h1M427 235h1M439 245h1M390 240h1M444 234h1M426 241h1M439 207h1M428 235h1M422 222h1M356 237h1M373 245h1M372 238h1M396 240h1M399 250h1M441 250h1M356 223h1M447 219h1M395 235h1M446 211h1M372 247h1M412 231h1M413 248h1M394 251h1M421 233h1M414 226h1M385 242h1M352 231h1M372 234h1M424 246h1M351 230h1M389 232h1M386 246h1M394 219h1M399 250h1M392 239h1M393 253h1M410 238h1M445 205h1M434 221h1M346 232h1M355 223h1M438 224h1M414 245h1M351 212h1M365 233h1M384 232h1M365 238h1M388 247h1M377 238h1M438 214h1M368 233h1M361 231h1M362 240h1M420 239h1M408 243h1M446 236h1M396 232h1M353 218h1M423 217h1M371 246h1M423 234h1M432 218h1M351 238h1M350 225h1M448 216h1M434 217h1M429 232h1M402 242h1M404 241h1M432 226h1M363 235h1M428 229h1M423 229h1M378 217h1M349 223h1M427 226h1M363 239h1M445 219h1M373 237h1M400 233h1M447 211h1M352 210h1M438 218h1M440 226h1M353 235h1M408 248h1M423 248h1M415 235h1M350 233h1M366 233h1M382 241h1M442 213h1M354 227h1M446 225h1M358 241h1M347 220h1M368 234h1M363 245h1M409 235h1M435 231h1M375 247h1M422 234h1M349 225h1M346 242h1M396 235h1M352 235h1M380 233h1M367 253h1M371 235h1M362 251h1M444 220h1M375 238h1M374 228h1M400 230h1M407 239h1M393 248h1M367 226h1M363 236h1M359 243h1M348 229h1M433 221h1M352 233h1M444 223h1M430 226h1M430 238h1M386 225h1M355 249h1M422 235h1M380 231h1M433 234h1M379 242h1M371 248h1M370 251h1M355 232h1M445 231h1M358 249h1M354 248h1M380 245h1M417 236h1M442 216h1M445 229h1M374 246h1M396 242h1M405 222h1M433 225h1M412 232h1M413 238h1M434 226h1M402 238h1M382 240h1M441 235h1M417 227h1M448 226h1M448 213h1M390 246h1M439 230h1M346 231h1M411 245h1M449 230h1M413 248h1M373 228h1M369 240h1M398 235h1M353 246h1M347 235h1M389 239h1M381 248h1M403 239h1M385 243h1M371 237h1M442 238h1M353 234h1M365 249h1M354 224h1M446 226h1M400 233h1M411 245h1M374 239h1M384 233h1M427 240h1M414 245h1" stroke="#3d4f60" stroke-opacity="0.45" stroke-width="1.3" transform="translate(-0.15 0.5)"/>
<path d="M376 260h1M398 245h1M346 234h1M369 219h1M417 214h1M445 213h1M404 256h1M396 223h1M397 238h1M435 236h1M349 216h1M421 221h1M380 234h1M373 224h1M352 181h1M432 202h1M351 249h1M358 208h1M357 248h1M419 203h1M409 233h1M377 222h1M367 222h1M358 243h1M352 218h1M429 231h1M362 191h1M443 194h1M404 255h1M434 239h1M346 217h1M384 240h1M418 237h1M383 241h1M416 234h1M375 241h1M413 240h1M415 258h1M436 220h1M420 199h1M384 248h1M407 262h1M363 263h1M428 234h1M348 238h1M358 273h1M386 221h1M389 247h1M354 239h1M411 225h1M444 233h1M355 235h1M402 227h1M367 236h1M372 268h1M426 232h1M350 225h1M368 256h1M349 235h1M424 243h1M395 249h1M399 238h1M424 245h1M406 227h1M428 239h1M396 233h1M442 259h1M388 255h1M429 258h1M371 249h1M376 256h1M401 232h1M442 193h1M389 261h1M447 229h1M410 240h1M417 198h1M396 273h1M447 227h1M431 235h1M392 235h1M361 249h1M374 243h1M376 228h1M373 247h1M380 247h1M440 198h1M425 239h1M415 232h1M357 183h1M438 240h1M384 229h1M381 228h1M397 243h1M402 211h1M433 240h1M421 250h1M440 217h1M446 245h1M376 256h1M391 220h1M375 228h1M442 226h1M405 242h1M366 219h1M440 209h1M414 235h1M361 245h1M367 241h1M395 255h1M440 239h1M437 237h1M412 234h1M413 220h1M358 266h1M401 227h1M381 234h1M422 239h1M408 225h1M439 235h1M359 226h1M441 228h1M370 263h1M362 239h1M353 235h1M355 252h1M424 240h1M351 243h1M419 215h1M376 232h1M385 254h1M388 237h1M365 233h1M383 265h1M430 226h1M409 255h1M448 229h1M422 234h1M356 240h1M399 239h1M410 223h1M421 250h1M402 240h1M357 257h1M446 230h1M383 237h1M359 196h1M440 224h1M359 247h1M423 229h1M389 244h1M395 215h1M374 247h1M400 238h1M443 199h1M421 256h1M368 246h1M417 235h1M415 233h1M447 217h1M392 239h1M368 246h1M425 229h1M398 245h1M448 250h1M368 243h1M423 244h1M411 254h1M349 231h1M436 238h1M377 245h1M372 233h1M407 230h1M394 277h1M402 239h1M392 251h1M358 229h1M426 220h1M418 205h1M398 240h1M376 263h1M449 228h1M439 210h1M375 250h1M439 236h1M400 243h1M397 224h1M357 233h1M440 248h1M365 238h1M443 256h1M409 244h1M393 238h1M417 237h1M434 255h1M362 210h1M434 218h1M420 217h1M397 243h1M421 245h1M393 243h1M432 216h1M426 239h1M360 207h1M393 254h1M444 216h1M368 260h1M384 235h1M439 255h1M349 250h1M347 236h1M402 210h1M409 236h1M440 238h1M391 232h1M433 249h1M419 223h1M396 234h1M368 270h1M396 241h1M407 228h1M368 236h1M428 249h1M385 226h1M386 240h1M406 244h1M411 236h1M392 248h1M428 212h1M345 252h1M447 238h1M414 259h1M449 243h1M376 255h1M439 221h1M444 237h1M404 229h1M369 247h1M418 220h1M434 248h1M368 255h1M407 228h1M428 226h1M362 229h1M346 192h1M408 237h1M371 215h1M357 217h1M407 225h1M353 237h1M403 250h1M425 242h1M364 227h1M424 244h1M409 260h1M351 203h1M384 264h1M358 247h1M394 240h1M390 241h1M366 230h1M401 244h1M411 278h1M437 195h1M377 242h1M358 232h1M384 222h1M366 239h1M355 230h1M355 260h1M443 223h1M438 245h1M408 234h1M441 215h1M439 239h1M384 231h1M407 239h1M427 234h1M425 226h1M370 241h1M394 268h1M391 232h1M383 228h1M430 255h1M410 223h1M374 220h1M410 226h1M407 244h1M417 248h1M426 224h1M391 246h1M348 202h1M368 251h1M443 233h1M389 239h1M355 232h1M441 249h1M436 229h1M412 229h1M373 253h1M413 219h1M446 205h1M417 249h1M389 232h1M351 203h1M364 213h1M445 225h1M347 226h1M439 207h1M429 236h1M360 213h1M368 209h1M418 235h1M367 204h1M446 215h1M365 245h1M373 217h1M422 198h1M415 240h1M374 246h1M357 263h1M369 234h1M394 239h1M443 203h1M407 252h1M433 252h1M443 218h1M440 231h1M407 257h1M390 242h1M438 255h1M448 247h1M375 239h1M379 234h1M376 232h1M417 220h1M351 261h1M382 237h1M439 212h1M444 202h1M358 224h1M388 250h1M444 232h1M421 196h1M347 234h1M403 247h1M373 249h1M396 257h1M383 247h1M397 271h1M426 220h1M444 246h1M389 231h1M367 231h1M352 260h1M432 246h1M356 222h1M395 248h1M405 215h1M364 225h1M376 230h1M435 199h1M444 235h1M361 214h1M438 225h1M368 257h1M430 240h1M411 227h1M389 236h1M420 240h1M400 222h1M440 236h1M406 245h1M347 253h1M389 243h1M408 240h1M437 196h1M414 240h1M366 251h1M348 233h1M429 228h1M371 233h1M401 231h1M417 237h1M424 210h1M387 250h1M446 219h1M356 242h1M403 236h1M384 241h1M348 204h1M373 265h1M363 252h1M393 244h1M370 224h1M416 265h1M449 232h1M420 231h1M442 213h1M399 239h1M346 251h1M403 228h1M403 238h1M421 233h1M437 238h1M358 252h1M361 238h1M372 245h1M369 244h1M411 227h1M419 234h1M437 206h1M368 242h1M407 239h1M394 243h1M390 233h1M385 270h1M355 251h1M407 235h1M420 221h1M368 239h1M373 237h1M420 234h1M436 235h1M353 211h1M424 220h1M348 231h1M388 216h1M442 267h1M354 247h1M407 243h1M353 248h1M443 229h1M418 234h1M372 246h1M372 242h1M379 254h1M415 236h1M437 249h1M384 262h1M441 238h1M443 228h1M351 207h1M387 234h1M378 226h1M442 224h1M445 242h1M443 193h1M438 234h1M412 212h1M436 220h1M412 248h1M420 226h1M403 257h1M448 227h1M395 238h1M370 240h1M383 240h1M407 243h1M434 206h1M423 231h1M357 221h1M387 243h1M403 229h1M409 239h1M392 264h1M405 266h1M390 237h1M352 234h1M442 239h1M349 221h1M420 235h1M429 221h1M357 246h1M377 228h1M377 266h1M374 227h1M413 237h1M390 260h1M391 247h1M364 200h1M421 246h1M370 241h1M388 249h1M445 191h1M429 272h1M446 192h1M359 255h1M448 200h1M357 214h1M409 251h1M361 226h1M364 266h1M400 260h1M365 245h1M416 229h1M433 222h1M441 235h1M415 242h1M362 230h1M424 234h1M392 245h1M428 249h1M417 225h1M402 240h1M381 252h1M397 248h1M407 202h1M430 243h1M447 214h1M397 255h1M424 227h1M411 223h1M396 228h1M410 218h1M448 226h1M377 252h1M423 242h1M394 244h1M354 213h1M445 262h1M442 193h1M350 237h1M357 207h1M415 240h1M375 241h1M372 246h1M431 212h1M359 221h1M366 204h1M406 227h1M358 215h1M444 218h1M443 205h1M418 240h1M358 236h1M386 251h1M358 250h1M438 219h1M444 242h1M362 246h1M385 221h1M396 259h1M440 209h1M347 228h1M413 258h1M431 222h1M426 249h1M388 234h1M355 224h1M368 255h1M384 238h1M432 249h1M426 258h1M369 249h1M369 248h1M438 216h1M378 233h1M351 235h1M397 248h1M431 206h1M382 236h1M391 242h1M432 246h1M391 240h1M372 226h1M371 242h1M383 231h1M352 220h1M418 242h1M437 271h1M358 267h1M439 202h1M409 273h1M370 217h1M360 229h1M413 228h1M403 258h1M358 228h1M428 248h1M367 232h1M437 225h1M376 232h1M398 238h1M373 231h1M408 270h1M427 259h1M360 253h1M397 272h1M382 240h1M397 231h1M398 230h1M350 200h1M413 233h1M393 245h1M427 215h1M398 244h1M370 242h1" stroke="#8d99a8" stroke-opacity="0.5" stroke-width="1" transform="translate(0 0.5)"/>
<path d="M346.3 205.4 348.2 207.4 350 209.2 351.9 211 353.8 212.7 355.7 214.3 357.5 215.9 359.4 217.3 361.3 218.6 363.2 219.9 365 221 366.9 222.1 368.8 223.1 370.7 223.9 372.5 224.7 374.4 225.4 376.3 226 378.2 226.5 380 227 381.9 227.3 383.8 227.6 385.7 227.7 387.5 227.8 389.4 227.8 391.3 227.7 393.1 227.6 395 227.4 396.9 227.1 398.8 226.7 400.6 226.2 402.5 225.7 404.4 225.1 406.3 224.5 408.1 223.8 410 223.1 411.9 222.3 413.8 221.4 415.6 220.5 417.5 219.6 419.4 218.6 421.3 217.6 423.1 216.6 425 215.5 426.9 214.4 428.8 213.4 430.6 212.3 432.5 211.1 434.4 210 436.2 208.9 438.1 207.8 440 206.8 441.9 205.7 443.7 204.7 445.6 203.7 447.5 202.7 449.4 201.8" stroke="#d8604a" stroke-opacity="0.2" stroke-width="2.6" fill="none"/>
<path d="M346.3 248.4 348.2 249.1 350 249.7 351.9 250.3 353.8 250.8 355.7 251.3 357.5 251.8 359.4 252.2 361.3 252.6 363.2 253 365 253.4 366.9 253.7 368.8 253.9 370.7 254.2 372.5 254.4 374.4 254.6 376.3 254.8 378.2 255 380 255.1 381.9 255.2 383.8 255.3 385.7 255.3 387.5 255.4 389.4 255.4 391.3 255.4 393.1 255.3 395 255.3 396.9 255.2 398.8 255.1 400.6 255 402.5 254.9 404.4 254.7 406.3 254.5 408.1 254.3 410 254.1 411.9 253.9 413.8 253.6 415.6 253.3 417.5 253 419.4 252.6 421.3 252.3 423.1 251.9 425 251.4 426.9 251 428.8 250.5 430.6 250 432.5 249.4 434.4 248.9 436.2 248.2 438.1 247.6 440 246.9 441.9 246.2 443.7 245.4 445.6 244.6 447.5 243.7 449.4 242.8" stroke="#d8604a" stroke-opacity="0.2" stroke-width="2.6" fill="none"/>
<path d="M346.3 208.5 348.2 210.3 350 212.1 351.9 213.8 353.8 215.4 355.7 216.9 357.5 218.4 359.4 219.7 361.3 221 363.2 222.2 365 223.3 366.9 224.3 368.8 225.2 370.7 226 372.5 226.8 374.4 227.4 376.3 228 378.2 228.5 380 228.9 381.9 229.2 383.8 229.4 385.7 229.6 387.5 229.6 389.4 229.6 391.3 229.6 393.1 229.4 395 229.2 396.9 228.9 398.8 228.5 400.6 228.1 402.5 227.6 404.4 227 406.3 226.4 408.1 225.7 410 225 411.9 224.2 413.8 223.4 415.6 222.6 417.5 221.7 419.4 220.7 421.3 219.8 423.1 218.8 425 217.8 426.9 216.7 428.8 215.7 430.6 214.6 432.5 213.6 434.4 212.5 436.2 211.4 438.1 210.4 440 209.4 441.9 208.4 443.7 207.4 445.6 206.4 447.5 205.5 449.4 204.7" stroke="#b05040" stroke-opacity="0.14" stroke-width="2.4" fill="none"/>
<path d="M346.3 246.1 348.2 246.8 350 247.5 351.9 248.1 353.8 248.7 355.7 249.3 357.5 249.8 359.4 250.3 361.3 250.7 363.2 251.2 365 251.5 366.9 251.9 368.8 252.2 370.7 252.5 372.5 252.7 374.4 253 376.3 253.1 378.2 253.3 380 253.5 381.9 253.6 383.8 253.6 385.7 253.7 387.5 253.7 389.4 253.7 391.3 253.7 393.1 253.7 395 253.6 396.9 253.5 398.8 253.4 400.6 253.2 402.5 253.1 404.4 252.9 406.3 252.7 408.1 252.4 410 252.2 411.9 251.9 413.8 251.6 415.6 251.2 417.5 250.9 419.4 250.5 421.3 250.1 423.1 249.6 425 249.2 426.9 248.7 428.8 248.2 430.6 247.6 432.5 247 434.4 246.4 436.2 245.8 438.1 245.2 440 244.5 441.9 243.7 443.7 243 445.6 242.2 447.5 241.4 449.4 240.5" stroke="#b05040" stroke-opacity="0.14" stroke-width="2.4" fill="none"/>
<path d="M346.3 213.2 348.2 214.9 350 216.5 351.9 218.1 353.8 219.5 355.7 220.9 357.5 222.2 359.4 223.5 361.3 224.6 363.2 225.7 365 226.7 366.9 227.6 368.8 228.5 370.7 229.2 372.5 229.9 374.4 230.5 376.3 231 378.2 231.4 380 231.8 381.9 232.1 383.8 232.3 385.7 232.4 387.5 232.5 389.4 232.4 391.3 232.4 393.1 232.2 395 232 396.9 231.7 398.8 231.3 400.6 230.9 402.5 230.4 404.4 229.9 406.3 229.3 408.1 228.7 410 228 411.9 227.3 413.8 226.5 415.6 225.7 417.5 224.8 419.4 224 421.3 223.1 423.1 222.1 425 221.2 426.9 220.2 428.8 219.2 430.6 218.3 432.5 217.3 434.4 216.3 436.2 215.3 438.1 214.3 440 213.4 441.9 212.5 443.7 211.6 445.6 210.7 447.5 209.9 449.4 209.1" stroke="#e0a060" stroke-opacity="0.16" stroke-width="2.6" fill="none"/>
<path d="M346.3 242.5 348.2 243.3 350 244.1 351.9 244.8 353.8 245.5 355.7 246.1 357.5 246.7 359.4 247.3 361.3 247.8 363.2 248.3 365 248.7 366.9 249.1 368.8 249.5 370.7 249.8 372.5 250.1 374.4 250.4 376.3 250.6 378.2 250.8 380 250.9 381.9 251.1 383.8 251.1 385.7 251.2 387.5 251.2 389.4 251.2 391.3 251.2 393.1 251.1 395 251 396.9 250.9 398.8 250.7 400.6 250.5 402.5 250.3 404.4 250.1 406.3 249.8 408.1 249.5 410 249.2 411.9 248.8 413.8 248.4 415.6 248 417.5 247.6 419.4 247.2 421.3 246.7 423.1 246.2 425 245.7 426.9 245.1 428.8 244.6 430.6 244 432.5 243.4 434.4 242.7 436.2 242.1 438.1 241.4 440 240.7 441.9 240 443.7 239.3 445.6 238.5 447.5 237.8 449.4 237" stroke="#e0a060" stroke-opacity="0.16" stroke-width="2.6" fill="none"/>
<path d="M346.3 221.2 348.2 222.6 350 223.9 351.9 225.2 353.8 226.5 355.7 227.6 357.5 228.7 359.4 229.8 361.3 230.7 363.2 231.6 365 232.5 366.9 233.2 368.8 233.9 370.7 234.6 372.5 235.1 374.4 235.6 376.3 236 378.2 236.4 380 236.7 381.9 236.9 383.8 237 385.7 237.1 387.5 237.2 389.4 237.1 391.3 237 393.1 236.9 395 236.6 396.9 236.4 398.8 236 400.6 235.7 402.5 235.2 404.4 234.7 406.3 234.2 408.1 233.6 410 233 411.9 232.4 413.8 231.7 415.6 230.9 417.5 230.2 419.4 229.4 421.3 228.6 423.1 227.8 425 226.9 426.9 226.1 428.8 225.2 430.6 224.3 432.5 223.5 434.4 222.6 436.2 221.8 438.1 220.9 440 220.1 441.9 219.3 443.7 218.5 445.6 217.8 447.5 217.1 449.4 216.4" stroke="#4a7090" stroke-opacity="0.14" stroke-width="2.4" fill="none"/>
<path d="M346.3 236.6 348.2 237.5 350 238.4 351.9 239.3 353.8 240.1 355.7 240.9 357.5 241.6 359.4 242.3 361.3 242.9 363.2 243.5 365 244.1 366.9 244.6 368.8 245 370.7 245.4 372.5 245.8 374.4 246.1 376.3 246.3 378.2 246.6 380 246.8 381.9 246.9 383.8 247 385.7 247 387.5 247 389.4 247 391.3 246.9 393.1 246.8 395 246.7 396.9 246.5 398.8 246.2 400.6 246 402.5 245.7 404.4 245.3 406.3 245 408.1 244.6 410 244.1 411.9 243.7 413.8 243.2 415.6 242.7 417.5 242.2 419.4 241.6 421.3 241 423.1 240.4 425 239.8 426.9 239.2 428.8 238.5 430.6 237.9 432.5 237.2 434.4 236.5 436.2 235.8 438.1 235.2 440 234.5 441.9 233.8 443.7 233.1 445.6 232.4 447.5 231.8 449.4 231.1" stroke="#4a7090" stroke-opacity="0.14" stroke-width="2.4" fill="none"/>
<path d="M346.3 205.4 348.2 207.4 350 209.2 351.9 211 353.8 212.7 355.7 214.3 357.5 215.9 359.4 217.3 361.3 218.6 363.2 219.9 365 221 366.9 222.1 368.8 223.1 370.7 223.9 372.5 224.7 374.4 225.4 376.3 226 378.2 226.5 380 227 381.9 227.3 383.8 227.6 385.7 227.7 387.5 227.8 389.4 227.8 391.3 227.7 393.1 227.6 395 227.4 396.9 227.1 398.8 226.7 400.6 226.2 402.5 225.7 404.4 225.1 406.3 224.5 408.1 223.8 410 223.1 411.9 222.3 413.8 221.4 415.6 220.5 417.5 219.6 419.4 218.6 421.3 217.6 423.1 216.6 425 215.5 426.9 214.4 428.8 213.4 430.6 212.3 432.5 211.1 434.4 210 436.2 208.9 438.1 207.8 440 206.8 441.9 205.7 443.7 204.7 445.6 203.7 447.5 202.7 449.4 201.8" stroke="#bd3629" stroke-width="1.1" fill="none"/>
<path d="M346.3 248.4 348.2 249.1 350 249.7 351.9 250.3 353.8 250.8 355.7 251.3 357.5 251.8 359.4 252.2 361.3 252.6 363.2 253 365 253.4 366.9 253.7 368.8 253.9 370.7 254.2 372.5 254.4 374.4 254.6 376.3 254.8 378.2 255 380 255.1 381.9 255.2 383.8 255.3 385.7 255.3 387.5 255.4 389.4 255.4 391.3 255.4 393.1 255.3 395 255.3 396.9 255.2 398.8 255.1 400.6 255 402.5 254.9 404.4 254.7 406.3 254.5 408.1 254.3 410 254.1 411.9 253.9 413.8 253.6 415.6 253.3 417.5 253 419.4 252.6 421.3 252.3 423.1 251.9 425 251.4 426.9 251 428.8 250.5 430.6 250 432.5 249.4 434.4 248.9 436.2 248.2 438.1 247.6 440 246.9 441.9 246.2 443.7 245.4 445.6 244.6 447.5 243.7 449.4 242.8" stroke="#bd3629" stroke-width="1.1" fill="none"/>
<path d="M346.3 208.5 348.2 210.3 350 212.1 351.9 213.8 353.8 215.4 355.7 216.9 357.5 218.4 359.4 219.7 361.3 221 363.2 222.2 365 223.3 366.9 224.3 368.8 225.2 370.7 226 372.5 226.8 374.4 227.4 376.3 228 378.2 228.5 380 228.9 381.9 229.2 383.8 229.4 385.7 229.6 387.5 229.6 389.4 229.6 391.3 229.6 393.1 229.4 395 229.2 396.9 228.9 398.8 228.5 400.6 228.1 402.5 227.6 404.4 227 406.3 226.4 408.1 225.7 410 225 411.9 224.2 413.8 223.4 415.6 222.6 417.5 221.7 419.4 220.7 421.3 219.8 423.1 218.8 425 217.8 426.9 216.7 428.8 215.7 430.6 214.6 432.5 213.6 434.4 212.5 436.2 211.4 438.1 210.4 440 209.4 441.9 208.4 443.7 207.4 445.6 206.4 447.5 205.5 449.4 204.7" stroke="#8c2a22" stroke-width="1.0" fill="none"/>
<path d="M346.3 246.1 348.2 246.8 350 247.5 351.9 248.1 353.8 248.7 355.7 249.3 357.5 249.8 359.4 250.3 361.3 250.7 363.2 251.2 365 251.5 366.9 251.9 368.8 252.2 370.7 252.5 372.5 252.7 374.4 253 376.3 253.1 378.2 253.3 380 253.5 381.9 253.6 383.8 253.6 385.7 253.7 387.5 253.7 389.4 253.7 391.3 253.7 393.1 253.7 395 253.6 396.9 253.5 398.8 253.4 400.6 253.2 402.5 253.1 404.4 252.9 406.3 252.7 408.1 252.4 410 252.2 411.9 251.9 413.8 251.6 415.6 251.2 417.5 250.9 419.4 250.5 421.3 250.1 423.1 249.6 425 249.2 426.9 248.7 428.8 248.2 430.6 247.6 432.5 247 434.4 246.4 436.2 245.8 438.1 245.2 440 244.5 441.9 243.7 443.7 243 445.6 242.2 447.5 241.4 449.4 240.5" stroke="#8c2a22" stroke-width="1.0" fill="none"/>
<path d="M346.3 213.2 348.2 214.9 350 216.5 351.9 218.1 353.8 219.5 355.7 220.9 357.5 222.2 359.4 223.5 361.3 224.6 363.2 225.7 365 226.7 366.9 227.6 368.8 228.5 370.7 229.2 372.5 229.9 374.4 230.5 376.3 231 378.2 231.4 380 231.8 381.9 232.1 383.8 232.3 385.7 232.4 387.5 232.5 389.4 232.4 391.3 232.4 393.1 232.2 395 232 396.9 231.7 398.8 231.3 400.6 230.9 402.5 230.4 404.4 229.9 406.3 229.3 408.1 228.7 410 228 411.9 227.3 413.8 226.5 415.6 225.7 417.5 224.8 419.4 224 421.3 223.1 423.1 222.1 425 221.2 426.9 220.2 428.8 219.2 430.6 218.3 432.5 217.3 434.4 216.3 436.2 215.3 438.1 214.3 440 213.4 441.9 212.5 443.7 211.6 445.6 210.7 447.5 209.9 449.4 209.1" stroke="#dc9150" stroke-width="0.95" fill="none"/>
<path d="M346.3 242.5 348.2 243.3 350 244.1 351.9 244.8 353.8 245.5 355.7 246.1 357.5 246.7 359.4 247.3 361.3 247.8 363.2 248.3 365 248.7 366.9 249.1 368.8 249.5 370.7 249.8 372.5 250.1 374.4 250.4 376.3 250.6 378.2 250.8 380 250.9 381.9 251.1 383.8 251.1 385.7 251.2 387.5 251.2 389.4 251.2 391.3 251.2 393.1 251.1 395 251 396.9 250.9 398.8 250.7 400.6 250.5 402.5 250.3 404.4 250.1 406.3 249.8 408.1 249.5 410 249.2 411.9 248.8 413.8 248.4 415.6 248 417.5 247.6 419.4 247.2 421.3 246.7 423.1 246.2 425 245.7 426.9 245.1 428.8 244.6 430.6 244 432.5 243.4 434.4 242.7 436.2 242.1 438.1 241.4 440 240.7 441.9 240 443.7 239.3 445.6 238.5 447.5 237.8 449.4 237" stroke="#dc9150" stroke-width="0.95" fill="none"/>
<path d="M346.3 221.2 348.2 222.6 350 223.9 351.9 225.2 353.8 226.5 355.7 227.6 357.5 228.7 359.4 229.8 361.3 230.7 363.2 231.6 365 232.5 366.9 233.2 368.8 233.9 370.7 234.6 372.5 235.1 374.4 235.6 376.3 236 378.2 236.4 380 236.7 381.9 236.9 383.8 237 385.7 237.1 387.5 237.2 389.4 237.1 391.3 237 393.1 236.9 395 236.6 396.9 236.4 398.8 236 400.6 235.7 402.5 235.2 404.4 234.7 406.3 234.2 408.1 233.6 410 233 411.9 232.4 413.8 231.7 415.6 230.9 417.5 230.2 419.4 229.4 421.3 228.6 423.1 227.8 425 226.9 426.9 226.1 428.8 225.2 430.6 224.3 432.5 223.5 434.4 222.6 436.2 221.8 438.1 220.9 440 220.1 441.9 219.3 443.7 218.5 445.6 217.8 447.5 217.1 449.4 216.4" stroke="#3a6486" stroke-width="0.9" fill="none"/>
<path d="M346.3 236.6 348.2 237.5 350 238.4 351.9 239.3 353.8 240.1 355.7 240.9 357.5 241.6 359.4 242.3 361.3 242.9 363.2 243.5 365 244.1 366.9 244.6 368.8 245 370.7 245.4 372.5 245.8 374.4 246.1 376.3 246.3 378.2 246.6 380 246.8 381.9 246.9 383.8 247 385.7 247 387.5 247 389.4 247 391.3 246.9 393.1 246.8 395 246.7 396.9 246.5 398.8 246.2 400.6 246 402.5 245.7 404.4 245.3 406.3 245 408.1 244.6 410 244.1 411.9 243.7 413.8 243.2 415.6 242.7 417.5 242.2 419.4 241.6 421.3 241 423.1 240.4 425 239.8 426.9 239.2 428.8 238.5 430.6 237.9 432.5 237.2 434.4 236.5 436.2 235.8 438.1 235.2 440 234.5 441.9 233.8 443.7 233.1 445.6 232.4 447.5 231.8 449.4 231.1" stroke="#3a6486" stroke-width="0.9" fill="none"/>
<path d="M346.3 230 348.2 231.1 350 232.1 351.9 233.2 353.8 234.1 355.7 235 357.5 235.9 359.4 236.7 361.3 237.5 363.2 238.2 365 238.9 366.9 239.5 368.8 240 370.7 240.5 372.5 240.9 374.4 241.3 376.3 241.6 378.2 241.9 380 242.1 381.9 242.2 383.8 242.3 385.7 242.4 387.5 242.4 389.4 242.3 391.3 242.2 393.1 242 395 241.8 396.9 241.6 398.8 241.3 400.6 240.9 402.5 240.5 404.4 240.1 406.3 239.6 408.1 239.1 410 238.6 411.9 238 413.8 237.4 415.6 236.8 417.5 236.1 419.4 235.4 421.3 234.7 423.1 234 425 233.3 426.9 232.6 428.8 231.8 430.6 231.1 432.5 230.4 434.4 229.6 436.2 228.9 438.1 228.2 440 227.5 441.9 226.9 443.7 226.2 445.6 225.6 447.5 225.1 449.4 224.5" stroke="#0d0d0d" stroke-width="1.15" fill="none"/>
<rect x="39" y="31" width="113" height="114" fill="none" stroke="#262626" stroke-width="1.4"/>
<text x="33.2" y="141.7" text-anchor="end" font-size="7.6" fill="#1c1c1c" font-family="Liberation Sans, sans-serif">60</text>
<text x="33.2" y="133.8" text-anchor="end" font-size="7.6" fill="#1c1c1c" font-family="Liberation Sans, sans-serif">70</text>
<text x="33.2" y="125.8" text-anchor="end" font-size="7.6" fill="#1c1c1c" font-family="Liberation Sans, sans-serif">80</text>
<text x="33.2" y="117.9" text-anchor="end" font-size="7.6" fill="#1c1c1c" font-family="Liberation Sans, sans-serif">90</text>
<text x="33.2" y="109.9" text-anchor="end" font-size="7.6" fill="#1c1c1c" font-family="Liberation Sans, sans-serif">100</text>
<text x="33.2" y="102" text-anchor="end" font-size="7.6" fill="#1c1c1c" font-family="Liberation Sans, sans-serif">110</text>
<text x="33.2" y="94" text-anchor="end" font-size="7.6" fill="#1c1c1c" font-family="Liberation Sans, sans-serif">120</text>
<text x="33.2" y="86.1" text-anchor="end" font-size="7.6" fill="#1c1c1c" font-family="Liberation Sans, sans-serif">130</text>
<text x="33.2" y="78.1" text-anchor="end" font-size="7.6" fill="#1c1c1c" font-family="Liberation Sans, sans-serif">140</text>
<text x="33.2" y="70.2" text-anchor="end" font-size="7.6" fill="#1c1c1c" font-family="Liberation Sans, sans-serif">150</text>
<text x="33.2" y="62.2" text-anchor="end" font-size="7.6" fill="#1c1c1c" font-family="Liberation Sans, sans-serif">160</text>
<text x="33.2" y="54.3" text-anchor="end" font-size="7.6" fill="#1c1c1c" font-family="Liberation Sans, sans-serif">170</text>
<text x="33.2" y="46.3" text-anchor="end" font-size="7.6" fill="#1c1c1c" font-family="Liberation Sans, sans-serif">180</text>
<text x="33.2" y="38.4" text-anchor="end" font-size="7.6" fill="#1c1c1c" font-family="Liberation Sans, sans-serif">190</text>
<path d="M36 139.5H39M36 131.6H39M36 123.6H39M36 115.7H39M36 107.7H39M36 99.8H39M36 91.8H39M36 83.9H39M36 75.9H39M36 68H39M36 60H39M36 52.1H39M36 44.1H39M36 36.2H39" stroke="#262626" stroke-width="1"/>
<rect x="188.9" y="31" width="113" height="114" fill="none" stroke="#262626" stroke-width="1.4"/>
<text x="183.2" y="142.4" text-anchor="end" font-size="7.6" fill="#1c1c1c" font-family="Liberation Sans, sans-serif">5</text>
<text x="183.2" y="132.9" text-anchor="end" font-size="7.6" fill="#1c1c1c" font-family="Liberation Sans, sans-serif">10</text>
<text x="183.2" y="123.5" text-anchor="end" font-size="7.6" fill="#1c1c1c" font-family="Liberation Sans, sans-serif">15</text>
<text x="183.2" y="114" text-anchor="end" font-size="7.6" fill="#1c1c1c" font-family="Liberation Sans, sans-serif">20</text>
<text x="183.2" y="104.5" text-anchor="end" font-size="7.6" fill="#1c1c1c" font-family="Liberation Sans, sans-serif">25</text>
<text x="183.2" y="95.1" text-anchor="end" font-size="7.6" fill="#1c1c1c" font-family="Liberation Sans, sans-serif">30</text>
<text x="183.2" y="85.6" text-anchor="end" font-size="7.6" fill="#1c1c1c" font-family="Liberation Sans, sans-serif">35</text>
<text x="183.2" y="76.2" text-anchor="end" font-size="7.6" fill="#1c1c1c" font-family="Liberation Sans, sans-serif">40</text>
<text x="183.2" y="66.7" text-anchor="end" font-size="7.6" fill="#1c1c1c" font-family="Liberation Sans, sans-serif">45</text>
<text x="183.2" y="57.2" text-anchor="end" font-size="7.6" fill="#1c1c1c" font-family="Liberation Sans, sans-serif">50</text>
<text x="183.2" y="47.8" text-anchor="end" font-size="7.6" fill="#1c1c1c" font-family="Liberation Sans, sans-serif">55</text>
<text x="183.2" y="38.3" text-anchor="end" font-size="7.6" fill="#1c1c1c" font-family="Liberation Sans, sans-serif">60</text>
<path d="M185.9 140.2H188.9M185.9 130.7H188.9M185.9 121.3H188.9M185.9 111.8H188.9M185.9 102.3H188.9M185.9 92.9H188.9M185.9 83.4H188.9M185.9 74H188.9M185.9 64.5H188.9M185.9 55H188.9M185.9 45.6H188.9M185.9 36.1H188.9" stroke="#262626" stroke-width="1"/>
<rect x="341.6" y="31" width="112.9" height="114" fill="none" stroke="#262626" stroke-width="1.4"/>
<text x="335.4" y="135.8" text-anchor="end" font-size="7.6" fill="#1c1c1c" font-family="Liberation Sans, sans-serif">10</text>
<text x="335.4" y="103.3" text-anchor="end" font-size="7.6" fill="#1c1c1c" font-family="Liberation Sans, sans-serif">15</text>
<text x="335.4" y="70.7" text-anchor="end" font-size="7.6" fill="#1c1c1c" font-family="Liberation Sans, sans-serif">20</text>
<text x="335.4" y="38.2" text-anchor="end" font-size="7.6" fill="#1c1c1c" font-family="Liberation Sans, sans-serif">25</text>
<path d="M338.6 133.6H341.6M338.6 101.1H341.6M338.6 68.5H341.6M338.6 36H341.6" stroke="#262626" stroke-width="1"/>
<rect x="39" y="167" width="113" height="114" fill="none" stroke="#262626" stroke-width="1.4"/>
<text x="33.2" y="277.7" text-anchor="end" font-size="7.6" fill="#1c1c1c" font-family="Liberation Sans, sans-serif">60</text>
<text x="33.2" y="269.8" text-anchor="end" font-size="7.6" fill="#1c1c1c" font-family="Liberation Sans, sans-serif">70</text>
<text x="33.2" y="261.8" text-anchor="end" font-size="7.6" fill="#1c1c1c" font-family="Liberation Sans, sans-serif">80</text>
<text x="33.2" y="253.9" text-anchor="end" font-size="7.6" fill="#1c1c1c" font-family="Liberation Sans, sans-serif">90</text>
<text x="33.2" y="245.9" text-anchor="end" font-size="7.6" fill="#1c1c1c" font-family="Liberation Sans, sans-serif">100</text>
<text x="33.2" y="238" text-anchor="end" font-size="7.6" fill="#1c1c1c" font-family="Liberation Sans, sans-serif">110</text>
<text x="33.2" y="230" text-anchor="end" font-size="7.6" fill="#1c1c1c" font-family="Liberation Sans, sans-serif">120</text>
<text x="33.2" y="222.1" text-anchor="end" font-size="7.6" fill="#1c1c1c" font-family="Liberation Sans, sans-serif">130</text>
<text x="33.2" y="214.1" text-anchor="end" font-size="7.6" fill="#1c1c1c" font-family="Liberation Sans, sans-serif">140</text>
<text x="33.2" y="206.2" text-anchor="end" font-size="7.6" fill="#1c1c1c" font-family="Liberation Sans, sans-serif">150</text>
<text x="33.2" y="198.2" text-anchor="end" font-size="7.6" fill="#1c1c1c" font-family="Liberation Sans, sans-serif">160</text>
<text x="33.2" y="190.3" text-anchor="end" font-size="7.6" fill="#1c1c1c" font-family="Liberation Sans, sans-serif">170</text>
<text x="33.2" y="182.3" text-anchor="end" font-size="7.6" fill="#1c1c1c" font-family="Liberation Sans, sans-serif">180</text>
<text x="33.2" y="174.4" text-anchor="end" font-size="7.6" fill="#1c1c1c" font-family="Liberation Sans, sans-serif">190</text>
<text x="41.2" y="293.7" text-anchor="middle" font-size="7.5" fill="#1c1c1c" font-family="Liberation Sans, sans-serif">0</text>
<text x="52.3" y="293.7" text-anchor="middle" font-size="7.5" fill="#1c1c1c" font-family="Liberation Sans, sans-serif">2</text>
<text x="63.4" y="293.7" text-anchor="middle" font-size="7.5" fill="#1c1c1c" font-family="Liberation Sans, sans-serif">4</text>
<text x="74.5" y="293.7" text-anchor="middle" font-size="7.5" fill="#1c1c1c" font-family="Liberation Sans, sans-serif">6</text>
<text x="85.6" y="293.7" text-anchor="middle" font-size="7.5" fill="#1c1c1c" font-family="Liberation Sans, sans-serif">8</text>
<text x="96.8" y="293.7" text-anchor="middle" font-size="7.5" fill="#1c1c1c" font-family="Liberation Sans, sans-serif">10</text>
<text x="107.9" y="293.7" text-anchor="middle" font-size="7.5" fill="#1c1c1c" font-family="Liberation Sans, sans-serif">12</text>
<text x="119" y="293.7" text-anchor="middle" font-size="7.5" fill="#1c1c1c" font-family="Liberation Sans, sans-serif">14</text>
<text x="130.1" y="293.7" text-anchor="middle" font-size="7.5" fill="#1c1c1c" font-family="Liberation Sans, sans-serif">16</text>
<text x="141.2" y="293.7" text-anchor="middle" font-size="7.5" fill="#1c1c1c" font-family="Liberation Sans, sans-serif">18</text>
<path d="M36 275.5H39M36 267.6H39M36 259.6H39M36 251.7H39M36 243.7H39M36 235.8H39M36 227.8H39M36 219.9H39M36 211.9H39M36 204H39M36 196H39M36 188.1H39M36 180.1H39M36 172.2H39M41.2 281V284M52.3 281V284M63.4 281V284M74.5 281V284M85.6 281V284M96.8 281V284M107.9 281V284M119 281V284M130.1 281V284M141.2 281V284" stroke="#262626" stroke-width="1"/>
<rect x="188.9" y="167" width="113" height="114" fill="none" stroke="#262626" stroke-width="1.4"/>
<text x="183.2" y="278.4" text-anchor="end" font-size="7.6" fill="#1c1c1c" font-family="Liberation Sans, sans-serif">5</text>
<text x="183.2" y="268.9" text-anchor="end" font-size="7.6" fill="#1c1c1c" font-family="Liberation Sans, sans-serif">10</text>
<text x="183.2" y="259.5" text-anchor="end" font-size="7.6" fill="#1c1c1c" font-family="Liberation Sans, sans-serif">15</text>
<text x="183.2" y="250" text-anchor="end" font-size="7.6" fill="#1c1c1c" font-family="Liberation Sans, sans-serif">20</text>
<text x="183.2" y="240.5" text-anchor="end" font-size="7.6" fill="#1c1c1c" font-family="Liberation Sans, sans-serif">25</text>
<text x="183.2" y="231.1" text-anchor="end" font-size="7.6" fill="#1c1c1c" font-family="Liberation Sans, sans-serif">30</text>
<text x="183.2" y="221.6" text-anchor="end" font-size="7.6" fill="#1c1c1c" font-family="Liberation Sans, sans-serif">35</text>
<text x="183.2" y="212.2" text-anchor="end" font-size="7.6" fill="#1c1c1c" font-family="Liberation Sans, sans-serif">40</text>
<text x="183.2" y="202.7" text-anchor="end" font-size="7.6" fill="#1c1c1c" font-family="Liberation Sans, sans-serif">45</text>
<text x="183.2" y="193.2" text-anchor="end" font-size="7.6" fill="#1c1c1c" font-family="Liberation Sans, sans-serif">50</text>
<text x="183.2" y="183.8" text-anchor="end" font-size="7.6" fill="#1c1c1c" font-family="Liberation Sans, sans-serif">55</text>
<text x="183.2" y="174.3" text-anchor="end" font-size="7.6" fill="#1c1c1c" font-family="Liberation Sans, sans-serif">60</text>
<text x="191.2" y="293.7" text-anchor="middle" font-size="7.5" fill="#1c1c1c" font-family="Liberation Sans, sans-serif">0</text>
<text x="202.3" y="293.7" text-anchor="middle" font-size="7.5" fill="#1c1c1c" font-family="Liberation Sans, sans-serif">2</text>
<text x="213.4" y="293.7" text-anchor="middle" font-size="7.5" fill="#1c1c1c" font-family="Liberation Sans, sans-serif">4</text>
<text x="224.5" y="293.7" text-anchor="middle" font-size="7.5" fill="#1c1c1c" font-family="Liberation Sans, sans-serif">6</text>
<text x="235.6" y="293.7" text-anchor="middle" font-size="7.5" fill="#1c1c1c" font-family="Liberation Sans, sans-serif">8</text>
<text x="246.8" y="293.7" text-anchor="middle" font-size="7.5" fill="#1c1c1c" font-family="Liberation Sans, sans-serif">10</text>
<text x="257.9" y="293.7" text-anchor="middle" font-size="7.5" fill="#1c1c1c" font-family="Liberation Sans, sans-serif">12</text>
<text x="269" y="293.7" text-anchor="middle" font-size="7.5" fill="#1c1c1c" font-family="Liberation Sans, sans-serif">14</text>
<text x="280.1" y="293.7" text-anchor="middle" font-size="7.5" fill="#1c1c1c" font-family="Liberation Sans, sans-serif">16</text>
<text x="291.2" y="293.7" text-anchor="middle" font-size="7.5" fill="#1c1c1c" font-family="Liberation Sans, sans-serif">18</text>
<path d="M185.9 276.2H188.9M185.9 266.7H188.9M185.9 257.3H188.9M185.9 247.8H188.9M185.9 238.3H188.9M185.9 228.9H188.9M185.9 219.4H188.9M185.9 210H188.9M185.9 200.5H188.9M185.9 191H188.9M185.9 181.6H188.9M185.9 172.1H188.9M191.2 281V284M202.3 281V284M213.4 281V284M224.5 281V284M235.6 281V284M246.8 281V284M257.9 281V284M269 281V284M280.1 281V284M291.2 281V284" stroke="#262626" stroke-width="1"/>
<rect x="341.6" y="167" width="112.9" height="114" fill="none" stroke="#262626" stroke-width="1.4"/>
<text x="335.4" y="271.8" text-anchor="end" font-size="7.6" fill="#1c1c1c" font-family="Liberation Sans, sans-serif">10</text>
<text x="335.4" y="239.3" text-anchor="end" font-size="7.6" fill="#1c1c1c" font-family="Liberation Sans, sans-serif">15</text>
<text x="335.4" y="206.7" text-anchor="end" font-size="7.6" fill="#1c1c1c" font-family="Liberation Sans, sans-serif">20</text>
<text x="335.4" y="174.2" text-anchor="end" font-size="7.6" fill="#1c1c1c" font-family="Liberation Sans, sans-serif">25</text>
<text x="343.8" y="293.7" text-anchor="middle" font-size="7.5" fill="#1c1c1c" font-family="Liberation Sans, sans-serif">0</text>
<text x="354.9" y="293.7" text-anchor="middle" font-size="7.5" fill="#1c1c1c" font-family="Liberation Sans, sans-serif">2</text>
<text x="366" y="293.7" text-anchor="middle" font-size="7.5" fill="#1c1c1c" font-family="Liberation Sans, sans-serif">4</text>
<text x="377.1" y="293.7" text-anchor="middle" font-size="7.5" fill="#1c1c1c" font-family="Liberation Sans, sans-serif">6</text>
<text x="388.2" y="293.7" text-anchor="middle" font-size="7.5" fill="#1c1c1c" font-family="Liberation Sans, sans-serif">8</text>
<text x="399.4" y="293.7" text-anchor="middle" font-size="7.5" fill="#1c1c1c" font-family="Liberation Sans, sans-serif">10</text>
<text x="410.5" y="293.7" text-anchor="middle" font-size="7.5" fill="#1c1c1c" font-family="Liberation Sans, sans-serif">12</text>
<text x="421.6" y="293.7" text-anchor="middle" font-size="7.5" fill="#1c1c1c" font-family="Liberation Sans, sans-serif">14</text>
<text x="432.7" y="293.7" text-anchor="middle" font-size="7.5" fill="#1c1c1c" font-family="Liberation Sans, sans-serif">16</text>
<text x="443.8" y="293.7" text-anchor="middle" font-size="7.5" fill="#1c1c1c" font-family="Liberation Sans, sans-serif">18</text>
<path d="M338.6 269.6H341.6M338.6 237.1H341.6M338.6 204.5H341.6M338.6 172H341.6M343.8 281V284M354.9 281V284M366 281V284M377.1 281V284M388.2 281V284M399.4 281V284M410.5 281V284M421.6 281V284M432.7 281V284M443.8 281V284" stroke="#262626" stroke-width="1"/>
<text x="95.5" y="14.6" text-anchor="middle" font-size="9" fill="#1e1e1e" font-family="Liberation Sans, sans-serif">Height</text>
<text x="0" y="0" text-anchor="middle" font-size="8.5" fill="#1a1a1a" font-family="Liberation Sans, sans-serif" transform="translate(95.5 306) scale(0.735 1)">Age (years)</text>
<text x="0" y="0" text-anchor="middle" font-size="8.6" fill="#1a1a1a" font-family="Liberation Sans, sans-serif" transform="translate(13.1 155.3) rotate(-90) scale(0.76 1)">Height (cm)</text>
<text x="245.3" y="14.6" text-anchor="middle" font-size="9" fill="#1e1e1e" font-family="Liberation Sans, sans-serif">Weight</text>
<text x="0" y="0" text-anchor="middle" font-size="8.5" fill="#1a1a1a" font-family="Liberation Sans, sans-serif" transform="translate(245.3 306) scale(0.735 1)">Age (years)</text>
<text x="0" y="0" text-anchor="middle" font-size="8.6" fill="#1a1a1a" font-family="Liberation Sans, sans-serif" transform="translate(169.5 156.8) rotate(-90) scale(0.76 1)">Weight (kg)</text>
<text x="398" y="14.6" text-anchor="middle" font-size="9" fill="#1e1e1e" font-family="Liberation Sans, sans-serif">BMI</text>
<text x="0" y="0" text-anchor="middle" font-size="8.5" fill="#1a1a1a" font-family="Liberation Sans, sans-serif" transform="translate(398 306) scale(0.735 1)">Age (years)</text>
<text x="0" y="0" text-anchor="middle" font-size="8.6" fill="#1a1a1a" font-family="Liberation Sans, sans-serif" transform="translate(320.1 155.7) rotate(-90) scale(0.76 1)">BMI (kg/m<tspan font-size="5" dy="-2.8">2</tspan><tspan dy="2.8">)</tspan></text>
<text x="39.2" y="25.8" font-size="7" fill="#2a2a2a" font-family="Liberation Sans, sans-serif">Females</text>
<text x="39.2" y="161.9" font-size="7" fill="#2a2a2a" font-family="Liberation Sans, sans-serif">Males</text>
<text x="460.6" y="131.3" font-size="7.7" fill="#2a2a2a" font-family="Liberation Sans, sans-serif">Centile</text>
<path d="M460.2 140.6H469.8" stroke="#a8506a" stroke-width="0.9"/>
<text x="473" y="143.3" font-size="7.7" fill="#2a2a2a" font-family="Liberation Sans, sans-serif">97% &amp; 3%</text>
<path d="M460.2 151.9H469.8" stroke="#555555" stroke-width="0.9"/>
<text x="473" y="154.6" font-size="7.7" fill="#2a2a2a" font-family="Liberation Sans, sans-serif">95% &amp; 5%</text>
<path d="M460.2 163.2H469.8" stroke="#e9b27a" stroke-width="0.9"/>
<text x="473" y="165.9" font-size="7.7" fill="#2a2a2a" font-family="Liberation Sans, sans-serif">90% &amp; 10%</text>
<path d="M460.2 174.5H469.8" stroke="#4a6fa0" stroke-width="0.9"/>
<text x="473" y="177.2" font-size="7.7" fill="#2a2a2a" font-family="Liberation Sans, sans-serif">75% &amp; 25%</text>
<path d="M460.2 185.8H469.8" stroke="#777777" stroke-width="1.2"/>
<text x="473" y="188.5" font-size="7.7" fill="#2a2a2a" font-family="Liberation Sans, sans-serif">50%</text>
</svg></div></body></html>
